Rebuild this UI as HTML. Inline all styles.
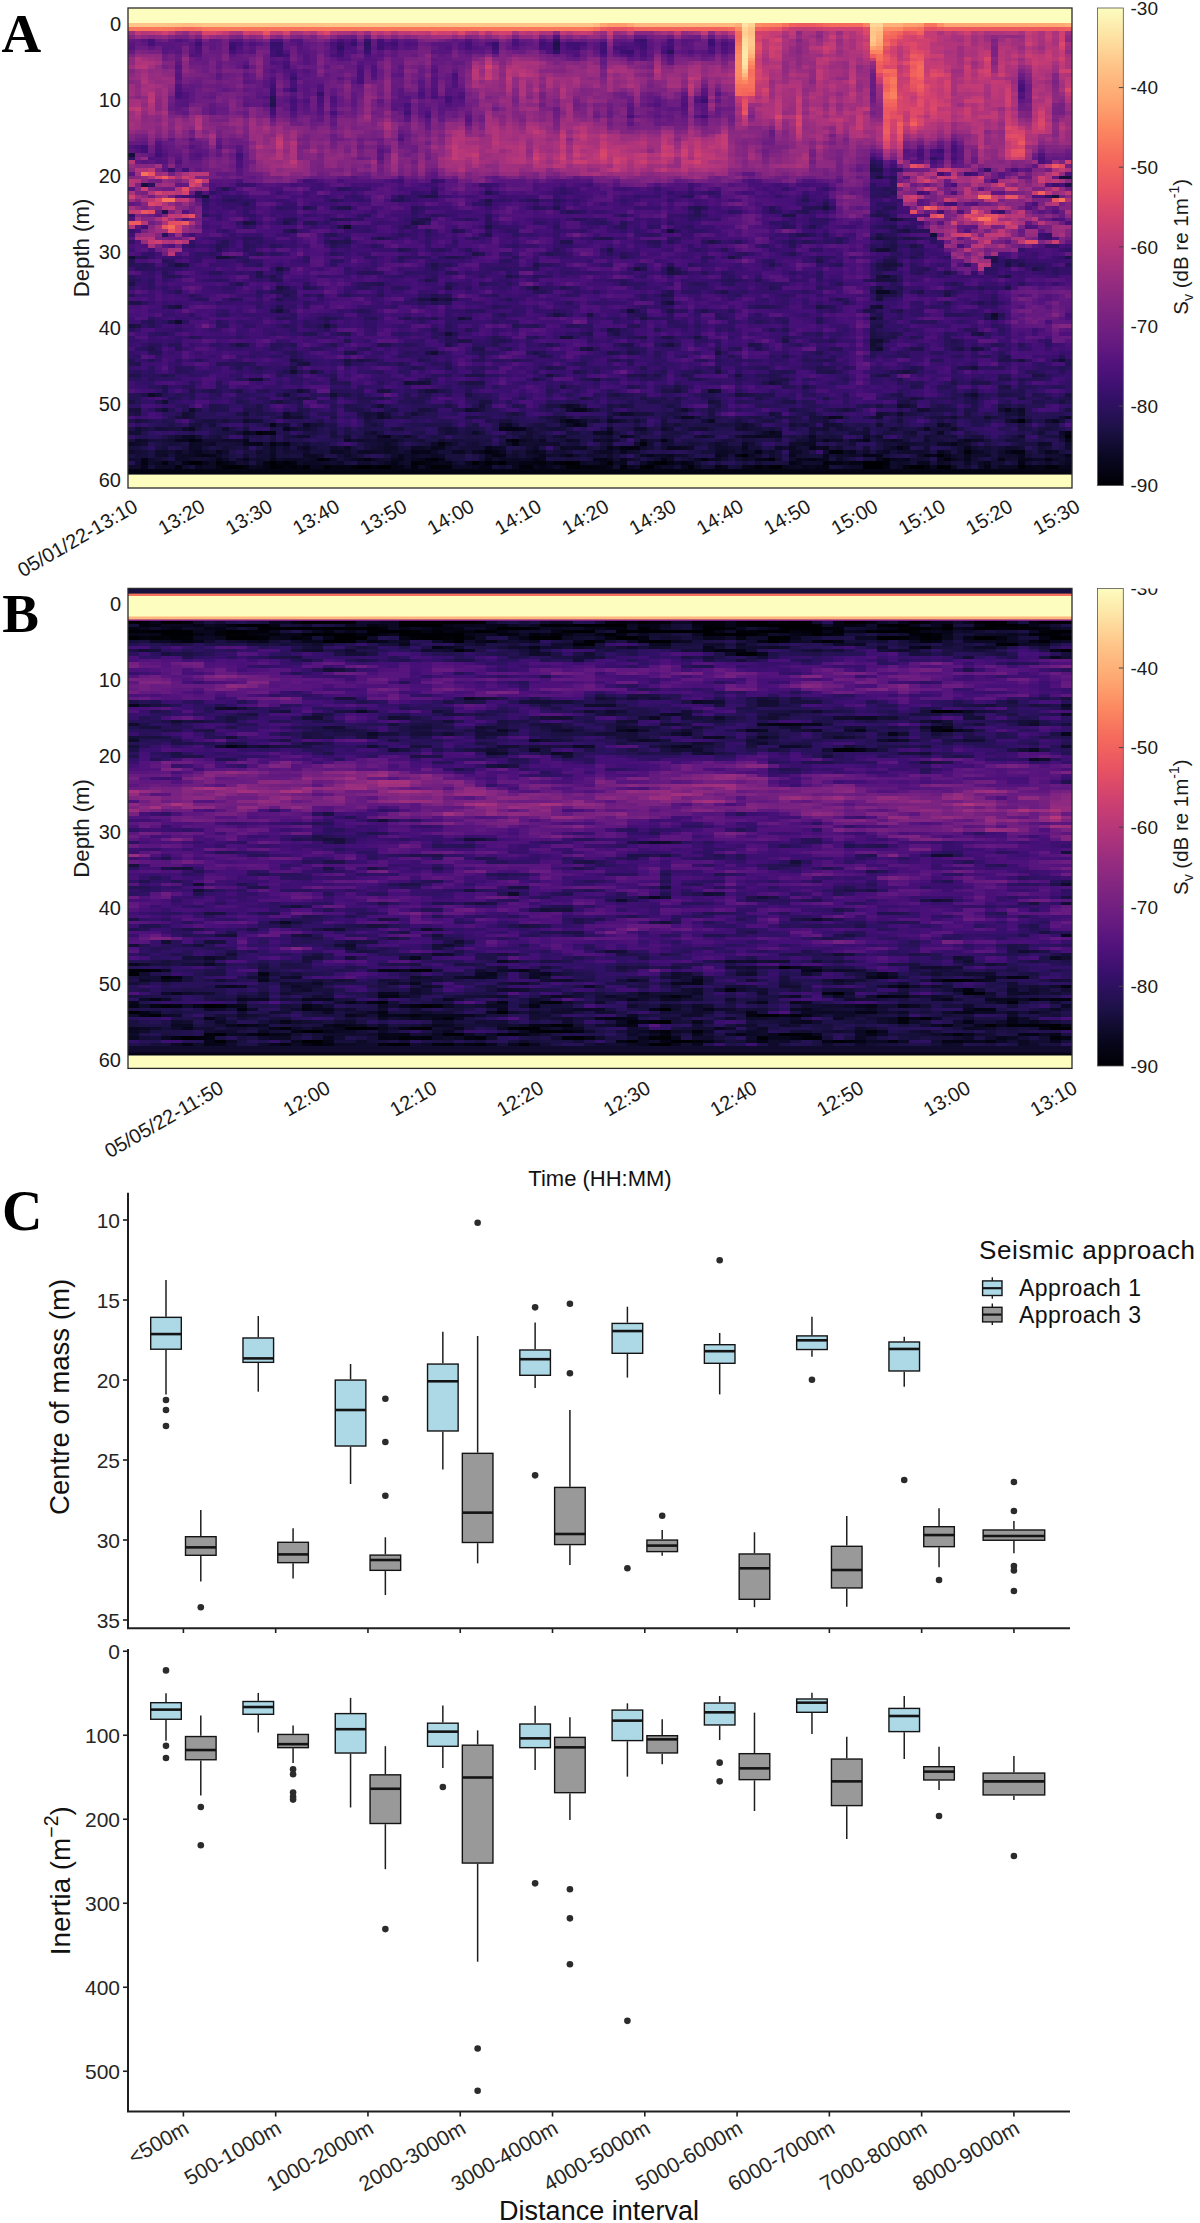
<!DOCTYPE html>
<html><head><meta charset="utf-8"><style>
html,body{margin:0;padding:0;background:#fff;width:1200px;height:2223px;overflow:hidden}
svg{display:block}
text{font-family:"Liberation Sans",sans-serif}
</style></head><body><svg width="1200" height="2223" viewBox="0 0 1200 2223"><g transform="translate(128.00 9.905) scale(6.7429 3.8095)" fill="none" stroke-width="1.02" shape-rendering="crispEdges"><path stroke="#000004" d="M139 112h1M91 117h1M45 118h1M9 119h2M21 119h1M55 119h1M65 119h1M79 119h1M109 119h3M21 120h1M34 120h2M37 120h2M77 120h1M109 120h3M117 120h1M120 120h1"/><path stroke="#010005" d="M15 120h1M26 120h1M96 120h1M116 120h1"/><path stroke="#010106" d="M71 119h1M78 119h1M29 120h1M45 120h1M66 120h1M95 120h1"/><path stroke="#010108" d="M120 117h1M95 118h1M51 119h1M53 119h1M66 119h1M14 120h1M16 120h1M65 120h1M121 120h1M132 120h1"/><path stroke="#020109" d="M57 113h1M28 118h1M23 119h1M42 119h1M64 119h1M22 120h1M24 120h1M59 120h1M76 120h1M93 120h1"/><path stroke="#02020b" d="M19 111h1M105 116h1M112 118h1M43 119h1M103 119h1M33 120h1M46 120h2M68 120h1M83 120h1M136 120h2"/><path stroke="#02020d" d="M132 108h1M104 116h1M124 116h1M44 118h1M121 118h1M13 119h1M112 119h1M36 120h1M58 120h1M73 120h1"/><path stroke="#03030f" d="M9 113h1M76 114h1M74 115h1M53 116h1M29 118h1M85 118h1M5 119h1M54 119h1M61 119h1M63 119h1M7 120h1M23 120h1M42 120h1M67 120h1M69 120h1M115 120h1M118 120h1"/><path stroke="#030312" d="M73 115h1M131 116h2M54 117h1M35 118h1M136 118h1M22 119h1M24 119h1M60 119h1M104 119h1M107 119h1M17 120h1M25 120h1M30 120h2M70 120h1M112 120h1M0 121h101M117 121h12"/><path stroke="#040414" d="M20 111h1M56 113h1M79 113h1M46 114h1M55 117h1M90 117h1M118 117h1M2 118h1M60 118h1M101 118h1M20 119h1M44 119h1M59 119h1M80 119h1M105 119h1M13 120h1M32 120h1M39 120h1M44 120h1M52 120h1M87 120h1M94 120h1M103 120h1M101 121h16M129 121h11"/><path stroke="#050416" d="M57 110h1M21 111h1M139 111h1M21 114h1M57 114h1M75 115h1M114 115h1M93 116h1M11 117h1M109 117h2M46 118h1M70 118h1M79 118h1M2 119h1M8 119h1M14 119h1M58 119h1M77 119h1M82 119h1M98 119h1M108 119h1M132 119h1M20 120h1M40 120h1M53 120h1M61 120h1M133 120h1"/><path stroke="#060518" d="M65 108h1M66 109h1M56 110h1M10 113h1M42 116h1M54 116h1M65 117h1M94 118h1M129 118h1M39 119h1M52 119h1M92 120h1M102 120h1M127 120h1M134 120h2"/><path stroke="#06051a" d="M21 109h1M55 110h1M109 113h1M139 113h1M19 114h1M23 114h1M122 114h1M53 115h1M71 115h1M101 115h1M43 116h2M12 117h1M77 117h1M111 117h1M119 117h1M139 117h1M13 118h1M40 118h1M69 118h1M93 118h1M99 118h1M132 118h1M11 119h1M45 119h1M47 119h1M62 119h1M70 119h1M2 120h1M71 120h1M100 120h1M139 120h1"/><path stroke="#07061c" d="M66 105h1M58 110h1M38 112h1M17 113h1M18 114h1M45 115h1M52 116h1M130 116h1M10 117h1M61 117h1M103 117h1M121 117h1M17 118h1M21 118h1M43 118h1M53 118h1M73 118h1M100 118h1M102 118h1M113 118h1M115 118h1M124 118h1M133 118h1M83 119h1M28 120h1M62 120h1M64 120h1M78 120h1M91 120h1M138 120h1"/><path stroke="#08071e" d="M67 105h1M130 105h1M104 107h1M17 111h1M71 111h1M95 111h1M73 112h1M93 112h1M103 113h1M124 113h1M17 114h1M46 115h1M103 115h1M13 116h1M120 116h1M124 117h1M34 118h1M42 118h1M61 118h1M122 118h1M46 119h1M57 119h1M73 119h1M99 119h1M106 119h1M117 119h1M19 120h1M82 120h1M88 120h1M97 120h1"/><path stroke="#090720" d="M66 108h1M23 110h1M7 113h2M80 115h2M91 115h1M124 115h1M10 116h1M60 116h1M73 116h1M107 116h1M136 116h1M40 117h1M80 117h1M87 117h1M98 117h1M132 117h1M39 118h1M71 118h1M103 118h1M111 118h1M120 118h1M15 119h1M50 119h1M56 119h1M81 119h1M118 119h1M127 119h1M10 120h1M27 120h1M51 120h1M57 120h1M60 120h1M74 120h1M101 120h1M119 120h1"/><path stroke="#0a0822" d="M111 74h2M82 107h1M137 108h1M67 109h1M9 112h1M37 112h1M91 112h1M101 112h1M58 113h1M76 113h1M26 115h1M98 115h1M102 115h1M48 116h2M51 116h1M55 116h1M112 116h1M125 116h1M21 117h1M27 117h1M45 117h1M53 117h1M36 118h1M55 118h1M57 118h1M59 118h1M114 118h1M26 119h2M38 119h1M139 119h1M18 120h1M41 120h1M50 120h1M98 120h1M129 120h3"/><path stroke="#0b0924" d="M83 107h1M105 107h1M139 107h1M64 108h1M86 108h1M131 108h1M120 109h1M9 110h1M118 110h1M69 111h1M120 111h1M94 112h1M61 113h1M9 114h1M22 114h1M47 114h1M100 114h2M21 115h1M38 115h1M42 115h2M54 115h1M64 115h1M67 115h1M72 115h1M82 115h1M115 115h1M30 116h1M35 116h1M38 116h1M59 116h1M61 116h1M71 116h1M88 116h1M98 116h1M106 116h1M8 117h2M79 117h1M92 117h1M27 118h1M56 118h1M80 118h1M84 118h1M86 118h2M91 118h1M4 119h1M12 119h1M28 119h1M72 119h1M120 119h1M126 119h1M5 120h1M11 120h1M43 120h1M84 120h1M108 120h1M114 120h1M122 120h1"/><path stroke="#0c0926" d="M26 109h1M56 109h1M70 111h1M8 112h1M92 112h1M96 112h1M65 113h1M71 113h1M113 113h1M0 114h1M91 114h1M121 114h1M9 115h2M66 115h1M7 116h1M9 116h1M21 116h1M31 116h1M70 116h1M99 116h1M137 116h1M26 117h1M42 117h1M64 117h1M76 117h1M88 117h1M107 117h1M7 118h1M23 118h2M30 118h1M33 118h1M134 118h1M139 118h1M67 119h1M114 119h1M6 120h1M12 120h1M48 120h2M75 120h1M80 120h1M99 120h1"/><path stroke="#0d0a29" d="M3 101h1M65 104h1M132 105h1M73 106h1M71 108h1M65 109h1M71 110h1M18 111h1M96 111h1M138 111h1M74 112h1M95 112h1M1 113h1M32 113h1M39 113h1M69 113h1M101 113h1M108 113h1M125 113h1M10 114h1M12 114h1M38 114h1M45 114h1M120 114h1M135 114h1M32 115h1M39 115h1M55 115h1M60 115h1M65 115h1M96 115h1M113 115h1M34 116h1M36 116h1M45 116h1M87 116h1M91 116h1M126 116h1M5 117h1M7 117h1M13 117h1M32 117h1M46 117h1M60 117h1M78 117h1M127 117h1M8 118h1M14 118h1M25 118h1M58 118h1M105 118h1M135 118h1M137 118h1M6 119h1M31 119h1M40 119h1M69 119h1M76 119h1M124 119h1M4 120h1M63 120h1M79 120h1M107 120h1M126 120h1"/><path stroke="#0e0b2b" d="M128 80h1M7 82h1M86 100h1M9 105h1M132 106h1M37 107h1M91 109h1M8 110h1M79 110h1M122 110h1M51 111h1M94 111h1M64 112h1M109 112h1M34 113h1M59 113h1M66 113h1M104 113h1M126 113h1M56 114h1M99 114h1M115 114h1M123 114h1M136 114h1M139 114h1M44 115h1M87 115h2M130 115h2M4 116h2M39 116h1M92 116h1M95 116h1M115 116h1M117 116h1M121 116h1M39 117h1M41 117h1M44 117h1M62 117h1M105 117h1M117 117h1M126 117h1M130 117h2M138 117h1M3 118h1M12 118h1M19 118h1M22 118h1M26 118h1M54 118h1M92 118h1M98 118h1M3 119h1M19 119h1M25 119h1M41 119h1M48 119h1M68 119h1M113 119h1M138 119h1M106 120h1"/><path stroke="#100b2d" d="M32 57h1M114 104h1M50 105h1M65 105h1M23 106h1M37 106h1M74 106h1M114 106h1M23 107h1M72 108h1M55 109h1M76 110h1M41 112h1M85 112h1M138 112h1M2 113h1M14 113h1M16 113h1M70 113h1M105 113h1M123 113h1M1 114h1M11 114h1M63 114h1M75 114h1M87 114h1M98 114h1M25 115h1M30 115h1M76 115h1M83 115h1M0 116h1M11 116h1M14 116h1M26 116h1M32 116h1M37 116h1M69 116h1M89 116h1M109 116h1M111 116h1M116 116h1M129 116h1M4 117h1M28 117h1M43 117h1M59 117h1M66 117h1M71 117h1M81 117h1M106 117h1M108 117h1M122 117h1M125 117h1M16 118h1M41 118h1M74 118h1M123 118h1M29 119h1M102 119h1M115 119h1M121 119h1M136 119h1M0 120h2M8 120h1M113 120h1"/><path stroke="#110c2f" d="M45 76h1M110 81h1M111 87h1M111 89h1M125 101h1M66 104h1M82 105h1M17 108h1M67 108h1M136 108h1M121 109h1M14 110h1M24 110h1M75 110h1M91 110h1M36 111h1M25 112h2M111 112h1M132 112h1M15 113h1M37 113h2M107 113h1M112 113h1M114 113h1M118 113h1M58 114h1M60 114h3M23 115h1M37 115h1M97 115h1M125 115h1M139 115h1M19 116h1M41 116h1M74 116h1M103 116h1M114 116h1M123 116h1M57 117h1M68 117h1M82 117h1M95 117h1M129 117h1M0 118h1M9 118h1M32 118h1M37 118h1M78 118h1M130 118h1M1 119h1M17 119h1M30 119h1M34 119h2M37 119h1M100 119h2M55 120h1"/><path stroke="#120d31" d="M112 70h1M111 78h1M110 87h1M110 88h1M24 95h1M25 100h1M64 104h1M115 104h1M129 105h1M103 107h1M111 107h1M127 107h1M130 108h1M104 109h1M26 110h1M85 110h1M90 110h1M113 110h1M1 111h1M7 112h1M59 112h1M90 112h1M6 113h1M11 113h1M60 113h1M2 114h1M37 114h1M39 114h1M59 114h1M114 114h1M116 114h1M124 114h1M31 115h1M36 115h1M59 115h1M79 115h1M99 115h1M112 115h1M118 115h1M6 116h1M8 116h1M12 116h1M23 116h1M57 116h1M75 116h1M118 116h1M135 116h1M33 117h1M99 117h1M123 117h1M137 117h1M10 118h1M20 118h1M38 118h1M75 118h1M96 118h1M116 118h2M125 118h1M131 118h1M138 118h1M7 119h1M16 119h1M84 119h1M129 119h1"/><path stroke="#130d34" d="M80 58h1M112 63h1M74 79h1M47 85h1M45 90h1M138 92h1M18 97h2M41 98h1M87 100h1M5 103h1M37 104h1M51 105h1M68 105h1M117 105h2M111 106h1M25 107h1M38 107h1M64 107h1M122 107h1M103 109h1M111 109h1M1 110h1M103 110h1M59 111h1M71 112h1M12 113h2M33 113h1M35 113h1M46 113h1M72 113h1M80 113h1M102 113h1M48 114h1M71 114h1M77 114h1M92 114h1M70 115h1M89 115h1M105 115h1M123 115h1M127 115h1M64 116h1M94 116h1M127 116h1M17 117h1M20 117h1M56 117h1M63 117h1M69 117h1M93 117h1M136 117h1M1 118h1M11 118h1M18 118h1M52 118h1M88 118h1M90 118h1M93 119h1M133 119h1M72 120h1M86 120h1M124 120h1M128 120h1"/><path stroke="#140e36" d="M113 55h1M111 63h1M0 65h1M128 81h1M43 98h1M95 98h1M4 101h1M30 101h1M5 105h1M131 105h1M8 106h1M8 107h1M24 107h1M138 107h1M69 108h1M75 108h1M85 108h1M23 109h1M27 109h1M47 110h1M59 110h1M63 110h1M84 110h1M101 110h1M0 111h1M16 111h1M47 111h1M109 111h1M116 111h1M10 112h1M58 112h1M63 112h1M84 112h1M118 112h1M36 113h1M40 113h1M43 113h1M77 113h2M99 113h1M16 114h1M20 114h1M26 114h1M51 114h1M79 114h2M88 114h1M112 114h1M14 115h1M20 115h1M52 115h1M77 115h1M90 115h1M109 115h1M129 115h1M132 115h1M135 115h1M1 116h1M40 116h1M50 116h1M63 116h1M72 116h1M90 116h1M100 116h1M14 117h1M19 117h1M31 117h1M100 117h1M104 117h1M4 118h1M47 118h1M72 118h1M83 118h1M128 119h1M135 119h1M56 120h1M81 120h1M85 120h1M90 120h1"/><path stroke="#150e38" d="M0 38h1M11 49h1M119 59h1M80 77h1M110 78h1M49 81h1M29 83h1M45 100h1M23 101h1M52 104h1M17 106h1M35 106h1M42 106h1M72 106h1M35 107h1M18 108h1M73 108h1M133 108h1M81 109h1M90 109h1M92 109h1M98 109h1M105 109h1M4 110h1M62 110h1M64 110h1M80 110h1M83 110h1M92 110h1M102 110h1M105 110h1M109 110h1M35 111h1M135 111h1M32 112h1M61 112h1M70 112h1M86 112h1M122 112h1M3 113h1M5 113h1M48 113h1M64 113h1M100 113h1M111 113h1M130 113h1M138 113h1M24 114h1M36 114h1M66 114h1M83 114h1M86 114h1M107 114h1M117 114h2M17 115h1M27 115h1M40 115h1M47 115h1M49 115h3M92 115h2M100 115h1M2 116h1M20 116h1M24 116h2M47 116h1M85 116h1M1 117h1M52 117h1M70 117h1M133 117h1M106 118h1M118 118h1M128 118h1M36 119h1M49 119h1M116 119h1M125 119h1M137 119h1M54 120h1M105 120h1"/><path stroke="#160f3b" d="M138 44h2M137 49h1M111 60h1M13 65h2M80 68h1M113 74h1M47 76h1M111 76h1M22 79h1M64 86h1M110 89h1M125 94h1M42 98h1M44 100h1M124 101h1M86 103h1M95 106h1M112 106h1M130 106h2M71 107h1M81 107h1M84 107h1M132 107h1M19 108h1M138 108h1M12 109h1M22 109h1M28 109h1M57 109h1M64 109h1M100 109h1M5 110h1M25 110h1M48 110h1M93 110h1M95 110h1M48 111h1M65 111h1M93 111h1M101 111h1M107 111h2M13 112h1M17 112h1M24 112h1M40 112h1M104 112h1M110 112h1M49 113h1M88 113h1M96 113h1M131 113h1M6 114h1M15 114h1M35 114h1M50 114h1M65 114h1M113 114h1M0 115h1M5 115h1M11 115h1M22 115h1M86 115h1M126 115h1M28 116h1M33 116h1M46 116h1M58 116h1M86 116h1M96 116h1M108 116h1M113 116h1M2 117h1M6 117h1M58 117h1M67 117h1M96 117h1M101 117h1M112 117h1M31 118h1M77 118h1M131 119h1M3 120h1M9 120h1M89 120h1"/><path stroke="#180f3d" d="M2 46h1M7 67h1M112 67h2M75 68h1M111 70h1M60 73h1M7 78h1M126 85h1M65 86h1M80 88h1M68 89h1M125 89h1M87 90h1M24 92h1M26 93h1M27 95h1M115 95h1M62 96h1M90 96h1M44 98h1M81 100h1M90 101h1M116 102h1M1 105h1M43 105h1M106 105h1M36 106h1M38 106h1M75 106h2M62 107h2M101 107h2M120 107h2M1 108h1M14 108h1M56 108h1M63 108h1M103 108h1M114 108h1M10 109h1M36 109h1M61 109h1M79 109h1M88 109h1M27 110h1M40 110h1M46 110h1M61 110h1M106 110h1M117 110h1M121 110h1M136 110h1M30 111h1M52 111h1M60 111h1M66 111h1M72 111h1M76 111h1M115 111h1M6 112h1M35 112h1M39 112h1M55 112h1M79 112h1M100 112h1M119 112h1M125 112h2M4 113h1M42 113h1M51 113h1M89 113h1M91 113h1M115 113h1M120 113h1M127 113h1M7 114h1M13 114h2M70 114h1M84 114h1M8 115h1M15 115h1M35 115h1M41 115h1M68 115h1M104 115h1M122 115h1M27 116h1M65 116h1M68 116h1M133 116h1M22 117h2M34 117h1M49 117h1M72 117h1M89 117h1M102 117h1M5 118h1M48 118h1M65 118h1M82 118h1M91 119h1M97 119h1M119 119h1M122 119h1M104 120h1"/><path stroke="#19103f" d="M103 52h1M17 56h1M111 71h3M111 73h1M111 75h1M0 83h1M132 92h1M87 95h1M69 97h1M37 100h1M139 101h1M22 103h1M73 104h1M116 104h1M0 105h1M44 105h1M52 105h1M9 106h1M57 106h1M77 106h1M9 107h1M96 107h1M110 107h1M128 107h1M11 108h2M55 108h1M68 108h1M79 108h1M90 108h1M9 109h1M60 109h1M2 110h1M6 110h1M17 110h1M39 110h1M114 110h1M119 110h2M50 111h1M57 111h1M81 111h1M112 111h1M12 112h1M21 112h1M30 112h1M36 112h1M42 112h1M75 112h1M98 112h1M102 112h2M105 112h1M121 112h1M131 112h1M136 112h2M0 113h1M21 113h1M47 113h1M50 113h1M53 113h1M63 113h1M92 113h1M119 113h1M132 113h1M5 114h1M44 114h1M55 114h1M119 114h1M132 114h3M1 115h1M33 115h1M128 115h1M136 115h1M22 116h1M29 116h1M128 116h1M138 116h1M25 117h1M47 117h2M83 117h1M128 117h1M15 118h1M49 118h1M68 118h1M126 118h1M32 119h1M87 119h1M94 119h2M123 119h1M123 120h1"/><path stroke="#1a1042" d="M111 44h1M42 56h1M115 58h1M130 67h1M22 68h1M112 68h1M80 69h1M22 73h1M43 76h2M63 80h1M68 80h1M111 81h1M71 84h1M84 86h1M110 86h1M16 88h1M126 89h1M44 90h1M32 92h1M34 92h1M25 93h1M112 96h1M96 98h1M64 99h1M38 100h1M50 101h1M72 101h1M91 101h1M26 102h1M67 102h1M125 102h1M132 102h1M52 103h2M87 103h1M138 103h1M63 104h1M71 104h1M80 104h1M111 104h1M129 104h1M39 105h1M69 105h1M81 105h1M98 105h1M24 106h2M101 106h1M115 106h1M7 107h1M36 107h1M98 107h1M119 107h1M130 107h1M35 108h1M95 108h1M101 108h1M80 109h1M87 109h1M89 109h1M99 109h1M132 109h1M7 110h1M50 110h1M86 110h1M94 110h1M132 110h1M135 110h1M37 111h1M80 111h1M103 111h1M119 111h1M23 112h1M45 112h1M60 112h1M69 112h1M80 112h1M115 112h2M41 113h1M106 113h1M25 114h1M28 114h1M52 114h1M64 114h1M82 114h1M111 114h1M4 115h1M13 115h1M16 115h1M24 115h1M28 115h2M48 115h1M3 116h1M17 116h1M56 116h1M62 116h1M0 117h1M15 117h1M24 117h1M38 117h1M75 117h1M134 117h2M63 118h2M66 118h1M89 118h1M104 118h1M109 118h2M96 119h1M134 119h1"/><path stroke="#1c1044" d="M110 42h1M114 55h1M112 60h1M89 65h1M56 70h1M121 75h1M46 76h1M102 78h1M111 83h1M110 85h1M97 87h1M111 88h1M67 89h1M123 89h1M76 96h1M134 96h2M60 97h1M97 97h1M50 98h2M130 99h1M26 100h1M129 101h1M25 102h1M0 103h1M98 103h1M115 103h1M62 104h1M67 104h1M87 104h1M4 105h1M83 105h1M86 105h1M119 105h2M139 105h1M1 106h1M34 106h1M80 106h1M86 106h1M113 106h1M116 106h1M124 106h1M41 107h1M50 107h2M65 107h1M93 107h1M94 108h1M102 108h1M20 109h1M137 109h1M10 110h1M21 110h1M60 110h1M96 110h1M107 110h1M137 110h1M14 111h2M27 111h1M46 111h1M75 111h1M113 111h1M50 112h1M62 112h1M65 112h1M120 112h1M23 113h1M52 113h1M83 113h1M110 113h1M121 113h2M8 114h1M43 114h1M49 114h1M85 114h1M105 114h2M58 115h1M63 115h1M69 115h1M111 115h1M18 116h1M84 116h1M110 116h1M122 116h1M3 117h1M18 117h1M51 117h1M94 117h1M116 117h1M107 118h1M18 119h1M75 119h1"/><path stroke="#1d1147" d="M63 9h1M139 46h1M44 49h1M53 50h1M98 54h1M53 57h1M24 58h1M86 61h1M113 62h1M116 62h1M113 63h1M112 66h2M128 66h1M111 67h1M113 70h1M44 71h1M47 73h1M79 75h1M0 77h1M80 79h1M1 83h1M125 85h1M71 90h1M74 90h1M24 94h1M114 95h1M50 96h3M125 98h1M81 99h1M129 99h1M16 100h1M43 100h1M79 100h1M2 101h1M32 101h1M114 101h1M76 102h1M93 102h1M21 103h1M77 103h2M36 104h1M47 104h1M74 104h1M120 104h1M132 104h1M33 105h1M105 105h1M56 106h1M71 106h1M81 106h1M22 107h1M30 107h1M40 107h1M61 107h1M86 107h1M114 107h1M124 107h1M2 108h1M10 108h1M135 108h1M37 109h1M51 109h1M75 109h1M82 109h1M84 109h1M86 109h1M101 109h1M136 109h1M3 110h1M13 110h1M15 110h1M51 110h1M65 110h1M74 110h1M77 110h1M82 110h1M116 110h1M123 110h1M23 111h1M32 111h1M58 111h1M61 111h1M79 111h1M82 111h1M31 112h1M51 112h1M53 112h1M66 112h2M99 112h1M124 112h1M45 113h1M62 113h1M75 113h1M82 113h1M93 113h1M4 114h1M34 114h1M40 114h1M53 114h1M81 114h1M89 114h1M93 114h1M127 114h1M131 114h1M19 115h1M61 115h1M95 115h1M138 115h1M67 116h1M119 116h1M81 118h1M33 119h1M90 119h1"/><path stroke="#1e1149" d="M5 53h1M97 54h1M44 55h1M18 56h1M114 58h1M111 59h1M37 60h1M115 60h1M71 63h1M139 65h1M8 67h1M114 67h1M130 70h1M0 72h1M130 73h1M112 75h2M79 77h1M6 78h1M109 79h2M50 81h1M76 81h1M6 82h1M110 84h1M72 85h1M80 86h1M111 86h1M49 87h1M47 88h1M92 88h1M32 90h2M60 90h1M32 93h1M62 94h1M66 95h1M104 95h1M78 96h1M111 96h1M130 97h1M52 98h1M100 99h1M92 101h1M130 101h1M37 102h1M81 102h1M117 102h1M97 103h1M114 103h1M125 103h1M19 104h1M130 104h1M10 105h1M25 105h1M34 105h1M45 105h1M71 105h1M107 105h1M121 105h2M124 105h1M16 106h1M19 106h1M43 106h1M96 106h1M26 107h1M79 107h1M90 107h1M92 107h1M97 107h1M13 108h1M53 108h1M62 108h1M74 108h1M76 108h1M82 108h1M120 108h1M127 108h1M30 109h1M35 109h1M44 109h1M47 109h1M85 109h1M108 109h1M0 110h1M30 110h1M32 110h1M35 110h1M98 110h1M115 110h1M133 110h1M13 111h1M26 111h1M43 111h1M49 111h1M68 111h1M104 111h1M121 111h1M134 111h1M19 112h1M34 112h1M52 112h1M57 112h1M44 113h1M55 113h1M67 113h1M95 113h1M27 114h1M29 114h1M90 114h1M12 115h1M78 115h1M76 116h1M134 116h1M139 116h1M113 117h1M6 118h1M62 118h1M67 118h1M76 118h1M127 118h1M85 119h1M92 119h1M130 119h1M125 120h1"/><path stroke="#20114b" d="M111 42h1M32 52h1M111 54h1M23 56h1M43 56h1M31 57h1M113 60h1M116 60h1M110 63h1M51 64h1M128 65h1M102 66h1M45 67h1M60 67h1M132 67h1M113 68h1M134 68h1M81 69h1M121 69h1M88 74h1M117 74h1M121 74h1M80 75h1M1 77h1M72 84h1M76 86h1M79 86h1M113 86h1M50 87h1M112 87h1M37 88h1M74 88h1M79 88h1M3 89h1M52 89h1M116 89h2M35 92h1M129 92h1M137 92h1M124 94h1M103 95h1M116 95h1M0 96h1M5 96h1M74 96h2M44 97h1M96 97h1M94 98h1M122 98h1M126 98h2M5 99h1M9 100h1M12 100h1M46 100h1M80 100h1M125 100h1M71 101h1M131 101h1M134 101h1M79 102h1M103 102h1M136 102h1M139 102h1M134 103h1M12 104h1M32 104h1M72 104h1M125 104h1M12 105h1M17 105h1M19 105h1M49 105h1M125 105h1M0 106h1M41 106h1M129 106h1M17 107h1M39 107h1M52 107h1M67 107h2M87 107h1M99 107h1M118 107h1M123 107h1M129 107h1M15 108h2M28 108h1M70 108h1M98 108h1M125 108h1M6 109h1M25 109h1M29 109h1M45 109h2M59 109h1M71 109h1M93 109h1M114 109h1M122 109h1M78 110h1M104 110h1M112 110h1M56 111h1M77 111h1M92 111h1M124 111h1M5 112h1M18 112h1M46 112h1M49 112h1M81 112h1M97 112h1M135 112h1M25 113h1M84 113h1M87 113h1M90 113h1M94 113h1M98 113h1M67 114h1M125 114h1M57 115h1M106 115h2M134 115h1M15 116h1M83 116h1M101 116h1M16 117h1M29 117h2M114 117h1M51 118h1"/><path stroke="#21114e" d="M21 25h1M45 49h1M31 52h1M63 52h1M84 52h1M43 55h1M113 57h1M53 59h1M100 59h1M70 60h1M110 60h1M30 61h1M15 65h1M48 65h1M130 66h1M95 67h1M76 68h1M111 68h1M19 69h1M19 70h1M21 70h1M23 73h1M26 73h1M114 73h1M22 74h1M23 75h1M45 75h1M75 79h1M85 79h1M114 79h1M111 80h1M29 81h1M41 81h1M45 81h1M32 85h1M68 85h1M111 85h1M113 85h1M112 86h1M122 87h1M17 88h1M38 88h1M102 90h1M97 91h1M25 92h1M72 92h1M1 93h1M47 94h1M102 94h1M84 95h1M97 95h1M82 96h1M30 97h1M95 97h1M114 97h1M129 97h1M24 100h1M132 100h1M31 101h1M34 101h1M113 101h1M126 101h1M24 102h1M34 102h1M43 102h1M114 102h2M138 102h1M4 103h1M16 103h1M23 103h1M124 103h1M51 104h1M57 104h1M79 104h1M18 105h1M26 105h1M100 105h1M116 105h1M58 106h1M79 106h1M100 106h1M117 106h1M119 106h1M106 107h1M109 107h1M125 107h2M0 108h1M5 108h1M36 108h1M54 108h1M57 108h1M83 108h1M91 108h1M93 108h1M113 108h1M11 109h1M62 109h1M83 109h1M106 109h1M119 109h1M12 110h1M28 110h1M34 110h1M37 110h1M49 110h1M52 110h1M54 110h1M73 110h1M87 110h3M111 110h1M2 111h1M28 111h1M33 111h1M42 111h1M132 111h1M14 112h1M27 112h1M44 112h1M48 112h1M72 112h1M89 112h1M117 112h1M19 113h1M30 113h1M117 113h1M129 113h1M135 113h1M42 114h1M103 114h1M2 115h1M7 115h1M94 115h1M117 115h1M73 117h1M85 117h1M97 117h1M50 118h1M119 118h1"/><path stroke="#221150" d="M63 10h1M110 41h1M53 48h1M26 52h1M112 54h1M101 57h1M48 58h1M99 59h1M71 60h1M32 61h1M64 61h2M113 61h1M112 62h1M40 63h1M47 65h1M116 65h1M110 71h1M16 72h1M37 72h1M80 74h1M110 74h1M22 76h1M105 76h1M45 77h1M126 77h1M22 78h1M21 79h1M64 80h1M127 81h1M110 83h1M48 85h1M55 87h1M62 88h1M73 88h1M93 88h1M51 89h1M93 89h1M122 89h1M72 90h1M75 90h1M61 91h1M130 91h1M43 92h1M103 92h1M130 92h1M40 93h1M42 94h1M87 94h1M116 94h1M123 94h1M23 95h1M102 95h1M113 95h1M1 96h1M95 96h1M68 97h1M84 97h1M132 97h1M74 99h1M116 99h1M5 100h1M22 101h1M44 101h1M73 101h1M85 101h1M93 101h3M132 101h1M135 101h1M6 102h1M30 102h1M35 102h2M68 102h1M86 102h1M122 102h1M124 102h1M25 103h1M42 103h2M74 103h1M81 103h1M135 103h1M13 104h1M33 104h1M38 104h1M81 104h1M109 104h1M121 104h1M13 105h2M32 105h1M38 105h1M48 105h1M62 105h1M99 105h1M104 105h1M20 106h2M34 107h1M56 107h1M69 107h1M75 107h1M80 107h1M91 107h1M131 107h1M133 107h1M137 107h1M89 108h1M99 108h1M122 108h1M126 108h1M134 108h1M42 109h2M109 109h1M118 109h1M125 109h2M22 110h1M36 110h1M70 110h1M138 110h1M12 111h1M22 111h1M67 111h1M73 111h1M91 111h1M105 111h2M111 111h1M114 111h1M11 112h1M54 112h1M68 112h1M130 112h1M24 113h1M68 113h1M73 113h1M85 113h1M138 114h1M34 115h1M56 115h1M84 115h1M121 115h1M66 116h1M79 116h1M84 117h1M86 117h1"/><path stroke="#241253" d="M21 24h1M112 47h1M113 48h1M43 49h1M15 50h1M60 50h1M100 50h1M53 51h1M103 51h1M101 52h2M112 52h1M84 54h1M110 54h1M112 57h1M69 60h1M31 61h1M19 64h1M52 64h1M98 64h1M2 65h1M73 65h1M45 68h1M118 68h1M6 70h1M93 71h1M122 72h1M7 74h1M114 74h1M47 75h1M47 77h1M106 77h1M103 78h1M55 80h1M127 80h1M129 80h1M36 81h1M110 82h1M28 83h1M30 83h1M60 83h1M75 83h1M50 84h1M95 84h1M114 85h1M9 86h1M54 86h1M97 86h1M32 87h1M54 87h1M30 88h1M54 88h1M87 89h1M90 89h1M104 89h1M4 90h1M24 90h1M52 90h1M110 91h1M115 91h1M0 92h1M33 92h1M57 92h1M100 92h1M104 92h1M131 92h1M17 93h1M19 94h1M43 94h1M64 94h1M103 94h1M25 95h1M79 95h1M6 96h1M83 96h1M129 96h1M83 97h1M133 97h1M32 98h1M49 98h1M117 98h1M82 99h1M11 100h1M47 100h1M82 100h1M129 100h1M7 101h1M41 102h1M51 102h2M73 102h1M17 103h1M35 103h1M79 103h2M116 103h1M130 103h1M137 103h1M139 103h1M25 104h1M53 104h1M93 104h1M101 104h1M119 104h1M134 104h2M35 105h1M53 105h1M64 105h1M85 105h1M133 105h1M18 106h1M28 106h1M30 106h1M44 106h1M63 106h2M82 106h1M120 106h1M127 106h1M133 106h1M6 107h1M21 107h1M45 107h1M53 107h1M57 107h1M95 107h1M6 108h1M47 108h1M61 108h1M87 108h1M96 108h1M111 108h1M17 109h1M50 109h1M54 109h1M68 109h1M107 109h1M130 109h1M72 110h1M99 110h1M108 110h1M129 110h1M134 110h1M9 111h1M29 111h1M87 111h1M100 111h1M102 111h1M118 111h1M125 111h1M56 112h1M76 112h2M114 112h1M20 113h1M116 113h1M137 113h1M3 114h1M96 114h1M128 114h1M6 115h1M108 115h1M116 115h1M137 115h1M78 116h1M35 117h1M50 117h1M0 119h1M88 119h1"/><path stroke="#251255" d="M113 44h1M14 47h1M40 49h1M40 50h1M17 51h1M113 52h1M65 53h1M100 53h1M111 53h1M24 55h1M30 55h2M112 55h1M27 56h1M30 59h1M80 61h1M87 61h1M98 61h1M100 61h1M13 62h1M13 63h1M62 64h1M40 65h1M113 65h1M6 67h1M57 70h1M21 71h1M36 72h1M47 72h1M59 73h1M64 73h1M95 73h1M126 73h1M21 74h1M61 74h1M28 75h1M15 76h1M48 76h1M56 76h1M121 77h1M128 77h1M94 78h1M34 79h1M76 80h1M30 81h1M3 82h1M102 82h1M111 82h1M57 83h1M45 84h1M97 84h1M26 85h2M31 85h1M47 86h1M60 86h1M75 86h1M116 86h1M47 87h1M104 87h1M24 88h1M122 88h1M128 88h1M56 89h1M74 89h1M61 90h1M62 91h1M89 91h1M129 91h1M138 91h1M3 92h1M10 92h1M36 92h1M74 92h1M85 92h1M102 92h1M0 93h1M16 93h1M47 93h1M139 93h1M16 94h1M63 94h1M76 94h1M94 94h1M117 94h1M138 94h1M28 95h1M67 95h1M95 95h2M98 95h1M134 95h1M93 96h2M96 96h1M67 97h1M106 97h1M134 97h1M30 98h1M97 98h1M75 99h1M97 99h1M117 99h1M121 99h1M132 99h2M13 100h1M20 100h1M30 100h1M50 100h1M62 100h1M130 100h1M1 101h1M5 101h1M9 101h1M24 101h1M41 101h1M43 101h1M65 101h1M74 101h1M86 101h1M122 101h2M0 102h1M42 102h1M58 102h1M77 102h2M97 102h1M34 103h1M40 103h2M65 103h1M90 103h1M100 103h1M14 104h1M17 104h1M34 104h1M45 104h2M58 104h1M86 104h1M108 104h1M131 104h1M6 105h1M8 105h1M42 105h1M70 105h1M79 105h1M87 105h1M103 105h1M26 106h1M29 106h1M45 106h1M78 106h1M99 106h1M122 106h1M137 106h2M10 107h1M42 107h1M76 107h1M85 107h1M88 107h1M94 107h1M136 107h1M3 108h1M20 108h1M37 108h1M46 108h1M84 108h1M119 108h1M5 109h1M13 109h1M41 109h1M63 109h1M112 109h1M11 110h1M38 110h1M41 110h2M110 110h1M34 111h1M62 111h1M83 111h1M86 111h1M88 111h1M136 111h1M1 112h2M78 112h1M123 112h1M129 112h1M18 113h1M29 113h1M86 113h1M128 113h1M134 113h1M78 114h1M102 114h1M85 115h1M110 115h1M120 115h1M77 116h1M80 116h1M37 117h1M115 117h1M97 118h1M74 119h1"/><path stroke="#271258" d="M21 23h1M83 49h1M30 50h1M39 50h1M83 52h1M85 52h1M95 52h1M73 54h1M23 55h1M26 56h1M73 57h1M23 58h1M44 58h1M113 58h1M117 58h1M17 60h1M36 60h1M105 60h1M114 60h1M14 61h1M90 61h1M105 61h1M112 61h1M21 62h1M30 62h1M117 62h1M41 63h1M1 65h1M49 65h1M102 65h1M17 66h1M0 67h1M2 67h1M105 67h1M135 68h1M5 69h1M47 69h1M85 69h1M111 69h1M117 69h1M60 70h1M129 70h1M22 71h1M45 71h1M88 71h1M109 71h1M114 71h1M35 72h1M52 72h1M113 72h1M110 73h1M23 74h1M60 74h1M116 74h1M9 75h1M32 75h1M37 75h1M114 75h1M10 76h1M43 77h1M46 77h1M93 78h1M104 78h1M113 79h1M87 80h1M110 80h1M123 80h1M93 82h1M3 83h1M23 83h1M47 83h1M59 83h1M66 83h1M78 84h1M71 85h1M102 85h1M112 85h1M45 86h1M81 88h1M99 88h1M7 89h1M35 89h1M75 89h1M3 90h1M46 90h1M59 90h1M78 90h1M127 91h1M44 92h1M52 92h1M87 92h1M119 92h1M66 93h2M104 94h1M69 95h1M83 95h1M4 96h1M22 96h1M47 96h1M63 96h1M77 96h1M110 96h1M16 97h2M71 97h1M85 97h1M90 97h1M125 97h1M135 97h1M13 98h1M114 98h1M116 98h1M50 99h1M79 99h1M98 99h1M120 99h1M134 99h1M137 99h2M15 100h1M23 100h1M71 100h1M122 100h1M131 100h1M17 101h1M29 101h1M101 101h1M127 101h1M1 102h1M27 102h1M38 102h1M50 102h1M71 102h2M74 102h1M87 102h1M94 102h1M120 102h2M126 102h1M135 102h1M1 103h1M24 103h1M62 103h1M66 103h1M91 103h1M96 103h1M101 103h1M136 103h1M18 104h1M30 104h1M43 104h1M48 104h1M61 104h1M94 104h1M110 104h1M112 104h2M61 105h1M75 105h1M114 105h1M7 106h1M12 106h1M125 106h1M136 106h1M19 107h1M44 107h1M70 107h1M74 107h1M135 107h1M25 108h1M88 108h1M100 108h1M104 108h1M129 108h1M4 109h1M7 109h1M19 109h1M58 109h1M110 109h1M115 109h1M133 109h1M29 110h1M43 110h1M67 110h1M81 110h1M130 110h1M39 111h1M53 111h1M90 111h1M117 111h1M131 111h1M133 111h1M137 111h1M20 112h1M83 112h1M108 112h1M22 113h1M26 113h1M28 113h1M31 113h1M30 114h1M97 114h1M104 114h1M16 116h1M82 116h1M108 118h1M86 119h1M89 119h1"/><path stroke="#29115a" d="M111 43h1M45 48h1M10 49h1M112 49h1M42 52h1M60 52h1M100 52h1M84 53h1M95 53h1M32 55h1M53 55h1M66 55h1M73 56h1M41 57h1M97 57h1M49 58h1M116 58h1M118 58h1M5 59h1M112 59h1M38 60h1M117 60h1M77 61h2M17 62h1M98 62h1M110 62h1M17 63h1M46 63h1M88 63h1M117 64h1M0 66h1M5 66h1M131 66h1M47 67h1M80 67h1M139 67h1M1 68h1M60 68h1M81 68h1M117 68h1M13 69h1M34 69h3M48 69h1M82 69h1M0 71h1M89 71h1M73 72h1M84 72h1M105 72h1M24 74h1M87 74h1M0 75h1M26 75h1M46 75h1M54 75h1M54 78h1M95 78h1M23 79h1M75 80h1M122 80h1M22 81h2M43 81h1M102 81h1M29 82h1M97 82h1M65 83h1M74 83h1M29 84h1M111 84h1M124 84h2M46 85h1M67 85h1M74 86h1M48 87h1M56 87h1M123 87h1M3 88h1M6 88h2M15 88h1M21 88h2M41 88h1M129 88h1M132 88h1M21 89h1M105 89h1M41 90h1M110 90h1M114 90h1M24 91h1M40 91h1M52 91h1M104 91h1M123 91h1M51 92h1M71 92h1M90 92h1M101 92h1M139 92h1M13 93h2M24 93h1M45 93h1M74 93h1M7 94h1M52 94h1M106 94h1M129 94h1M1 95h1M7 95h1M105 95h1M133 95h1M138 95h1M30 96h1M130 96h1M136 96h1M3 97h1M43 97h1M61 97h1M76 97h2M122 97h1M31 98h1M37 98h1M132 98h1M8 99h2M51 99h1M65 99h1M101 99h1M19 100h1M31 100h1M34 100h1M0 101h1M13 101h1M27 101h1M47 101h1M51 101h1M69 101h1M76 101h1M106 101h1M7 102h1M9 102h1M16 102h1M19 102h2M44 102h1M53 102h1M85 102h1M112 102h1M133 102h1M28 103h1M51 103h1M56 103h1M76 103h1M8 104h1M42 104h1M96 104h1M133 104h1M54 105h1M74 105h1M101 105h1M11 106h1M22 106h1M39 106h1M53 106h1M55 106h1M134 106h1M13 107h2M18 107h1M43 107h1M58 107h1M73 107h1M78 107h1M113 107h1M115 107h2M24 108h1M27 108h1M42 108h1M58 108h1M121 108h1M74 109h1M78 109h1M96 109h2M113 109h1M131 109h1M16 110h1M31 110h1M25 111h1M89 111h1M33 112h1M43 112h1M127 112h1M81 113h1M136 113h1M41 114h1M54 114h1M69 114h1M109 114h1M137 114h1M119 115h1"/><path stroke="#2a115c" d="M80 11h1M110 40h1M111 41h1M110 43h1M110 44h1M31 47h1M10 48h1M14 50h1M59 50h1M63 50h1M66 53h1M99 53h1M35 54h1M45 54h1M53 54h1M42 55h1M50 55h1M115 55h1M53 56h1M70 56h1M111 57h1M81 58h1M29 59h1M40 59h1M101 59h1M103 59h1M113 59h1M18 60h1M17 61h1M29 61h1M85 61h1M101 61h1M14 62h1M36 62h1M50 63h1M30 64h1M71 64h1M73 64h1M91 64h1M114 64h1M57 65h1M85 65h1M56 66h1M19 67h1M83 67h1M2 68h1M23 68h1M12 69h1M22 69h1M5 70h1M7 70h1M73 71h1M90 71h1M56 72h1M85 72h1M89 72h1M27 73h1M34 73h1M40 73h1M113 73h1M122 74h1M90 75h1M42 76h1M79 76h1M106 76h1M65 77h1M35 79h1M50 79h1M52 79h1M84 79h1M89 79h1M62 80h1M121 80h1M28 81h1M35 81h1M77 81h1M87 81h2M2 82h1M13 82h1M80 82h1M117 82h1M119 82h1M26 83h1M0 84h1M73 84h1M5 85h1M10 86h1M59 86h1M121 86h1M121 87h1M4 88h1M42 88h1M63 88h1M72 88h1M78 88h1M121 88h1M123 88h1M2 89h1M69 89h1M89 89h1M23 90h1M51 90h1M120 90h1M129 90h1M78 91h1M122 91h1M126 91h1M54 92h1M84 92h1M120 92h1M15 93h1M18 93h1M37 93h2M9 94h1M61 94h1M93 94h1M101 94h1M8 95h1M22 95h1M37 95h1M82 95h1M45 96h1M1 97h1M72 97h1M78 97h1M9 98h1M4 99h1M13 99h1M34 99h1M52 99h1M54 99h1M80 99h1M32 100h1M66 100h1M85 100h1M90 100h1M100 100h1M8 101h1M33 101h1M53 101h1M84 101h1M100 101h1M82 102h1M129 102h1M134 102h1M137 102h1M6 103h1M20 103h1M63 103h1M75 103h1M92 103h2M119 103h1M122 103h1M44 104h1M95 104h1M100 104h1M102 104h1M122 104h1M30 105h1M80 105h1M84 105h1M90 105h1M138 105h1M10 106h1M48 106h1M102 106h1M118 106h1M135 106h1M11 107h2M15 107h2M55 107h1M134 107h1M4 108h1M9 108h1M21 108h1M30 108h1M45 108h1M50 108h1M59 108h2M80 108h2M115 108h1M124 108h1M128 108h1M48 109h1M73 109h1M76 109h1M100 110h1M124 110h1M40 111h1M85 111h1M130 111h1M3 112h2M22 112h1M29 112h1M133 113h1M130 114h1M133 115h1M81 116h1M36 117h1"/><path stroke="#2c115f" d="M63 8h1M35 9h1M3 46h1M113 46h1M110 47h2M113 47h1M111 48h2M82 49h1M110 49h2M27 52h1M61 52h1M104 52h1M42 53h1M11 54h1M103 55h1M80 56h1M17 57h1M63 57h1M72 57h1M83 57h1M115 57h1M53 58h1M77 59h1M98 59h1M19 60h1M51 60h1M19 61h1M103 61h1M119 61h1M18 62h1M115 62h1M63 63h1M12 64h1M21 64h1M90 64h1M116 64h1M16 65h1M41 65h1M90 65h1M112 65h1M117 65h1M6 66h1M30 66h1M95 66h1M132 66h1M1 67h1M3 67h1M44 67h1M46 67h1M62 67h1M104 67h1M110 67h1M116 67h1M135 67h1M5 68h1M55 68h1M37 69h1M116 69h1M122 69h1M0 70h1M45 70h1M52 70h1M26 72h1M34 72h1M48 72h1M83 72h1M88 72h1M95 72h1M121 72h1M132 72h1M35 73h1M39 73h1M61 73h1M65 73h1M102 73h1M112 73h1M124 73h1M83 74h1M91 74h1M24 75h1M44 75h1M65 75h1M97 75h1M128 75h1M11 76h1M80 76h1M104 76h1M110 76h1M128 76h1M2 77h1M26 77h1M44 77h1M125 77h1M5 78h1M76 78h1M79 78h1M63 79h1M73 79h1M81 79h1M104 79h1M111 79h1M14 80h1M24 80h1M80 80h1M124 80h1M40 81h1M78 81h1M129 81h1M26 82h1M43 82h1M54 82h1M94 82h1M112 82h1M118 82h1M13 83h1M58 83h1M68 83h1M84 83h1M47 84h1M89 84h1M115 84h1M100 85h1M121 85h1M127 85h1M48 86h1M55 86h1M85 86h1M117 86h1M80 87h1M84 87h2M102 87h1M23 88h1M27 89h2M34 89h1M55 89h1M76 89h1M53 90h1M73 90h1M76 90h1M88 90h1M101 90h1M111 90h1M115 90h1M119 90h1M95 91h1M112 91h1M114 91h1M26 92h1M31 92h1M55 92h1M58 92h2M73 92h1M92 92h1M133 92h1M78 93h1M8 94h1M18 94h1M41 94h1M69 94h1M86 94h1M92 94h1M115 94h1M128 94h1M135 94h2M139 94h1M19 95h1M26 95h1M51 95h1M60 95h1M78 95h1M85 95h1M90 95h1M112 95h1M122 95h1M2 96h2M24 96h1M29 96h1M46 96h1M54 96h1M0 97h1M20 97h1M25 97h1M45 97h1M74 97h1M94 97h1M100 97h1M81 98h1M87 98h1M90 98h1M93 98h1M104 98h1M121 98h1M3 99h1M62 99h1M66 99h1M122 99h1M10 100h1M33 100h1M120 100h1M12 101h1M16 101h1M28 101h1M52 101h1M62 101h1M75 101h1M79 101h1M89 101h1M98 101h1M128 101h1M33 102h1M80 102h1M96 102h1M119 102h1M127 102h1M30 103h1M47 103h1M50 103h1M73 103h1M106 103h1M126 103h1M7 104h1M75 104h3M88 104h1M98 104h1M11 105h1M20 105h1M27 105h1M76 105h1M78 105h1M108 105h1M5 106h2M15 106h1M54 106h1M85 106h1M128 106h1M66 107h1M23 108h1M26 108h1M43 108h1M48 108h1M92 108h1M112 108h1M72 109h1M127 109h1M135 109h1M33 110h1M139 110h1M8 111h1M31 111h1M64 111h1M28 112h1M27 113h1M73 114h2M108 114h1M129 114h1"/><path stroke="#2d1161" d="M31 10h1M110 46h1M32 47h1M86 48h1M136 49h1M11 50h1M111 51h1M22 52h1M30 52h1M96 53h1M112 53h1M46 54h1M83 54h1M67 55h1M69 55h1M83 55h1M101 55h1M24 56h1M69 56h1M97 56h1M77 57h1M98 57h1M52 59h1M32 60h1M81 60h1M119 60h1M9 62h1M22 62h1M78 62h1M94 62h1M111 62h1M114 62h1M45 63h1M116 63h2M18 64h1M63 64h1M113 64h1M43 65h1M46 65h1M40 66h1M55 66h1M61 67h1M133 67h1M3 68h1M79 68h1M116 68h1M127 68h2M137 68h1M79 69h1M88 69h1M98 69h1M102 69h1M137 69h1M20 70h1M61 70h1M89 70h1M102 70h1M114 70h1M1 71h1M3 71h1M13 71h1M53 72h1M50 73h1M96 73h1M123 73h1M19 74h1M69 74h1M79 74h1M82 74h1M100 74h1M43 75h1M76 75h1M78 75h1M16 76h1M24 76h1M76 76h1M55 78h1M92 78h1M119 78h1M51 79h1M82 79h1M74 80h1M93 80h1M114 80h1M3 81h1M44 81h1M72 81h1M74 81h1M79 81h2M96 81h1M114 81h1M5 82h1M8 82h1M116 82h1M14 83h1M27 83h1M81 83h2M128 83h1M24 84h1M87 84h1M112 84h1M129 84h1M4 85h1M40 85h1M45 85h1M74 85h1M122 85h1M66 86h1M83 86h1M98 86h1M68 87h1M87 87h1M101 87h1M103 87h1M51 88h1M61 88h1M136 88h1M1 89h1M4 89h1M22 89h1M112 89h1M124 89h1M127 89h1M42 90h1M54 90h1M1 91h1M21 91h2M25 91h1M43 91h2M82 91h1M87 91h1M100 91h1M113 91h1M125 91h1M7 92h1M67 92h1M96 92h1M33 93h2M39 93h1M41 93h1M46 93h1M87 93h1M102 93h1M135 93h1M23 94h1M79 94h1M90 94h1M100 94h1M126 94h2M137 94h1M0 95h1M3 95h1M36 95h1M40 95h1M117 95h1M135 95h1M9 96h1M53 96h1M79 96h1M70 97h1M91 97h1M98 97h1M113 97h1M126 97h1M136 97h1M69 98h1M123 98h2M14 99h1M47 99h1M136 99h1M39 100h1M41 100h2M63 100h1M114 100h1M124 100h1M6 101h1M18 101h1M87 101h1M112 101h1M136 101h1M138 101h1M12 102h1M23 102h1M32 102h1M69 102h1M75 102h1M106 102h1M111 102h1M113 102h1M118 102h1M123 102h1M54 103h1M64 103h1M69 103h1M71 103h1M123 103h1M129 103h1M20 104h1M35 104h1M39 104h1M41 104h1M70 104h1M78 104h1M97 104h1M3 105h1M23 105h1M40 105h2M88 105h1M52 106h1M105 106h1M139 106h1M32 107h1M60 107h1M77 107h1M89 107h1M106 108h1M3 109h1M40 109h1M45 110h1M7 111h1M38 111h1M44 111h2M99 111h1M110 111h1M82 112h1M87 112h1M97 113h1M110 114h1M3 115h1M18 115h1"/><path stroke="#2f1163" d="M63 11h1M113 42h1M112 44h1M113 45h1M110 48h1M100 49h1M16 50h1M31 50h1M41 50h1M64 50h1M52 51h1M112 51h1M43 52h1M64 53h1M89 53h1M18 54h1M34 54h1M42 54h1M85 54h1M113 54h1M34 55h1M102 55h1M116 55h1M16 56h1M29 56h1M44 56h1M68 56h1M95 56h1M102 56h1M113 56h1M116 57h1M56 58h1M84 58h1M44 59h1M57 59h1M78 59h1M80 60h1M48 61h1M97 61h1M99 61h1M104 61h1M31 62h1M57 62h1M70 63h1M84 63h1M101 63h1M10 64h1M22 64h1M31 64h1M56 64h1M64 64h1M97 64h1M17 65h1M26 65h1M35 65h1M86 65h1M103 65h1M121 65h1M127 65h1M26 66h1M31 66h1M85 66h1M94 66h1M111 66h1M129 66h1M18 67h1M30 67h1M76 67h1M124 67h1M131 67h1M134 67h1M6 68h2M44 68h1M46 68h1M54 68h1M56 68h1M59 68h1M74 68h1M41 69h1M56 69h1M65 69h1M110 69h1M120 69h1M127 69h1M40 70h1M76 70h1M120 70h1M14 71h1M102 71h1M3 72h1M15 72h1M54 72h1M74 72h3M96 72h1M123 72h1M3 73h1M62 73h1M75 73h1M127 73h2M37 74h1M66 74h1M84 74h1M120 74h1M19 75h1M31 75h1M53 75h1M89 75h1M23 76h1M55 76h1M112 76h1M41 77h1M127 77h1M96 78h1M120 78h2M33 79h1M79 79h1M86 79h1M9 80h1M13 80h1M54 80h1M65 80h1M117 80h1M24 81h1M31 81h1M42 81h1M48 81h1M71 81h1M92 81h1M97 81h1M47 82h1M72 82h1M81 82h1M89 82h1M96 82h1M123 82h1M17 83h1M24 83h1M67 83h1M80 83h1M114 83h1M7 84h1M28 84h1M68 84h1M30 85h1M41 85h1M65 85h1M73 85h1M101 85h1M105 85h1M129 85h1M16 86h1M68 86h1M72 86h2M81 86h1M53 87h1M136 87h1M13 88h1M29 88h1M39 88h2M48 88h1M52 88h2M87 88h1M98 88h1M125 88h1M44 89h1M80 89h1M94 89h1M115 89h1M121 89h1M25 90h1M84 90h1M125 90h1M18 91h1M41 91h1M102 91h1M37 92h1M56 92h1M64 92h1M78 92h2M88 92h1M91 92h1M93 92h1M27 93h1M89 93h1M101 93h1M125 93h1M3 94h1M15 94h1M20 94h1M51 94h1M84 94h1M107 94h1M111 94h1M9 95h1M35 95h1M41 95h1M76 95h1M61 96h1M64 96h1M81 96h1M89 96h1M91 96h1M106 96h1M4 97h3M24 97h1M59 97h1M93 97h1M101 97h1M110 97h1M123 97h1M22 98h1M24 98h1M64 98h1M86 98h1M106 98h1M115 98h1M128 98h2M32 99h1M49 99h1M76 99h1M78 99h1M83 99h1M135 99h1M14 100h1M22 100h1M78 100h1M95 100h1M115 100h1M121 100h1M134 100h1M19 101h1M35 101h1M70 101h1M80 101h1M121 101h1M15 102h1M17 102h1M54 102h1M66 102h1M95 102h1M29 103h1M85 103h1M95 103h1M99 103h1M120 103h1M0 104h2M126 104h1M58 105h1M63 105h1M77 105h1M92 105h1M14 106h1M47 106h1M50 106h1M94 106h1M98 106h1M126 106h1M27 107h1M54 107h1M72 107h1M100 107h1M117 107h1M139 108h1M1 109h1M8 109h1M18 109h1M24 109h1M124 109h1M53 110h1M3 111h1M10 111h1M41 111h1M78 111h1M122 111h1M126 111h1M112 112h1M72 114h1M126 114h1M97 116h1M74 117h1"/><path stroke="#311165" d="M35 10h1M0 39h1M119 39h1M111 40h1M45 45h1M64 47h1M103 47h1M12 48h1M54 48h1M33 49h1M34 50h1M52 50h1M58 50h1M103 50h1M51 51h1M63 51h1M113 51h1M23 52h1M17 53h1M90 53h1M33 55h1M84 55h1M61 56h1M54 57h1M78 57h1M100 57h1M14 58h1M35 58h1M57 58h1M75 58h1M41 59h1M110 59h1M104 60h1M106 60h1M9 61h1M13 61h1M44 61h1M89 61h1M111 61h1M12 62h1M120 62h1M18 63h1M102 63h1M139 63h1M11 64h1M61 64h1M10 65h1M36 65h1M42 65h1M44 65h1M50 65h1M74 65h1M101 65h1M104 65h1M138 65h1M16 66h1M71 67h1M96 67h1M120 67h1M128 67h2M53 68h1M57 68h1M16 69h1M42 69h1M44 69h2M89 69h1M128 69h1M22 70h1M39 70h1M62 70h1M88 70h1M93 70h1M12 71h1M43 71h1M72 71h1M91 71h1M80 72h1M94 72h1M0 73h1M5 73h1M14 73h1M41 73h1M55 73h1M66 73h1M85 73h1M125 73h1M129 73h1M6 74h1M20 74h1M62 74h1M89 74h2M27 75h1M110 75h1M120 75h1M94 76h1M113 76h1M69 77h1M117 77h1M19 78h1M24 78h1M39 78h1M56 78h1M112 78h1M128 78h1M64 79h1M76 79h1M102 79h1M116 79h1M35 80h1M56 80h2M88 80h1M100 80h1M47 81h1M94 81h1M4 82h1M35 82h1M48 82h2M57 82h1M84 82h1M92 82h1M22 83h1M88 83h1M129 83h1M44 84h1M48 84h1M70 84h1M74 84h1M84 84h1M113 84h1M3 85h1M21 85h1M24 85h2M66 85h1M104 85h1M46 86h1M53 86h1M63 86h1M78 86h1M82 86h1M99 86h1M102 86h1M127 86h1M43 87h1M46 87h1M59 87h1M12 88h1M117 88h1M24 89h1M43 89h1M45 89h1M73 89h1M79 89h1M102 89h1M130 89h1M132 89h1M37 90h1M50 90h1M105 90h1M4 91h1M67 91h2M81 91h1M90 91h1M96 91h1M101 91h1M15 92h1M27 92h1M47 92h1M68 92h1M95 92h1M97 92h1M30 93h1M65 93h1M77 93h1M80 93h1M100 93h1M104 93h2M115 93h1M46 94h1M48 94h1M50 94h1M54 94h1M68 94h1M71 94h1M122 94h1M30 95h1M34 95h1M52 95h1M86 95h1M88 95h1M110 95h1M10 96h1M16 96h1M23 96h1M41 96h1M49 96h1M105 96h1M113 96h1M117 96h1M122 96h1M126 96h1M137 96h1M39 97h1M105 97h1M3 98h1M25 98h1M27 98h1M45 98h1M58 98h1M105 98h1M110 98h1M30 99h1M35 99h1M37 99h1M67 99h1M69 99h1M139 99h1M21 100h1M48 100h1M133 100h1M40 101h1M45 101h1M54 101h1M58 101h1M83 101h1M88 101h1M115 101h1M8 102h1M40 102h1M98 102h1M102 102h1M104 102h1M130 102h2M2 103h1M18 103h2M72 103h1M83 103h1M133 103h1M15 104h1M31 104h1M40 104h1M103 104h1M106 104h1M28 105h1M37 105h1M55 105h1M72 105h1M123 105h1M13 106h1M40 106h1M69 106h1M121 106h1M20 107h1M59 107h1M107 107h2M112 107h1M29 108h1M34 108h1M38 108h1M41 108h1M107 108h1M123 108h1M38 109h1M69 109h2M116 109h2M44 110h1M126 110h1M5 111h1M11 111h1M24 111h1M127 111h1M88 112h1M133 112h1M54 113h1M33 114h1M68 114h1"/><path stroke="#331067" d="M127 42h1M45 47h1M42 48h1M64 48h1M80 48h1M83 48h1M16 49h1M41 49h1M75 49h1M96 49h1M17 50h2M55 50h1M73 50h1M80 50h1M114 50h1M16 51h1M24 52h1M111 52h1M67 53h1M17 54h1M26 54h1M51 55h1M22 56h1M60 56h1M96 56h1M101 56h1M103 56h1M112 56h1M40 57h1M82 57h1M102 57h1M110 57h1M67 58h1M73 58h1M83 58h1M85 58h1M76 59h1M136 59h1M39 60h1M68 60h1M98 60h1M103 60h1M118 60h1M18 61h1M19 62h1M32 62h1M37 62h1M56 62h1M64 62h2M77 62h1M83 62h1M136 62h2M47 63h1M95 63h1M3 64h1M55 64h1M74 64h1M114 65h2M10 66h1M18 66h1M45 66h1M103 66h1M17 67h1M48 67h1M63 67h1M70 67h1M84 67h1M102 67h1M21 68h1M32 68h1M58 68h1M110 68h1M3 69h1M43 69h1M50 69h1M68 69h1M74 69h1M114 69h1M44 70h1M5 71h1M19 71h1M55 71h2M60 71h1M82 71h1M87 71h1M98 71h1M104 71h1M97 72h1M104 72h1M114 72h1M15 73h1M24 73h1M33 73h1M37 73h1M48 73h1M83 73h2M86 74h1M119 74h1M33 75h1M66 75h1M98 75h1M102 75h1M9 76h1M28 76h1M57 76h1M89 76h1M13 77h1M42 77h1M97 77h1M111 77h1M116 77h1M129 77h1M21 78h1M26 78h1M80 78h1M117 78h1M14 79h1M47 79h1M57 79h1M60 79h1M117 79h1M125 79h1M29 80h1M47 80h1M84 80h1M116 80h1M125 80h1M55 81h1M68 81h1M75 81h1M93 81h1M113 81h1M24 82h1M28 82h1M56 82h1M2 83h1M4 83h1M18 83h1M35 83h2M40 83h1M48 83h1M87 83h1M89 83h1M112 83h2M36 84h1M51 84h1M54 84h1M82 84h1M96 84h1M106 84h1M6 85h1M39 85h1M84 85h1M7 86h1M29 86h1M89 86h1M104 86h1M7 87h1M51 87h1M78 87h2M2 88h1M59 88h1M84 88h1M16 89h1M103 89h1M40 90h1M43 90h1M70 90h1M97 90h1M100 90h1M103 90h1M0 91h1M16 91h1M42 91h1M47 91h1M69 91h1M98 91h1M105 91h1M4 92h1M9 92h1M30 92h1M45 92h1M44 93h1M61 93h1M88 93h1M90 93h1M95 93h1M130 93h1M134 93h1M22 94h1M40 94h1M67 94h1M72 94h1M91 94h1M2 95h1M11 95h1M16 95h1M18 95h1M48 95h1M68 95h1M81 95h1M111 95h1M119 95h1M15 96h1M28 96h1M67 96h1M92 96h1M97 96h1M123 96h1M7 97h1M36 97h2M52 97h1M75 97h1M82 97h1M86 97h1M92 97h1M111 97h1M1 98h2M40 98h1M62 98h1M111 98h1M139 98h1M6 99h2M36 99h1M41 99h1M115 99h1M125 99h1M17 100h1M72 100h1M25 101h1M64 101h1M66 101h1M102 101h1M11 102h1M13 102h1M57 102h1M90 102h1M92 102h1M3 103h1M7 103h1M15 103h1M36 103h1M44 103h1M67 103h1M84 103h1M88 103h1M94 103h1M132 103h1M16 104h1M124 104h1M128 104h1M139 104h1M60 105h1M91 105h1M97 105h1M115 105h1M128 105h1M46 106h1M51 106h1M70 106h1M93 106h1M104 106h1M28 107h1M33 107h1M39 108h1M44 108h1M78 108h1M108 108h2M116 108h1M14 109h1M39 109h1M95 109h1M102 109h1M18 110h2M66 110h1M69 110h1M125 110h1M131 110h1M74 111h1M0 112h1M47 112h1M107 112h1M94 114h2"/><path stroke="#341069" d="M28 22h1M97 47h1M14 49h2M113 49h1M54 50h1M56 50h1M66 50h1M99 50h1M11 51h1M17 52h1M75 52h1M98 53h1M101 53h1M103 53h1M13 54h1M44 54h1M47 54h1M81 54h2M18 55h1M41 55h1M49 55h1M68 55h1M70 55h1M87 55h1M98 55h1M63 56h1M18 57h1M30 57h1M33 57h1M42 57h1M55 57h1M34 58h1M63 58h1M79 58h1M15 59h1M31 59h1M59 59h1M63 59h1M29 60h1M44 60h1M50 60h1M136 60h1M0 61h1M15 61h1M81 61h1M102 61h1M63 62h1M42 63h1M44 63h1M64 63h1M85 63h1M114 63h1M132 63h1M2 64h1M75 64h1M92 64h1M3 65h1M19 66h1M68 66h1M53 67h1M55 67h1M57 67h1M85 67h1M94 67h1M136 67h1M4 68h1M35 68h1M64 68h1M133 68h1M136 68h1M138 68h2M18 69h1M32 69h1M52 69h2M62 69h1M64 69h1M66 69h1M83 69h1M125 69h1M135 69h1M139 69h1M18 70h1M28 70h1M38 70h1M80 70h1M11 71h1M71 71h1M74 71h1M99 71h1M116 71h1M38 72h1M130 72h1M46 73h1M63 73h1M103 73h1M117 73h1M32 74h1M94 74h2M99 74h1M123 74h1M10 75h1M34 75h1M52 75h1M64 75h1M96 75h1M117 75h1M122 75h1M49 76h1M97 76h1M19 77h1M22 77h1M64 77h1M70 77h1M81 77h1M100 77h1M102 77h1M107 77h1M120 77h1M23 78h1M53 78h1M60 78h1M66 78h1M78 78h1M127 78h1M31 79h1M48 79h2M58 79h1M61 79h1M65 79h1M87 79h2M121 79h1M17 80h2M23 80h1M34 80h1M50 80h1M126 80h1M10 81h1M54 81h1M89 81h1M14 82h1M16 82h1M27 82h1M36 82h1M55 82h1M82 82h1M45 83h1M61 83h1M1 84h1M12 84h1M88 84h1M94 84h1M116 84h1M97 85h1M117 85h1M28 86h1M61 86h1M71 86h1M115 86h1M22 87h1M35 87h1M71 87h1M76 87h1M81 87h1M105 87h1M43 88h1M60 88h1M127 88h1M15 89h1M40 89h2M81 89h1M133 89h1M0 90h1M18 90h2M36 90h1M47 90h1M62 90h1M79 90h1M112 90h2M117 90h1M123 90h1M36 91h1M45 91h1M76 91h1M116 91h1M2 92h1M11 92h1M28 92h1M89 92h1M7 93h1M28 93h1M36 93h1M71 93h1M79 93h1M97 93h1M21 94h1M53 94h1M60 94h1M70 94h1M75 94h1M85 94h1M95 94h1M110 94h1M132 94h1M134 94h1M10 95h1M77 95h1M11 96h1M37 96h2M44 96h1M55 96h1M2 97h1M38 97h1M62 97h1M79 97h1M87 97h1M131 97h1M139 97h1M38 98h1M47 98h2M72 98h1M92 98h1M21 99h1M31 99h1M46 99h1M63 99h1M90 99h1M99 99h1M27 100h1M40 100h1M49 100h1M67 100h1M70 100h1M139 100h1M20 101h1M81 101h1M84 102h1M88 102h1M82 103h1M103 103h1M121 103h1M5 104h1M24 104h1M99 104h1M138 104h1M21 105h1M24 105h1M2 106h1M33 106h1M65 106h1M68 106h1M83 106h1M108 106h1M123 106h1M46 107h1M49 108h1M110 108h1M32 109h1M34 109h1M53 109h1M94 109h1M123 109h1M138 109h1M68 110h1M97 110h1M54 111h1M63 111h1M97 111h1M129 111h1M16 112h1M106 112h1M128 112h1"/><path stroke="#36106b" d="M35 8h1M76 8h1M21 9h2M33 9h1M54 9h1M24 18h1M21 22h1M17 46h1M53 46h1M33 47h2M78 47h1M43 48h1M42 49h1M46 49h1M76 49h1M78 49h1M33 50h1M61 50h1M101 50h1M110 50h1M23 51h1M100 51h1M102 51h1M15 52h1M53 52h1M59 52h1M62 52h1M110 52h1M43 53h1M83 53h1M129 53h1M0 54h1M72 54h1M75 55h1M86 55h1M28 56h1M71 56h1M117 56h1M57 57h1M71 57h1M75 57h1M0 58h1M25 58h1M42 58h1M64 58h1M19 59h1M39 59h1M42 59h1M75 59h1M96 59h1M102 59h1M13 60h1M73 60h1M95 60h1M21 61h1M63 61h1M75 61h2M88 61h1M106 61h1M10 62h1M24 62h1M48 62h1M59 62h2M71 62h1M93 62h1M32 63h1M39 63h1M20 64h1M34 64h1M50 64h1M99 64h1M64 65h2M70 65h1M75 65h1M107 65h1M36 66h1M47 66h1M57 66h1M100 66h2M134 66h1M36 67h1M54 67h1M90 67h1M8 68h1M52 68h1M6 69h1M14 69h1M17 69h1M21 69h1M57 69h1M77 69h1M86 69h1M112 69h2M130 69h1M138 69h1M55 70h1M58 70h1M64 70h1M119 70h1M121 70h1M123 70h1M137 70h1M2 71h1M50 71h1M54 71h1M92 71h1M100 71h1M1 72h1M93 72h1M127 72h1M28 73h1M56 73h1M58 73h1M90 73h1M94 73h1M116 73h1M122 73h1M5 74h1M14 74h1M43 74h1M67 74h1M93 74h1M98 74h1M118 74h1M126 74h1M35 75h1M59 75h1M118 75h1M36 76h1M77 76h2M127 76h1M5 77h1M50 77h2M56 77h1M68 77h1M78 77h1M93 77h1M113 77h1M35 78h1M58 78h1M77 78h1M13 79h1M105 79h1M108 79h1M112 79h1M5 80h2M30 80h2M36 80h1M58 80h1M69 80h1M19 81h1M32 81h1M37 81h1M46 81h1M69 81h2M73 81h1M84 81h1M95 81h1M126 81h1M68 82h1M76 82h1M90 82h1M113 82h1M128 82h1M7 83h1M51 83h1M76 83h1M97 83h1M105 83h2M120 83h1M23 84h1M27 84h1M43 84h1M79 84h1M28 85h1M36 85h1M42 85h1M8 86h1M40 86h1M96 86h1M100 86h2M105 86h1M1 87h1M4 87h1M23 87h1M41 87h2M57 87h1M69 87h1M107 87h1M109 87h1M113 87h1M115 87h1M5 88h1M55 88h1M94 88h1M97 88h1M100 88h1M8 89h1M14 89h1M17 89h1M20 89h1M23 89h1M29 89h1M50 89h1M78 89h1M92 89h1M107 89h1M129 89h1M22 90h1M69 90h1M95 90h2M106 90h1M116 90h1M121 90h1M17 91h1M60 91h1M71 91h1M88 91h1M103 91h1M109 91h1M1 92h1M63 92h1M75 92h2M112 92h1M6 93h1M21 93h1M29 93h1M35 93h1M68 93h1M92 93h2M120 93h1M124 93h1M12 94h1M32 94h1M81 94h1M12 95h1M20 95h1M64 95h1M93 95h1M137 95h1M7 96h1M32 96h1M36 96h1M48 96h1M60 96h1M98 96h1M127 96h1M138 96h1M13 97h1M15 97h1M26 97h1M88 97h1M119 97h1M127 97h1M28 98h1M60 98h1M63 98h1M65 98h1M71 98h1M79 98h1M88 98h1M100 98h1M103 98h1M118 98h1M2 99h1M22 99h1M40 99h1M55 99h1M73 99h1M103 99h2M131 99h1M4 100h1M51 100h1M56 100h1M91 100h1M101 100h1M116 100h1M123 100h1M26 101h1M36 101h1M42 101h1M49 101h1M97 101h1M111 101h1M120 101h1M5 102h1M14 102h1M39 102h1M59 102h1M62 102h1M70 102h1M100 102h1M33 103h1M55 103h1M68 103h1M50 104h1M56 104h1M69 104h1M105 104h1M7 105h1M36 105h1M46 105h1M111 105h1M126 105h1M27 106h1M32 106h1M67 106h1M87 106h1M5 107h1M31 107h1M49 107h1M97 108h1M105 108h1M2 109h1M52 109h1M77 109h1M20 110h1M4 111h1M6 111h1M84 111h1M98 111h1M123 111h1"/><path stroke="#38106c" d="M31 9h1M74 11h1M6 42h1M114 42h1M16 46h1M52 46h1M137 46h1M13 47h1M35 47h1M63 48h1M85 48h1M87 48h1M32 49h1M34 49h1M22 50h1M29 50h1M42 50h1M113 50h1M14 51h1M24 51h1M99 51h1M18 52h1M94 52h1M70 53h1M110 53h1M113 53h1M29 54h1M80 54h1M13 55h1M60 55h1M65 55h1M19 56h1M37 56h1M41 56h1M54 56h1M67 56h1M74 56h1M77 56h2M98 56h1M111 56h1M27 57h1M56 57h1M68 57h1M96 57h1M33 58h1M40 58h1M55 58h1M66 58h1M17 59h1M23 59h1M58 59h1M82 59h1M14 60h2M52 60h1M72 60h1M20 61h1M33 61h1M114 61h2M44 62h1M14 63h1M49 63h1M87 63h1M98 63h1M138 63h1M35 64h1M42 64h1M45 64h1M65 64h1M70 64h1M134 64h1M12 65h1M60 65h1M71 65h1M110 65h1M44 66h1M12 67h2M56 67h1M117 67h1M40 68h1M51 69h1M67 69h1M69 69h1M84 69h1M118 69h2M136 69h1M1 70h1M3 70h1M29 70h1M59 70h1M101 70h1M110 70h1M124 70h1M128 70h1M18 71h1M20 71h1M70 71h1M83 71h1M85 71h2M2 72h1M17 72h1M33 72h1M44 72h2M49 72h2M57 72h1M82 72h1M102 72h1M111 72h1M128 72h1M2 73h1M36 73h1M52 73h1M78 73h1M93 73h1M104 73h1M115 73h1M15 74h1M39 74h1M44 74h1M50 74h1M101 74h1M17 75h1M22 75h1M36 75h1M84 75h1M126 75h2M14 76h1M21 76h1M74 76h1M96 76h1M100 76h1M3 77h1M14 77h1M18 77h1M23 77h2M27 77h1M39 77h1M71 77h1M73 77h1M96 77h1M122 77h1M38 78h1M43 78h1M65 78h1M75 78h1M97 78h1M101 78h1M116 78h1M118 78h1M126 78h1M36 79h1M62 79h1M103 79h1M115 79h1M22 80h1M28 80h1M41 80h1M49 80h1M4 81h1M17 82h1M42 82h1M50 82h2M53 82h1M95 82h1M85 83h1M125 83h1M5 84h2M13 84h1M20 84h2M35 84h1M46 84h1M49 84h1M105 84h1M16 85h1M22 85h1M43 85h1M49 85h2M90 85h1M0 86h1M3 86h1M11 86h1M14 86h2M17 86h1M114 86h1M120 86h1M3 87h1M6 87h1M86 87h1M96 87h1M106 87h1M116 87h1M9 88h1M14 88h1M18 88h1M112 88h1M118 88h1M130 88h1M26 89h1M30 89h1M42 89h1M61 89h1M86 89h1M97 89h1M136 89h1M6 90h1M10 90h1M26 90h1M64 90h1M128 90h1M138 90h1M19 91h1M111 91h1M128 91h1M16 92h1M23 92h1M42 92h1M53 92h1M60 92h1M62 92h1M94 92h1M99 92h1M116 92h2M125 92h1M136 92h1M22 93h1M31 93h1M55 93h1M60 93h1M81 93h1M96 93h1M122 93h1M0 94h1M6 94h1M13 94h1M25 94h1M34 94h1M44 94h1M83 94h1M98 94h2M105 94h1M112 94h1M43 95h1M132 95h1M136 95h1M8 96h1M25 96h1M56 96h1M66 96h1M120 96h1M125 96h1M14 97h1M47 97h1M89 97h1M102 97h1M112 97h1M115 97h1M124 97h1M10 98h1M67 98h1M82 98h2M89 98h1M113 98h1M138 98h1M1 99h1M48 99h1M56 99h2M102 99h1M112 99h1M18 100h1M36 100h1M98 100h2M105 100h1M110 100h1M126 100h1M46 101h1M103 101h1M105 101h1M133 101h1M2 102h1M10 102h1M65 102h1M105 102h1M107 102h1M12 103h1M39 103h1M6 104h1M104 104h1M107 104h1M2 105h1M15 105h2M47 105h1M59 105h1M89 105h1M96 105h1M102 105h1M112 105h1M62 106h1M84 106h1M103 106h1M106 106h1M40 108h1M52 108h1M16 109h1M128 110h1M55 111h1M113 112h1M134 112h1M31 114h1"/><path stroke="#390f6e" d="M15 10h1M22 11h1M22 12h1M24 21h1M85 24h1M65 48h1M100 48h1M29 49h1M39 49h1M63 49h1M81 49h1M87 49h1M35 50h1M62 50h1M15 51h1M18 51h1M60 51h1M44 52h1M78 52h1M96 52h1M36 53h1M69 53h1M94 53h1M24 54h1M27 54h1M74 54h1M101 54h1M22 55h1M48 55h1M77 55h2M80 55h1M83 56h1M116 56h1M34 57h2M52 57h1M81 57h1M32 58h1M45 59h1M83 59h1M135 59h1M12 60h1M16 60h1M42 60h1M63 60h1M67 60h1M24 61h1M96 61h1M110 61h1M8 62h1M11 62h1M23 62h1M35 62h1M47 62h1M30 63h1M37 63h2M75 63h1M80 63h1M83 63h1M96 63h1M118 63h1M13 64h1M72 64h1M89 64h1M115 64h1M119 64h1M7 65h1M9 65h1M82 65h1M88 65h1M120 65h1M129 65h1M137 65h1M9 66h1M13 66h1M46 66h1M49 66h1M60 66h1M105 66h1M114 66h1M116 66h1M133 66h1M137 66h1M5 67h1M22 67h1M52 67h1M75 67h1M86 67h1M103 67h1M65 68h1M119 68h1M11 69h1M33 69h1M73 69h1M76 69h1M99 69h2M132 69h1M42 70h1M75 70h1M100 70h1M126 70h1M69 71h1M94 71h1M105 71h1M22 72h1M55 72h1M62 72h1M72 72h1M91 72h1M112 72h1M137 72h1M12 73h1M32 73h1M45 73h1M49 73h1M54 73h1M76 73h1M86 73h1M91 73h1M45 74h1M96 74h1M18 75h1M58 75h1M75 75h1M77 75h1M88 75h1M19 76h1M50 76h1M58 76h1M70 76h1M84 76h1M93 76h1M114 76h1M124 76h1M126 76h1M7 77h1M15 77h1M37 77h1M52 77h1M54 77h1M57 77h1M63 77h1M72 77h1M94 77h1M105 77h1M124 77h1M36 78h1M57 78h1M100 78h1M32 79h1M124 79h1M21 80h1M67 80h1M72 80h1M89 80h1M112 80h1M7 81h1M27 81h1M82 81h1M103 81h1M73 82h2M103 82h1M124 82h1M41 83h1M64 83h1M121 83h1M8 84h1M55 84h1M57 84h1M67 84h1M114 84h1M117 84h1M123 84h1M130 84h1M20 85h1M35 85h1M54 85h1M63 85h1M92 85h1M106 85h1M123 85h1M13 86h1M56 86h1M130 86h1M0 87h1M52 87h1M74 87h1M124 87h2M135 87h1M31 88h1M36 88h1M75 88h1M102 88h1M13 89h1M18 89h1M38 89h1M57 89h1M59 89h1M72 89h1M118 89h1M34 90h1M63 90h1M82 90h1M122 90h1M12 91h1M20 91h1M26 91h1M35 91h1M39 91h1M46 91h1M70 91h1M77 91h1M79 91h1M117 91h1M120 91h1M137 91h1M77 92h1M106 92h1M110 92h1M122 92h2M83 93h1M106 93h1M114 93h1M129 93h1M136 93h1M17 94h1M45 94h1M58 94h1M77 94h2M80 94h1M114 94h1M17 95h1M21 95h1M47 95h1M59 95h1M63 95h1M70 95h1M75 95h1M94 95h1M118 95h1M139 95h1M73 96h1M104 96h1M128 96h1M132 96h1M22 97h1M40 97h1M66 97h1M107 97h1M19 98h1M57 98h1M68 98h1M76 98h1M78 98h1M85 98h1M91 98h1M120 98h1M17 99h1M20 99h1M25 99h1M114 99h1M119 99h1M8 100h1M58 100h1M65 100h1M96 100h1M104 100h1M106 100h1M111 100h1M128 100h1M135 100h1M21 101h1M59 101h1M96 101h1M116 101h1M137 101h1M18 102h1M83 102h1M128 102h1M9 103h1M117 103h2M131 103h1M11 104h1M68 104h1M82 104h1M118 104h1M29 105h1M93 105h1M113 105h1M127 105h1M66 106h1M51 108h1M15 109h1M31 109h1M129 109h1M127 110h1M128 111h1M62 115h1"/><path stroke="#3b0f70" d="M86 9h1M21 10h1M35 11h1M21 21h1M120 37h1M110 39h1M113 43h1M124 43h1M46 45h1M18 46h1M15 47h1M22 48h1M17 49h1M55 49h1M77 49h1M13 50h1M23 50h1M32 50h1M65 50h1M75 50h1M111 50h1M13 51h1M66 51h1M70 51h1M73 51h1M110 51h1M11 52h1M14 52h1M33 52h1M45 52h1M64 52h1M76 52h2M50 53h1M12 54h1M21 54h1M23 54h1M48 54h1M29 55h1M63 55h1M82 55h1M85 55h1M104 55h1M21 56h1M36 56h1M81 56h2M85 57h2M106 57h2M114 57h1M13 58h1M36 58h1M45 58h1M65 58h1M71 58h2M76 58h1M82 58h1M86 58h1M101 58h1M103 58h1M110 58h1M112 58h1M18 59h1M22 59h1M32 59h1M60 59h1M97 59h1M114 59h1M31 60h1M40 60h1M48 60h1M65 60h1M83 60h1M85 60h1M57 61h1M68 61h1M91 61h1M120 61h1M15 62h1M20 62h1M26 62h1M55 62h1M58 62h1M66 62h1M85 62h1M95 62h1M97 62h1M12 63h1M16 63h1M36 63h1M72 63h1M97 63h1M115 63h1M9 64h1M17 64h1M23 64h1M32 64h1M85 64h1M120 64h1M5 65h2M11 65h1M83 65h1M100 65h1M111 65h1M132 65h1M14 66h1M25 66h1M39 66h1M48 66h1M78 66h1M117 66h1M136 66h1M14 67h1M119 67h1M0 68h1M28 68h1M43 68h1M66 68h1M89 68h2M94 68h2M130 68h1M2 69h1M15 69h1M78 69h1M97 69h1M134 69h1M2 70h1M8 70h1M12 70h2M31 70h1M37 70h1M41 70h1M51 70h1M90 70h1M98 70h1M125 70h1M136 70h1M6 71h1M24 71h2M39 71h1M59 71h1M84 71h1M103 71h1M86 72h1M90 72h1M7 73h1M13 73h1M77 73h1M82 73h1M40 74h1M47 74h1M55 74h1M59 74h1M68 74h1M92 74h1M128 74h1M2 75h1M38 75h1M56 75h1M83 75h1M119 75h1M41 76h1M54 76h1M62 76h1M16 77h1M21 77h1M28 77h1M112 77h1M34 78h1M37 78h1M47 78h1M64 78h1M105 78h1M16 79h1M53 79h2M96 79h1M126 79h1M19 80h2M37 80h1M71 80h1M92 80h1M99 80h1M102 80h1M113 80h1M115 80h1M8 81h1M26 81h1M34 81h1M109 81h1M112 81h1M18 82h1M25 82h1M30 82h1M32 82h1M34 82h1M44 82h1M52 82h1M122 82h1M21 83h1M31 83h2M34 83h1M39 83h1M78 83h1M83 83h1M104 83h1M115 83h1M4 84h1M16 84h2M40 84h1M85 84h1M109 84h1M134 84h1M23 85h1M64 85h1M83 85h1M87 85h1M89 85h1M96 85h1M103 85h1M128 85h1M130 85h1M12 86h1M30 86h1M32 86h1M44 86h1M51 86h2M67 86h1M95 86h1M5 87h1M70 87h1M98 87h1M120 87h1M130 87h1M0 88h1M28 88h1M57 88h1M64 88h1M85 88h1M89 88h1M103 88h1M113 88h1M120 88h1M124 88h1M133 88h1M36 89h1M60 89h1M114 89h1M20 90h1M30 90h1M81 90h1M83 90h1M104 90h1M139 90h1M7 91h1M23 91h1M27 91h1M59 91h1M63 91h1M99 91h1M121 91h1M124 91h1M134 91h3M29 92h1M61 92h1M86 92h1M128 92h1M62 93h1M111 93h1M30 94h1M35 94h1M74 94h1M130 94h1M6 95h1M29 95h1M38 95h1M62 95h1M101 95h1M106 95h1M109 95h1M19 96h1M58 96h1M133 96h1M139 96h1M81 97h1M104 97h1M23 98h1M84 98h1M102 98h1M112 98h1M130 98h1M133 98h1M68 99h1M93 99h1M109 99h1M6 100h1M55 100h1M117 100h1M10 101h2M48 101h1M117 101h1M91 102h1M108 102h1M8 103h1M13 103h1M57 103h1M60 103h1M89 103h1M107 103h1M109 103h1M92 104h1M73 105h1M95 105h1M134 105h1M49 106h1M59 106h1M109 106h1M1 107h1M29 107h1M47 107h1M32 108h1M118 108h1M15 112h1M74 113h1M102 116h1"/><path stroke="#3d0f71" d="M10 9h1M15 9h1M22 10h1M37 10h1M54 10h1M31 11h1M73 11h1M40 45h1M28 46h1M54 46h1M68 46h1M83 46h1M111 46h1M28 47h1M53 47h1M65 47h1M73 47h1M83 47h1M13 48h1M33 48h1M44 48h1M84 48h1M9 49h1M47 49h1M59 49h1M73 49h1M45 50h1M74 50h1M84 50h1M27 51h1M30 51h1M54 51h1M64 51h1M47 52h1M87 52h1M22 53h2M47 53h2M85 53h1M88 53h1M102 53h1M39 54h1M41 54h1M43 54h1M54 54h1M61 55h1M100 55h1M111 55h1M38 56h1M40 56h1M62 56h1M75 56h1M100 56h1M16 57h1M48 57h1M69 57h1M95 57h1M26 58h1M43 58h1M87 58h1M111 58h1M62 59h1M69 59h1M107 59h1M20 60h2M45 60h1M57 60h1M99 60h1M22 61h2M52 61h1M79 61h1M116 61h1M29 62h1M34 62h1M75 62h1M73 63h1M79 63h1M89 63h1M119 63h1M29 64h1M57 64h1M82 64h2M96 64h1M105 64h1M111 64h1M37 65h1M98 65h1M118 65h1M134 65h1M15 66h1M24 66h1M41 66h1M50 66h1M135 66h1M138 66h2M9 67h1M64 67h1M121 67h1M10 68h1M33 68h2M36 68h1M41 68h1M129 68h1M46 69h1M54 69h1M70 69h1M87 69h1M93 69h1M131 69h1M30 70h1M32 70h1M34 70h1M54 70h1M66 70h1M83 70h1M104 70h2M117 70h1M127 70h1M132 70h1M10 71h1M26 71h1M38 71h1M57 71h1M122 71h1M132 71h1M77 72h1M79 72h1M106 72h1M126 72h1M133 72h1M4 73h1M6 73h1M13 74h1M51 74h1M65 74h1M70 74h1M85 74h1M97 74h1M102 74h1M115 74h1M1 75h1M3 75h1M7 75h2M16 75h1M41 75h1M57 75h1M60 75h1M93 75h1M95 75h1M25 76h1M37 76h1M75 76h1M85 76h1M123 76h1M8 77h1M17 77h1M40 77h1M55 77h1M66 77h1M87 77h1M92 77h1M104 77h1M110 77h1M119 77h1M8 78h1M20 78h1M52 78h1M63 78h1M74 78h1M113 78h1M3 79h1M6 79h1M20 79h1M71 79h2M128 79h1M15 80h2M27 80h1M39 80h1M48 80h1M118 80h1M9 81h1M21 81h1M33 81h1M100 81h2M104 81h1M115 81h2M0 82h1M19 82h1M37 82h1M104 82h1M120 82h1M119 83h1M9 84h1M22 84h1M26 84h1M30 84h1M65 84h1M76 84h1M80 84h1M83 84h1M90 84h1M102 84h1M107 84h1M17 85h1M75 85h1M82 85h1M95 85h1M115 85h2M120 85h1M4 86h1M6 86h1M20 86h1M24 86h1M27 86h1M126 86h1M26 87h1M34 87h1M89 87h1M92 87h1M100 87h1M129 87h1M56 88h1M68 88h1M90 88h1M104 88h1M137 88h1M32 89h2M54 89h1M66 89h1M70 89h1M106 89h1M1 90h1M31 90h1M55 90h1M77 90h1M118 90h1M130 90h1M37 91h1M48 91h1M53 91h1M106 91h1M119 91h1M139 91h1M8 92h1M14 92h1M22 92h1M40 92h1M46 92h1M50 92h1M66 92h1M69 92h1M3 93h1M20 93h1M43 93h1M52 93h1M54 93h1M69 93h2M84 93h1M94 93h1M98 93h2M116 93h1M119 93h1M121 93h1M1 94h1M27 94h1M73 94h1M88 94h2M113 94h1M119 94h1M133 94h1M4 95h1M13 95h1M56 95h1M65 95h1M71 95h1M91 95h1M123 95h1M18 96h1M57 96h1M103 96h1M119 96h1M121 96h1M124 96h1M9 97h1M27 97h1M29 97h1M35 97h1M51 97h1M53 97h1M128 97h1M8 98h1M14 98h1M29 98h1M34 98h1M36 98h1M53 98h1M59 98h1M0 99h1M16 99h1M45 99h1M53 99h1M96 99h1M54 100h1M88 100h1M94 100h1M107 100h1M37 101h1M61 101h1M63 101h1M78 101h1M22 102h1M31 102h1M45 102h1M89 102h1M101 102h1M48 103h1M61 103h1M70 103h1M110 103h2M4 104h1M23 104h1M26 104h1M60 104h1M90 104h1M136 104h1M107 106h1M48 107h1M7 108h1M77 108h1M0 109h1M49 109h1"/><path stroke="#3f0f72" d="M75 8h1M39 9h1M61 9h1M65 9h1M66 10h1M23 12h1M31 12h1M21 26h1M120 43h1M26 45h1M110 45h1M45 46h1M63 47h1M66 47h1M62 48h1M81 48h1M117 48h1M26 49h1M50 49h1M56 49h1M64 49h1M67 49h1M97 49h1M99 49h1M103 49h1M12 50h1M67 50h1M89 50h1M102 50h1M74 51h1M114 51h1M16 52h1M46 52h1M67 52h1M80 52h1M82 52h1M11 53h1M16 53h1M21 53h1M24 53h1M53 53h1M71 53h1M97 53h1M16 54h1M19 54h1M28 54h1M52 54h1M37 55h1M76 55h1M81 55h1M99 55h1M30 56h1M39 56h1M110 56h1M2 57h1M11 57h1M58 57h1M9 59h1M16 59h1M37 59h1M95 59h1M24 60h1M30 60h1M53 60h1M56 60h1M64 60h1M75 60h1M82 60h1M86 60h1M102 60h1M135 60h1M67 62h1M99 62h1M109 62h1M33 63h1M51 63h1M46 64h1M60 64h1M133 64h1M8 65h1M32 65h1M56 65h1M66 65h1M72 65h1M96 65h1M109 65h1M133 65h1M66 66h2M79 66h1M93 66h1M15 67h1M21 67h1M24 67h1M26 67h1M35 67h1M59 67h1M69 67h1M87 67h1M89 67h1M97 67h1M11 68h1M85 68h1M97 68h1M102 68h1M121 68h1M10 69h1M20 69h1M40 69h1M71 69h1M75 69h1M90 69h1M101 69h1M14 70h1M26 70h1M43 70h1M47 70h1M53 70h1M65 70h1M116 70h1M118 70h1M131 70h1M17 71h1M76 71h2M117 71h1M5 72h1M39 72h2M68 72h4M92 72h1M1 73h1M38 73h1M44 73h1M105 73h1M109 73h1M3 74h1M11 74h1M18 74h1M33 74h1M56 74h1M105 74h1M124 74h2M40 75h1M55 75h1M87 75h1M91 75h1M103 75h1M109 75h1M3 76h1M26 76h1M29 76h1M88 76h1M6 77h1M12 77h1M20 77h1M36 77h1M98 77h1M130 77h1M29 78h1M70 78h1M89 78h1M109 78h1M4 79h1M24 79h1M45 79h1M55 79h1M70 79h1M90 79h1M98 79h1M129 79h1M8 80h1M51 80h1M5 81h1M56 81h1M60 81h1M123 81h1M125 81h1M62 82h2M69 82h1M101 82h1M115 82h1M9 83h1M16 83h1M19 83h1M25 83h1M38 83h1M79 83h1M92 83h1M118 83h1M130 83h1M11 84h1M41 84h1M56 84h1M69 84h1M75 84h1M98 84h1M1 85h1M107 85h1M109 85h1M124 85h1M18 86h1M34 86h1M70 86h1M90 86h1M122 86h1M2 87h1M31 87h1M33 87h1M58 87h1M75 87h1M90 87h1M114 87h1M117 87h1M119 87h1M1 88h1M10 88h1M44 88h1M69 88h1M126 88h1M9 89h1M19 89h1M39 89h1M53 89h1M71 89h1M88 89h1M7 90h1M13 90h1M38 90h1M68 90h1M89 90h1M98 90h1M124 90h1M5 91h2M11 91h1M74 91h1M13 92h1M18 92h1M39 92h1M41 92h1M105 92h1M113 92h1M121 92h1M2 93h1M19 93h1M64 93h1M73 93h1M82 93h1M132 93h1M2 94h1M10 94h1M28 94h1M49 94h1M59 94h1M39 95h1M49 95h1M14 96h1M42 96h2M72 96h1M99 96h1M131 96h1M48 97h1M73 97h1M109 97h1M0 98h1M18 98h1M26 98h1M74 98h1M98 98h1M136 98h1M10 99h1M24 99h1M33 99h1M61 99h1M85 99h1M94 99h1M113 99h1M128 99h1M3 100h1M64 100h1M73 100h1M83 100h1M97 100h1M113 100h1M14 101h1M56 101h2M67 101h1M82 101h1M3 102h1M21 102h1M48 102h2M32 103h1M105 103h1M9 104h1M123 104h1M22 105h1M31 105h1M109 105h1M31 106h1M61 106h1M2 107h1M32 114h1"/><path stroke="#400f74" d="M86 8h1M37 9h1M66 9h1M76 9h1M76 10h1M80 10h1M70 11h1M47 23h1M2 36h1M4 38h1M16 38h1M120 39h1M8 42h1M44 46h1M96 46h1M100 46h1M112 46h1M27 47h1M40 47h1M72 47h1M94 47h1M102 47h1M26 48h1M66 48h1M78 48h1M82 48h1M91 48h1M95 48h1M102 48h1M8 49h1M28 49h1M57 49h1M60 49h1M66 49h1M74 49h1M80 49h1M101 49h1M21 50h1M43 50h1M57 50h1M72 50h1M83 50h1M28 51h1M84 51h1M101 51h1M104 51h1M122 51h1M21 52h1M86 52h1M13 53h1M49 53h1M87 53h1M114 53h1M40 54h1M87 54h1M96 54h1M100 54h1M25 55h1M40 55h1M59 55h1M62 55h1M97 55h1M57 56h1M84 56h1M28 57h1M36 57h1M39 57h1M62 57h1M74 57h1M84 57h1M47 58h1M54 58h1M100 58h1M46 59h1M48 59h1M56 59h1M11 60h1M43 61h1M73 62h1M76 62h1M82 62h1M0 63h1M9 63h1M31 63h1M34 63h1M57 63h1M62 63h1M86 63h1M104 63h1M77 64h2M112 64h1M118 64h1M39 65h1M45 65h1M63 65h1M67 65h1M69 65h1M76 65h1M80 65h2M95 65h1M97 65h1M105 65h1M32 66h1M64 66h2M71 66h1M84 66h1M25 67h1M29 67h1M115 67h1M12 68h1M15 68h1M42 68h1M61 68h1M63 68h1M82 68h1M86 68h1M91 68h1M114 68h1M23 69h1M63 69h1M91 69h2M115 69h1M46 70h1M70 70h1M84 70h1M122 70h1M40 71h1M47 71h1M80 71h1M123 71h1M127 71h1M23 72h1M41 72h1M43 72h1M87 72h1M98 72h1M100 72h1M107 72h1M120 72h1M131 72h1M135 72h1M11 73h1M16 73h1M19 73h1M21 73h1M25 73h1M51 73h1M53 73h1M74 73h1M89 73h1M12 74h1M36 74h1M38 74h1M54 74h1M58 74h1M76 74h1M78 74h1M5 75h1M11 75h1M42 75h1M104 75h1M108 75h1M60 76h2M63 76h1M71 76h2M95 76h1M98 76h1M11 77h1M25 77h1M86 77h1M95 77h1M109 77h1M114 77h1M123 77h1M16 78h1M59 78h1M85 78h1M5 79h1M56 79h1M97 79h1M122 79h1M7 80h1M12 80h1M40 80h1M61 80h1M79 80h1M83 80h1M94 80h1M98 80h1M101 80h1M0 81h1M18 81h1M51 81h1M81 81h1M124 81h1M1 82h1M22 82h1M41 82h1M61 82h1M78 82h1M91 82h1M125 82h1M6 83h1M20 83h1M33 83h1M37 83h1M46 83h1M86 83h1M93 83h2M102 83h1M127 83h1M63 84h2M81 84h1M13 85h1M33 85h1M44 85h1M76 85h1M80 85h1M93 85h1M118 85h1M134 85h1M19 86h1M26 86h1M41 86h1M50 86h1M94 86h1M106 86h1M123 86h1M27 87h1M46 88h1M91 88h1M107 88h1M109 88h1M116 88h1M131 88h1M138 88h1M6 89h1M25 89h1M95 89h1M109 89h1M5 90h1M21 90h1M10 91h1M13 91h1M28 91h1M49 91h1M51 91h1M6 92h1M38 92h1M65 92h1M109 92h1M124 92h1M4 93h1M12 93h1M23 93h1M48 93h1M51 93h1M76 93h1M123 93h1M39 94h1M57 94h1M97 94h1M118 94h1M15 95h1M32 95h1M57 95h1M80 95h1M92 95h1M125 95h1M127 95h1M13 96h1M65 96h1M107 96h1M8 97h1M10 97h1M21 97h1M23 97h1M31 97h1M50 97h1M54 97h1M103 97h1M138 97h1M39 98h1M46 98h1M61 98h1M70 98h1M119 98h1M39 99h1M72 99h1M108 99h1M111 99h1M109 100h1M112 100h1M119 100h1M127 100h1M14 103h1M37 103h1M46 103h1M102 103h1M104 103h1M117 104h1M4 106h1M92 106h1M33 109h1"/><path stroke="#420f75" d="M70 9h1M70 10h1M21 11h1M21 12h1M23 15h1M21 20h1M47 24h1M21 27h1M41 27h1M85 28h1M2 37h1M117 38h1M122 39h1M113 41h1M112 42h1M27 45h1M111 45h1M24 46h1M27 46h1M33 46h1M35 46h1M30 47h1M42 47h1M74 47h1M16 48h1M52 48h1M92 48h1M24 49h1M30 49h1M51 49h1M58 49h1M68 49h1M86 49h1M102 49h1M44 50h1M81 50h1M85 50h1M104 50h1M29 51h1M42 51h1M59 51h1M77 51h1M121 51h1M12 52h1M25 52h1M36 52h1M54 52h1M89 52h1M114 52h1M31 53h1M35 53h1M40 53h2M68 53h1M104 53h1M115 53h1M120 53h1M22 54h1M30 54h1M33 54h1M50 54h2M86 54h1M36 55h1M108 56h1M13 57h1M26 57h1M51 57h1M67 57h1M103 57h1M105 57h1M15 58h1M41 58h1M50 58h1M60 58h1M68 58h1M74 58h1M0 59h1M24 59h1M28 59h1M38 59h1M43 59h1M61 59h1M87 59h1M104 59h1M106 59h1M115 59h1M46 60h1M66 60h1M89 60h2M96 60h2M51 61h1M55 61h1M25 62h1M62 62h1M80 62h1M139 62h1M3 63h1M15 63h1M35 63h1M74 63h1M107 63h1M120 63h1M4 64h1M41 64h1M81 64h1M84 64h1M93 64h1M25 65h1M51 65h1M55 65h1M58 65h1M99 65h1M37 66h1M59 66h1M83 66h1M96 66h1M104 66h1M110 66h1M121 66h1M34 67h1M37 67h1M93 67h1M9 68h1M50 68h1M77 68h1M101 68h1M4 69h1M49 69h1M105 69h1M129 69h1M133 69h1M63 70h1M92 70h1M133 70h1M135 70h1M32 71h1M37 71h1M49 71h1M115 71h1M121 71h1M124 71h1M131 71h1M27 72h1M78 72h1M103 72h1M108 72h1M129 72h1M67 73h1M79 73h1M118 73h1M121 73h1M131 73h1M72 74h2M81 74h1M39 75h1M63 75h1M69 75h1M92 75h1M100 75h1M8 76h1M30 76h1M53 76h1M90 76h1M99 76h1M102 76h1M107 76h1M129 76h1M4 77h1M9 77h1M74 77h1M82 77h1M88 77h1M101 77h1M103 77h1M4 78h1M50 78h1M84 78h1M91 78h1M122 78h1M19 79h1M30 79h1M66 79h1M95 79h1M123 79h1M43 80h1M45 80h1M60 80h1M66 80h1M130 80h1M11 81h1M16 81h1M53 81h1M59 81h1M99 81h1M130 81h1M12 82h1M15 82h1M33 82h1M85 82h1M100 82h1M5 83h1M8 83h1M95 83h1M117 83h1M19 84h1M25 84h1M66 84h1M121 84h1M9 85h1M12 85h1M14 85h1M18 85h2M57 85h1M78 85h1M99 85h1M132 85h1M43 86h1M62 86h1M69 86h1M77 86h1M13 87h1M72 87h1M77 87h1M71 88h1M88 88h1M135 88h1M77 89h1M98 89h1M138 89h1M2 90h1M12 90h1M15 90h2M99 90h1M137 90h1M72 91h1M75 91h1M94 91h1M118 91h1M12 92h1M19 92h1M21 92h1M48 92h1M70 92h1M80 92h1M98 92h1M111 92h1M56 93h1M75 93h1M103 93h1M4 94h1M29 94h1M66 94h1M82 94h1M120 94h1M14 95h1M44 95h1M50 95h1M128 95h2M27 96h1M39 96h1M71 96h1M84 96h1M116 96h1M118 96h1M32 97h1M34 97h1M56 97h1M117 97h1M7 98h1M21 98h1M33 98h1M56 98h1M66 98h1M75 98h1M131 98h1M18 99h1M23 99h1M77 99h1M2 100h1M52 100h1M61 100h1M69 100h1M76 100h1M93 100h1M138 100h1M55 101h1M60 101h1M77 101h1M99 101h1M104 101h1M107 101h1M99 102h1M45 103h1M108 103h1M113 103h1M127 103h1M83 104h1M127 104h1M56 105h2M136 105h2M60 106h1M110 106h1M22 108h1M31 108h1M128 109h1M134 109h1"/><path stroke="#440f76" d="M37 8h1M50 9h1M61 10h1M73 10h1M24 17h1M34 19h1M132 21h1M7 22h1M24 24h1M44 28h1M122 37h1M39 45h1M64 46h1M67 46h1M99 46h1M101 46h1M41 47h1M87 47h1M96 47h1M98 47h1M14 48h1M67 48h1M101 48h1M13 49h1M48 49h1M54 49h1M95 49h1M20 50h1M24 50h1M27 50h1M34 51h1M55 51h1M72 51h1M80 51h1M85 51h1M13 52h1M52 52h1M72 52h2M18 53h1M27 53h1M32 53h1M51 53h1M49 54h1M19 55h1M35 55h1M52 55h1M64 55h1M110 55h1M11 56h1M94 56h1M115 56h1M24 57h1M29 57h1M47 57h1M88 57h1M22 58h1M30 58h1M61 58h2M102 58h1M36 59h1M55 59h1M64 59h1M88 59h1M43 60h1M47 60h1M55 60h1M87 60h1M101 60h1M107 60h1M10 61h1M12 61h1M16 61h1M45 61h1M53 61h1M73 61h2M95 61h1M118 61h1M68 62h1M70 62h1M79 62h1M84 62h1M21 63h1M24 63h1M43 63h1M76 63h1M78 63h1M103 63h1M133 63h1M33 64h1M53 64h1M88 64h1M100 64h1M102 64h1M62 65h1M68 65h1M108 65h1M22 66h1M35 66h1M42 66h1M80 66h1M86 66h1M23 67h1M68 67h1M79 67h1M82 67h1M88 67h1M14 68h1M27 68h1M47 68h1M98 68h1M100 68h1M61 69h1M103 69h2M10 70h2M24 70h1M50 70h1M85 70h1M115 70h1M15 71h1M34 71h1M42 71h1M52 71h1M75 71h1M7 72h1M25 72h1M46 72h1M51 72h1M117 72h1M134 72h1M138 72h1M69 73h2M8 74h1M16 74h1M48 74h1M57 74h1M74 74h1M127 74h1M20 75h1M68 75h1M82 75h1M101 75h1M105 75h1M107 75h1M125 75h1M129 75h1M5 76h1M7 76h1M35 76h1M69 76h1M119 76h1M125 76h1M130 76h1M29 77h1M48 77h2M53 77h1M84 77h1M91 77h1M99 77h1M42 78h1M44 78h1M51 78h1M114 78h1M10 79h3M15 79h1M68 79h1M99 79h2M10 80h1M26 80h1M38 80h1M42 80h1M77 80h1M139 80h1M13 81h1M83 81h1M107 81h1M31 82h1M45 82h1M64 82h1M105 82h1M121 82h1M127 82h1M129 82h1M50 83h1M52 83h1M70 83h1M72 83h1M96 83h1M62 84h1M2 85h1M11 85h1M51 85h1M62 85h1M33 86h1M36 86h1M39 86h1M18 87h1M45 87h1M60 87h1M82 87h1M11 88h1M20 88h1M34 88h2M45 88h1M50 88h1M119 88h1M37 89h1M62 89h1M85 89h1M131 89h1M134 89h2M9 90h1M11 90h1M17 90h1M80 90h1M85 90h1M127 90h1M136 90h1M58 91h1M66 91h1M83 91h1M92 91h1M107 92h1M42 93h1M59 93h1M131 93h1M133 93h1M33 94h1M65 94h1M99 95h1M120 95h1M130 95h1M17 96h1M21 96h1M102 96h1M42 97h1M46 97h1M99 97h1M120 97h1M137 97h1M4 98h1M12 98h1M99 98h1M137 98h1M19 99h1M38 99h1M58 99h1M71 99h1M84 99h1M86 99h1M91 99h1M95 99h1M110 99h1M118 99h1M53 100h1M77 100h1M92 100h1M68 101h1M29 102h1M56 102h1M61 102h1M63 102h1M3 104h1M21 104h1M29 104h1M91 104h1M137 104h1M91 106h1M4 107h1"/><path stroke="#451077" d="M33 8h1M80 8h1M3 9h1M16 9h1M75 9h1M80 9h1M79 11h1M74 12h1M23 14h1M34 18h1M7 23h1M28 23h1M85 23h1M28 24h1M30 27h1M74 28h1M119 37h1M16 39h1M119 40h1M92 45h1M112 45h1M43 46h1M103 46h1M122 46h1M60 47h1M27 48h1M55 48h1M70 48h1M75 48h2M79 48h1M96 48h1M35 49h1M38 50h1M77 50h1M87 50h1M96 50h1M12 51h1M32 51h1M35 51h1M47 51h1M50 51h1M62 51h1M65 51h1M93 51h1M98 51h1M58 52h1M90 52h1M46 53h1M73 53h1M80 53h1M14 54h1M32 54h1M36 54h1M65 54h1M68 54h1M75 54h1M94 54h1M14 55h1M26 55h1M38 55h1M45 55h1M72 56h1M99 56h1M23 57h1M64 57h1M70 57h1M108 57h1M1 58h1M20 58h2M95 58h1M14 59h1M21 59h1M51 59h1M54 59h1M71 59h1M73 59h1M35 60h1M41 60h1M49 60h1M59 60h2M88 60h1M28 61h1M34 61h1M49 61h1M56 61h1M67 61h1M69 61h3M107 61h1M16 62h1M61 62h1M8 63h1M10 63h1M48 63h1M65 63h1M77 63h1M94 63h1M105 63h1M109 63h1M40 64h1M48 64h2M103 64h2M110 64h1M132 64h1M135 64h1M137 64h1M4 65h1M119 65h1M130 65h1M136 65h1M54 66h1M73 66h2M82 66h1M87 66h1M120 66h1M20 67h1M31 67h2M43 67h1M77 67h1M106 67h1M62 68h1M93 68h1M107 68h1M26 69h1M60 69h1M107 69h1M9 70h1M27 70h1M35 70h1M79 70h1M103 70h1M134 70h1M7 71h1M30 71h1M33 71h1M48 71h1M51 71h1M66 71h1M107 71h2M126 71h1M8 72h1M11 72h1M14 72h1M61 72h1M119 72h1M136 72h1M18 73h1M43 73h1M57 73h1M88 73h1M100 73h1M31 74h1M49 74h1M75 74h1M25 75h1M29 75h1M62 75h1M1 76h1M17 76h1M27 76h1M64 76h1M68 76h1M73 76h1M10 77h1M38 77h1M58 77h1M62 77h1M13 78h2M18 78h1M25 78h1M45 78h1M61 78h1M82 78h1M129 78h1M7 79h1M29 79h1M44 79h1M59 79h1M83 79h1M130 79h1M0 80h2M52 80h1M70 80h1M73 80h1M97 80h1M6 81h1M20 81h1M25 81h1M57 81h1M85 81h1M105 81h1M121 81h2M60 82h1M71 82h1M77 82h1M79 82h1M83 82h1M88 82h1M136 82h1M49 83h1M69 83h1M98 83h3M103 83h1M123 83h2M126 83h1M10 84h1M77 84h1M101 84h1M128 84h1M29 85h1M94 85h1M5 86h1M21 86h1M37 86h1M49 86h1M107 86h1M129 86h1M8 87h2M24 87h1M36 87h1M40 87h1M44 87h1M62 87h1M67 87h1M83 87h1M88 87h1M8 88h1M27 88h1M32 88h1M65 88h1M82 88h1M95 88h1M12 89h1M82 89h1M113 89h1M120 89h1M139 89h1M35 90h1M39 90h1M48 90h2M86 90h1M132 90h1M134 90h1M38 91h1M64 91h1M80 91h1M107 91h1M131 91h1M127 92h1M5 93h1M8 93h1M117 93h1M138 93h1M11 94h1M14 94h1M5 95h1M33 95h1M89 95h1M100 95h1M31 96h1M40 96h1M59 96h1M49 97h1M77 98h1M107 98h1M12 99h1M60 99h1M126 99h1M1 100h1M57 100h1M59 100h1M108 100h1M118 100h1M15 101h1M28 102h1M64 102h1M31 103h1M38 103h1M2 104h1M89 104h1M135 105h1M90 106h1M3 107h1M117 108h1"/><path stroke="#471078" d="M88 9h1M50 10h1M65 10h1M72 10h1M15 11h1M34 17h1M48 17h1M24 20h1M45 23h1M41 25h1M24 26h1M122 36h1M117 37h1M135 39h1M112 43h1M125 43h1M31 45h1M128 45h1M36 46h1M40 46h1M93 46h1M95 46h1M102 46h1M138 46h1M22 47h1M46 47h1M69 47h1M75 47h1M77 47h1M23 48h1M30 48h2M61 48h1M77 48h1M20 49h1M25 49h1M53 49h1M93 49h2M19 50h1M78 50h1M97 50h2M40 51h1M56 51h1M69 51h1M78 51h1M29 52h1M37 52h1M41 52h1M48 52h1M68 52h1M74 52h1M115 52h1M14 53h1M30 53h1M39 53h1M52 53h1M60 53h1M72 53h1M82 53h1M86 53h1M91 53h1M25 54h1M38 54h1M60 54h1M88 54h1M95 54h1M99 54h1M28 55h1M47 55h1M71 55h1M52 56h1M55 56h1M59 56h1M64 56h1M76 56h1M79 56h1M114 56h1M12 57h1M21 57h2M76 57h1M39 58h1M80 59h1M28 60h1M91 60h1M25 61h1M40 61h1M82 61h2M33 62h1M49 62h2M102 62h1M118 62h2M123 62h1M11 63h1M26 63h1M134 63h1M137 63h1M47 64h1M95 64h1M129 64h2M29 65h1M77 65h1M87 65h1M7 66h1M12 66h1M20 66h1M29 66h1M75 66h1M98 66h1M10 67h1M92 67h1M109 67h1M118 67h1M137 67h1M67 68h1M104 68h2M38 69h1M72 69h1M96 69h1M25 70h1M99 70h1M138 70h1M4 71h1M23 71h1M41 71h1M65 71h1M68 71h1M81 71h1M119 71h2M130 71h1M12 72h1M19 72h1M24 72h1M42 72h1M101 72h1M116 72h1M118 72h1M42 73h1M41 74h1M6 75h1M12 75h1M81 75h1M106 75h1M116 75h1M124 75h1M6 76h1M18 76h1M59 76h1M0 78h2M3 78h1M15 78h1M17 78h1M33 78h1M48 78h1M71 78h1M86 78h1M93 79h2M101 79h1M3 80h1M59 80h1M120 80h1M17 81h1M91 81h1M98 81h1M23 82h1M38 82h1M98 82h1M90 83h1M37 84h1M39 84h1M53 84h1M86 84h1M10 85h1M15 85h1M53 85h1M60 85h1M69 85h2M119 85h1M93 86h1M103 86h1M109 86h1M128 86h1M136 86h1M14 87h1M17 87h1M25 87h1M63 87h1M91 87h1M132 87h1M25 88h1M70 88h1M134 88h1M0 89h1M58 89h1M64 89h1M99 89h1M119 89h1M29 90h1M107 90h1M9 91h1M32 91h1M50 91h1M93 91h1M81 92h1M126 92h1M134 92h1M58 93h1M91 93h1M110 93h1M36 94h1M42 95h1M46 95h1M61 95h1M74 95h1M121 95h1M35 96h1M68 96h1M85 96h2M100 96h1M28 97h1M41 97h1M58 97h1M116 97h1M118 97h1M20 98h1M54 98h1M80 98h1M101 98h1M26 99h1M70 99h1M87 99h1M105 99h1M35 100h1M68 100h1M136 100h1M119 101h1M49 103h1M49 104h1M54 104h1M3 106h1M97 106h1M0 107h1M33 108h1"/><path stroke="#491078" d="M3 8h1M31 8h1M30 9h1M32 9h1M57 9h1M62 9h1M67 9h1M10 10h1M39 10h1M62 10h1M76 11h1M86 11h1M30 12h1M76 12h1M17 15h1M34 16h1M132 20h1M49 23h1M1 36h1M4 37h1M135 40h1M131 42h1M16 45h1M25 46h2M34 46h1M37 46h1M60 46h1M92 46h1M29 47h1M93 47h1M32 48h1M34 48h1M58 48h1M68 48h1M90 48h1M103 48h1M27 49h1M65 49h1M72 49h1M98 49h1M26 50h1M28 50h1M51 50h1M76 50h1M112 50h1M31 51h1M41 51h1M43 51h1M58 51h1M61 51h1M134 51h1M69 52h1M12 53h1M20 53h1M34 53h1M45 53h1M63 53h1M81 53h1M20 54h1M89 54h1M118 54h1M58 55h1M79 55h1M32 56h1M47 56h1M58 56h1M104 56h1M87 57h1M89 57h1M94 57h1M104 57h1M11 58h1M47 59h1M70 59h1M116 59h1M10 60h1M74 60h1M84 60h1M100 60h1M109 60h1M36 61h1M42 61h1M47 61h1M50 61h1M58 61h1M66 61h1M84 61h1M92 61h1M42 62h1M45 62h1M72 62h1M86 62h1M88 62h1M96 62h1M19 63h1M135 63h1M33 65h2M38 65h1M78 65h1M84 65h1M1 66h2M11 66h1M21 66h1M23 66h1M38 66h1M97 66h1M119 66h1M16 67h1M91 67h1M29 68h1M88 68h1M96 68h1M109 68h1M115 68h1M132 68h1M109 69h1M4 70h1M71 70h1M139 70h1M36 71h1M46 71h1M62 71h1M64 71h1M106 71h1M128 71h1M4 72h1M6 72h1M9 72h2M67 72h1M99 72h1M29 73h1M87 73h1M92 73h1M0 74h1M4 74h1M17 74h1M52 74h1M77 74h1M15 75h1M48 75h1M85 75h2M99 75h1M31 76h1M52 76h1M83 76h1M103 76h1M33 77h2M60 77h1M67 77h1M85 77h1M115 77h1M40 78h1M99 78h1M17 79h1M26 79h1M37 79h1M41 79h1M106 79h1M120 79h1M46 80h1M53 80h1M78 80h1M104 80h1M119 80h1M39 81h1M86 81h1M9 82h1M39 82h1M70 82h1M99 82h1M106 82h2M15 83h1M56 83h1M63 83h1M71 83h1M73 83h1M91 83h1M52 84h1M100 84h1M126 84h1M25 86h1M35 86h1M42 86h1M10 87h1M16 87h1M21 87h1M30 87h1M118 87h1M134 87h1M49 88h1M101 88h1M108 89h1M137 89h1M90 90h1M126 90h1M133 90h1M135 90h1M29 91h2M54 91h1M57 91h1M132 91h1M5 92h1M17 92h1M83 92h1M9 93h1M107 93h1M112 93h1M121 94h1M131 94h1M31 95h1M58 95h1M80 96h1M87 96h1M5 98h1M35 98h1M109 98h1M135 98h1M11 99h1M42 99h3M123 99h1M127 99h1M7 100h1M102 100h2M118 101h1M4 102h1M55 102h1M60 102h1M27 103h1M58 103h1M112 103h1M128 103h1M59 104h1M8 108h1"/><path stroke="#4a1079" d="M38 9h1M54 11h1M48 18h1M21 19h1M24 19h1M43 22h1M24 25h1M120 38h1M117 39h1M29 46h1M66 46h1M84 46h1M97 46h1M21 47h1M43 47h2M68 47h1M79 47h2M95 47h1M104 47h1M21 48h1M41 48h1M18 49h2M21 49h1M49 49h1M46 50h1M79 50h1M82 50h1M90 50h1M95 50h1M22 51h1M26 51h1M46 51h1M67 51h1M71 51h1M87 51h1M96 51h2M19 52h1M66 52h1M79 52h1M88 52h1M97 52h1M58 53h1M75 53h1M78 53h1M93 53h1M128 53h1M15 54h1M61 54h1M63 54h2M66 54h2M103 54h1M12 55h1M17 55h1M27 55h1M54 55h1M73 55h1M94 55h1M137 55h1M15 56h1M20 56h1M25 56h1M107 56h1M139 56h1M19 57h1M80 57h1M99 57h1M19 58h1M37 58h1M70 58h1M77 58h1M90 58h1M20 59h1M34 59h2M72 59h1M79 59h1M94 59h1M25 60h1M39 61h1M0 62h1M41 62h1M46 62h1M138 62h1M58 63h1M69 63h1M82 63h1M1 64h1M26 64h1M44 64h1M121 64h1M30 65h1M92 65h3M52 66h1M115 66h1M4 67h1M33 67h1M81 67h1M107 67h1M26 68h1M39 68h1M49 68h1M92 68h1M55 69h1M95 69h1M15 70h1M69 70h1M77 70h1M82 70h1M97 70h1M27 71h1M58 71h1M95 71h1M139 71h1M21 72h1M63 72h1M109 72h1M124 72h1M31 73h1M101 73h1M10 74h1M26 74h3M64 74h1M71 74h1M51 75h1M67 75h1M123 75h1M0 76h1M32 76h1M65 76h1M86 76h1M101 76h1M117 76h1M108 77h1M73 78h1M87 78h1M98 78h1M106 78h1M1 79h1M28 79h1M40 79h1M11 80h1M25 80h1M14 81h2M52 81h1M58 81h1M106 81h1M139 81h1M10 82h1M21 82h1M46 82h1M58 82h1M114 82h1M107 83h1M116 83h1M122 83h1M2 84h2M14 84h1M18 84h1M34 84h1M42 84h1M91 84h2M118 84h2M122 84h1M135 84h1M7 85h1M55 85h1M59 85h1M77 85h1M81 85h1M88 85h1M91 85h1M23 86h1M31 86h1M38 86h1M125 86h1M131 86h2M64 87h2M95 87h1M99 87h1M58 88h1M76 88h1M5 89h1M46 89h1M14 90h1M27 90h1M92 90h1M72 93h1M113 93h1M137 93h1M96 94h1M45 95h1M54 95h1M107 95h1M126 95h1M12 96h1M33 96h1M69 96h1M57 97h1M80 97h1M73 98h1M15 99h1M106 99h2M124 99h1M89 100h1M47 102h1M10 103h2M59 103h1M94 105h1"/><path stroke="#4c117a" d="M21 8h1M39 8h1M57 8h1M61 8h1M18 9h1M30 10h1M74 10h1M88 10h1M62 11h1M35 12h1M70 12h1M80 12h1M36 16h1M28 20h1M7 21h1M23 21h1M28 21h1M26 24h1M30 24h1M28 25h1M41 26h1M44 27h1M111 39h1M113 40h1M38 45h1M101 45h1M12 46h1M19 46h1M42 46h1M62 46h1M12 47h1M36 47h1M39 47h1M54 47h1M62 47h1M15 48h1M24 48h1M40 48h1M48 48h1M57 48h1M60 48h1M69 48h1M73 48h1M94 48h1M7 49h1M12 49h1M79 49h1M134 49h1M50 50h1M88 50h1M83 51h1M55 52h1M70 52h2M99 52h1M33 53h1M77 53h1M59 54h1M102 54h1M117 54h1M57 55h1M72 55h1M88 55h1M96 55h1M105 55h1M12 56h2M31 56h1M46 56h1M51 56h1M56 56h1M37 57h2M61 57h1M93 57h1M133 57h1M31 58h1M38 58h1M69 58h1M33 59h1M68 59h1M117 59h2M58 60h1M137 60h1M35 61h1M62 61h1M108 61h2M117 61h1M6 62h1M40 62h1M43 62h1M69 62h1M53 63h1M100 63h1M108 63h1M27 64h2M38 64h2M69 64h1M80 64h1M136 64h1M61 65h1M79 65h1M91 65h1M135 65h1M51 66h1M81 66h1M88 66h2M49 67h1M58 67h1M98 67h1M19 68h1M7 69h1M31 69h1M39 69h1M123 69h1M33 70h1M87 70h1M16 71h1M35 71h1M61 71h1M63 71h1M101 71h1M125 71h1M135 71h1M13 72h1M30 72h1M80 73h1M98 73h1M25 74h1M35 74h1M42 74h1M46 74h1M63 74h1M109 74h1M74 75h1M94 75h1M115 75h1M4 76h1M12 76h1M20 76h1M38 76h1M66 76h1M116 76h1M122 76h1M118 77h1M41 78h1M49 78h1M68 78h1M81 78h1M90 78h1M107 78h1M123 78h1M125 78h1M92 79h1M107 79h1M127 79h1M2 80h1M32 80h2M44 80h1M62 81h2M65 81h1M108 81h1M75 82h1M104 84h1M120 84h1M56 85h1M131 85h1M133 85h1M118 86h1M28 87h1M61 87h1M108 87h1M67 88h1M83 88h1M86 88h1M106 88h1M114 88h1M139 88h1M31 89h1M91 89h1M128 89h1M93 90h1M34 91h1M133 91h1M118 92h1M53 93h1M126 93h2M26 94h1M38 94h1M108 95h1M26 96h1M88 96h1M11 97h1M33 97h1M121 97h1M6 98h1M134 98h1M28 99h2M92 99h1M60 100h1M39 101h1M84 104h1M139 109h1"/><path stroke="#4e117b" d="M22 8h1M41 9h1M53 9h1M32 10h1M79 10h1M86 10h1M10 11h1M66 12h1M34 15h1M36 15h1M21 18h1M45 22h1M30 23h1M43 23h1M82 25h1M4 36h1M119 38h1M122 38h1M16 40h1M16 41h1M28 45h1M55 46h1M61 46h1M63 46h1M94 46h1M20 47h1M86 47h1M17 48h1M99 48h1M118 48h1M52 49h1M135 49h1M68 50h1M33 51h1M57 51h1M86 51h1M20 52h1M51 52h1M81 52h1M98 52h1M26 53h1M28 53h1M44 53h1M57 53h1M61 53h1M62 54h1M70 54h2M116 54h1M0 55h1M39 55h1M95 55h1M87 56h1M15 57h1M12 58h1M52 58h1M88 58h1M104 58h1M11 59h1M49 59h1M81 59h1M62 60h1M1 61h1M11 61h1M26 61h1M2 62h1M51 62h1M81 62h1M87 62h1M107 62h1M27 63h1M29 63h1M52 63h1M7 64h1M24 64h1M37 64h1M66 64h1M87 64h1M101 64h1M138 64h1M21 65h2M24 65h1M52 65h1M59 65h1M8 66h1M34 66h1M53 66h1M72 66h1M107 66h1M11 67h1M74 67h1M123 67h1M13 68h1M17 68h1M31 68h1M51 68h1M70 68h1M73 68h1M78 68h1M94 69h1M106 69h1M67 70h1M74 70h1M94 70h1M67 71h1M78 71h1M18 72h1M20 72h1M71 73h1M97 73h1M108 73h1M119 73h1M34 74h1M129 74h1M4 75h1M30 75h1M70 75h1M130 75h1M2 76h1M92 76h1M109 76h1M115 76h1M118 76h1M31 77h1M59 77h1M83 77h1M89 77h2M32 78h1M69 78h1M72 78h1M108 78h1M115 78h1M130 78h1M0 79h1M2 79h1M46 79h1M67 79h1M69 79h1M78 79h1M81 80h1M90 80h1M107 80h1M11 82h1M40 82h1M65 82h1M44 83h1M54 83h1M62 83h1M77 83h1M101 83h1M93 84h1M132 84h1M52 85h1M61 85h1M79 85h1M85 85h1M108 85h1M138 85h2M119 86h1M124 86h1M15 87h1M66 87h1M73 87h1M19 88h1M105 88h1M115 88h1M49 89h1M65 89h1M84 89h1M96 89h1M67 90h1M131 90h1M3 91h1M73 91h1M84 91h1M20 92h1M50 93h1M53 95h1M109 96h1M12 97h1M11 98h1M84 100h1M137 100h1M109 101h1M46 102h1M22 104h1"/><path stroke="#4f127b" d="M7 8h1M10 8h1M25 9h1M73 9h1M16 10h1M75 10h1M33 11h1M83 11h1M21 14h1M23 16h2M36 17h1M48 19h1M7 20h1M48 20h1M45 21h1M49 22h1M24 23h1M132 23h1M84 24h1M78 25h1M40 34h1M10 38h1M7 40h1M122 40h1M139 43h1M64 45h1M93 45h1M100 45h1M15 46h1M23 46h1M78 46h1M136 46h1M76 47h1M46 48h1M51 48h1M56 48h1M74 48h1M97 48h1M122 48h1M31 49h1M70 49h1M84 49h1M86 50h1M93 50h2M94 51h2M93 52h1M29 53h1M37 53h2M59 53h1M76 53h1M123 53h1M137 53h1M55 54h1M57 54h1M21 55h1M93 55h1M108 55h1M138 55h1M35 56h1M66 56h1M50 57h1M60 57h1M65 57h2M109 57h1M117 57h1M46 58h1M107 58h1M90 59h1M93 59h1M92 60h1M38 62h1M53 62h2M74 62h1M101 62h1M135 62h1M136 63h1M0 64h1M76 64h1M79 64h1M94 64h1M23 65h1M106 65h1M43 66h1M61 66h1M99 66h1M108 67h1M138 67h1M24 68h1M71 68h1M120 68h1M9 69h1M24 69h1M108 69h1M23 70h1M36 70h1M48 70h1M81 70h1M31 71h1M53 71h1M134 71h1M32 72h1M125 72h1M139 72h1M68 73h1M99 73h1M135 73h1M2 74h1M104 74h1M13 75h1M21 75h1M72 75h2M132 75h1M13 76h1M51 76h1M67 76h1M87 76h1M30 77h1M2 78h1M27 78h1M132 78h1M9 79h1M27 79h1M82 80h1M103 80h1M106 80h1M2 81h1M12 81h1M90 81h1M117 81h1M59 82h1M59 84h1M99 84h1M133 84h1M8 85h1M34 85h1M38 85h1M98 85h1M86 86h2M92 86h1M93 87h1M133 87h1M77 88h1M28 90h1M56 90h1M94 90h1M15 91h1M49 92h1M115 92h1M63 93h1M85 93h1M37 94h1M101 96h1M108 97h1M27 99h1M110 101h1M110 102h1M26 103h1M28 104h1M55 104h1M85 104h1M88 106h1"/><path stroke="#51127c" d="M63 7h1M25 8h1M50 8h1M42 9h1M64 9h1M74 9h1M38 10h1M47 10h1M23 11h1M66 11h1M88 11h1M9 12h1M31 13h1M21 16h1M26 16h1M45 16h1M8 22h1M8 23h1M20 23h1M47 25h1M0 36h1M1 37h1M5 38h1M135 38h1M3 39h1M40 44h1M63 45h1M66 45h1M68 45h1M91 45h1M22 46h1M32 46h1M46 46h1M51 46h1M65 46h1M81 46h1M89 46h1M19 47h1M61 47h1M81 47h2M100 47h1M11 48h1M22 49h1M92 49h1M38 51h2M75 51h1M125 51h1M38 52h1M133 52h1M8 53h1M15 53h1M19 53h1M54 53h1M92 53h1M56 54h1M58 54h1M69 54h1M77 54h1M90 54h1M14 56h1M48 56h1M50 56h1M86 56h1M88 56h1M105 56h1M109 56h1M14 57h1M59 57h1M78 58h1M84 59h1M105 59h1M22 60h2M89 62h1M20 63h1M28 63h1M54 63h1M81 63h1M90 63h1M106 63h1M54 64h1M59 64h1M86 64h1M31 65h1M62 66h2M69 66h2M77 66h1M118 66h1M38 67h1M65 67h1M16 68h1M18 68h1M20 68h1M1 69h1M25 69h1M28 69h1M30 69h1M107 70h1M109 70h1M29 71h1M79 71h1M64 72h1M110 72h1M50 75h1M61 75h1M136 75h1M33 76h1M136 76h1M32 77h1M28 78h1M30 78h1M62 78h1M67 78h1M88 78h1M124 78h1M4 80h1M105 80h1M61 81h1M66 81h1M109 82h1M10 83h1M12 83h1M42 83h1M38 84h1M58 84h1M108 84h1M131 84h1M135 85h1M1 86h2M22 86h1M57 86h1M19 87h1M29 87h1M96 88h1M10 89h2M65 90h1M108 91h1M82 92h1M135 92h1M11 93h1M118 93h1M55 94h2M55 95h1M131 95h1M34 96h1M70 96h1M55 97h1M64 97h2M15 98h1M59 99h1M0 100h1M74 100h1M108 101h1"/><path stroke="#52137c" d="M24 8h1M33 10h1M51 10h1M67 10h1M30 11h1M65 11h1M72 11h1M10 12h1M26 12h1M73 12h1M23 13h1M26 13h1M32 13h1M22 14h1M45 18h1M45 19h1M43 21h1M41 23h1M48 23h1M82 23h1M82 24h1M30 25h1M28 26h1M82 26h1M24 27h1M28 27h1M84 28h1M4 35h1M9 36h1M13 36h1M110 38h1M4 39h1M4 40h1M33 44h1M32 45h2M42 45h1M65 45h1M13 46h1M39 46h1M69 46h1M82 46h1M52 47h1M67 47h1M99 47h1M39 48h1M59 48h1M72 48h1M93 48h1M23 49h1M69 49h1M88 49h1M92 51h1M34 52h2M31 54h1M8 55h1M11 55h1M34 56h1M65 56h1M89 56h1M49 57h1M92 57h1M134 57h1M27 58h1M51 58h1M89 58h1M124 58h1M8 59h1M10 59h1M86 59h1M34 60h1M61 60h1M77 60h1M37 61h1M41 61h1M46 61h1M1 62h1M28 62h1M92 62h1M103 62h1M105 62h1M1 63h1M25 63h1M60 63h1M99 63h1M36 64h1M43 64h1M109 64h1M27 65h1M3 66h1M58 66h1M106 66h1M40 67h1M42 67h1M30 68h1M48 68h1M106 68h1M86 70h1M106 70h1M28 71h1M133 71h1M138 71h1M60 72h1M66 72h1M115 72h1M17 73h1M30 73h1M73 73h1M130 74h1M14 75h1M81 76h1M91 76h1M135 76h1M35 77h1M61 77h1M77 77h1M9 78h1M12 78h1M18 79h1M43 79h1M77 79h1M85 80h2M109 80h1M1 81h1M38 81h1M67 81h1M20 82h1M87 82h1M15 84h1M61 84h1M103 84h1M0 85h1M37 85h1M136 85h1M12 87h1M66 88h1M47 89h1M8 90h1M58 90h1M66 90h1M8 91h1M57 93h1M72 95h1M124 95h1M20 96h1M16 98h1M109 102h1M110 105h1"/><path stroke="#54137d" d="M32 8h1M49 9h1M25 10h1M41 10h1M49 10h1M57 10h1M64 10h1M16 11h1M18 11h1M32 11h1M37 12h1M35 13h1M26 14h1M34 14h1M7 15h1M7 18h1M132 19h1M45 20h1M47 22h1M85 22h1M132 22h1M49 24h1M20 25h1M26 25h1M39 26h1M21 28h1M41 28h1M50 29h1M122 35h1M37 37h1M115 37h1M5 40h1M119 41h1M129 43h1M34 45h2M37 45h1M48 45h1M38 46h1M72 46h1M80 46h1M0 47h1M16 47h1M84 47h1M92 47h1M25 48h1M37 48h1M50 48h1M98 48h1M25 50h1M45 51h1M28 52h1M40 52h1M49 52h1M91 52h1M37 54h1M76 54h1M114 54h1M74 55h1M85 56h1M20 57h1M29 58h1M99 58h1M89 59h1M26 60h1M33 60h1M76 60h1M38 61h1M61 61h1M100 62h1M93 63h1M19 65h2M28 65h1M53 65h2M27 67h1M39 67h1M101 67h1M37 68h1M68 68h2M83 68h1M87 68h1M8 69h1M29 69h1M78 70h1M118 71h1M136 71h1M72 73h1M106 74h1M39 76h1M120 76h1M135 77h1M46 78h1M118 79h2M91 80h1M95 80h1M120 81h1M43 83h1M31 84h1M86 85h1M58 86h1M139 87h1M26 88h1M33 88h1M63 89h1M65 91h1M91 91h1M108 92h1M114 92h1M10 93h1M5 94h1M31 94h1M108 96h1M63 97h1M17 98h1M89 99h1M10 104h1M27 104h1"/><path stroke="#56147d" d="M16 8h1M82 8h1M88 8h1M46 9h2M0 10h1M69 10h1M25 11h1M36 13h1M76 13h1M80 13h1M7 17h1M23 17h1M36 18h1M20 20h1M26 21h1M47 21h1M40 23h1M8 25h1M40 25h1M74 26h1M85 26h1M40 33h1M9 34h1M16 37h1M9 38h1M7 39h1M10 39h1M37 39h1M2 40h1M117 40h1M112 41h1M16 42h1M133 42h1M13 45h1M36 45h1M44 45h1M67 45h1M105 45h1M14 46h1M20 46h2M41 46h1M57 46h1M98 46h1M70 47h2M109 47h1M89 48h1M38 49h1M62 49h1M89 49h1M69 50h1M48 51h1M68 51h1M79 51h1M81 51h1M65 52h1M135 53h1M104 54h1M46 55h1M90 55h1M106 55h1M49 56h1M90 56h1M106 56h1M44 57h1M46 57h1M16 58h3M58 58h2M92 58h1M105 58h2M108 58h2M92 59h1M0 60h1M54 60h1M78 60h1M5 62h1M27 62h1M106 62h1M108 62h1M23 63h1M55 63h1M61 63h1M92 63h1M18 65h1M90 66h1M50 67h1M84 68h1M103 68h1M108 68h1M0 69h1M17 70h1M91 70h1M96 70h1M8 71h1M96 71h2M129 71h1M137 71h1M28 72h1M81 72h1M10 73h1M136 73h1M139 73h1M9 74h1M71 75h1M108 76h1M121 76h1M83 78h1M25 79h1M91 79h1M96 80h1M131 81h1M138 81h1M126 82h1M60 84h1M127 84h1M139 84h1M88 86h1M38 87h2M128 87h1M131 87h1M109 90h1M2 91h1M56 91h1M49 93h1M86 93h1M109 94h1M114 96h1"/><path stroke="#57157e" d="M2 8h1M8 8h1M41 8h1M19 9h1M58 9h1M69 9h1M72 9h1M79 9h1M82 9h1M5 10h2M18 10h1M46 10h1M5 11h1M7 11h1M26 11h1M46 11h1M21 13h1M22 15h1M26 17h1M40 17h1M31 18h1M20 19h1M33 19h1M43 19h1M26 20h1M40 21h1M24 22h1M87 22h1M19 23h1M8 24h1M23 24h1M25 24h1M48 24h1M78 24h1M7 25h1M17 25h1M39 25h1M48 25h1M85 25h1M26 26h1M46 26h1M82 27h1M24 28h1M16 36h1M5 37h1M9 39h1M123 39h1M116 40h1M136 40h1M115 44h1M129 44h1M29 45h1M55 45h1M58 45h1M62 45h1M102 45h1M50 46h1M58 46h1M85 46h1M90 46h1M50 47h1M35 48h1M47 48h1M36 50h1M47 50h1M92 50h1M19 51h1M25 51h1M37 51h1M82 51h1M117 51h1M124 51h1M50 52h1M57 52h1M25 53h1M55 53h1M78 54h1M115 54h1M89 55h1M25 57h1M93 58h2M96 58h1M12 59h1M50 59h1M67 59h1M74 59h1M85 59h1M79 60h1M27 61h1M54 61h1M52 62h1M22 63h1M66 63h3M8 64h1M131 65h1M4 66h1M27 66h1M51 67h1M67 67h1M38 68h1M27 69h1M16 70h1M73 70h1M95 70h1M9 71h1M20 73h1M133 75h1M82 76h1M136 78h1M139 79h1M53 83h1M32 84h1M91 86h1M37 87h1M48 89h1M57 90h1M33 91h1M108 94h1M55 98h1M89 106h1"/><path stroke="#59157e" d="M15 8h1M83 8h1M9 9h1M89 9h1M42 10h1M52 10h1M77 10h1M9 11h1M47 11h1M50 11h1M64 11h1M75 11h1M85 11h1M32 12h1M36 14h1M25 18h1M17 19h1M26 22h1M40 22h1M46 23h1M84 23h1M77 25h1M74 27h1M30 28h1M50 28h1M78 28h1M44 29h1M117 36h1M123 37h1M116 38h1M5 39h1M120 40h1M16 43h1M45 44h1M12 45h1M15 45h1M25 45h1M47 45h1M57 45h1M60 45h1M30 46h1M56 46h1M70 46h1M37 47h1M55 47h1M101 47h1M36 48h1M38 48h1M10 50h1M70 50h2M117 50h1M76 51h1M79 53h1M109 54h1M15 55h1M20 55h1M33 56h1M120 56h1M28 58h1M13 59h1M108 59h1M108 60h1M59 61h1M72 61h1M94 61h1M134 62h1M2 63h1M56 63h1M59 63h1M28 66h1M76 66h1M28 67h1M131 68h1M68 70h1M81 73h1M120 73h1M1 74h1M30 74h1M53 74h1M103 74h1M137 75h1M34 76h1M75 77h2M131 77h1M11 78h1M31 78h1M131 78h1M39 79h1M132 80h1M64 81h1M119 81h1M130 82h1M55 83h1M131 83h1M33 84h1M136 84h1M58 85h1M108 86h1M135 86h1M11 87h1M31 91h1M86 91h1M128 93h1M75 100h1"/><path stroke="#5a167e" d="M30 8h1M0 9h1M4 9h3M24 9h1M40 9h1M45 9h1M77 9h1M37 11h1M45 11h1M82 11h1M36 12h1M77 12h1M17 14h1M40 15h1M45 15h1M25 16h1M13 17h1M17 17h1M45 17h1M23 18h1M26 19h1M43 20h1M48 21h1M85 21h1M48 22h1M26 23h1M7 24h1M40 24h2M43 26h2M43 27h1M85 27h1M41 29h1M120 36h1M0 37h1M10 37h1M115 38h1M123 38h1M5 42h1M0 43h1M45 43h1M14 45h1M30 45h1M41 45h1M56 45h1M47 46h1M91 46h1M121 46h1M26 47h1M38 47h1M51 47h1M29 48h1M49 48h1M71 48h1M88 48h1M61 49h1M48 50h1M21 51h1M36 51h1M44 51h1M39 52h1M137 52h1M62 53h1M4 54h1M107 55h1M1 57h1M43 57h1M65 59h1M27 60h1M104 62h1M58 64h1M106 64h1M131 64h1M109 66h1M72 67h1M78 67h1M49 70h1M108 70h1M31 72h1M8 73h1M40 76h1M137 76h1M10 78h1M118 81h1M86 82h1M132 82h1M132 83h1M136 83h1M134 86h1M127 87h1M108 88h1M14 91h1"/><path stroke="#5c167f" d="M6 8h1M42 8h1M7 9h1M17 9h1M51 9h1M7 10h1M9 10h1M12 10h1M26 10h1M36 10h1M40 10h1M83 10h1M89 10h1M17 11h1M52 11h1M84 11h1M15 12h1M65 12h1M75 12h1M74 13h1M35 14h1M7 16h1M22 16h1M21 17h1M39 17h1M27 20h1M49 21h1M19 22h1M33 24h1M33 25h1M43 25h1M46 25h1M49 25h1M74 25h1M30 26h1M47 26h1M80 26h1M12 27h1M46 27h1M74 30h1M13 35h1M11 38h1M37 38h1M115 39h1M7 41h1M92 43h1M121 43h1M54 44h1M54 45h1M31 46h1M48 46h1M59 46h1M77 46h1M104 46h1M24 47h1M47 47h1M59 47h1M85 47h1M129 48h1M71 49h1M133 51h1M92 52h1M108 52h1M74 53h1M93 54h1M56 55h1M109 55h1M45 56h1M45 57h1M79 57h1M125 57h1M27 59h1M91 59h1M94 60h1M91 63h1M14 64h1M33 66h1M92 66h1M41 67h1M100 67h1M125 67h1M99 68h1M122 68h1M125 68h1M29 72h1M58 72h1M106 73h1M134 73h1M135 75h1M132 77h1M134 77h1M139 78h1M38 79h1M139 82h1M138 84h1M20 87h1M126 87h1M83 89h1M100 89h1M91 90h1M55 91h1M108 93h1M88 99h1M28 100h2M38 101h1"/><path stroke="#5d177f" d="M48 8h1M72 8h1M77 8h1M29 9h1M83 9h1M53 10h1M82 10h1M39 11h1M77 11h1M39 12h1M85 12h1M22 13h1M27 13h1M7 14h1M25 14h1M27 14h1M80 14h1M21 15h1M24 15h1M27 16h1M48 16h1M13 18h1M18 19h1M27 19h2M47 20h1M8 21h1M9 22h1M27 22h1M30 22h1M23 23h1M78 23h1M20 24h1M37 24h1M39 24h1M84 25h1M40 26h1M81 26h1M26 27h1M28 28h1M28 29h1M5 36h1M123 36h1M7 38h1M13 38h1M139 39h1M3 40h1M134 41h1M10 42h1M126 42h1M91 43h1M18 44h1M66 44h1M99 45h1M103 45h1M79 46h1M86 46h1M88 47h1M126 47h1M19 48h1M128 48h1M36 49h1M85 49h1M104 49h1M37 50h1M20 51h1M88 51h1M105 53h1M91 58h1M135 58h1M6 59h1M93 61h1M130 61h1M39 62h1M72 70h1M65 72h1M107 73h1M132 73h1M138 73h1M131 75h1M134 76h1M138 77h1M8 79h1M108 80h1M108 82h1M109 83h1M133 86h1M94 87h1M108 98h1"/><path stroke="#5f187f" d="M75 7h2M12 8h1M40 8h1M62 8h1M70 8h1M73 8h1M12 9h1M23 9h1M34 9h1M59 9h1M68 9h1M23 10h1M6 11h1M34 11h1M51 11h1M69 11h1M81 11h1M89 11h1M25 12h1M83 12h1M86 12h1M45 13h1M13 15h1M40 16h1M27 17h1M26 18h1M33 18h1M7 19h1M9 20h1M25 20h1M9 21h1M20 22h1M33 22h1M82 22h1M9 23h1M12 23h1M17 23h1M33 23h1M17 24h1M22 24h1M132 24h1M12 26h1M8 27h1M82 28h1M44 30h1M2 35h1M11 37h1M116 37h1M137 39h1M123 40h1M132 42h1M32 44h1M34 44h2M137 44h1M43 45h1M72 45h1M81 45h1M94 45h1M88 46h1M18 47h1M57 47h2M105 47h1M18 48h1M20 48h1M104 48h1M109 49h1M91 50h1M0 51h1M56 52h1M105 52h1M56 53h1M79 54h1M90 57h1M124 57h1M123 60h1M16 64h1M66 67h1M73 67h1M137 73h1M29 74h1M107 74h1M131 80h1M138 82h1M133 83h2M101 89h1"/><path stroke="#601880" d="M13 8h1M38 8h1M65 8h1M84 8h1M2 9h1M26 9h1M87 9h1M3 10h1M56 10h1M27 11h1M29 11h1M27 12h1M29 12h1M46 12h1M72 12h1M79 12h1M10 13h1M30 13h1M34 13h1M37 13h1M16 15h1M29 15h1M20 16h1M25 17h1M29 17h1M17 18h1M20 18h1M27 18h1M47 18h1M34 20h1M14 21h1M17 21h1M19 21h1M25 21h1M30 21h1M44 23h1M9 24h1M46 24h1M87 24h1M12 25h1M18 25h2M22 25h1M25 25h1M7 26h1M23 26h1M25 26h1M48 26h1M78 26h1M78 27h1M43 28h1M80 28h1M85 29h1M30 30h1M50 30h1M6 34h1M13 34h1M10 36h1M37 36h1M9 37h1M3 38h1M6 38h1M111 38h1M1 40h1M112 40h1M5 41h1M122 41h1M108 42h1M13 43h2M31 44h1M44 44h1M7 46h1M23 47h1M91 47h1M107 48h1M109 48h1M90 49h1M49 50h1M16 55h1M55 55h1M91 56h1M93 56h1M118 56h1M139 61h1M90 62h1M68 64h1M123 66h1M25 68h1M72 68h1M58 69h1M126 69h1M49 75h1M139 77h1M67 82h1M137 82h1M85 91h1"/><path stroke="#621980" d="M0 8h2M18 8h1M49 8h1M51 8h1M54 8h1M8 9h1M13 9h1M48 9h1M52 9h1M17 10h1M45 10h1M58 10h1M36 11h1M49 11h1M61 11h1M7 12h1M63 12h1M88 12h1M25 13h1M33 13h1M47 13h1M66 13h1M75 13h1M13 14h1M16 14h1M31 14h1M48 14h2M70 14h1M33 15h1M35 15h1M28 18h2M43 18h1M47 19h1M10 20h1M27 21h1M39 22h1M41 22h1M42 23h1M77 23h1M18 24h2M31 24h1M23 25h1M79 25h1M79 26h1M84 26h1M87 26h1M27 27h1M46 28h1M79 28h1M30 29h1M46 29h1M44 31h1M120 35h1M6 36h1M6 37h1M13 37h1M38 37h1M17 38h1M134 39h1M9 40h2M120 41h1M123 41h1M7 42h1M130 43h1M17 44h1M53 44h1M132 44h1M17 45h1M59 45h1M8 46h1M71 46h1M56 47h1M91 49h1M118 50h1M118 51h1M107 52h1M109 52h1M134 52h1M136 53h1M136 55h1M133 56h1M60 61h1M108 64h1M108 66h1M9 73h1M133 73h1M138 75h1M139 76h1M138 78h1M42 79h1M136 79h1M132 81h1M135 83h1M73 95h1M115 96h1"/><path stroke="#641a80" d="M86 7h1M58 8h2M74 8h1M79 8h1M81 8h1M27 9h1M36 9h1M56 9h1M78 9h1M13 10h1M29 10h1M48 10h1M38 12h1M47 12h1M50 12h1M16 13h1M46 13h1M45 14h1M26 15h2M18 17h1M47 17h1M18 18h1M40 18h1M23 19h1M19 20h1M33 20h1M18 21h1M20 21h1M39 21h1M42 22h1M77 24h1M31 25h1M13 26h2M87 27h1M71 28h1M75 28h1M27 29h1M78 30h1M85 30h1M41 33h1M1 35h1M9 35h1M15 36h1M110 37h1M15 38h1M139 38h1M136 39h1M138 39h1M17 40h1M130 42h1M27 44h1M95 45h1M104 45h1M73 46h1M109 46h1M17 47h1M108 47h1M28 48h1M91 51h1M105 54h1M138 54h1M91 55h1M123 57h1M98 58h1M120 59h1M15 64h1M25 64h1M139 64h1M122 66h1M59 69h1M108 74h1M131 74h1M131 76h1M138 76h1M136 77h1M133 78h1M135 78h1M135 80h1M136 81h1M135 82h1M137 85h1M137 86h1"/><path stroke="#651a80" d="M36 8h1M67 8h1M89 8h1M1 9h1M11 9h1M20 9h1M44 9h1M81 9h1M60 10h1M68 10h1M87 10h1M0 11h1M16 12h1M42 12h1M67 12h1M7 13h1M15 13h1M70 13h1M77 13h1M11 14h1M32 14h1M46 14h1M20 15h1M32 15h1M31 16h1M43 16h1M20 17h1M39 18h1M132 18h1M19 19h1M40 19h1M8 20h1M39 20h1M44 21h1M12 22h1M44 22h1M110 22h1M11 23h1M18 23h1M22 23h1M43 24h1M45 24h1M79 24h1M37 25h1M44 25h1M76 25h1M6 26h1M31 27h1M40 27h1M50 27h1M71 27h1M77 27h1M80 27h1M48 28h1M74 29h1M80 29h1M40 32h1M95 32h1M5 35h1M10 35h1M40 35h1M135 37h1M37 40h1M17 41h1M115 42h1M15 43h1M14 44h1M28 44h1M42 44h1M105 44h1M108 44h1M133 44h1M82 45h1M96 45h1M87 46h1M118 46h1M48 47h1M89 47h2M108 48h1M10 51h1M136 52h1M118 53h1M91 54h1M132 58h1M93 60h1M121 63h1M99 67h1M135 74h1M134 79h1M137 81h1M108 83h1M138 87h1M108 90h1M109 93h1"/><path stroke="#671b80" d="M33 7h1M4 8h1M9 8h1M53 8h1M12 11h2M54 12h1M82 12h1M11 13h1M17 13h1M20 13h1M39 13h2M65 13h1M24 14h1M40 14h1M18 15h1M48 15h1M37 16h1M39 16h1M31 19h1M13 20h1M23 20h1M40 20h1M49 20h1M15 21h1M34 21h1M77 22h1M31 23h1M33 26h1M63 26h1M7 27h1M17 27h1M25 27h1M77 28h1M87 28h1M21 29h1M24 29h1M78 29h1M30 33h1M95 33h1M2 34h1M4 34h1M37 34h1M0 35h1M34 36h1M7 37h1M17 39h1M118 39h1M108 41h1M44 43h1M67 44h2M18 45h1M61 45h1M121 45h1M127 45h1M107 47h1M37 49h1M1 51h1M138 53h1M25 59h1M109 59h1M91 62h1M132 62h1M67 64h1M133 77h1M138 79h1M133 80h2M138 86h2"/><path stroke="#681c81" d="M47 8h1M60 9h1M27 10h1M59 10h1M78 10h1M84 10h2M53 11h1M58 11h1M67 11h1M87 11h1M20 12h1M33 12h1M69 12h1M85 13h1M9 14h2M15 14h1M20 14h1M30 14h1M39 14h1M32 16h2M30 17h1M37 17h1M43 17h1M46 18h1M10 19h1M29 19h1M39 19h1M110 20h1M13 21h1M33 21h1M133 21h1M18 22h1M23 22h1M25 22h1M25 23h1M74 24h1M133 24h1M6 25h1M45 25h1M8 26h1M11 26h1M20 26h1M11 27h1M13 27h2M33 27h1M48 27h1M84 27h1M69 28h1M82 29h1M79 30h1M34 34h1M122 34h1M6 35h1M42 37h1M118 37h1M2 38h1M34 39h1M116 39h1M125 39h1M125 40h1M9 41h2M17 42h1M17 43h1M35 43h1M16 44h1M19 44h1M48 44h1M90 45h1M49 46h1M74 46h1M25 47h1M9 48h1M49 51h1M89 51h1M134 53h1M92 54h1M92 55h1M92 56h1M26 59h1M107 64h1M124 69h1M132 74h1M136 74h1M131 79h1M135 79h1M138 80h1M134 81h1M137 87h1"/><path stroke="#6a1c81" d="M35 7h1M80 7h1M17 8h1M66 8h1M69 8h1M87 8h1M43 9h1M24 10h1M40 11h2M5 12h1M11 12h1M13 12h1M17 12h2M45 12h1M49 12h1M9 13h1M13 13h1M48 13h1M79 13h1M47 14h1M39 15h1M43 15h1M11 16h1M13 16h1M17 16h1M35 16h1M14 17h1M22 17h1M31 17h1M22 18h1M30 18h1M32 18h1M37 18h1M49 18h1M110 18h1M12 20h1M133 20h1M10 21h1M34 22h1M39 23h1M74 23h1M76 23h1M13 25h1M27 26h1M49 26h1M71 26h1M88 26h2M81 27h1M27 28h1M76 28h1M86 28h1M27 30h1M80 30h1M15 34h1M30 34h1M16 35h1M8 36h1M14 36h1M42 36h1M121 37h1M137 38h1M11 39h1M15 39h1M8 41h1M15 41h1M11 42h1M45 42h1M109 42h1M18 43h1M30 44h1M46 44h1M92 44h1M97 44h1M101 44h1M128 44h1M116 46h1M106 47h1M105 50h1M4 53h1M138 56h1M132 59h1M7 60h1M124 62h1M123 68h1M59 72h1M133 74h1M134 75h1M137 78h1M66 82h1M133 82h1"/><path stroke="#6b1d81" d="M64 8h1M78 8h1M28 9h1M85 9h1M1 10h2M34 10h1M24 11h1M28 11h1M38 11h1M12 12h1M40 12h1M84 12h1M49 13h2M11 15h1M25 15h1M46 15h1M30 16h1M46 17h1M110 17h1M14 18h1M36 19h1M42 19h1M29 20h1M85 20h1M22 21h1M110 21h1M10 22h2M73 22h1M6 23h1M10 23h1M73 23h1M110 23h1M10 24h1M12 24h1M27 24h1M81 24h1M110 24h1M14 25h1M80 25h1M132 25h1M45 26h1M54 26h1M23 27h1M63 27h1M79 27h1M17 28h1M43 29h1M52 29h1M82 30h1M30 31h1M1 34h1M36 34h1M41 34h1M123 35h1M11 36h1M40 36h1M3 37h1M17 37h1M94 37h1M139 37h1M118 38h1M136 38h1M8 39h1M8 40h1M9 42h1M28 43h1M128 43h1M29 44h1M39 44h1M41 44h1M58 44h1M87 44h1M96 44h1M100 44h1M4 45h1M50 45h1M83 45h1M87 45h1M6 47h1M109 50h1M3 54h1M9 55h1M121 61h1M4 63h1M137 74h1M139 74h1"/><path stroke="#6d1d81" d="M84 7h1M23 8h1M26 8h1M4 10h1M19 10h1M81 10h1M42 11h1M57 11h1M41 12h1M64 12h1M5 13h1M29 13h1M29 14h1M33 14h1M15 15h1M29 16h1M46 16h1M15 17h1M33 17h1M132 17h1M10 18h1M9 19h1M25 19h1M49 19h1M110 19h1M11 20h1M14 20h1M17 20h2M31 21h1M87 21h1M17 22h1M29 22h1M37 22h1M16 23h1M34 23h1M87 23h1M44 24h1M27 25h1M32 25h1M42 25h1M71 25h1M81 25h1M29 27h1M23 28h1M89 28h1M40 29h1M81 29h1M84 29h1M89 29h1M9 32h1M41 32h1M31 34h1M11 35h1M15 35h1M17 35h1M94 35h2M8 38h1M138 38h1M6 39h1M18 40h1M109 41h1M37 42h1M116 42h1M55 44h1M62 44h2M19 45h1M53 45h1M69 45h1M86 45h1M109 45h1M114 45h1M5 47h1M121 47h1M139 47h1M105 48h1M121 48h1M120 51h1M9 52h1M9 53h1M106 54h1M10 57h1M91 57h1M123 58h1M66 59h1M6 60h1M122 67h1M124 68h1M134 74h1M134 78h1M136 80h1M11 83h1"/><path stroke="#6e1e81" d="M32 7h1M83 7h1M85 8h1M84 9h1M20 10h1M34 12h1M86 13h1M88 13h1M14 14h1M49 15h1M70 15h1M12 18h1M13 19h1M29 21h1M13 22h1M133 22h1M133 23h1M11 24h1M76 24h1M50 25h1M61 25h1M66 25h1M132 26h1M16 27h1M22 27h1M36 27h1M42 27h1M47 27h1M69 27h1M25 28h1M33 28h1M39 28h1M47 28h1M52 28h1M63 28h1M25 30h1M16 34h1M95 34h1M37 35h1M44 35h1M3 36h1M17 36h1M38 36h1M41 36h1M119 36h1M41 38h1M134 38h1M44 39h1M42 40h1M114 41h1M136 42h1M19 43h1M42 43h1M71 45h1M105 46h1M49 47h1M114 47h1M126 51h2M132 52h1M106 53h2M108 54h1M135 55h1M139 55h1M3 56h1M118 57h1M5 64h1M91 66h1M133 76h1M135 81h1M131 82h1"/><path stroke="#701f81" d="M5 8h1M19 8h1M52 8h1M68 8h1M14 9h1M55 9h1M11 10h1M28 10h1M44 10h1M11 11h1M78 11h1M24 12h1M52 12h1M62 12h1M81 12h1M67 13h1M30 15h1M37 15h1M47 15h1M47 16h1M49 16h1M12 17h1M35 17h1M30 19h1M30 20h1M44 20h1M16 21h1M72 22h1M76 22h1M78 22h1M27 23h1M6 24h1M80 24h1M9 25h1M11 25h1M22 26h1M42 26h1M50 26h1M77 26h1M133 26h1M32 27h1M39 27h1M40 28h1M81 28h1M79 29h1M24 30h1M28 30h1M71 30h1M81 30h1M40 31h1M8 34h1M30 35h1M34 35h1M41 35h1M117 35h1M7 36h1M115 36h1M111 37h1M12 38h1M101 38h1M35 39h1M6 40h1M101 40h1M11 41h1M13 42h1M15 42h1M105 42h1M117 42h1M12 43h1M34 43h1M37 43h1M126 43h1M131 43h1M133 43h1M13 44h1M65 44h1M109 44h1M49 45h1M75 46h1M106 48h1M3 49h1M138 49h1M90 51h1M108 53h1M139 60h1M129 61h1M124 64h1M137 79h1M137 84h1"/><path stroke="#721f81" d="M31 7h1M77 7h1M34 8h1M56 8h1M60 8h1M14 11h1M12 13h1M64 13h1M9 15h2M14 15h1M42 15h1M77 15h1M44 16h1M16 17h1M42 17h1M49 17h1M11 18h1M15 18h1M15 19h1M35 19h1M15 20h1M37 20h1M12 21h1M37 21h1M41 21h1M31 22h1M46 22h1M29 23h1M14 24h1M32 24h1M51 24h1M66 24h1M16 25h1M17 26h1M37 26h1M37 27h1M45 27h1M138 27h1M26 28h1M32 28h1M37 28h1M77 29h1M75 30h1M84 30h1M27 31h1M41 31h1M74 31h1M2 33h1M104 33h1M14 34h1M35 34h1M34 37h1M1 38h1M44 38h1M94 38h1M13 39h1M109 39h1M121 39h1M11 40h1M15 40h1M37 41h1M105 41h1M124 41h1M12 42h1M33 42h1M107 42h1M118 42h1M6 43h1M103 43h1M105 43h1M12 44h1M15 44h1M26 44h1M36 44h1M38 44h1M3 45h1M24 45h1M70 45h1M74 45h1M89 45h1M76 46h1M108 49h1M105 51h1M108 51h1M123 51h1M138 51h1M10 55h1M121 55h1M97 58h1M7 62h1M127 63h1M138 74h1M132 79h1M133 81h1M134 82h1"/><path stroke="#732081" d="M14 8h1M27 8h1M29 8h1M14 10h1M43 10h1M55 10h1M8 11h1M68 11h1M6 13h1M37 14h1M50 14h1M79 14h1M5 15h1M31 15h1M10 16h1M70 17h1M9 18h1M35 18h1M22 19h1M44 19h1M46 19h1M82 21h1M16 22h1M50 22h1M61 23h1M34 25h1M73 25h1M87 25h1M66 26h1M76 26h1M6 27h1M20 27h1M49 27h1M76 27h1M89 27h1M8 28h1M22 28h1M45 28h1M13 29h1M41 30h1M13 32h1M44 32h1M9 33h1M13 33h1M17 33h1M36 33h1M10 34h1M26 34h1M94 34h1M26 36h1M30 36h1M135 36h1M12 37h1M14 38h1M121 38h1M105 39h1M108 39h1M139 41h1M31 42h1M44 42h1M29 43h1M33 43h1M40 43h1M90 43h1M93 43h1M20 44h1M22 44h1M37 44h1M43 44h1M69 44h1M99 44h1M102 44h1M11 46h1M2 48h1M107 50h2M107 51h1M5 60h1M131 62h1M133 62h1M139 75h1M137 77h1M133 79h1"/><path stroke="#752181" d="M61 7h1M8 10h1M3 11h1M48 11h1M56 11h1M43 12h1M51 12h1M71 12h1M89 12h1M74 14h1M28 15h1M11 17h1M42 18h1M11 19h1M14 19h1M133 19h1M31 20h1M77 20h1M61 22h1M81 22h1M89 23h1M29 24h1M34 24h1M50 24h1M10 25h1M36 25h1M38 25h1M67 25h1M133 25h1M138 25h1M75 26h1M137 26h2M72 27h1M88 27h1M137 27h1M25 29h1M39 29h1M21 30h1M46 30h1M89 30h1M75 31h1M78 31h1M81 31h1M36 32h1M42 33h1M44 33h1M25 34h1M106 34h1M14 35h1M25 36h1M35 36h2M121 36h1M41 37h1M28 38h1M105 40h1M118 40h1M14 41h1M28 41h1M35 41h1M28 42h1M40 42h1M42 42h1M108 43h1M60 44h1M88 44h1M93 44h1M103 44h1M75 45h1M80 45h1M108 46h1M4 47h1M131 48h1M119 49h1M119 50h1M121 53h1M2 54h1M128 57h1M135 57h2M2 58h1M127 58h1M134 60h1M124 61h1M128 61h1M132 76h1"/><path stroke="#762181" d="M7 7h2M73 7h1M82 7h1M11 8h1M46 8h1M4 11h1M20 11h1M43 11h2M71 11h1M6 12h1M68 12h1M24 13h1M73 13h1M83 13h2M12 15h1M50 15h1M18 16h1M28 17h1M8 18h1M44 18h1M8 19h1M16 19h1M37 19h1M11 21h1M14 22h1M22 22h1M88 22h1M14 23h1M37 23h1M72 23h1M79 23h1M16 24h1M36 24h1M57 24h1M89 24h1M51 25h1M69 25h1M89 25h1M31 26h1M86 27h1M110 27h1M19 28h1M31 28h1M49 28h1M14 29h1M63 29h1M71 29h1M33 31h1M50 31h1M82 31h1M1 33h1M15 33h1M26 33h1M122 33h1M17 34h1M32 34h1M104 35h1M115 35h1M95 36h1M8 37h1M15 37h1M32 37h1M44 37h1M101 37h1M125 37h1M34 38h1M125 38h1M113 39h1M13 40h1M109 40h1M133 41h1M101 42h1M103 42h1M21 44h1M47 44h1M70 44h1M86 44h1M91 44h1M95 44h1M114 44h1M73 45h1M85 45h1M97 45h1M106 45h1M6 49h1M106 50h1M109 51h1M122 63h1"/><path stroke="#782281" d="M16 7h1M59 11h1M18 13h1M42 13h1M63 13h1M18 14h1M77 14h1M88 14h1M15 16h2M110 16h1M10 17h1M12 19h1M32 19h1M42 20h1M46 20h1M42 21h1M46 21h1M13 23h1M50 23h1M81 23h1M72 25h1M110 25h1M19 26h1M32 26h1M15 27h1M34 27h1M75 27h1M14 28h1M51 28h1M70 28h1M92 28h1M12 29h1M23 29h1M29 29h1M36 29h1M51 29h1M26 30h1M43 30h1M73 30h1M77 30h1M46 31h1M85 31h1M37 32h1M35 33h1M5 34h1M11 34h1M7 35h2M26 35h1M94 36h1M96 36h2M110 36h1M40 38h1M42 38h1M105 38h1M12 39h1M25 39h1M42 39h1M28 40h1M108 40h1M13 41h1M42 41h1M4 42h1M123 43h1M11 44h1M107 44h1M22 45h1M78 45h1M88 45h1M133 45h1M117 46h1M129 50h1M135 50h1M9 51h1M109 53h1M119 53h1M136 58h1M4 60h1M124 60h1M4 62h1"/><path stroke="#792282" d="M10 7h1M57 7h1M78 7h2M43 8h1M128 10h1M19 11h1M48 12h1M61 12h1M38 13h1M41 13h1M62 13h1M81 13h1M12 14h1M43 14h1M41 15h1M12 16h1M32 17h1M77 17h1M19 18h1M15 22h1M15 23h1M63 24h1M71 24h1M88 24h1M70 25h1M34 26h1M62 26h1M29 28h1M36 28h1M73 28h1M88 28h1M47 29h1M58 29h1M87 29h1M29 30h1M36 30h1M63 30h1M71 31h1M30 32h1M6 33h1M31 33h1M34 33h1M46 33h1M39 34h1M116 36h1M95 37h1M105 37h1M109 37h1M137 37h1M38 38h1M109 38h1M28 39h1M138 40h1M45 41h1M131 41h1M14 42h1M27 42h1M30 42h1M97 43h1M104 43h1M109 43h1M52 44h1M56 44h1M64 44h1M98 44h1M104 44h1M84 45h1M108 45h1M135 47h1M130 48h1M105 49h1M2 52h1M106 52h1M116 52h1M6 53h1M137 54h1M7 55h1M137 83h1"/><path stroke="#7b2382" d="M25 7h1M72 7h1M88 7h1M20 8h1M128 8h1M71 10h1M28 12h1M87 12h1M89 13h1M76 15h1M9 17h1M16 18h1M133 18h1M77 19h1M85 19h1M137 19h1M22 20h1M87 20h1M77 21h1M53 23h1M13 24h1M38 24h1M73 24h1M29 25h1M16 26h1M36 26h1M67 26h1M19 27h1M52 27h1M6 28h1M20 28h1M26 29h1M33 29h1M48 29h1M86 29h1M52 30h1M87 30h1M13 31h1M17 31h1M34 31h1M76 31h2M4 33h1M29 33h1M37 33h1M94 33h1M7 34h1M28 34h1M120 34h1M123 34h1M42 35h1M119 35h1M121 35h1M28 36h1M32 36h1M118 36h1M25 37h1M96 37h1M108 37h1M25 38h1M14 39h1M101 39h1M18 41h1M27 41h1M101 41h1M107 41h1M18 42h1M102 42h1M128 42h1M38 43h1M46 43h1M60 43h1M63 43h1M101 43h1M10 44h1M24 44h1M57 44h1M7 45h1M115 45h1M1 46h1M107 46h1M119 46h1M1 48h1M116 48h1M132 48h1M128 51h1M130 53h1M121 54h1M135 54h1M10 56h1M119 56h1M132 57h1M125 58h1M126 59h1M125 61h1M5 63h1M127 64h1"/><path stroke="#7c2382" d="M27 7h1M2 11h1M128 11h1M0 12h1M19 12h1M56 12h1M128 12h1M28 13h1M82 13h1M63 14h1M6 15h1M44 15h1M14 16h1M70 16h1M132 16h1M41 19h1M78 21h2M32 22h1M84 22h1M32 23h1M57 23h1M66 23h1M42 24h1M61 24h1M72 24h1M88 25h1M137 25h1M38 26h1M61 26h1M69 26h1M72 26h1M10 27h1M67 27h1M133 27h1M12 28h1M42 28h1M133 28h1M76 29h1M137 29h1M33 30h1M76 30h1M14 31h1M31 31h1M52 31h1M95 31h1M6 32h1M17 32h1M35 32h1M0 34h1M93 34h1M91 35h1M40 37h1M138 37h1M1 39h1M33 39h1M38 39h1M94 39h1M104 39h1M27 40h1M94 40h1M33 41h1M40 41h1M44 41h1M126 41h1M29 42h1M20 43h1M50 43h1M102 43h1M114 43h1M50 44h1M59 44h1M81 44h1M94 44h1M20 45h1M51 45h1M98 45h1M106 46h1M134 47h1M119 48h1M134 50h1M7 51h1M135 51h1M10 52h1M10 53h1M122 54h1M129 57h1M130 60h1"/><path stroke="#7e2482" d="M15 7h1M39 7h1M28 8h1M45 8h1M99 8h1M55 11h1M60 11h1M8 12h1M14 12h1M43 13h1M72 13h1M81 14h1M38 16h1M41 17h1M70 18h1M16 20h1M50 21h1M67 21h1M6 22h1M51 22h1M74 22h1M51 23h1M54 25h1M57 25h1M63 25h1M29 26h1M55 26h1M51 27h1M13 28h1M58 28h1M72 28h1M132 28h1M69 29h1M40 30h1M86 30h1M43 31h1M45 31h1M63 31h1M11 32h1M74 32h1M85 32h1M94 32h1M14 33h1M27 33h1M33 34h1M42 34h1M93 35h1M106 35h1M104 37h1M136 37h1M108 38h1M14 40h1M40 40h1M44 40h2M91 40h1M91 42h1M27 43h1M36 43h1M89 43h1M25 44h1M71 44h2M76 44h1M89 44h1M21 45h1M76 45h1M1 50h1M136 50h1M106 51h1M133 53h1M10 54h1M107 54h1M4 56h1M133 60h1M138 60h1M135 61h1M138 61h1"/><path stroke="#802582" d="M6 7h1M22 7h1M24 7h1M62 7h1M1 11h1M58 12h1M14 13h1M61 13h1M5 14h1M42 14h1M66 14h1M9 16h1M42 16h1M8 17h1M38 17h1M41 18h1M41 20h1M36 21h1M67 22h1M10 26h1M51 26h1M111 26h1M9 27h1M70 27h1M55 28h1M67 28h1M83 28h1M110 28h1M17 29h1M32 29h1M42 29h1M45 29h1M31 30h1M15 31h1M28 31h1M35 31h2M14 32h1M27 32h1M81 32h1M97 32h1M16 33h1M29 34h1M38 34h1M44 34h1M91 34h1M104 34h1M3 35h1M101 35h1M137 36h1M139 36h1M18 37h1M43 37h1M93 37h1M18 38h1M35 38h1M104 38h1M18 39h1M41 39h1M12 40h1M38 40h1M41 40h1M121 40h1M31 41h1M34 41h1M35 42h1M38 42h1M135 42h1M30 43h2M62 43h1M107 43h1M23 44h1M77 44h1M106 44h1M23 45h1M107 45h1M3 47h1M122 47h1M123 48h1M118 49h1M8 52h1M1 54h1M5 54h1M9 57h1M139 59h1M131 61h1M128 63h1M130 63h1M124 65h1M137 80h1"/><path stroke="#812581" d="M0 7h1M44 8h1M128 9h1M6 14h1M28 14h1M38 14h1M50 16h1M64 16h1M76 17h1M133 17h1M70 19h1M78 20h1M137 20h1M32 21h1M71 22h1M75 25h1M73 26h1M110 26h1M57 27h1M66 27h1M132 27h1M16 28h1M137 28h1M22 29h1M31 29h1M37 29h1M13 30h1M45 30h1M72 30h1M73 31h1M89 31h1M43 32h1M73 32h1M86 32h1M0 33h1M27 34h1M46 34h1M117 34h1M25 35h1M43 35h1M116 35h1M91 36h1M136 36h1M36 37h1M91 38h1M95 38h1M26 39h1M45 39h1M131 40h1M12 41h1M134 42h1M41 43h1M54 43h1M0 44h1M51 44h1M79 45h1M120 47h1M115 48h1M126 50h1M4 52h1M123 52h1M124 53h1M134 54h1M134 56h1M120 57h1M4 59h1"/><path stroke="#832681" d="M50 7h1M70 7h1M55 8h1M99 11h1M55 12h1M60 12h1M78 12h1M44 13h1M55 13h1M71 13h1M55 14h1M82 14h1M128 14h1M19 15h1M75 15h1M0 16h1M28 16h1M63 16h1M19 17h1M44 17h1M61 20h1M73 21h1M76 21h1M36 22h1M79 22h1M54 23h1M88 23h1M15 24h1M86 24h1M64 27h1M7 28h1M4 29h1M61 29h1M72 29h2M92 31h1M8 32h1M26 32h1M42 32h1M8 33h1M25 33h1M97 33h1M137 33h1M31 35h1M36 35h1M46 35h1M96 35h2M103 35h1M43 36h1M125 36h1M28 37h1M35 37h1M36 38h1M103 38h1M113 38h1M36 39h1M40 39h1M33 40h1M129 40h1M132 40h1M32 42h1M41 42h1M104 42h1M106 42h1M80 44h1M52 45h1M116 47h1M114 49h1M130 51h1M120 55h1M139 58h1M131 59h1M129 60h1M138 83h1"/><path stroke="#842681" d="M65 7h1M74 7h1M59 12h1M51 13h1M41 14h1M64 14h1M76 14h1M80 15h1M137 17h1M50 18h1M137 18h1M36 20h1M57 21h1M68 21h1M57 22h1M68 22h1M89 22h1M1 23h1M59 23h1M69 23h1M71 23h1M138 24h1M15 26h1M70 26h1M61 27h1M73 27h1M111 27h1M15 28h1M38 28h1M57 28h1M66 28h1M111 28h1M75 29h1M6 30h1M12 30h1M17 30h1M32 30h1M35 30h1M26 31h1M29 31h1M72 31h1M86 31h1M93 31h1M4 32h1M15 32h1M31 32h1M46 32h1M50 32h1M28 33h1M43 33h1M123 33h1M81 34h1M92 34h1M18 35h1M32 35h1M38 35h1M90 35h1M92 35h1M12 36h1M44 36h1M108 36h1M124 36h1M30 37h1M91 37h1M106 37h1M26 38h1M45 38h1M96 38h1M32 39h1M103 39h1M31 40h1M91 41h1M106 41h1M132 41h1M46 42h1M92 42h1M96 42h1M58 43h2M94 43h1M96 43h1M98 43h1M100 43h1M75 44h1M78 44h1M127 44h1M130 44h1M77 45h1M131 46h1M127 47h1M107 49h1M132 50h1M2 51h1M139 51h1M124 52h1M138 52h2M10 58h1M8 60h1M129 63h1M139 83h1"/><path stroke="#862781" d="M63 6h1M30 7h1M37 7h1M53 12h1M54 13h1M68 13h2M65 14h1M73 14h1M8 15h1M64 15h1M61 16h1M77 16h1M75 17h1M38 18h1M77 18h1M0 19h1M50 19h1M79 19h1M101 19h1M6 21h1M38 22h1M55 22h1M70 22h1M63 23h1M70 23h1M80 23h1M67 24h1M4 26h1M9 26h1M54 27h1M6 29h1M49 29h1M92 29h1M34 30h1M58 30h1M4 31h1M6 31h1M9 31h1M87 31h1M33 32h1M92 32h1M33 33h1M39 33h1M93 33h1M3 34h1M90 34h1M97 34h1M28 35h1M35 35h1M29 36h1M98 36h1M106 36h1M27 38h1M90 38h1M106 38h1M27 39h1M91 39h1M107 39h1M32 40h1M34 40h1M6 41h1M32 41h1M127 41h1M34 42h1M97 42h1M125 42h1M25 43h1M106 43h1M1 44h1M61 44h1M139 45h1M133 46h1M133 48h1M125 50h1M131 51h2M2 55h1M3 57h1M9 58h1M123 61h1"/><path stroke="#882781" d="M75 6h3M86 6h1M3 7h1M26 7h1M41 7h1M67 7h1M102 7h1M139 8h1M71 9h1M99 10h1M57 12h1M19 13h1M87 13h1M69 14h1M86 14h1M38 15h1M88 15h1M62 16h1M50 17h1M85 18h1M78 19h1M82 19h1M137 21h1M66 22h1M67 23h1M53 24h1M62 24h1M4 25h1M15 25h1M62 25h1M111 25h1M18 26h1M52 26h1M57 26h1M18 27h1M58 27h1M92 27h1M18 28h1M34 28h1M61 28h1M138 28h1M8 29h1M55 29h1M51 30h1M23 31h1M25 31h1M32 31h1M80 31h1M2 32h1M28 32h1M34 32h1M39 32h1M77 32h2M82 32h1M93 32h1M127 32h1M137 32h1M21 33h1M45 33h1M52 33h1M85 33h1M65 34h1M135 35h1M31 36h1M104 36h1M109 36h1M138 36h1M14 37h1M90 37h1M103 37h1M96 39h1M96 40h1M107 40h1M124 40h1M1 41h2M38 41h1M0 42h1M62 42h1M89 42h2M94 42h1M24 43h1M48 43h1M51 43h1M74 44h1M120 49h1M120 50h1M131 52h1M117 53h1M3 55h1M119 55h1M131 58h1M130 62h1M122 65h1"/><path stroke="#892881" d="M99 6h1M18 7h1M51 7h1M53 7h1M87 7h1M128 13h1M8 14h1M44 14h1M62 14h1M75 14h1M67 15h1M74 15h1M79 15h1M110 15h1M5 16h1M41 16h1M55 17h1M61 18h1M68 18h1M32 20h1M76 20h1M35 21h1M69 21h1M53 22h2M80 22h1M38 23h1M4 24h1M54 24h1M68 25h1M83 25h1M83 27h1M2 28h1M19 29h1M67 29h1M88 29h1M11 30h1M14 30h1M19 30h1M12 31h1M37 31h1M84 31h1M104 31h1M1 32h1M75 32h1M87 32h1M89 32h1M91 32h1M106 33h1M124 33h1M98 35h1M105 35h1M33 36h1M90 36h1M101 36h1M97 37h1M32 38h1M128 39h1M115 40h1M127 40h2M3 41h1M41 41h1M94 41h1M19 42h1M93 42h1M43 43h1M53 43h1M64 43h1M77 43h1M90 44h1M6 45h1M124 46h1M1 47h1M139 49h1M7 52h1M123 63h1M124 66h1"/><path stroke="#8b2981" d="M9 7h1M21 7h1M44 12h1M67 14h1M85 14h1M99 14h1M55 15h1M63 15h1M19 16h1M0 17h1M6 17h1M1 20h1M55 20h1M70 20h1M82 20h1M51 21h1M61 21h1M63 21h1M70 21h1M72 21h1M84 21h1M59 22h1M63 22h1M86 22h1M137 22h1M62 23h1M59 25h1M139 27h1M4 28h1M54 28h1M2 29h1M11 29h1M57 29h1M133 29h1M23 30h1M55 30h1M83 30h1M137 30h1M24 31h1M79 31h1M137 31h1M25 32h1M29 32h1M45 32h1M27 35h1M110 35h1M137 35h1M27 36h1M39 36h1M93 36h1M26 37h1M31 37h1M77 37h1M128 37h1M30 38h1M97 38h1M35 40h1M104 40h1M133 40h1M29 41h1M53 41h1M130 41h1M39 43h1M95 43h1M134 43h1M49 44h1M119 44h1M2 45h1M121 49h1M122 53h1M137 56h1M126 63h1"/><path stroke="#8c2981" d="M4 7h1M34 7h1M128 7h1M99 9h1M99 12h1M52 13h1M56 13h1M99 13h1M19 14h1M72 14h1M83 14h1M87 14h1M4 15h1M108 15h1M6 16h1M65 16h1M82 17h1M101 18h1M1 19h1M72 19h1M6 20h1M50 20h1M59 20h1M67 20h1M79 20h1M86 21h1M69 22h1M137 23h2M52 24h1M70 24h1M60 25h1M55 27h1M60 27h1M62 27h1M11 28h1M64 28h1M15 29h1M34 29h1M60 29h1M83 29h1M39 30h1M42 30h1M88 30h1M16 31h1M42 31h1M94 31h1M21 32h1M63 32h1M90 32h1M20 33h1M89 33h2M20 34h1M43 34h1M96 34h1M33 35h1M45 35h1M108 35h1M105 36h1M124 37h1M134 37h1M29 38h1M43 38h1M128 38h1M43 39h1M95 39h1M106 39h1M124 39h1M90 40h1M93 40h1M95 40h1M103 40h1M19 41h1M54 41h1M121 41h1M128 41h1M22 42h1M98 42h1M32 43h1M127 43h1M10 47h1M125 47h1M106 49h1M133 49h1M130 50h2M1 52h1M136 54h1"/><path stroke="#8e2a81" d="M13 7h1M42 7h1M85 7h1M131 7h1M60 13h1M0 14h1M62 15h1M132 15h1M8 16h1M55 16h1M76 16h1M85 16h1M97 16h1M133 16h1M64 17h1M72 17h1M55 18h1M55 19h1M61 19h1M38 20h1M38 21h1M53 21h1M66 21h1M88 21h1M35 22h1M2 23h1M68 23h1M83 24h1M111 24h1M35 25h1M103 25h1M64 26h1M86 26h1M68 28h1M3 29h1M2 30h1M4 30h1M22 30h1M48 30h1M70 30h1M97 30h1M21 31h1M23 32h1M52 32h1M104 32h1M129 32h1M3 33h1M5 33h1M11 33h1M50 33h1M81 33h1M96 33h1M89 34h1M105 34h1M121 34h1M20 35h1M29 35h1M39 35h1M118 35h1M23 37h1M46 37h1M46 38h1M124 38h1M31 39h1M97 39h1M29 40h1M102 40h1M106 40h1M92 41h1M102 41h3M115 41h1M129 41h1M54 42h1M95 42h1M100 42h1M47 43h1M82 44h1M123 46h1M129 47h1M3 52h1M118 55h1M122 55h1M121 56h1M131 63h1M123 64h1"/><path stroke="#902a81" d="M8 6h1M102 6h1M2 7h1M48 7h1M64 7h1M139 7h1M2 12h1M4 12h1M0 13h1M71 14h1M97 15h1M79 16h2M101 16h1M5 17h1M101 17h1M69 18h1M87 18h1M105 18h1M87 19h1M1 21h1M55 21h1M80 21h1M1 22h1M105 22h1M0 23h1M4 23h1M36 23h1M55 23h1M75 23h1M83 23h1M69 24h1M75 24h1M137 24h1M2 25h1M105 25h1M53 26h1M92 26h1M35 27h1M38 27h1M60 28h1M62 28h1M62 29h1M111 29h1M69 30h1M8 31h1M11 31h1M97 31h1M122 32h1M7 33h1M32 33h1M92 33h1M120 33h1M101 34h1M115 34h1M124 34h1M127 34h1M127 35h1M46 36h1M111 36h1M21 37h1M39 37h1M45 37h1M59 37h1M107 37h1M107 38h1M30 40h1M92 40h1M97 40h1M130 40h1M30 41h1M20 42h1M26 42h1M51 42h1M52 43h1M76 43h1M78 43h1M86 43h1M99 43h1M117 43h1M132 43h1M79 44h1M116 44h1M138 47h1M114 48h1M2 49h1M119 51h1M135 52h1M139 54h1M123 56h1M3 58h1M1 59h1M122 62h1M125 64h1M126 65h1"/><path stroke="#912b81" d="M82 6h1M130 7h1M98 11h1M139 11h1M3 12h1M97 14h1M85 15h1M99 15h1M128 15h1M3 16h1M63 17h1M67 17h1M57 18h1M67 18h1M82 18h1M106 18h1M4 19h1M38 19h1M52 19h1M57 19h1M76 19h1M57 20h1M68 20h1M72 20h1M108 20h1M74 21h1M81 21h1M100 21h1M62 22h1M52 25h1M55 25h1M2 27h1M100 27h1M3 28h1M9 28h1M68 29h1M110 29h1M8 30h1M2 31h2M39 31h1M51 31h1M58 31h1M12 32h1M32 32h1M71 32h1M76 32h1M47 33h1M78 33h1M23 34h1M109 34h2M135 34h1M137 34h1M100 35h1M18 36h1M33 37h1M127 37h1M93 38h1M29 39h1M90 39h1M19 40h1M26 40h1M137 40h1M26 41h1M36 41h1M36 42h1M43 42h1M58 42h1M68 42h1M99 42h1M129 42h1M26 43h1M61 43h1M73 44h1M85 44h1M120 46h1M6 51h1M116 51h1M133 54h1"/><path stroke="#932b80" d="M5 7h1M19 7h1M40 7h1M66 7h1M81 7h1M89 7h1M99 7h1M132 7h1M1 12h1M98 12h1M78 13h1M52 14h1M66 15h1M82 15h1M89 15h1M4 16h1M88 16h1M108 16h1M65 17h1M79 17h1M76 18h1M73 19h1M35 20h1M88 20h1M59 21h1M4 22h1M35 24h1M100 25h1M56 26h1M68 26h1M83 26h1M105 26h1M56 27h1M59 27h1M68 27h1M20 29h1M35 29h1M66 29h1M70 29h1M3 30h1M9 30h1M37 30h1M47 30h1M49 30h1M95 30h1M47 31h2M62 31h1M100 31h1M0 32h1M16 32h1M65 32h1M106 32h1M23 33h1M51 33h1M98 33h1M103 33h1M129 33h1M45 34h1M98 34h1M139 34h1M89 35h1M136 35h1M92 36h1M103 36h1M134 36h1M29 37h1M31 38h1M33 38h1M89 38h1M98 38h1M102 38h1M127 38h1M2 39h1M30 39h1M112 39h1M43 40h1M50 42h1M7 43h1M55 43h1M65 43h1M83 43h1M138 43h1M2 44h1M5 45h1M8 45h1M132 45h1M130 46h1M9 50h1M123 50h1M129 51h1M121 57h1M126 58h1M122 60h1"/><path stroke="#942c80" d="M14 7h1M28 7h1M68 7h2M129 7h1M102 8h1M100 11h1M4 13h1M8 13h1M58 13h1M100 13h1M89 14h1M81 15h1M106 15h1M67 16h1M75 16h1M61 17h1M72 18h1M79 18h1M86 18h1M5 19h1M54 20h1M63 20h1M86 20h1M89 20h1M4 21h1M52 21h1M89 21h1M35 23h1M111 23h1M59 24h1M53 25h1M58 25h1M35 26h1M103 26h1M56 28h1M9 29h1M16 29h1M97 29h1M132 29h1M15 30h1M122 30h1M129 30h1M5 32h1M101 32h1M91 33h1M62 34h1M59 35h1M81 35h1M102 35h1M129 35h1M20 37h1M59 38h1M98 40h1M0 41h1M20 41h1M93 41h1M23 42h1M25 42h1M53 42h1M59 42h1M119 42h1M22 43h1M49 43h1M66 43h1M74 43h1M79 43h2M83 44h1M131 44h1M123 47h1M132 47h1M137 48h1M4 49h1M122 49h1M8 51h1M127 53h1M132 55h1M119 58h1"/><path stroke="#962c80" d="M72 6h1M38 7h1M58 7h2M71 8h1M105 8h1M100 9h1M98 10h1M132 10h1M59 13h1M68 14h1M101 14h1M106 14h1M110 14h1M65 15h1M1 16h1M52 16h1M66 16h1M128 16h1M3 17h1M85 17h1M0 18h1M3 18h1M67 19h2M95 19h1M101 20h1M54 21h1M108 21h1M65 22h1M100 22h1M64 24h2M100 24h1M97 27h1M38 29h1M59 29h1M90 29h1M20 30h1M57 30h1M103 31h1M19 32h1M51 32h1M77 33h1M105 33h1M127 33h1M139 33h1M100 34h1M129 34h1M109 35h1M124 35h1M128 36h1M93 39h1M129 39h1M81 40h1M59 41h1M81 41h1M90 41h1M125 41h1M52 42h1M63 42h1M69 42h1M135 43h1M134 45h1M127 46h1M115 47h1M128 47h1M136 56h1M8 58h1M133 59h2M2 61h1M128 62h1M125 63h1"/><path stroke="#982d80" d="M35 6h1M70 6h1M105 6h1M12 7h1M44 7h1M127 7h1M100 10h1M105 11h1M56 14h1M84 14h1M100 14h1M61 15h1M82 16h1M66 17h1M69 17h1M97 17h1M4 18h1M6 19h1M54 19h1M59 19h1M63 19h1M69 19h1M108 19h1M131 19h1M136 19h1M53 20h1M101 21h1M138 22h1M56 23h1M2 24h1M56 24h1M68 24h1M56 25h1M64 25h1M98 26h1M129 26h1M4 27h1M103 28h1M7 29h1M93 29h1M138 29h1M16 30h1M61 30h1M93 30h1M100 30h1M139 30h1M19 31h1M91 31h1M122 31h1M72 32h1M96 32h1M98 32h1M110 32h1M120 32h1M123 32h1M128 32h1M139 32h1M75 33h1M82 33h1M136 33h1M18 34h1M108 34h1M65 35h1M139 35h1M59 36h1M107 36h1M19 37h1M55 37h1M89 37h1M92 37h1M99 38h1M81 39h1M98 39h1M22 40h1M54 40h1M43 41h1M50 41h1M52 41h1M80 41h1M24 42h1M21 43h1M56 43h2M71 43h1M120 45h1M4 46h1M132 46h1M119 57h1M122 57h1M120 58h1M128 58h1M2 59h1M7 59h1M137 59h1M136 61h1"/><path stroke="#992d80" d="M83 6h1M1 7h1M17 7h1M54 7h1M100 8h1M105 9h1M97 12h1M102 12h1M98 13h1M132 13h1M54 14h1M71 15h1M86 15h1M101 15h1M99 16h2M109 16h1M1 17h1M4 17h1M68 17h1M81 17h1M106 17h1M108 17h1M1 18h1M6 18h1M75 18h1M88 18h1M97 18h1M97 19h1M5 20h1M95 20h1M62 21h1M95 22h1M111 22h1M52 23h1M60 23h1M103 23h1M123 25h1M5 26h1M98 27h1M59 28h1M5 29h1M56 29h1M95 29h1M100 29h1M139 29h1M62 30h1M92 30h1M5 31h1M69 31h1M101 31h1M3 32h1M7 32h1M10 32h1M38 32h1M62 32h1M84 32h1M100 32h1M18 33h1M53 33h1M74 33h1M84 33h1M86 33h1M115 33h1M125 33h1M135 33h1M21 34h1M73 34h1M119 34h1M125 34h1M128 34h1M12 35h1M107 35h1M128 35h1M23 36h1M89 36h1M99 36h1M99 37h1M113 37h1M20 38h1M52 39h1M102 39h1M127 39h1M25 40h1M25 41h1M89 41h1M95 41h1M124 42h1M4 43h1M23 43h1M81 43h1M84 43h2M88 43h1M122 45h1M124 50h1M126 52h1M128 52h1M7 53h1M130 58h1M137 58h1M121 59h1M122 61h1M121 62h1M127 62h1"/><path stroke="#9b2e7f" d="M73 6h1M127 8h1M135 10h1M100 12h1M97 13h1M125 14h1M86 16h1M106 16h1M73 17h1M80 17h1M65 19h1M75 19h1M86 19h1M65 20h1M100 20h1M111 21h1M60 22h1M86 23h1M108 23h1M55 24h1M103 24h1M93 25h1M98 25h1M58 26h1M100 26h1M139 26h1M0 27h1M5 28h1M139 28h1M7 30h1M66 30h1M133 30h1M1 31h1M22 31h1M55 31h1M83 31h1M98 31h1M106 31h1M58 32h1M109 32h1M10 33h1M73 33h1M12 34h1M19 34h1M103 34h1M21 35h1M125 35h1M20 36h2M77 36h1M100 36h1M100 37h1M102 37h1M53 38h1M19 39h1M133 39h1M89 40h1M58 41h1M65 41h1M21 42h1M39 42h1M65 42h1M6 46h1M8 57h1M138 58h1M3 59h1M122 64h1M126 66h2"/><path stroke="#9c2e7f" d="M0 6h1M33 6h1M78 6h1M80 6h1M43 7h1M52 7h1M101 7h1M132 8h1M123 10h1M139 10h1M123 11h1M123 12h1M3 13h1M105 14h1M68 15h2M104 15h1M109 15h1M133 15h1M69 16h1M81 16h1M122 16h1M137 16h1M52 17h1M109 17h1M73 18h1M131 18h1M3 19h1M100 19h1M0 20h1M0 21h1M65 21h1M52 22h1M75 22h1M5 23h1M65 23h1M95 23h1M105 23h1M86 25h1M92 25h1M139 25h1M2 26h1M0 29h1M54 29h1M64 29h1M1 30h1M65 30h1M101 30h1M110 30h1M90 31h1M18 32h1M22 32h1M124 32h1M19 33h1M38 33h1M100 33h1M110 33h1M117 33h1M24 34h1M52 34h1M59 34h1M116 34h1M118 34h1M19 35h1M23 35h1M52 35h1M99 35h1M138 35h1M81 36h1M129 36h1M133 36h1M62 37h1M65 37h1M98 37h1M21 38h1M23 38h1M20 39h1M23 39h1M89 39h1M21 40h1M46 40h1M62 40h1M126 40h1M39 41h1M47 42h1M66 42h1M77 42h1M73 43h1M134 44h1M116 45h1M134 46h1M130 55h1M125 56h1M133 58h2"/><path stroke="#9e2f7f" d="M7 6h1M139 6h1M49 7h1M56 7h1M98 8h1M125 8h1M129 8h1M102 9h1M105 12h1M101 13h1M108 13h1M0 15h1M98 15h1M105 15h1M137 15h1M2 16h1M123 16h1M62 17h1M71 17h1M5 18h1M64 18h2M99 18h1M104 18h1M53 19h1M109 19h1M73 20h1M84 20h1M109 20h1M103 22h1M100 23h1M108 24h1M5 25h1M60 26h1M107 26h1M53 27h1M109 27h1M90 28h1M18 29h1M106 30h1M57 31h1M61 31h1M70 31h1M129 31h1M20 32h1M24 32h1M69 32h1M63 33h1M53 34h1M57 34h1M63 34h1M74 34h1M77 34h1M107 34h1M53 36h1M52 37h1M52 38h1M20 40h1M134 40h1M46 41h1M57 41h1M71 41h1M77 41h1M96 41h1M48 42h1M70 43h1M72 43h1M87 43h1M126 46h1M9 47h1M11 47h1M136 47h1M125 48h1M123 49h1M133 50h1M115 51h1M6 55h1M137 57h1M139 57h1M120 60h1"/><path stroke="#a02f7f" d="M23 7h1M29 7h1M36 7h1M123 8h1M101 12h1M57 13h1M87 15h1M60 16h1M89 16h1M86 17h1M59 18h1M89 18h1M100 18h1M108 18h2M130 18h1M52 20h1M69 20h1M71 20h1M131 20h1M75 21h1M95 21h1M103 21h1M106 21h1M0 22h1M5 22h1M56 22h1M98 23h1M5 24h1M58 24h1M98 24h1M105 24h1M97 26h1M65 27h1M93 27h1M105 27h1M0 28h1M35 28h1M93 28h1M1 29h1M94 29h1M18 31h1M65 31h1M88 31h1M80 32h1M101 33h1M121 33h1M78 34h1M82 34h1M51 35h1M53 35h1M111 35h1M45 36h1M27 37h1M47 37h1M129 37h1M19 38h1M59 39h1M114 39h1M126 39h1M36 40h1M50 40h1M53 40h1M21 41h2M56 41h1M68 41h1M56 42h1M88 42h1M84 44h1M117 47h1M133 47h1M0 50h1M129 55h1M133 55h1M4 58h2M123 65h1"/><path stroke="#a1307e" d="M84 6h1M88 6h1M125 7h1M131 8h1M125 9h1M131 9h2M105 10h1M97 11h1M4 14h1M61 14h1M98 14h1M108 14h1M3 15h1M83 15h1M68 16h1M74 16h1M63 18h1M81 18h1M71 19h1M80 19h2M84 19h1M88 19h1M103 19h1M4 20h1M106 20h1M138 20h1M5 21h1M71 21h1M105 21h1M131 21h1M106 22h1M108 22h1M122 22h1M65 25h1M107 25h1M59 26h1M90 26h1M107 28h1M98 29h1M107 29h1M60 30h1M64 30h1M90 30h1M94 30h1M132 30h1M49 31h1M68 31h1M102 31h1M124 31h1M139 31h1M68 32h1M102 32h1M24 33h1M65 33h1M76 33h1M128 33h1M56 34h1M75 34h1M47 35h1M77 35h2M78 36h1M127 36h1M56 37h1M78 37h1M47 38h1M54 38h1M133 38h1M53 39h2M99 39h1M23 40h1M99 40h1M78 41h1M97 41h1M57 42h1M64 42h1M123 44h2M129 45h1M138 48h1M1 55h1"/><path stroke="#a3307e" d="M10 6h1M45 7h3M60 7h1M97 7h1M98 9h1M132 11h1M2 13h1M123 13h1M51 14h1M78 14h1M104 14h1M123 14h1M52 15h1M59 15h1M73 15h1M125 15h1M87 16h1M74 17h1M87 17h2M105 17h1M64 19h1M74 19h1M2 20h1M60 20h1M66 20h1M75 20h1M111 20h1M98 21h1M2 22h1M104 22h1M60 24h1M97 24h1M102 25h1M106 25h1M108 25h1M131 26h1M65 28h1M100 28h1M129 29h1M5 30h1M18 30h1M56 30h1M68 30h1M111 30h1M127 30h1M0 31h1M7 31h1M47 32h1M57 32h1M57 33h1M62 33h1M119 33h1M47 34h1M50 35h1M62 35h1M52 36h1M61 36h2M65 36h1M92 38h1M46 39h1M48 41h1M55 41h1M98 41h1M100 41h1M55 42h1M60 42h2M74 42h1M76 42h1M1 43h1M75 43h1M82 43h1M124 45h1M5 46h1M1 49h1M127 52h1M138 57h1M121 58h1"/><path stroke="#a5317e" d="M24 6h1M57 6h1M100 7h1M107 8h1M139 9h1M107 10h1M139 12h1M94 13h1M132 14h1M60 15h1M72 15h1M104 16h2M122 17h2M136 17h1M60 18h1M80 18h1M98 18h1M60 19h1M135 19h1M136 20h1M3 21h1M122 21h1M136 21h1M98 22h1M127 22h1M58 23h1M97 23h1M102 23h1M131 23h1M0 24h2M0 25h1M97 25h1M101 25h1M65 26h1M103 27h1M129 27h1M10 28h1M53 29h1M65 29h1M101 29h1M127 29h1M54 30h1M107 30h1M123 30h1M110 31h1M120 31h1M55 32h1M70 32h1M79 32h1M55 33h1M59 33h1M61 34h1M69 34h1M85 34h1M136 34h1M138 34h1M61 37h1M39 38h1M55 38h1M112 38h1M129 38h1M39 39h1M55 39h1M62 39h1M83 39h1M92 39h1M39 40h1M47 40h1M52 40h1M87 40h1M69 41h1M135 41h1M67 42h1M83 42h1M123 42h1M5 43h1M68 43h1M7 44h1M118 44h1M135 46h1M120 48h1M0 52h1M131 53h1M123 54h1M9 60h1M6 63h1M125 65h1"/><path stroke="#a6317d" d="M16 6h1M25 6h1M69 6h1M79 6h1M103 6h1M132 6h1M105 7h1M135 8h1M107 9h1M135 9h1M101 11h1M84 15h1M54 16h1M72 16h1M84 16h1M98 16h1M54 17h1M95 17h1M104 17h1M131 17h1M58 18h1M78 18h1M122 18h1M51 19h1M89 19h1M96 19h1M105 19h1M122 19h1M138 19h1M80 20h2M105 20h1M122 20h1M97 22h1M135 22h1M127 23h1M102 24h1M53 28h1M0 30h1M67 30h1M98 30h1M104 30h1M64 31h1M123 31h1M127 31h1M133 31h1M66 32h1M83 33h1M55 34h1M68 35h2M73 35h1M63 37h1M76 37h1M65 38h1M21 39h1M65 39h1M55 40h1M59 40h1M100 40h1M4 41h1M47 41h1M74 41h1M67 43h1M115 43h2M5 49h1M123 55h1M4 57h1M126 57h1M131 60h1M3 62h1M7 63h1M128 64h1"/><path stroke="#a8327d" d="M32 6h1M127 6h1M122 7h2M122 8h1M137 8h1M97 9h1M101 9h1M137 9h1M97 10h1M106 11h1M121 11h1M135 11h1M106 12h1M106 13h1M94 14h1M137 14h1M100 15h1M103 15h1M123 15h1M131 16h1M2 17h1M78 17h1M100 17h1M52 18h1M66 18h1M71 18h1M95 18h1M3 20h1M51 20h1M64 20h1M134 20h1M2 21h1M97 21h1M127 21h1M109 22h1M93 23h1M95 24h1M101 24h1M122 24h1M135 24h1M1 25h1M104 25h1M3 27h1M1 28h1M105 28h1M122 28h1M129 28h1M53 30h1M59 30h1M20 31h1M53 31h1M56 31h1M103 32h1M12 33h1M56 33h1M58 33h1M72 33h1M102 33h1M138 33h1M71 34h1M102 34h1M57 35h1M72 35h1M53 37h1M81 37h1M126 37h1M62 38h1M126 38h1M50 39h1M77 39h1M23 41h1M51 41h1M66 41h1M70 41h1M79 41h1M86 42h2M123 45h1M130 45h1M138 45h1M121 52h1M4 55h1M138 59h1M128 60h1"/><path stroke="#aa337d" d="M27 6h1M39 6h1M100 6h1M103 8h1M129 9h1M134 10h1M125 11h1M104 12h1M108 12h1M130 13h1M58 14h1M60 14h1M58 15h1M139 15h1M73 16h1M83 16h1M95 16h1M83 17h1M54 18h1M62 18h1M128 18h1M66 19h1M134 19h1M62 20h1M103 20h1M127 20h1M123 23h1M109 24h1M134 24h1M94 25h1M122 25h1M106 26h1M102 28h1M102 30h1M109 30h1M120 30h1M124 30h1M109 31h1M53 32h1M83 32h1M117 32h1M119 32h1M138 32h1M111 33h1M58 34h1M60 34h1M66 34h1M68 34h1M56 35h1M60 35h2M63 35h1M69 36h1M67 37h1M74 37h1M87 37h1M24 39h1M78 39h1M49 40h1M86 40h1M62 41h1M70 42h1M81 42h1M84 42h1M137 42h1M139 53h1M5 56h1M132 56h1M127 57h1M126 60h1M129 62h1"/><path stroke="#ab337c" d="M31 6h1M61 6h1M101 6h1M120 6h1M135 6h1M137 6h1M11 7h1M126 7h1M135 7h1M127 9h1M127 10h1M131 10h1M102 11h1M130 11h1M103 12h1M125 12h1M139 13h1M57 14h1M59 14h1M109 14h1M56 15h1M78 15h1M130 15h1M130 16h1M57 17h1M99 17h1M74 18h1M136 18h1M104 19h1M123 19h1M102 21h1M109 21h1M138 21h1M101 22h1M106 23h1M109 25h1M127 25h1M128 26h1M5 27h1M90 27h1M101 27h1M94 28h1M128 30h1M38 31h1M56 32h1M48 33h1M109 33h1M116 33h1M50 34h2M72 34h1M76 34h1M80 34h1M86 34h1M134 34h1M74 35h1M63 36h1M102 36h1M75 37h1M100 38h1M48 40h1M74 40h1M88 40h1M24 41h1M49 41h1M67 41h1M99 41h1M80 42h1M69 43h1M0 48h1M117 52h1M124 56h1M125 59h1M121 60h1M132 60h1M126 64h1"/><path stroke="#ad347c" d="M9 6h1M15 6h1M97 6h1M128 6h1M55 7h1M103 7h1M97 8h1M101 8h1M121 8h1M123 9h1M130 9h1M125 10h1M122 11h1M124 11h1M94 12h1M124 12h1M105 13h1M1 14h1M3 14h1M139 14h1M59 16h1M60 17h1M84 17h1M96 17h1M103 17h1M125 17h1M2 18h1M103 18h1M129 18h1M134 18h1M62 19h1M98 19h2M64 22h1M124 22h1M136 22h1M64 23h1M106 24h1M123 24h1M131 24h1M95 25h1M125 25h1M3 26h1M95 26h1M125 27h1M136 27h1M106 28h1M131 28h1M102 29h2M109 29h1M126 29h1M136 29h1M38 30h1M103 30h1M138 30h1M128 31h1M48 32h1M105 32h1M111 32h1M22 33h1M71 33h1M107 33h1M118 33h1M55 35h1M80 35h1M85 35h1M24 36h1M49 36h2M55 36h1M83 36h1M22 37h1M54 37h1M24 38h1M56 38h2M83 38h1M47 39h1M67 39h1M56 40h1M61 40h1M63 40h1M88 41h1M75 42h1M139 42h1M8 43h1M5 51h1M136 51h1M125 52h1M1 60h1M126 61h1"/><path stroke="#ae347b" d="M62 6h1M107 6h1M129 6h1M107 7h1M137 7h1M126 8h1M130 8h1M106 9h1M107 12h1M121 12h2M130 12h1M51 15h1M54 15h1M122 15h1M103 16h1M136 16h1M89 17h1M135 17h1M139 17h1M96 18h1M138 18h1M74 20h1M97 20h1M135 20h1M58 21h1M104 21h1M102 22h1M123 22h1M131 22h1M104 23h1M109 23h1M122 23h1M135 23h1M131 25h1M93 26h1M102 26h1M127 26h1M134 26h1M94 27h1M101 28h1M104 28h1M109 28h1M106 29h1M122 29h1M125 31h1M59 32h1M88 32h1M118 32h1M121 32h1M60 33h2M68 33h2M133 33h1M83 34h1M133 34h1M49 35h1M19 36h1M47 36h1M60 36h1M75 36h1M24 37h1M57 37h1M83 37h1M133 37h1M87 38h2M114 38h1M100 39h1M80 40h1M2 42h1M115 46h1M132 49h1M2 50h1M139 50h1M130 52h1M131 55h1M9 56h1M122 58h1M130 59h1M125 66h1"/><path stroke="#b0357b" d="M106 8h1M121 9h1M106 10h1M122 10h1M107 11h1M132 12h1M1 13h1M53 13h1M107 13h1M109 13h1M122 13h1M125 13h1M2 14h1M95 14h2M126 14h1M107 15h1M71 16h1M130 17h1M58 19h1M83 19h1M58 20h1M56 21h1M60 21h1M135 21h1M96 22h1M127 24h1M139 24h1M90 25h1M94 26h1M136 26h1M1 27h1M107 27h1M95 28h1M118 28h1M10 29h1M54 31h1M59 31h2M66 31h1M107 31h1M49 32h1M107 32h1M54 33h1M80 33h1M99 34h1M111 34h1M58 35h1M67 35h1M71 35h1M134 35h1M51 36h1M54 36h1M68 37h1M22 38h1M63 38h1M77 38h1M22 39h1M56 39h1M87 41h1M73 42h1M78 42h1M85 42h1M118 43h1M1 45h1M125 46h1M3 48h1M117 49h1M124 49h2M6 61h1"/><path stroke="#b2357b" d="M34 6h1M51 6h1M53 6h1M87 6h1M122 6h1M125 6h1M122 9h1M126 9h1M121 10h1M124 10h1M121 13h1M131 13h1M122 14h1M102 15h1M126 15h1M131 15h1M57 16h1M96 16h1M135 16h1M128 17h1M123 18h1M2 19h1M102 19h1M106 19h1M56 20h1M99 20h1M102 20h1M107 21h1M58 22h1M83 22h1M125 22h1M134 22h1M129 24h1M3 25h1M134 25h1M122 26h1M125 26h1M95 27h1M122 27h1M126 27h2M97 28h1M123 28h1M134 28h1M10 30h1M121 30h1M96 31h1M111 31h1M54 32h1M108 32h1M134 33h1M75 35h1M86 35h1M57 36h1M74 36h1M76 36h1M85 36h1M50 37h2M112 37h1M68 38h1M65 40h1M61 41h1M83 41h1M118 41h1M1 42h1M49 42h1M122 42h1M125 44h1M131 45h1M7 47h1M0 57h1M2 60h1M127 60h1M126 68h1"/><path stroke="#b3367a" d="M2 6h1M65 6h1M130 6h1M71 7h1M120 9h1M129 10h2M94 11h1M108 11h1M131 11h1M134 11h1M137 11h1M137 12h1M121 14h1M57 15h1M125 16h1M98 17h1M138 17h1M125 19h1M98 20h1M134 21h1M101 23h1M124 23h1M107 24h1M124 25h1M123 26h1M98 28h1M125 28h1M105 30h1M119 30h1M105 31h1M119 31h1M121 31h1M61 32h1M115 32h1M49 33h1M79 33h1M87 33h1M108 33h1M49 34h1M54 34h1M24 35h1M66 35h1M83 35h1M68 36h1M73 37h1M86 37h1M61 38h1M81 38h1M71 39h1M57 40h1M77 40h1M60 41h1M76 41h1M136 43h1M3 44h1M8 61h1"/><path stroke="#b5367a" d="M30 6h1M37 6h1M59 6h1M131 6h1M121 7h1M134 7h1M133 10h1M137 10h1M104 11h1M120 11h1M114 12h1M104 13h1M130 14h1M1 15h1M59 17h1M134 17h1M84 18h1M135 18h1M130 19h1M64 21h1M96 21h1M99 21h1M126 22h1M129 23h1M128 24h1M129 25h1M104 26h1M102 27h1M131 27h1M128 29h1M125 30h2M118 31h1M125 32h1M70 34h1M84 34h1M126 35h1M56 36h1M71 36h1M113 36h1M69 37h1M49 38h1M58 38h1M74 38h1M51 39h1M57 39h1M74 39h1M51 40h1M71 40h1M114 40h1M86 41h1M119 43h1M136 44h1M136 45h1M0 46h1M127 48h1M129 49h1M5 52h1M130 54h1M117 55h1M5 61h1M127 67h1"/><path stroke="#b73779" d="M26 6h1M104 6h1M20 7h1M98 7h1M120 7h1M120 8h1M124 8h1M134 8h1M101 10h1M126 10h1M136 10h1M114 11h1M129 11h1M133 13h1M103 14h1M107 14h1M2 15h1M94 15h1M78 16h1M56 17h1M125 18h1M96 20h1M104 20h1M83 21h1M129 21h1M99 22h1M129 22h1M3 23h1M107 23h1M93 24h1M104 24h1M135 25h1M0 26h1M101 26h1M108 26h1M136 28h1M120 29h1M125 29h1M134 29h1M67 31h1M64 32h1M126 33h1M87 34h1M126 34h1M48 35h1M76 35h1M113 35h1M72 36h1M49 37h1M58 37h1M85 37h1M114 37h1M78 38h1M49 39h1M58 39h1M61 39h1M68 39h1M80 39h1M87 39h2M0 40h1M75 41h1M71 42h1M119 45h1M128 46h1M119 47h1M124 47h1M7 48h1M132 54h1M135 56h1M3 60h1M125 62h1"/><path stroke="#b83779" d="M3 6h1M94 8h1M104 8h1M108 8h1M119 9h1M136 9h1M129 12h1M102 13h1M119 13h1M124 14h1M133 14h1M135 15h1M58 16h1M51 18h1M56 19h1M107 20h1M124 21h1M96 23h1M136 23h1M139 23h1M128 25h1M106 27h1M108 27h1M134 27h1M10 31h1M136 31h1M67 32h1M126 32h1M133 32h1M136 32h1M48 34h1M73 36h1M87 36h1M60 37h1M88 37h1M58 40h1M69 40h1M78 40h1M64 41h1M73 41h1M125 45h1M116 50h1M137 51h1M120 52h1M2 56h1M126 56h1M131 56h1"/><path stroke="#ba3878" d="M50 6h1M74 6h1M106 6h1M108 7h1M124 7h1M94 9h1M102 10h1M119 10h1M119 11h1M95 13h1M129 13h1M95 15h1M114 15h1M136 15h1M51 16h1M56 16h1M94 16h1M107 16h1M121 16h1M134 16h1M51 17h1M126 19h2M3 22h1M93 22h1M136 25h1M104 27h1M104 29h1M123 29h1M131 29h1M91 30h1M126 31h1M138 31h1M66 33h1M79 34h1M54 35h1M82 35h1M87 35h1M133 35h1M58 36h1M67 36h1M50 38h1M67 38h1M73 38h1M63 39h1M66 39h1M68 40h1M85 40h1M63 41h1M82 41h1M85 41h1M82 42h1M11 43h1M122 43h1M9 44h1M0 45h1M126 45h1M124 48h1M122 50h1M131 54h1M6 64h1"/><path stroke="#bc3978" d="M22 6h1M41 6h1M126 6h1M134 6h1M96 7h1M103 9h1M124 9h1M134 9h1M94 10h1M108 10h1M114 10h1M120 10h1M126 11h1M135 12h1M114 13h1M137 13h1M102 14h1M96 15h1M124 19h1M123 20h1M123 21h1M128 23h1M96 24h1M120 26h1M130 26h1M123 27h1M91 29h1M96 30h1M118 30h1M115 31h1M22 34h1M64 34h1M67 34h1M126 36h1M71 38h1M24 40h1M9 43h2M137 45h1M127 59h1M132 61h1M126 62h1M124 63h1"/><path stroke="#bd3977" d="M6 6h1M44 6h1M81 6h1M89 6h1M108 9h1M109 12h1M126 12h1M120 13h1M126 13h1M135 13h1M53 14h1M129 14h1M138 15h1M102 17h1M107 17h1M127 18h1M139 18h1M129 20h1M125 21h1M128 22h1M94 23h1M134 23h1M3 24h1M126 25h1M96 26h1M121 26h1M136 30h1M99 33h1M86 36h1M64 37h1M71 37h1M69 38h1M86 38h1M75 39h2M79 39h1M82 39h1M85 39h1M60 40h1M72 41h1M84 41h1M117 45h1M126 48h1M3 50h1M6 52h1M7 54h1M124 55h1M134 55h1M129 58h1"/><path stroke="#bf3a77" d="M1 6h1M40 6h1M64 6h1M98 6h1M109 11h1M133 11h1M96 13h1M131 14h1M121 15h1M134 15h1M53 16h1M102 16h1M129 16h1M58 17h1M56 18h1M83 18h1M107 18h1M139 19h1M83 20h1M128 20h1M120 21h1M126 21h1M107 22h1M116 23h1M94 24h1M121 24h1M136 24h1M99 25h1M115 28h1M124 29h1M60 32h1M70 33h1M113 33h1M79 35h1M22 36h1M82 36h1M72 37h1M80 37h1M48 38h1M75 38h1M130 39h1M73 40h1M79 42h1M136 48h1M139 48h1M7 50h1M128 59h1M126 67h1"/><path stroke="#c03a76" d="M99 5h2M4 6h1M21 6h1M58 6h1M60 6h1M121 6h1M123 6h1M106 7h1M133 7h1M136 8h1M127 11h1M134 12h1M103 13h1M136 14h1M114 16h1M94 17h1M102 18h1M111 19h1M93 20h2M128 21h1M120 22h1M90 24h1M96 25h1M96 27h1M128 27h1M126 28h3M105 29h1M115 29h1M131 30h1M132 31h1M64 35h1M84 35h1M48 36h1M84 36h1M48 37h1M66 37h1M72 38h1M85 38h1M69 39h1M84 39h1M86 39h1M64 40h1M75 40h1M3 42h1M117 44h1M121 44h1M137 47h1M5 48h1M127 50h1M132 53h1"/><path stroke="#c23b75" d="M101 5h1M14 6h1M36 6h1M43 6h1M48 6h1M66 6h1M68 6h1M109 8h1M96 11h1M136 11h1M131 12h1M119 14h1M135 14h1M138 14h1M118 15h1M124 17h1M126 18h1M94 19h1M120 19h1M129 19h1M124 20h3M93 21h1M99 23h1M125 23h2M1 26h1M109 26h1M126 26h1M135 26h1M99 27h1M108 28h1M96 29h1M118 29h1M108 30h1M117 31h1M135 32h1M88 34h1M113 34h1M70 35h1M130 35h1M66 36h1M88 36h1M51 38h1M48 39h1M79 40h1M138 42h1M11 45h1M115 49h1M115 50h1M129 52h1M0 53h1M6 54h1"/><path stroke="#c43c75" d="M38 6h1M85 6h1M95 6h1M108 6h1M119 6h1M119 7h1M133 8h1M96 9h1M104 9h1M104 10h1M138 11h1M138 12h1M118 13h1M118 14h1M129 15h1M118 16h1M114 18h1M130 20h1M120 23h1M92 24h1M118 27h1M124 28h1M108 29h1M134 30h1M67 33h1M88 33h1M80 36h1M130 36h1M60 38h1M70 40h1M82 40h1M72 42h1M10 46h1M126 53h1M130 57h1M129 59h1"/><path stroke="#c53c74" d="M98 5h1M118 6h1M136 6h1M95 7h1M118 7h1M103 11h1M127 12h1M124 13h1M134 13h1M136 13h1M120 14h1M124 16h1M53 17h1M126 17h1M115 18h1M120 18h1M124 18h1M128 19h1M139 20h1M139 22h1M90 23h1M99 26h1M115 27h1M130 27h1M120 28h2M119 29h1M121 29h1M134 31h1M134 32h1M70 36h1M79 37h1M76 38h1M83 40h1M6 48h1M8 50h1M122 52h1M3 61h1"/><path stroke="#c73d73" d="M102 5h1M18 6h1M42 6h1M96 6h1M119 8h1M96 12h1M93 13h1M115 13h1M119 15h1M120 20h1M120 27h1M91 28h1M130 28h1M108 31h1M116 32h1M64 33h1M22 35h1M88 35h1M64 36h1M73 39h1M1 53h1M125 60h1"/><path stroke="#c83e73" d="M67 6h1M133 6h1M136 7h1M95 9h1M115 11h1M136 12h1M120 15h1M53 18h1M121 18h1M107 19h1M114 19h1M114 20h1M119 21h1M121 22h1M92 23h1M99 24h1M116 24h1M124 24h2M124 26h1M121 27h1M117 28h1M99 32h1M84 37h1M64 38h1M132 39h1M67 40h1M120 44h1M121 50h1M126 54h1M129 56h1M7 61h1M127 61h1"/><path stroke="#ca3e72" d="M54 6h1M104 7h1M109 10h1M119 12h2M133 12h1M110 13h1M93 14h1M134 14h1M115 15h1M124 15h1M127 15h1M114 17h1M118 17h1M111 18h1M93 19h1M118 19h1M94 22h1M120 24h1M118 25h1M124 27h1M99 31h1M79 36h1M80 38h1M66 40h1M76 40h1M136 41h1M120 42h1M137 43h1M8 44h1M135 45h1M134 48h1M128 49h1M122 59h1"/><path stroke="#cc3f71" d="M103 5h1M19 6h1M28 6h1M71 6h1M94 7h1M95 12h1M129 17h1M115 19h1M130 21h1M116 22h1M121 23h1M126 24h1M121 25h1M118 26h1M130 29h1M66 38h1M6 44h1M122 44h1M114 46h1M2 47h1M131 47h1M5 55h1M131 57h1M137 61h1"/><path stroke="#cd4071" d="M104 5h4M124 6h1M138 6h1M109 7h1M117 8h1M133 9h1M96 10h1M118 10h1M95 11h1M113 11h1M114 14h1M127 14h1M126 16h1M139 16h1M127 17h1M94 18h1M119 19h1M115 22h1M119 22h1M119 28h1M130 30h1M113 32h1M114 36h1M82 37h1M82 38h1M130 38h1M64 39h1M72 39h1M131 39h1M9 45h1M118 47h1M0 49h1M4 51h1"/><path stroke="#cf4070" d="M108 5h1M5 6h1M13 6h1M46 6h1M56 6h1M94 6h1M138 7h1M95 8h1M138 8h1M118 9h1M103 10h1M115 10h1M117 10h1M93 15h1M115 16h1M138 16h1M114 21h1M130 22h1M118 24h1M130 25h1M135 28h1M130 37h1M79 38h1M84 38h1M60 39h1M139 40h1M121 42h1M135 44h1M128 50h1M129 54h1"/><path stroke="#d0416f" d="M17 6h1M47 6h1M52 6h1M93 6h1M116 8h1M118 8h1M114 9h1M95 10h1M93 12h1M138 13h1M120 16h1M119 20h1M121 21h1M119 23h1M130 23h1M116 25h1M120 25h1M99 29h1M115 30h1M113 31h1M131 36h1M70 39h1M72 40h1M116 49h1M123 59h1M4 61h1"/><path stroke="#d2426f" d="M55 6h1M116 7h1M93 8h1M109 9h1M117 9h1M113 10h1M115 12h1M121 17h1M118 18h1M115 23h1M115 24h1M130 24h1M135 27h1M113 29h1M130 32h1M84 40h1M130 47h1M8 48h1M125 54h1M122 56h1M7 57h1"/><path stroke="#d3436e" d="M97 5h1M23 6h1M115 8h1M138 10h1M118 11h1M113 12h1M118 12h1M53 15h1M127 16h1M93 17h1M119 18h1M121 19h1M121 20h1M115 21h1M118 23h1M115 25h1M113 30h1M135 31h1M130 34h1M70 37h1M126 44h1M7 58h1"/><path stroke="#d5446d" d="M115 20h1M94 21h1M114 22h1M115 26h1M114 27h1M119 27h1M132 32h1M114 35h1M131 35h1M129 46h1M128 56h1"/><path stroke="#d6456c" d="M12 6h1M45 6h1M115 7h1M114 8h1M91 23h1M114 24h1M96 28h1M131 31h1M118 45h1M4 48h1M8 54h1"/><path stroke="#d8456c" d="M11 6h1M93 7h1M96 8h1M93 16h1M93 18h1M118 22h1M119 24h1M99 28h1M135 29h1M99 30h1M116 31h1M131 32h1M131 34h1M112 36h1M117 41h1M9 46h1"/><path stroke="#d9466b" d="M119 16h1M115 17h1M118 21h1M114 25h1M119 25h1M114 26h1M117 29h1M132 36h1M70 38h1M4 50h1M130 56h1"/><path stroke="#db476a" d="M29 6h1M49 6h1M109 6h1M115 9h1M93 11h1M127 13h1M111 17h1M117 23h1M117 26h1M117 30h1M3 51h1"/><path stroke="#dc4869" d="M117 7h1M138 9h1M116 10h1M112 15h2M139 21h1M119 26h1M116 28h1M135 30h1M132 33h1M112 35h1M4 44h1M124 59h1"/><path stroke="#de4968" d="M112 11h1M117 11h1M120 17h1M118 20h1M116 26h1M117 27h1M138 41h1M124 54h1"/><path stroke="#df4a68" d="M109 5h1M116 9h1M113 13h1M116 27h1M130 31h1M130 33h1M128 55h1"/><path stroke="#e04c67" d="M93 9h1M115 14h1M114 23h1"/><path stroke="#e24d66" d="M119 5h1M116 11h1M113 14h1M119 17h1M116 21h1M117 24h1M113 27h1M114 29h1M132 34h1M8 47h1M119 54h1"/><path stroke="#e34e65" d="M93 10h1M117 25h1M91 26h1M131 33h1M3 53h1M116 53h1M6 56h1M127 56h1"/><path stroke="#e44f64" d="M73 5h1M118 5h1M115 6h1M113 8h1M117 22h1M91 24h1M113 28h2M132 38h1M125 55h1M133 61h2"/><path stroke="#e55064" d="M72 5h1M116 13h1M114 33h1M114 34h1M131 37h1M131 38h1M116 41h1M127 54h1M7 56h1"/><path stroke="#e75263" d="M71 5h1M116 20h1M91 25h1M116 29h1M9 54h1M128 54h1"/><path stroke="#e85362" d="M120 5h1M20 6h1M116 6h1M114 7h1M113 9h1M112 10h1M116 18h1M112 29h1M112 34h1M131 49h1"/><path stroke="#e95462" d="M74 5h1M96 5h1M112 12h1M117 12h1M112 14h1M132 37h1M119 52h1"/><path stroke="#ea5661" d="M95 5h1M117 13h1M117 19h1M91 27h1M112 33h1M3 43h1M125 53h1M6 58h1"/><path stroke="#eb5760" d="M116 19h1M132 35h1M10 45h1M130 49h1M2 53h1M5 57h1"/><path stroke="#ec5860" d="M70 5h1M121 5h17M111 15h1M116 15h1M117 21h1M112 26h2M112 27h1M112 30h1M114 31h1M137 50h1"/><path stroke="#ed5a5f" d="M138 5h1M116 12h1M112 13h1M114 32h1M0 56h1M8 56h1"/><path stroke="#ee5b5e" d="M99 4h3M94 5h1M112 28h1M112 31h1M137 41h1M120 54h1M1 56h1"/><path stroke="#ef5d5e" d="M110 12h1M111 16h1M112 17h1"/><path stroke="#f05f5e" d="M75 5h1M93 5h1M139 5h1M111 14h1M116 14h1M116 16h1M112 20h1M117 20h1M92 22h1M112 32h1M5 44h1"/><path stroke="#f1605d" d="M98 4h1M102 4h1M76 5h1M117 6h1M112 8h1M112 25h1M114 30h1M116 30h1M135 48h1"/><path stroke="#f2625d" d="M77 5h12M114 6h1M116 17h1M117 18h1M113 25h1"/><path stroke="#f2645c" d="M113 7h1M113 17h1"/><path stroke="#f3655c" d="M117 14h1M112 21h1M91 22h1"/><path stroke="#f4675c" d="M8 5h2M89 5h1M90 7h1M112 24h1"/><path stroke="#f4695c" d="M103 4h1M112 7h1M113 16h1M117 16h1M117 17h1M112 19h1M91 21h1M90 22h1M113 24h1"/><path stroke="#f56b5c" d="M104 4h4M7 5h1M90 6h1M112 9h1M117 15h1M112 18h1M92 21h1M118 52h1"/><path stroke="#f66c5c" d="M108 4h1M10 5h1M69 5h1M113 6h1M90 8h1M90 21h1M6 57h1"/><path stroke="#f66e5c" d="M117 5h1M111 13h1M92 16h1M112 16h1M92 17h1"/><path stroke="#f7705c" d="M111 12h1M92 20h1M2 43h1M127 55h1"/><path stroke="#f7725c" d="M97 4h1M90 20h2M113 20h1"/><path stroke="#f8745c" d="M119 4h1M6 5h1M11 5h1M20 5h11M115 5h2M112 6h1M90 9h1M92 18h1M92 19h1M112 22h1M112 23h1M126 55h1"/><path stroke="#f8765c" d="M5 5h1M12 5h8M31 5h20M68 5h1M113 18h1M126 49h1M138 50h1"/><path stroke="#f9785d" d="M118 4h1M0 5h5M51 5h17M127 49h1M5 50h2"/><path stroke="#f9795d" d="M113 19h1M113 21h1"/><path stroke="#fa7d5e" d="M92 15h1"/><path stroke="#fa7f5e" d="M90 10h1M90 19h1"/><path stroke="#fa815f" d="M96 4h1M113 22h1M113 23h1"/><path stroke="#fb835f" d="M95 4h1M109 4h1M90 11h1M110 11h1"/><path stroke="#fb8560" d="M111 11h1M90 18h1"/><path stroke="#fb8761" d="M94 4h1M91 19h1"/><path stroke="#fc8961" d="M114 5h1"/><path stroke="#fc8a62" d="M90 5h1M90 12h1M90 13h1M90 17h1"/><path stroke="#fc8c63" d="M93 4h1M112 5h2M92 14h1M90 15h1M90 16h1"/><path stroke="#fc8e64" d="M90 14h1"/><path stroke="#fd9266" d="M120 4h1"/><path stroke="#fd9668" d="M111 10h1"/><path stroke="#fd9b6b" d="M72 4h2M117 4h1"/><path stroke="#fe9d6c" d="M71 4h1M92 13h1"/><path stroke="#fe9f6d" d="M91 18h1"/><path stroke="#fea16e" d="M115 4h2"/><path stroke="#fea36f" d="M110 10h1"/><path stroke="#fea772" d="M70 4h1M74 4h1M121 4h17"/><path stroke="#fea973" d="M138 4h1M111 9h1"/><path stroke="#feae77" d="M90 4h1M139 4h1M111 8h1"/><path stroke="#feb078" d="M114 4h1M92 12h1"/><path stroke="#feb27a" d="M112 4h2"/><path stroke="#feb47b" d="M75 4h1"/><path stroke="#feb67c" d="M111 7h1"/><path stroke="#feb77e" d="M76 4h13M91 17h1"/><path stroke="#feb97f" d="M89 4h1M111 6h1"/><path stroke="#febb81" d="M8 4h2M69 4h1"/><path stroke="#febd82" d="M92 11h1"/><path stroke="#febf84" d="M7 4h1M10 4h1M92 6h1M110 9h1"/><path stroke="#fec287" d="M6 4h1M21 4h8"/><path stroke="#fec488" d="M0 4h6M11 4h10M29 4h40M92 5h1M111 5h1M110 6h1M92 7h1M92 10h1"/><path stroke="#fec68a" d="M110 8h1"/><path stroke="#fec88c" d="M110 7h1M92 8h1"/><path stroke="#feca8d" d="M110 5h1M92 9h1"/><path stroke="#fecc8f" d="M91 16h1"/><path stroke="#fecd90" d="M91 6h1"/><path stroke="#fed395" d="M92 4h1M91 7h1"/><path stroke="#fed597" d="M111 4h1M91 5h1"/><path stroke="#fed799" d="M110 4h1"/><path stroke="#fddc9e" d="M91 8h1M91 15h1"/><path stroke="#fde0a1" d="M91 9h1"/><path stroke="#fde2a3" d="M91 4h1"/><path stroke="#fde3a5" d="M91 10h1"/><path stroke="#fde5a7" d="M91 13h1M91 14h1"/><path stroke="#fde7a9" d="M91 11h1"/><path stroke="#fde9aa" d="M91 12h1"/><path stroke="#fcfdbf" d="M0 0h140M0 1h140M0 2h140M0 3h140M0 122h140M0 123h140M0 124h140M0 125h140"/></g><g transform="translate(128.00 590.000) scale(10.8506 3.2000)" fill="none" stroke-width="1.02" shape-rendering="crispEdges"><path stroke="#000004" d="M0 10h1M3 10h2M16 10h4M26 10h1M29 10h3M57 10h2M61 10h1M66 10h2M72 10h1M79 10h1M84 10h1M10 11h2M25 11h4M41 11h5M58 11h5M70 11h2M79 11h3M13 12h4M18 12h3M22 12h1M34 12h3M53 12h2M60 12h4M72 12h2M75 12h1M78 12h2M2 13h3M9 13h2M23 13h3M32 13h1M41 13h2M46 13h8M59 13h2M69 13h3M85 13h2M4 14h2M17 14h4M22 14h1M25 14h6M44 14h1M53 14h5M63 14h1M73 14h1M84 14h1M0 15h1M9 15h3M19 15h3M27 15h2M30 15h1M37 15h1M39 15h1M45 15h2M59 15h2M69 15h2M78 15h2M85 15h2M18 16h2M30 16h1M42 16h1M48 16h1M59 16h1M86 19h1M74 38h2M65 126h1M7 130h1M49 131h1M0 132h1M49 135h1M85 136h1M20 137h2M36 137h1M85 137h2M17 138h1M38 138h1M8 139h1M29 139h2M60 139h1M5 140h1M16 141h1M50 141h1M24 142h2M48 142h2"/><path stroke="#010005" d="M20 10h1M25 10h1M47 10h1M12 11h1M38 11h2M12 12h1M21 12h1M47 12h1M81 12h1M0 13h1M5 13h1M45 13h1M58 13h1M63 13h1M68 13h1M3 14h1M10 14h1M16 14h1M85 14h1M4 15h1M38 15h1M73 15h1M49 16h1M81 17h1M1 119h1M34 132h1M58 133h1M39 136h1M26 137h1M16 138h1M39 138h1M41 140h1M17 141h1M51 141h1"/><path stroke="#010106" d="M27 10h2M60 10h1M62 10h1M63 11h1M17 12h1M71 12h1M82 12h1M1 13h1M22 13h1M33 13h1M72 13h1M9 14h1M2 15h1M20 16h1M42 17h1M57 20h1M75 44h1M76 122h1M27 130h1M79 136h1M8 141h1M46 141h1"/><path stroke="#010108" d="M32 10h1M56 10h1M80 10h1M86 10h1M53 11h1M57 11h1M69 11h1M26 13h1M40 13h1M65 13h1M5 15h1M29 15h1M71 15h1M66 50h1M60 118h1M26 119h1M0 120h1M77 126h1M23 129h1M8 130h1M2 133h1M59 133h1M40 136h1M35 137h1M37 137h1M61 139h1M25 140h1M48 140h2M58 140h1M65 141h1M29 142h1M36 142h1"/><path stroke="#020109" d="M1 10h1M78 10h1M85 10h1M75 11h1M83 12h1M12 13h1M28 13h1M56 13h1M62 13h1M39 14h1M12 15h1M26 15h1M74 15h1M64 16h1M84 16h1M41 17h1M80 17h1M56 20h1M65 50h1M61 133h1M73 134h1M83 136h2M14 137h1M22 137h1M27 137h1M40 138h1M12 139h1M35 139h1M6 140h1M62 140h2M17 142h1"/><path stroke="#02020b" d="M53 10h1M40 11h1M54 11h1M56 11h1M82 11h1M55 12h1M30 13h1M8 14h1M37 14h1M74 14h1M30 19h1M0 119h1M2 119h1M27 119h1M3 121h1M75 122h1M69 127h1M39 129h1M81 129h1M71 134h1M48 135h1M81 136h1M68 138h1M7 139h1M32 140h1M52 141h1M32 142h1"/><path stroke="#02020d" d="M5 10h1M45 10h1M48 10h1M52 10h1M54 10h1M73 10h1M1 11h1M23 12h1M37 12h1M64 12h1M80 12h1M8 13h1M11 13h1M57 13h1M84 13h1M11 14h1M13 14h1M72 14h1M83 14h1M3 15h1M15 15h1M47 16h1M78 126h1M3 130h1M10 131h1M29 134h1M82 136h1M52 138h1M62 139h1M76 139h1M27 140h1M40 140h1M85 140h1"/><path stroke="#03030f" d="M49 10h1M59 10h1M9 11h1M28 12h2M45 12h1M65 12h1M84 12h1M21 14h1M34 14h1M64 14h1M1 15h1M5 16h1M60 16h1M73 16h1M60 42h1M77 122h1M77 125h1M50 127h1M83 128h1M86 128h1M38 129h1M28 130h1M46 135h1M71 135h1M37 138h1M49 138h1M34 139h1M26 140h1M66 141h1M70 141h1M23 142h1M28 142h1"/><path stroke="#030312" d="M15 10h1M44 10h1M68 10h1M83 10h1M2 11h1M22 11h1M66 11h1M0 12h1M44 12h1M74 12h1M18 13h1M31 13h1M61 13h1M6 14h1M35 14h1M43 14h1M58 14h1M62 14h1M65 14h1M16 15h1M31 15h1M44 15h1M47 15h1M56 15h1M80 15h1M29 16h1M43 16h1M54 19h1M74 44h1M69 121h1M71 124h1M55 125h1M85 128h1M4 130h1M26 130h1M16 131h1M1 133h1M26 133h1M57 133h1M10 136h1M4 140h1M7 140h1M31 140h1M76 141h1M79 141h1M14 142h1M18 142h1M31 142h1"/><path stroke="#040414" d="M46 10h1M65 10h1M6 11h1M13 11h1M34 11h1M52 11h1M65 11h1M78 11h1M4 12h1M48 12h1M27 13h1M29 13h1M12 14h1M25 15h1M84 15h1M22 16h1M33 16h1M58 16h1M63 16h1M65 16h1M83 16h1M73 18h1M55 19h2M59 42h1M61 42h1M81 121h1M86 124h1M64 126h1M34 129h1M2 130h1M78 131h1M23 132h1M19 136h1M38 136h1M75 136h1M41 138h1M49 139h1M5 142h1"/><path stroke="#050416" d="M47 11h2M67 11h1M8 12h1M30 12h1M70 12h1M34 13h1M23 14h1M38 14h1M45 14h1M86 14h1M72 15h1M74 16h1M28 18h1M76 38h1M74 43h1M9 49h1M63 119h1M4 121h1M70 127h1M2 128h1M22 129h1M37 130h1M1 132h1M67 132h1M44 134h1M77 135h1M11 139h1M36 139h1M83 139h1M23 140h1M61 140h1M45 141h1M49 141h1M64 141h1M67 141h1M75 141h1M16 142h1"/><path stroke="#060518" d="M23 11h1M29 11h1M7 12h1M25 12h1M33 12h1M69 12h1M77 12h1M39 13h1M54 13h1M75 13h1M0 14h1M15 14h1M40 14h1M61 14h1M36 15h1M85 19h1M46 44h1M67 50h1M12 120h1M82 121h1M23 127h2M0 130h1M6 130h1M16 130h1M71 130h1M79 131h1M57 132h1M68 132h1M77 132h1M23 133h1M60 133h1M62 133h1M45 134h1M14 135h1M47 135h1M81 135h1M37 136h1M46 136h1M25 137h1M84 137h1M15 138h1M48 138h1M13 139h1M23 139h1M25 139h1M56 139h1M68 139h1M82 139h1M24 140h1M42 140h1M86 140h1M53 141h1M58 141h1M7 142h1"/><path stroke="#06051a" d="M71 10h1M33 11h1M55 11h1M72 11h1M83 11h1M27 12h1M42 12h2M20 13h1M67 13h1M73 13h1M2 14h1M14 14h1M31 14h1M14 15h1M18 15h1M77 15h1M4 16h1M6 16h1M80 16h1M37 18h1M70 45h1M23 119h2M36 119h1M52 122h1M52 123h1M71 127h1M9 130h1M68 130h1M48 131h1M25 133h1M7 134h1M28 134h1M46 134h1M81 134h1M11 136h1M86 136h1M13 137h1M18 138h1M14 139h1M24 139h1M85 139h1M7 141h1M18 141h1M8 142h1"/><path stroke="#07061c" d="M2 10h1M55 10h1M5 11h1M31 11h1M3 12h1M52 12h1M56 12h1M59 12h1M64 13h1M1 14h1M7 14h1M75 14h1M53 15h1M12 16h1M16 16h1M23 16h1M53 18h1M58 20h1M0 36h1M63 42h1M67 44h1M86 45h1M61 118h1M69 120h1M46 128h1M75 128h1M81 128h1M20 129h1M61 129h1M53 131h1M20 133h1M24 133h1M30 133h1M43 134h1M72 134h1M62 135h1M45 136h1M5 137h1M40 137h1M52 139h1M77 139h1M18 140h1M80 140h1M77 141h1M85 141h1M13 142h1M50 142h1"/><path stroke="#08071e" d="M75 10h1M77 10h1M3 11h2M20 11h1M30 11h1M39 12h1M6 13h2M13 13h1M24 14h1M81 14h1M8 15h1M13 15h1M75 15h1M17 16h1M50 16h1M25 17h1M49 17h1M29 18h1M53 19h1M58 42h1M48 96h1M32 121h1M68 121h1M3 122h1M12 122h1M78 122h1M50 123h1M9 124h1M4 126h1M16 128h1M79 128h2M58 129h1M10 130h1M18 131h1M62 131h1M76 132h1M27 133h1M29 133h1M26 134h1M52 135h1M83 135h1M9 136h1M20 136h1M28 136h1M78 136h1M80 136h1M0 137h1M19 137h1M23 137h1M30 137h1M75 139h1M47 140h1M59 140h1M15 141h1M78 141h1"/><path stroke="#090720" d="M13 10h1M74 10h1M8 11h1M32 11h1M74 11h1M1 12h1M76 12h1M17 13h1M66 13h1M74 13h1M54 15h1M61 15h1M32 16h1M41 16h1M85 16h1M72 18h1M31 19h1M85 21h1M62 42h1M75 43h1M57 44h1M76 44h1M51 49h1M86 108h1M26 115h1M0 117h1M62 119h1M33 120h1M38 120h1M74 122h1M26 123h1M51 123h1M70 124h1M23 126h2M49 127h1M51 127h1M10 128h1M17 128h2M84 128h1M0 129h1M25 130h1M67 130h1M17 131h1M34 131h1M33 132h1M28 133h1M31 133h1M18 136h1M54 137h1M69 138h1M59 139h1M63 139h1M50 140h1M60 140h1M30 142h1M33 142h1M35 142h1M37 142h1M47 142h1M52 142h1"/><path stroke="#0a0822" d="M23 10h2M49 11h1M26 12h1M38 12h1M35 13h1M32 14h2M47 14h1M52 14h1M6 15h1M11 16h1M37 16h1M78 16h2M48 17h1M84 17h1M50 39h1M48 40h1M45 44h1M51 45h1M70 47h1M83 50h1M83 53h1M85 115h1M34 116h1M70 121h1M79 121h1M4 122h1M39 127h1M12 128h1M29 128h1M49 128h1M62 129h1M80 129h1M72 130h1M77 131h1M64 132h1M79 132h1M30 134h1M65 134h1M45 135h1M61 135h1M4 136h2M29 136h1M74 136h1M1 137h1M77 137h1M0 138h1M19 138h1M29 138h1M36 138h1M67 138h1M28 139h1M84 139h1M0 140h1M3 140h1M13 140h1M67 140h1M9 141h1M47 141h1M69 141h1M82 141h1"/><path stroke="#0b0924" d="M39 10h1M51 10h1M7 11h1M24 11h1M35 11h1M46 11h1M6 12h1M9 12h1M24 12h1M32 12h1M40 12h1M42 14h1M80 14h1M32 15h1M40 15h1M81 15h1M3 16h1M21 16h1M25 16h1M61 16h1M72 16h1M81 16h1M41 18h1M59 18h1M78 18h1M31 34h1M86 39h1M67 40h1M34 44h1M58 44h1M54 46h1M58 46h1M37 50h1M39 51h1M14 104h1M62 118h1M46 122h1M79 122h1M11 128h1M50 128h1M29 130h1M33 130h2M43 131h1M68 131h1M85 131h1M21 133h1M23 134h1M27 134h1M17 137h1M34 137h1M38 137h1M41 137h1M58 137h1M12 138h1M50 138h1M9 139h2M31 139h1M37 139h1M48 139h1M14 140h1M81 140h1M57 141h1M71 141h1M4 142h1M15 142h1M19 142h2M82 142h1"/><path stroke="#0c0926" d="M14 10h1M37 11h1M84 11h1M41 12h1M58 12h1M85 12h1M83 13h1M41 14h1M60 14h1M7 15h1M67 15h2M2 16h1M46 16h1M51 16h1M77 16h1M86 16h1M56 17h1M67 17h1M82 17h1M79 18h1M52 35h1M86 36h1M9 37h1M21 38h1M77 38h1M68 40h1M74 41h1M37 47h1M47 47h1M10 49h1M41 49h1M50 49h1M7 117h1M3 119h1M25 119h1M35 119h1M32 120h1M31 121h1M33 121h1M37 121h1M76 125h1M47 126h1M82 126h1M61 127h1M65 127h1M82 128h1M37 129h1M17 130h1M23 130h1M86 130h1M41 131h1M61 131h1M18 132h1M22 132h1M62 132h2M78 132h1M81 132h1M83 132h1M70 134h1M8 135h1M70 135h1M12 136h1M21 136h1M23 136h1M15 137h1M18 137h1M78 137h1M47 138h1M53 138h1M55 139h1M57 139h1M67 139h1M28 140h1M30 140h1M68 141h1M80 141h1M27 142h1M46 142h1"/><path stroke="#0d0a29" d="M22 10h1M40 10h1M50 10h1M69 10h1M81 10h1M21 11h1M5 12h1M31 12h1M46 12h1M49 12h1M68 12h1M19 13h1M21 13h1M77 13h1M36 14h1M79 14h1M82 14h1M22 15h1M35 15h1M43 15h1M28 16h1M65 17h1M83 17h1M46 18h1M55 20h1M63 44h1M22 45h1M53 46h1M60 49h2M33 51h1M48 79h1M28 114h1M7 115h1M55 116h1M65 119h1M37 120h1M12 121h1M15 121h1M52 121h1M1 122h1M65 122h1M17 123h1M8 124h1M10 124h1M15 124h1M42 124h1M81 125h1M52 126h1M44 127h1M1 128h1M3 128h1M74 128h1M49 130h1M52 130h1M66 130h1M7 131h1M42 131h1M2 132h1M65 132h2M71 132h1M3 133h1M46 133h1M66 133h1M74 134h1M82 134h1M82 135h1M20 138h1M23 138h1M57 138h1M33 139h1M46 139h1M69 139h1M77 140h1M21 141h1M60 141h1M67 142h1M75 142h1"/><path stroke="#0e0b2b" d="M68 11h1M11 12h1M86 12h1M59 14h1M78 14h1M57 15h1M24 16h1M34 16h1M17 17h1M40 17h1M54 17h1M36 18h1M42 18h1M48 18h1M56 18h1M60 18h1M17 19h1M37 19h1M37 20h1M43 36h1M49 39h1M54 40h1M65 46h1M0 47h1M48 47h1M71 47h1M86 49h1M34 51h1M40 51h1M84 53h1M49 79h1M20 111h1M29 114h1M57 116h1M1 117h1M34 119h1M68 120h1M26 121h1M30 121h1M40 122h1M36 123h1M27 124h1M72 124h1M85 124h1M52 125h1M81 126h1M34 127h1M47 127h1M74 127h1M37 128h1M1 130h1M5 130h1M11 131h1M23 131h1M50 131h1M27 132h1M35 132h1M37 132h1M52 132h1M75 132h1M0 133h1M4 133h1M10 133h1M51 133h1M65 133h1M81 133h1M25 134h1M57 134h1M69 134h1M4 135h1M15 135h1M20 135h1M29 135h1M27 136h1M34 136h1M36 136h1M2 137h1M67 137h1M1 138h1M46 138h1M58 138h1M0 139h1M19 139h1M74 139h1M29 140h1M33 140h1M53 140h1M54 141h1M59 141h1M6 142h1M12 142h1M21 142h1"/><path stroke="#100b2d" d="M6 10h1M21 10h1M64 11h1M2 12h1M37 13h1M55 13h1M55 15h1M58 15h1M15 16h1M36 16h1M62 16h1M32 17h1M53 17h1M66 17h1M30 18h1M35 18h1M39 18h1M58 18h1M69 18h1M71 19h1M53 35h1M44 36h1M8 37h1M44 38h1M63 38h1M0 42h1M83 42h1M73 43h1M40 44h1M77 44h1M58 48h1M42 49h1M68 50h1M86 92h1M35 95h1M63 103h1M27 106h1M74 118h1M37 119h1M66 119h1M57 120h1M62 120h1M50 121h1M80 121h1M39 122h1M24 123h1M16 125h1M26 125h1M34 125h1M83 125h1M3 126h1M5 126h1M26 126h1M25 127h1M40 127h1M55 128h1M66 128h1M43 129h1M57 129h1M77 130h1M8 131h1M52 131h1M54 131h1M63 131h1M39 132h2M32 133h1M52 133h1M63 133h1M40 134h1M55 134h1M58 134h1M61 134h1M13 135h1M28 135h1M69 135h1M72 135h1M80 135h1M44 136h1M4 137h1M24 137h1M29 137h1M55 137h1M79 137h1M8 138h1M28 138h1M42 138h1M51 138h1M73 138h1M18 139h1M20 139h1M22 139h1M58 139h1M12 140h1M43 140h1M57 140h1M36 141h1M43 142h1M59 142h1M64 142h1M76 142h1M83 142h1M0 143h87M0 144h87M0 145h87"/><path stroke="#110c2f" d="M33 10h1M38 10h1M76 10h1M16 11h1M36 11h1M67 12h1M36 13h1M43 13h1M76 13h1M71 14h1M41 15h1M49 15h1M52 15h1M7 16h1M10 16h1M31 16h1M82 16h1M39 17h1M38 18h1M49 18h1M57 18h1M16 19h1M20 19h1M27 19h1M29 19h1M57 19h1M38 20h1M42 36h1M42 38h1M65 40h2M45 43h1M47 44h1M66 44h1M50 45h1M69 47h1M52 48h1M8 49h1M12 49h1M52 50h1M53 51h1M74 83h1M6 92h1M45 97h1M29 111h1M82 113h1M57 118h1M63 118h1M73 118h1M1 120h1M50 120h1M70 120h1M77 120h1M79 120h1M14 121h1M14 123h1M74 124h1M35 125h1M56 125h1M58 126h1M66 126h1M79 126h1M83 126h1M48 127h1M68 127h1M72 127h1M47 128h1M21 129h1M40 129h1M46 130h1M50 130h1M64 130h2M15 131h1M20 131h1M40 131h1M55 131h1M67 131h1M43 132h1M69 132h1M8 134h1M40 135h1M63 135h1M76 135h1M84 135h1M43 136h1M57 136h1M60 136h1M39 137h1M46 137h1M9 138h1M65 138h1M78 139h1M19 140h1M39 140h1M52 140h1M79 140h1M48 141h1M9 142h1M22 142h1M26 142h1"/><path stroke="#120d31" d="M43 10h1M63 10h1M70 10h1M57 12h1M38 13h1M78 13h1M46 14h1M48 14h2M42 15h1M50 15h1M9 16h1M69 16h1M54 18h1M80 18h1M63 19h1M70 19h1M43 34h1M58 36h1M44 39h1M17 40h1M39 40h1M59 40h1M70 40h1M4 41h1M46 41h1M75 42h1M18 43h1M62 44h1M29 45h1M71 45h1M38 47h1M46 47h1M53 48h1M50 50h1M75 83h1M3 110h1M30 110h1M65 114h1M8 115h1M76 115h1M86 115h1M56 116h1M59 116h1M77 116h1M34 118h1M64 119h1M51 120h1M56 120h1M74 120h1M78 120h1M27 121h1M66 122h1M35 123h1M65 123h1M60 124h2M81 124h1M83 124h1M51 125h1M7 126h1M17 127h1M33 127h1M38 127h1M60 127h1M45 128h1M51 128h2M33 129h1M79 129h1M36 130h1M53 130h1M62 130h1M73 130h1M64 131h1M21 132h1M26 132h1M44 132h1M11 133h1M37 134h1M59 134h1M77 134h1M5 135h1M16 135h1M30 136h1M41 136h1M56 136h1M61 136h1M76 136h1M10 137h1M28 137h1M52 137h2M15 139h1M27 139h1M38 139h1M50 139h1M41 141h1M51 142h1"/><path stroke="#130d34" d="M8 10h1M73 11h1M85 11h1M50 12h1M66 12h1M16 13h1M62 15h1M35 16h1M57 16h1M45 18h1M77 18h1M1 19h1M42 20h1M58 21h1M86 21h1M32 34h1M54 35h1M58 35h2M86 37h1M51 39h1M24 40h1M45 41h1M73 41h1M83 41h1M50 42h1M32 43h1M46 43h1M61 43h1M39 44h1M51 44h1M66 46h1M77 47h1M22 49h1M34 49h1M33 50h1M53 95h1M49 96h1M86 98h1M19 106h1M20 112h1M44 113h1M60 116h1M79 117h1M55 118h1M75 118h1M32 119h1M2 121h1M2 122h1M38 122h1M57 122h1M15 123h1M71 123h1M81 123h1M16 124h1M15 125h1M36 125h1M54 125h1M58 125h1M78 125h1M86 125h1M6 126h1M14 126h1M49 126h1M51 126h1M85 126h1M45 127h1M75 127h1M67 128h1M19 129h1M85 129h1M24 130h1M32 130h1M63 130h1M69 130h1M26 131h1M39 131h1M10 132h1M13 132h1M53 132h1M70 132h1M80 132h1M84 132h1M37 133h2M67 133h1M39 134h1M19 135h1M32 135h1M34 135h1M8 136h1M35 136h1M52 136h1M73 136h1M6 137h2M12 137h1M16 137h1M7 138h1M62 138h1M72 138h1M21 139h1M47 139h1M53 139h1M73 139h1M79 139h1M68 140h1M76 140h1M84 140h1M74 141h1M83 141h2M44 142h2M68 142h1"/><path stroke="#140e36" d="M50 11h1M80 13h1M69 14h1M76 15h1M13 16h1M44 16h1M75 16h1M75 17h1M40 18h1M28 19h1M51 19h1M78 19h1M20 20h2M77 21h1M41 22h1M18 25h1M46 34h1M48 34h1M37 35h2M1 36h1M45 38h1M51 38h1M60 39h1M16 40h1M25 40h1M40 40h1M51 40h1M78 40h1M29 41h1M49 42h1M19 43h1M67 43h1M33 45h1M43 45h2M22 46h1M59 46h1M57 47h1M78 47h1M35 49h1M49 49h1M62 49h1M24 50h1M64 50h1M82 50h1M73 51h1M40 52h1M23 72h1M31 78h1M6 94h1M74 97h1M49 104h1M18 106h1M9 108h1M0 111h1M19 111h1M9 114h1M35 116h1M56 118h1M76 118h1M67 119h1M1 121h1M38 121h1M8 122h1M19 122h1M26 122h1M28 122h1M47 122h1M51 122h1M67 122h1M85 122h1M16 123h1M25 123h1M28 124h1M56 124h1M69 124h1M84 125h1M48 126h1M50 126h1M10 127h1M79 127h1M30 128h1M68 128h1M76 128h1M18 130h1M30 130h1M70 130h1M19 131h1M57 131h2M65 131h1M69 131h1M14 132h1M49 132h1M55 132h2M10 134h1M24 134h1M50 134h1M60 134h1M68 134h1M33 135h1M60 135h1M78 135h1M33 136h1M77 136h1M9 137h1M47 137h1M68 137h1M21 138h1M61 138h1M64 138h1M66 138h1M17 139h1M26 139h1M1 140h1M22 140h1M46 140h1M82 140h1M81 141h1M38 142h1"/><path stroke="#150e38" d="M0 11h1M15 11h1M10 12h1M77 14h1M17 15h1M48 15h1M63 15h1M67 16h1M14 17h1M16 17h1M24 17h1M31 17h1M79 17h1M17 18h1M21 18h1M34 18h1M47 18h1M74 18h1M52 19h1M65 19h1M69 19h1M72 19h1M42 21h1M56 22h1M58 34h1M40 35h1M59 36h1M79 36h1M10 37h1M61 38h1M78 38h1M59 39h1M38 40h1M47 40h1M69 40h1M38 42h1M82 42h1M26 43h2M33 43h1M39 43h1M60 43h1M66 43h1M32 44h1M27 45h1M32 45h1M34 45h1M46 45h1M74 45h1M9 46h1M46 46h1M11 49h1M52 49h1M66 49h1M51 50h1M52 51h1M64 52h1M34 55h1M47 79h1M49 93h1M47 96h1M58 96h1M38 100h1M16 108h1M28 108h1M7 110h1M6 111h1M28 111h1M45 113h1M83 113h1M20 115h1M25 115h1M58 116h1M63 116h1M6 117h1M39 120h1M11 121h1M49 121h1M17 122h1M23 122h2M64 122h1M0 123h1M60 123h1M17 124h1M55 124h1M27 125h1M25 126h1M27 126h1M41 126h1M46 126h1M71 126h1M26 127h1M31 127h2M41 127h1M43 127h1M73 127h1M14 128h1M24 129h1M82 129h1M14 130h1M39 130h1M51 130h1M81 130h1M66 131h1M17 132h1M20 132h1M28 132h2M36 132h1M38 132h1M50 132h2M82 132h1M8 133h1M22 133h1M75 133h1M85 133h1M66 134h1M17 135h1M50 135h1M53 135h1M79 135h1M22 136h1M26 136h1M51 137h1M57 137h1M81 137h1M83 137h1M13 138h1M45 138h1M56 138h1M32 139h1M17 140h1M22 141h1M25 141h1M37 141h1M56 141h1M86 141h1M42 142h1"/><path stroke="#160f3b" d="M36 10h1M19 11h1M51 11h1M51 12h1M14 13h1M81 13h1M66 14h2M70 14h1M0 16h1M66 16h1M71 16h1M23 17h1M30 17h1M57 17h1M72 17h1M43 18h1M84 18h1M2 19h1M62 19h1M77 19h1M86 20h1M41 21h1M53 21h1M44 34h1M36 35h1M39 35h1M14 38h1M28 38h1M79 38h1M77 39h1M52 40h1M58 40h1M77 40h1M75 41h1M82 41h1M24 42h1M45 42h1M78 42h1M47 43h1M52 43h1M35 44h1M61 44h1M23 45h1M26 45h1M0 46h1M32 46h1M39 47h1M49 47h1M57 48h1M0 49h1M73 54h1M32 78h1M86 82h1M61 85h1M5 87h1M54 95h1M15 99h1M8 108h1M20 110h1M28 112h1M66 114h1M86 114h1M5 115h2M16 115h2M77 115h1M5 117h1M8 117h1M38 118h1M57 119h1M75 119h1M5 121h1M51 121h1M27 122h1M45 122h1M86 122h1M14 124h1M50 124h1M75 124h1M82 124h1M84 124h1M57 125h1M65 125h2M75 125h1M12 126h1M18 126h1M76 126h1M12 127h1M18 127h1M30 127h1M52 127h1M66 127h1M81 127h1M15 128h1M38 128h1M58 128h1M31 130h1M38 130h1M75 130h1M9 131h1M84 131h1M86 131h1M58 132h1M12 133h1M47 133h1M64 133h1M71 133h1M14 134h1M20 134h1M41 134h1M49 134h1M9 135h1M12 135h1M57 135h1M67 135h1M73 135h1M85 135h1M31 136h2M3 137h1M76 137h1M24 138h1M35 138h1M79 138h1M71 139h2M2 140h1M64 140h1M72 140h1M20 141h1M2 142h1M34 142h1M69 142h1M74 142h1"/><path stroke="#180f3d" d="M14 11h1M76 11h1M44 13h1M76 14h1M51 15h1M82 15h2M52 16h1M11 17h1M15 17h1M18 17h1M35 17h1M43 17h1M51 17h1M71 17h1M76 17h1M16 18h1M75 18h1M15 19h1M36 19h1M3 20h1M72 20h1M43 21h1M19 25h1M20 34h1M33 34h1M61 34h1M54 36h1M62 38h1M73 38h1M11 39h1M29 39h1M43 39h1M6 41h1M54 41h1M39 42h1M86 42h1M2 43h1M48 43h1M19 44h1M56 44h1M24 45h1M45 45h1M45 46h1M58 47h1M16 48h1M13 49h1M37 49h2M32 50h1M34 50h1M71 51h1M18 78h2M19 79h1M0 86h1M4 87h1M36 93h1M75 97h1M32 98h1M40 100h1M64 103h1M13 104h1M22 105h1M15 108h1M34 114h1M3 116h1M7 116h1M16 116h1M2 117h2M80 117h1M12 118h1M45 118h1M50 118h1M58 118h2M72 118h1M28 119h1M74 119h1M13 120h1M76 120h1M28 121h1M20 122h1M60 122h1M73 122h1M18 123h1M34 123h1M49 123h1M57 124h1M73 124h1M15 126h1M84 126h1M46 127h1M78 127h1M8 128h1M43 128h2M48 128h1M10 129h1M55 129h1M40 130h1M47 130h1M76 130h1M14 131h1M30 131h1M37 131h1M56 131h1M73 132h1M9 133h1M34 133h1M68 133h1M77 133h1M84 133h1M13 134h1M38 134h1M42 134h1M51 135h1M59 135h1M15 136h1M25 136h1M64 136h1M71 136h1M31 137h1M80 137h1M14 138h1M70 139h1M10 140h1M54 140h1M75 140h1M19 141h1M23 141h1M29 141h1M32 141h1M35 141h1M55 141h1M61 141h1M3 142h1"/><path stroke="#19103f" d="M7 10h1M12 10h1M77 11h1M79 13h1M40 16h1M56 16h1M68 16h1M12 17h1M19 19h1M44 19h1M79 19h1M73 20h1M80 20h1M15 21h1M84 21h1M47 33h1M19 34h1M59 34h1M86 34h1M61 35h3M81 35h1M2 36h1M83 36h1M20 38h1M22 38h1M43 38h1M17 39h1M73 39h2M9 40h1M34 41h1M53 41h1M27 42h1M37 42h1M64 42h1M1 43h1M38 43h1M20 44h1M26 44h1M41 44h1M73 44h1M42 45h1M58 45h1M65 45h1M2 46h1M16 46h1M64 46h1M76 47h1M17 48h1M45 48h1M26 49h2M39 49h2M48 49h1M57 49h1M59 50h1M69 50h1M72 51h1M33 55h1M50 79h1M35 93h1M31 94h1M83 98h1M7 101h1M23 103h1M15 104h1M23 105h1M36 105h1M28 106h1M66 108h1M8 110h1M21 113h1M72 117h1M33 118h1M15 120h1M67 120h1M73 120h1M60 121h1M5 122h1M13 122h1M53 122h1M66 123h1M33 124h1M17 125h2M61 125h1M64 125h1M71 125h1M82 125h1M43 126h1M70 126h1M86 126h1M19 128h2M28 128h1M69 128h1M71 128h1M41 129h1M15 130h1M47 131h1M51 131h1M4 132h1M24 132h1M41 132h1M85 132h1M17 133h2M33 133h1M76 133h1M0 135h1M7 135h1M30 135h1M41 135h1M68 135h1M7 136h1M17 136h1M55 136h1M63 136h1M11 137h1M50 137h1M64 137h1M82 137h1M63 138h1M74 138h1M81 138h1M3 139h1M15 140h1M71 140h1M74 140h1M10 141h1M38 141h1M65 142h1M70 142h1M79 142h1M84 142h2"/><path stroke="#1a1042" d="M34 10h1M82 10h1M18 11h1M50 14h1M1 16h1M8 16h1M14 16h1M4 17h1M37 17h1M50 17h1M52 17h1M55 17h1M73 17h1M77 17h1M85 17h1M22 18h1M44 18h1M50 18h1M64 19h1M76 19h1M36 20h1M75 20h1M40 21h1M53 22h1M46 33h1M38 36h1M78 36h1M84 36h1M13 38h1M19 38h1M59 38h2M64 38h1M30 39h1M45 39h1M72 39h1M53 40h1M55 40h1M5 41h1M9 41h1M34 42h1M74 42h1M70 43h1M27 44h1M16 45h1M21 45h1M28 45h1M39 45h2M49 45h1M59 45h1M64 45h1M69 45h1M1 46h1M18 46h1M47 46h1M24 47h1M40 47h1M32 48h1M51 48h1M59 48h1M14 49h2M53 49h1M73 49h1M25 50h1M38 50h1M49 50h1M4 51h1M38 51h1M18 70h1M49 83h1M22 87h1M68 94h1M39 100h1M8 101h1M62 103h1M84 107h1M24 109h1M21 110h2M30 111h1M22 113h1M17 114h1M38 116h1M65 116h1M83 116h1M26 117h1M30 117h2M70 117h1M77 117h1M47 118h1M22 119h1M56 119h1M76 119h1M34 120h1M40 120h1M63 120h1M75 120h1M83 120h1M0 121h1M71 121h1M29 122h1M41 122h1M50 122h1M1 123h1M23 123h1M37 123h1M61 123h1M23 124h1M43 124h1M14 125h1M33 125h1M0 127h1M11 127h1M58 127h2M64 127h1M9 128h1M36 128h1M16 129h1M28 129h1M48 130h1M29 131h1M38 131h1M44 131h1M16 132h1M25 132h1M19 133h1M49 133h1M69 133h1M11 134h1M31 134h1M54 134h1M79 134h1M18 135h1M31 135h1M58 135h1M66 135h1M0 136h1M14 136h1M24 136h1M2 138h1M22 138h1M86 139h1M37 140h1M66 140h1M28 141h1M39 141h2M63 141h1M63 142h1M66 142h1"/><path stroke="#1c1044" d="M11 10h1M37 10h1M51 14h1M65 15h1M45 16h1M13 17h1M32 18h2M76 18h1M0 19h1M84 19h1M5 20h1M19 20h1M22 20h1M39 20h1M14 21h1M39 21h1M51 21h1M16 22h1M48 33h1M47 34h1M29 35h1M31 35h1M44 35h1M51 35h1M77 36h1M58 38h1M32 39h1M81 39h1M49 40h1M36 41h1M68 41h1M26 42h1M44 42h1M51 42h1M28 43h1M34 43h1M40 43h1M44 43h1M7 44h1M31 44h1M50 44h1M68 44h1M17 45h1M41 45h1M75 45h1M85 45h1M17 46h1M21 46h1M52 46h1M57 46h1M67 46h1M14 47h1M9 48h1M31 50h1M46 50h1M53 50h1M81 50h1M54 51h1M26 52h1M74 54h1M35 55h1M42 85h1M18 87h1M68 88h1M59 96h1M86 96h1M23 98h1M33 98h1M24 103h1M48 104h1M14 105h1M11 106h1M25 107h1M41 107h1M81 112h1M84 113h1M27 114h1M45 114h1M27 115h1M4 116h1M54 116h1M76 116h1M12 117h1M14 117h1M46 118h1M33 119h1M45 119h1M72 119h1M81 119h1M7 120h2M82 120h1M29 121h1M53 121h1M67 121h1M78 121h1M9 122h1M18 122h1M27 123h1M45 123h1M53 123h1M64 123h1M26 124h1M47 124h1M50 125h1M22 126h1M28 126h1M42 126h1M22 127h1M7 128h1M29 129h1M46 129h1M55 130h1M61 130h1M21 131h2M25 131h1M33 131h1M73 131h1M83 131h1M19 132h1M16 133h1M48 133h1M50 133h1M22 134h1M67 134h1M78 134h1M83 134h1M21 135h1M44 135h1M3 136h1M42 136h1M8 137h1M42 137h1M59 137h1M63 137h1M69 137h1M10 138h1M30 138h1M80 138h1M16 139h1M39 139h1M51 139h1M64 139h1M81 139h1M8 140h1M11 140h1M21 140h1M44 140h1M73 140h1M10 142h1M58 142h1M60 142h1M71 142h1"/><path stroke="#1d1147" d="M35 10h1M17 11h1M82 13h1M68 14h1M64 15h1M53 16h1M7 17h1M34 17h1M59 17h1M64 17h1M51 18h1M68 18h1M83 18h1M43 19h1M75 19h1M41 20h1M79 20h1M54 21h1M57 21h1M30 22h2M43 33h1M45 34h1M43 35h1M3 36h1M56 37h1M41 38h1M65 38h1M10 39h1M18 39h1M46 39h1M26 40h1M37 40h1M60 40h1M3 41h1M18 41h1M35 41h1M52 41h1M25 43h1M29 43h1M18 44h1M21 44h1M25 44h1M33 44h1M38 44h1M44 44h1M52 44h1M78 44h1M19 45h1M30 45h1M70 46h1M74 46h1M4 47h1M49 48h2M61 48h2M69 49h1M71 49h1M42 50h1M84 50h1M47 51h1M50 51h1M5 52h1M17 77h1M46 79h1M18 85h1M26 92h1M66 94h1M73 97h1M37 100h1M37 105h1M17 106h1M81 111h1M30 113h1M72 114h1M9 115h1M33 115h1M47 115h1M5 116h1M39 116h1M4 117h1M71 117h1M64 118h2M79 119h1M30 120h1M49 120h1M7 122h1M3 123h1M41 124h1M5 125h1M23 125h2M37 125h2M74 125h1M85 125h1M16 126h1M40 126h1M45 126h1M1 127h1M16 127h1M29 127h1M56 128h2M70 128h1M73 128h1M49 129h1M63 129h1M71 129h1M77 129h1M22 130h1M4 131h1M59 131h1M80 131h1M5 132h1M30 132h1M45 132h1M72 132h1M7 133h1M53 133h1M56 133h1M6 134h1M19 134h1M21 134h1M51 134h1M56 134h1M1 136h1M6 136h1M16 136h1M67 136h1M75 137h1M3 138h2M43 138h1M71 138h1M77 138h1M82 138h1M4 139h1M54 139h1M36 140h1M78 140h1M24 141h1M44 141h1M39 142h1"/><path stroke="#1e1149" d="M86 11h1M39 16h1M76 16h1M8 17h2M26 17h1M33 17h1M69 17h1M25 18h1M27 18h1M52 18h1M4 20h1M59 20h1M13 21h1M21 22h1M37 34h1M49 34h1M57 34h1M84 34h1M0 35h1M32 35h1M41 35h1M60 36h1M76 36h1M39 37h1M57 37h1M29 38h1M47 38h1M58 39h1M64 40h1M7 41h1M42 41h1M63 41h1M81 41h1M1 42h1M28 42h1M46 42h1M77 42h1M84 42h1M17 43h1M41 43h1M58 43h1M48 44h1M66 45h1M3 46h1M26 46h1M33 46h1M39 46h1M55 46h1M77 46h2M59 47h1M72 47h1M75 47h1M4 48h1M16 49h1M67 49h1M70 49h1M0 50h1M60 50h1M4 52h1M27 52h1M76 52h1M64 54h1M17 78h1M28 83h1M46 83h2M41 85h1M3 87h1M86 91h1M25 92h1M31 98h1M14 99h1M0 103h1M41 103h1M67 105h1M5 106h1M40 107h1M28 109h1M64 109h1M29 110h1M5 111h1M9 113h1M81 113h1M35 114h1M64 114h1M84 115h1M86 116h1M15 117h1M24 117h1M15 118h1M66 118h1M8 119h1M12 119h1M85 119h1M14 120h1M29 120h1M66 120h1M36 121h1M16 122h1M25 122h1M42 122h1M19 123h2M44 123h1M70 123h1M75 123h1M80 123h1M46 124h1M67 125h1M8 126h1M17 126h1M32 126h2M3 127h1M7 127h2M77 127h1M82 127h2M26 128h1M59 128h1M36 129h1M47 129h1M50 129h1M72 129h1M75 129h1M78 129h1M78 130h1M2 131h1M6 131h1M46 131h1M3 132h1M61 132h1M74 132h1M39 133h1M70 133h1M74 133h1M76 134h1M80 134h1M3 135h1M37 135h1M64 135h2M86 135h1M2 136h1M13 136h1M58 136h2M62 136h1M72 136h1M66 137h1M27 138h1M55 138h1M45 139h1M45 140h1M55 140h1M69 140h1M83 140h1M27 141h1M31 141h1M1 142h1M11 142h1M55 142h1M73 142h1M81 142h1"/><path stroke="#20114b" d="M9 10h1M33 15h1M66 15h1M54 16h1M3 17h1M5 17h1M58 17h1M70 17h1M20 18h1M31 18h1M55 18h1M61 18h1M71 18h1M18 19h1M21 19h2M32 19h1M35 19h1M61 19h1M34 20h1M54 20h1M63 20h1M35 21h1M81 21h1M57 22h1M77 25h1M34 34h1M57 35h1M45 36h1M57 36h1M81 36h1M46 37h1M73 37h1M2 38h1M52 38h1M80 38h1M31 39h1M47 39h1M61 39h1M56 40h1M28 41h1M64 41h1M72 41h1M80 41h1M4 42h1M40 42h1M9 43h1M53 43h1M3 44h2M6 44h1M17 44h1M59 44h1M20 45h1M47 45h2M52 45h1M77 45h1M44 46h1M84 46h1M45 47h1M5 48h1M33 48h1M54 48h1M75 48h1M36 49h1M54 49h1M36 50h1M18 51h1M48 51h2M64 51h1M6 52h1M28 52h1M75 54h1M30 56h1M26 83h1M19 85h1M61 86h1M41 87h1M85 92h1M12 93h1M57 96h1M65 100h1M61 103h1M41 104h1M21 105h1M6 106h1M57 107h1M17 109h1M82 111h1M43 113h1M62 113h1M33 114h1M46 114h1M49 114h1M61 114h1M73 114h1M85 114h1M2 116h1M6 116h1M25 117h1M32 117h1M52 117h1M55 117h1M78 117h1M14 118h1M16 118h1M49 118h1M7 119h1M40 119h1M16 120h1M36 120h1M52 120h1M47 121h1M74 121h1M83 121h1M0 122h1M14 122h1M30 122h1M68 122h1M84 122h1M47 123h1M22 124h1M32 124h1M79 124h1M1 125h1M6 125h1M12 125h1M62 125h1M80 125h1M10 126h1M31 126h1M2 127h1M80 127h1M4 128h1M77 128h1M27 129h1M42 129h1M59 129h1M11 130h2M58 130h1M0 131h1M31 131h1M70 131h2M45 133h1M86 133h1M4 134h2M75 134h1M39 135h1M53 136h1M65 136h1M33 137h1M11 138h1M42 139h1M80 139h1M38 140h1M14 141h1M72 142h1M78 142h1"/><path stroke="#21114e" d="M15 13h1M24 15h1M36 17h1M74 17h1M78 17h1M15 18h1M81 18h1M45 19h1M29 20h1M46 20h1M62 20h1M52 21h1M59 21h1M38 22h1M53 24h1M21 35h1M60 35h1M76 35h1M80 36h1M85 36h1M11 37h1M47 37h1M66 38h1M48 39h1M10 40h1M41 40h1M71 40h1M82 40h1M17 41h1M27 41h1M30 41h1M55 41h1M67 41h1M35 42h1M43 42h1M54 42h1M16 43h1M37 43h1M42 44h1M49 44h1M14 45h1M37 45h2M80 45h1M40 46h1M60 46h1M80 46h1M86 46h1M62 47h2M10 48h1M18 48h1M46 48h1M60 48h1M33 49h1M72 49h1M28 50h1M57 50h1M35 51h1M0 52h1M63 54h1M86 60h1M22 72h1M22 76h1M15 78h1M33 78h1M69 80h1M54 83h1M68 83h1M3 84h1M32 84h1M28 87h1M64 87h1M1 91h1M10 92h1M11 93h1M67 94h1M52 95h1M46 97h1M57 97h1M70 101h1M16 102h1M65 103h1M2 105h1M35 105h1M0 106h1M9 107h1M39 107h1M29 109h1M19 110h1M31 110h1M11 113h1M20 113h1M4 114h1M30 114h1M32 115h1M41 115h1M57 115h1M40 116h1M64 116h1M66 116h1M84 116h1M23 117h1M51 117h1M20 118h1M51 118h1M81 118h1M73 119h1M80 119h1M11 120h1M41 120h1M55 120h1M60 120h1M10 121h1M46 121h1M15 122h1M61 122h1M79 123h1M7 124h1M3 125h1M7 125h2M19 125h1M53 125h1M59 125h1M68 125h1M72 125h1M11 126h1M21 126h1M44 126h1M9 127h1M14 127h1M55 127h1M84 127h1M31 128h1M53 128h1M78 128h1M1 129h1M44 129h1M73 129h1M20 130h2M54 130h1M85 130h1M1 131h1M27 131h1M72 131h1M7 132h1M12 132h1M42 132h1M86 132h1M82 133h1M9 134h1M32 134h1M47 134h1M35 135h1M43 137h1M60 137h2M5 138h1M25 138h1M44 138h1M85 138h1M1 139h1M5 139h1M16 140h1M20 140h1M51 140h1M12 141h1M42 141h1M0 142h1M53 142h1M77 142h1"/><path stroke="#221150" d="M42 10h1M34 15h1M70 16h1M0 17h1M10 17h1M19 17h1M38 17h1M26 19h1M38 19h1M46 19h1M50 19h1M66 19h1M73 19h1M6 20h1M33 20h1M43 20h1M74 20h1M5 21h1M36 21h1M76 21h1M22 22h1M25 22h1M55 22h1M62 22h1M81 23h1M52 24h1M20 25h1M38 27h1M30 34h1M54 34h1M2 35h1M68 35h1M80 35h1M8 36h1M61 36h1M25 37h1M74 37h1M33 38h2M46 38h1M48 38h1M57 38h1M70 38h1M25 39h1M33 39h1M76 39h1M85 39h1M8 40h1M42 40h1M63 40h1M8 41h1M58 41h1M84 41h1M25 42h1M85 42h1M0 43h1M15 43h1M59 43h1M65 43h1M69 43h1M71 43h1M76 43h1M55 44h1M70 44h1M18 45h1M25 45h1M27 46h1M38 46h1M69 46h1M7 48h1M83 48h1M23 49h1M30 50h1M55 51h1M33 52h1M77 52h1M8 53h2M35 53h1M62 54h1M60 56h1M18 79h1M66 80h1M27 83h1M46 84h1M60 86h1M12 89h1M34 89h1M49 89h1M54 89h1M28 91h1M75 91h1M7 94h1M42 94h1M6 95h1M40 95h1M49 95h1M44 97h1M63 97h1M28 98h2M16 99h1M39 99h2M12 101h2M53 101h1M69 101h1M20 102h1M46 102h1M43 103h1M50 104h1M1 105h1M20 105h1M83 105h1M24 107h1M38 107h1M41 108h1M53 108h2M65 108h1M82 108h1M16 109h1M21 112h1M23 112h1M82 112h1M25 114h2M32 114h1M60 114h1M81 114h1M36 116h1M53 116h1M82 116h1M16 117h1M86 117h1M39 118h1M13 119h1M19 119h1M2 120h1M17 120h1M25 120h1M72 120h1M13 121h1M34 121h1M42 121h1M32 122h1M58 122h1M62 122h2M12 123h1M21 123h1M11 124h2M49 124h1M62 124h1M68 124h1M4 125h1M25 125h1M39 125h1M60 125h1M20 126h1M35 127h1M37 127h1M42 127h1M13 128h1M23 128h1M65 128h1M18 129h1M35 129h1M56 129h1M74 129h1M83 129h1M86 129h1M13 130h1M35 130h1M74 130h1M79 130h1M3 131h1M6 132h1M13 133h1M83 133h1M12 134h1M1 135h1M23 135h1M68 136h1M70 136h1M62 137h1M70 138h1M76 138h1M84 138h1M40 139h2M43 139h1M66 139h1M56 142h1M62 142h1"/><path stroke="#241253" d="M10 10h1M41 10h1M23 15h1M2 17h1M20 17h1M22 17h1M47 17h1M62 17h1M68 17h1M5 19h1M34 19h1M80 19h1M35 20h1M78 20h1M17 25h1M47 31h1M50 33h1M60 34h1M10 35h1M41 36h1M82 36h1M45 37h1M61 37h1M85 37h1M56 38h1M69 38h1M62 39h2M80 39h1M84 39h1M18 40h1M27 40h1M46 40h1M13 41h1M26 41h1M37 41h1M49 41h1M56 41h1M69 41h2M22 42h1M29 42h1M20 43h1M24 43h1M29 44h1M37 44h1M64 44h1M71 44h1M60 45h1M67 45h1M8 46h1M48 46h1M73 46h1M75 46h1M81 46h1M85 46h1M28 47h1M68 47h1M6 48h1M26 48h1M69 48h1M86 48h1M21 49h1M41 51h1M46 51h1M86 51h1M39 52h1M75 52h1M61 56h1M17 73h1M23 76h1M18 77h1M16 78h1M63 78h1M63 79h1M31 80h1M68 80h1M48 83h1M33 84h1M59 87h1M6 88h1M69 88h1M4 91h1M27 91h1M49 91h1M66 93h1M65 94h1M34 95h1M62 97h1M27 100h1M71 101h1M80 101h1M70 104h1M63 105h1M5 108h1M65 109h1M16 110h1M72 110h1M1 111h1M18 111h1M2 112h2M7 112h2M1 114h1M5 114h1M18 114h1M23 114h1M62 114h2M82 114h1M65 115h1M74 115h1M1 116h1M14 116h1M33 116h1M85 116h1M11 117h1M45 117h1M47 117h1M50 117h1M13 118h1M21 118h1M44 118h1M48 118h1M46 119h1M68 119h1M77 119h1M3 120h1M6 120h1M26 120h1M31 120h1M42 120h1M61 120h1M81 120h1M75 121h1M10 122h2M80 122h2M22 123h1M31 123h1M69 123h1M82 123h1M24 124h1M34 124h1M32 125h1M43 125h1M53 126h1M59 126h1M69 126h1M4 127h1M21 127h1M85 127h1M54 128h1M72 128h1M60 129h1M64 129h1M84 129h1M80 130h1M11 132h1M32 132h1M54 132h1M55 133h1M64 134h1M2 135h1M6 135h1M11 135h1M27 135h1M38 135h1M75 135h1M65 137h1M34 138h1M75 138h1M83 138h1M70 140h1M30 141h1M33 141h1M41 142h1M61 142h1M80 142h1"/><path stroke="#251255" d="M27 16h1M12 18h1M23 19h1M28 20h1M30 20h1M61 20h1M65 20h1M81 20h1M15 22h1M20 22h1M24 22h1M29 22h1M54 22h1M15 26h1M25 29h1M61 32h1M83 34h1M30 35h1M42 35h1M37 36h1M69 36h2M7 37h1M29 37h1M3 38h1M24 39h1M28 39h1M70 39h1M1 40h1M15 40h1M23 40h1M83 40h1M2 41h1M41 41h1M51 41h1M10 42h1M23 42h1M33 42h1M81 42h1M35 43h1M68 43h1M72 43h1M2 44h1M30 44h1M60 44h1M69 44h1M35 45h1M73 45h1M1 47h1M3 47h1M13 47h1M41 47h1M56 47h1M79 47h1M48 48h1M77 48h2M26 50h1M45 50h1M37 51h1M45 51h1M63 52h1M2 53h1M36 53h1M20 71h1M24 72h1M56 75h1M48 76h1M60 80h1M8 82h2M56 83h1M76 83h1M77 85h1M80 86h1M33 89h1M24 92h1M0 93h2M54 93h1M58 97h1M82 98h1M18 100h1M28 100h1M54 101h1M17 102h1M28 102h1M15 103h2M56 103h1M16 104h1M53 104h1M67 104h1M71 104h1M19 105h1M24 105h1M38 105h1M1 106h1M20 106h1M83 106h1M85 107h1M7 108h1M17 108h1M37 108h1M67 108h1M25 109h1M36 111h1M29 112h1M23 113h1M8 114h1M16 114h1M24 114h1M47 114h1M50 114h1M74 114h1M80 114h1M18 115h1M63 115h1M0 116h1M12 116h1M62 116h1M81 117h1M8 118h1M32 118h1M82 118h1M20 119h1M31 119h1M18 120h1M58 120h1M71 120h1M41 121h1M77 121h1M6 122h1M22 122h1M31 122h1M56 122h1M72 122h1M13 123h1M46 123h1M48 123h1M68 123h1M72 123h1M3 124h1M18 124h1M51 124h2M80 124h1M0 125h1M79 125h1M55 126h1M57 126h1M75 126h1M53 127h1M62 127h1M76 127h1M42 128h1M26 129h1M48 129h1M52 129h1M76 129h1M57 130h1M82 130h1M35 131h1M81 131h1M73 133h1M53 134h1M62 134h1M66 136h1M32 137h1M71 137h1M60 138h1M78 138h1M2 139h1M6 139h1M2 141h1M6 141h1M62 141h1"/><path stroke="#271258" d="M26 16h1M28 17h1M63 18h1M70 18h1M7 19h1M9 19h1M58 19h1M7 20h1M32 20h1M60 20h1M64 20h1M66 20h2M12 21h1M24 21h1M30 21h1M38 21h1M17 22h1M40 22h1M46 22h1M82 23h1M36 29h1M54 32h1M44 33h1M42 34h1M62 34h1M85 34h1M6 35h1M35 35h1M86 35h1M4 36h1M39 36h1M28 37h1M34 37h1M59 37h2M62 37h1M65 37h1M81 37h1M39 38h2M81 38h1M9 39h1M42 39h1M56 39h1M75 39h1M61 40h2M14 41h1M65 41h1M79 41h1M11 42h1M21 42h1M36 42h1M55 42h1M4 43h1M49 43h1M51 43h1M57 43h1M16 44h1M24 44h1M43 44h1M7 45h1M15 45h1M63 45h1M19 46h1M63 46h1M2 47h1M44 47h1M55 47h1M0 48h1M15 48h1M68 48h1M65 49h1M79 49h1M85 49h1M17 50h1M35 50h1M47 50h1M62 50h1M86 50h1M3 51h1M75 51h1M34 52h1M41 52h1M35 54h2M73 56h1M56 70h1M41 78h1M62 79h1M28 80h1M11 83h1M25 83h1M67 83h1M45 84h1M34 85h1M43 86h1M59 86h1M11 89h1M14 89h1M35 89h2M2 90h1M42 91h1M52 92h1M32 94h1M18 95h1M51 95h1M65 95h1M38 96h1M66 100h1M82 102h1M17 103h1M42 103h1M5 104h1M72 104h1M15 105h1M60 105h1M67 107h1M6 108h1M20 108h1M23 109h1M30 109h1M63 109h1M7 111h1M72 111h1M80 111h1M53 112h1M63 113h1M64 115h1M28 116h2M37 116h1M46 117h1M76 117h1M0 118h1M3 118h1M6 119h1M14 119h1M44 119h1M58 119h1M60 119h1M86 119h1M80 120h1M6 121h1M55 123h1M62 123h1M67 123h1M0 124h1M5 124h1M40 124h1M78 124h1M13 126h1M19 126h1M29 126h1M80 126h1M27 128h1M34 128h2M53 129h1M41 130h1M5 131h1M12 131h1M28 131h1M82 131h1M8 132h2M48 132h1M5 133h1M35 133h2M10 135h1M69 136h1M70 137h1M72 137h2M6 138h1M9 140h1M34 140h1M1 141h1M11 141h1M34 141h1M40 142h1"/><path stroke="#29115a" d="M64 10h1M55 16h1M60 17h1M63 17h1M86 17h1M67 18h1M45 20h1M77 20h1M85 20h1M80 21h1M86 25h1M30 26h1M46 30h1M49 33h1M50 34h1M1 35h1M22 35h1M13 37h1M18 37h1M26 37h1M38 37h1M44 37h1M48 37h1M50 37h1M7 38h1M35 38h1M71 39h1M11 40h1M0 41h2M43 41h2M76 42h1M3 43h1M5 43h1M36 43h1M1 44h1M22 44h1M28 44h1M1 45h1M31 45h1M57 45h1M61 45h1M81 45h1M7 46h1M27 47h1M32 47h1M43 47h1M60 47h1M64 47h1M73 47h1M2 48h1M44 48h1M47 48h1M79 48h1M82 48h1M1 49h1M18 49h1M54 50h1M58 50h1M63 51h1M70 51h1M74 51h1M65 52h1M69 52h1M40 53h1M42 53h1M28 54h1M59 54h1M65 54h1M38 57h1M17 70h1M18 73h1M20 78h1M42 78h1M62 78h1M30 80h1M12 83h1M54 84h1M56 84h1M16 85h1M43 85h1M62 85h1M23 87h1M42 87h1M18 88h1M44 89h1M82 90h1M63 91h1M68 92h1M25 93h1M39 95h1M45 95h1M45 96h1M34 97h2M60 97h1M21 101h2M55 101h1M60 101h1M35 102h1M52 102h1M50 103h1M30 104h1M13 105h1M62 105h1M64 105h2M82 105h1M4 106h1M56 107h1M66 107h1M86 107h1M27 108h1M15 109h1M4 110h1M15 110h1M4 111h1M86 111h1M24 112h1M42 112h1M2 113h1M5 113h1M10 113h1M38 113h1M51 113h1M58 113h1M14 114h1M70 114h1M21 115h1M40 115h1M30 116h1M9 117h1M73 117h1M85 117h1M11 118h1M27 118h1M18 119h1M38 119h1M41 119h1M78 119h1M82 119h1M84 120h1M25 121h1M45 121h1M54 121h3M2 123h1M4 123h1M6 123h1M30 123h1M54 123h1M59 123h1M63 123h1M83 123h1M54 124h1M58 124h1M10 125h1M31 125h1M73 125h1M2 126h1M30 126h1M37 126h1M54 127h1M57 127h1M67 127h1M15 129h1M25 129h1M19 130h1M59 130h1M24 131h1M36 131h1M15 132h1M80 133h1M15 134h1M52 134h1M50 136h1M54 138h1M59 138h1M65 139h1M5 141h1"/><path stroke="#2a115c" d="M1 17h1M2 18h1M6 18h1M62 18h1M25 19h1M49 19h1M60 19h1M14 20h1M76 20h1M44 21h1M55 21h1M34 22h1M39 22h1M58 22h1M61 22h1M71 22h1M69 23h1M83 23h1M51 24h1M54 29h1M48 31h1M56 32h1M66 33h1M38 34h1M63 34h1M46 35h1M14 36h1M25 36h1M75 36h1M58 37h1M66 37h1M50 38h1M3 39h1M6 39h1M54 39h1M66 39h1M78 39h1M83 39h1M2 40h1M32 40h1M57 40h1M81 40h1M57 41h1M71 41h1M77 41h2M86 41h1M42 42h1M62 43h1M0 44h1M82 44h1M2 45h1M76 45h1M23 46h2M25 47h2M33 47h2M54 47h1M61 47h1M65 47h1M86 47h1M27 48h1M70 48h1M68 49h1M78 49h1M80 49h1M16 50h1M43 50h1M17 51h1M42 51h1M44 51h1M57 51h1M65 51h1M73 52h1M19 53h1M85 53h1M29 54h1M42 54h1M72 54h1M31 56h1M60 57h1M73 57h1M26 72h1M19 75h1M46 75h1M30 78h1M53 79h1M29 80h1M67 80h1M19 81h1M75 82h1M24 83h1M22 84h1M28 84h1M52 84h1M67 84h1M33 85h1M79 86h1M49 88h1M15 89h1M45 89h1M55 89h1M85 91h1M51 92h1M82 92h1M26 93h1M65 93h1M1 94h1M16 94h1M41 94h1M23 95h1M36 95h1M46 96h1M51 98h2M38 99h1M79 101h1M32 102h1M45 102h1M3 103h1M14 103h1M40 103h1M42 104h1M66 104h1M69 104h1M84 104h1M12 105h1M66 105h1M26 106h1M56 106h2M69 106h1M21 108h1M36 108h1M49 108h1M56 108h1M76 108h1M34 109h1M75 109h1M17 110h1M3 111h1M15 111h1M55 111h1M19 112h1M22 112h1M70 113h1M67 114h1M71 114h1M79 114h1M2 115h1M15 116h1M10 117h1M13 117h1M37 118h1M5 119h1M16 119h2M42 119h1M55 119h1M86 120h1M48 121h1M57 121h1M72 121h1M33 122h1M43 122h1M49 122h1M83 122h1M5 123h1M7 123h2M6 124h1M59 124h1M22 125h1M28 125h1M47 125h1M49 125h1M63 125h1M9 126h1M6 127h1M27 127h1M6 128h1M51 129h1M70 129h1M45 131h1M74 131h1M14 133h1M42 133h1M0 134h1M56 140h1"/><path stroke="#2c115f" d="M29 17h1M61 17h1M13 18h1M85 18h1M8 19h1M0 20h1M27 20h1M9 21h1M11 21h1M37 21h1M56 21h1M63 21h1M26 22h1M42 22h1M63 22h1M69 22h1M46 24h1M13 33h1M16 33h1M27 33h1M59 33h1M65 33h1M56 34h1M81 34h1M5 35h1M23 35h1M28 35h1M45 35h1M64 35h1M75 35h1M77 35h1M27 36h1M46 36h1M27 37h1M40 37h1M49 37h1M63 37h1M69 37h1M84 37h1M68 38h1M82 38h1M34 39h1M55 39h1M33 40h2M72 40h2M16 41h1M19 41h1M59 41h1M66 41h1M19 42h1M79 42h1M21 43h1M31 43h1M83 44h1M13 45h1M78 45h1M10 46h1M20 46h1M61 46h1M68 46h1M71 46h1M83 46h1M36 47h1M83 47h1M1 48h1M28 48h1M71 48h1M76 48h1M17 49h1M28 49h1M56 49h1M59 49h1M83 49h1M29 50h1M56 50h1M70 50h1M0 51h1M5 51h1M22 52h1M49 52h1M55 52h1M65 53h1M60 54h1M67 54h2M36 56h1M61 57h1M13 69h1M15 73h1M63 73h1M52 74h1M45 75h1M48 75h1M78 76h1M19 77h1M25 78h1M0 79h1M10 79h1M20 79h1M38 79h1M51 79h1M45 80h1M80 82h1M50 83h1M53 83h1M53 84h1M71 84h1M60 85h1M76 85h1M44 86h1M53 86h1M58 86h1M60 87h1M11 88h1M19 88h1M13 89h1M46 89h1M15 90h2M34 90h1M49 90h1M43 91h1M54 91h1M83 92h1M48 93h1M8 94h1M15 94h1M20 94h1M43 94h1M22 95h1M8 98h1M17 98h2M30 98h1M53 98h1M67 98h1M42 99h1M3 101h1M7 102h1M18 102h1M61 102h2M75 102h1M12 104h1M25 105h1M61 105h1M10 106h1M16 106h1M84 106h1M4 107h1M19 107h1M83 107h1M42 108h1M50 108h1M55 108h1M70 109h1M6 110h1M12 110h1M18 110h1M14 111h1M17 111h1M42 111h1M71 111h1M77 111h1M52 112h1M24 113h1M46 113h1M55 113h1M3 114h1M36 114h1M42 115h1M56 115h1M75 115h1M81 115h1M13 116h1M27 116h1M32 116h1M72 116h1M65 117h1M69 117h1M74 117h1M18 118h1M67 118h1M61 121h1M86 121h1M44 122h1M4 124h1M2 125h1M32 128h1M11 129h1M54 129h1M45 130h1M83 130h1M46 132h1M54 133h1M16 134h1M33 134h1M36 134h1M36 135h1M54 136h1M56 137h1M74 137h1M44 139h1M65 140h1M26 141h1M86 142h1"/><path stroke="#2d1161" d="M38 16h1M6 17h1M27 17h1M24 18h1M64 18h1M3 19h1M14 19h1M47 19h1M2 20h1M71 20h1M31 21h1M35 22h1M33 23h1M62 23h1M80 23h1M34 27h1M73 29h1M36 30h1M50 35h1M56 35h1M69 35h1M82 35h1M15 36h1M40 36h1M49 36h1M12 37h1M17 37h1M21 37h1M12 38h1M32 38h1M83 38h1M2 39h1M36 40h1M86 40h1M85 41h1M2 42h2M5 42h1M16 42h1M20 42h1M57 42h1M69 42h1M14 43h1M42 43h1M64 43h1M53 44h1M65 44h1M54 45h2M4 46h1M15 46h1M37 46h1M41 46h1M51 46h1M42 47h1M66 47h2M82 47h1M8 48h1M22 48h1M42 48h1M63 48h1M67 48h1M73 48h2M7 49h1M19 49h1M30 49h1M63 49h1M12 50h1M18 50h1M61 50h1M63 50h1M85 50h1M2 51h1M32 51h1M43 51h1M51 51h1M60 51h1M62 51h1M3 52h1M54 52h1M32 53h1M41 53h1M48 53h1M66 53h1M79 53h1M82 53h1M83 54h1M59 56h1M51 74h1M18 75h1M21 76h1M61 80h1M10 82h1M21 82h1M22 83h1M73 83h1M40 84h1M17 85h1M0 87h1M65 87h1M5 89h1M21 89h1M76 89h1M53 91h1M59 91h1M74 91h1M11 92h1M2 93h1M59 93h1M14 94h1M29 94h2M33 94h2M40 94h1M51 94h1M69 94h1M37 96h1M44 96h1M81 96h1M59 97h1M13 98h1M24 98h1M60 98h1M66 98h1M6 99h1M79 99h1M21 100h1M83 100h1M4 101h1M47 102h1M50 102h1M57 102h1M31 104h1M61 104h1M3 105h1M34 105h1M55 105h1M78 105h1M21 106h1M5 107h1M37 107h1M29 108h2M40 108h1M76 109h1M80 109h1M50 110h1M21 111h1M27 111h1M60 111h1M85 111h1M1 112h1M6 112h1M18 112h1M27 112h1M8 113h1M31 113h1M47 113h1M10 114h1M44 117h1M56 117h1M1 118h1M17 118h1M83 118h1M4 119h1M61 119h1M84 119h1M24 120h1M44 121h1M76 121h1M21 122h1M34 122h1M69 122h1M82 122h1M33 123h1M39 124h1M9 125h1M40 125h1M44 125h1M15 127h1M20 127h1M28 127h1M56 127h1M0 128h1M2 129h1M17 129h1M13 131h1M32 131h1M60 131h1M75 131h2M31 132h1M79 133h1M48 134h1M22 135h1M24 135h3M43 135h1M74 135h1M51 136h1M44 137h1M35 140h1M72 141h1"/><path stroke="#2f1163" d="M18 18h1M6 19h1M24 19h1M33 19h1M39 19h1M13 20h1M47 20h1M6 21h1M25 21h1M48 21h1M78 21h1M23 22h1M32 22h1M51 22h1M34 23h1M70 23h1M12 24h1M34 25h1M35 29h1M45 30h1M52 31h1M15 32h1M43 32h1M45 33h1M84 33h1M36 34h1M20 35h1M55 35h1M74 35h1M6 36h2M35 37h1M51 37h1M70 37h1M72 37h1M11 38h1M18 38h1M38 38h1M72 38h1M23 39h1M57 39h1M69 39h1M82 39h1M10 41h1M15 41h1M17 42h1M32 42h1M48 42h1M65 42h1M73 42h1M8 43h1M43 43h1M54 43h1M63 43h1M54 44h1M68 45h1M79 46h1M23 47h1M29 47h1M25 48h1M31 48h1M37 48h1M32 49h1M43 49h1M47 49h1M58 49h1M75 49h1M44 50h1M80 50h1M8 51h1M36 51h1M56 51h1M66 51h1M69 51h1M10 52h1M46 52h1M50 52h1M70 52h1M31 53h1M80 53h1M66 54h1M10 55h1M29 56h1M44 56h2M38 58h1M23 69h1M3 70h1M63 75h1M18 76h1M21 77h1M39 79h1M22 82h1M53 82h1M76 82h1M17 84h1M66 85h1M28 86h1M63 87h1M56 89h1M75 89h1M14 90h1M26 91h1M41 91h1M5 92h1M27 92h1M49 92h1M81 92h1M4 93h1M73 93h1M2 94h1M10 94h1M35 94h1M49 94h1M64 94h1M86 94h1M0 95h1M61 95h1M4 97h1M76 97h1M22 98h1M59 98h1M81 99h1M20 100h1M6 101h1M11 101h1M56 101h1M21 102h1M53 102h1M9 103h1M30 103h1M17 104h1M40 104h1M18 105h1M54 105h1M68 105h1M73 105h1M7 106h1M22 106h1M36 106h1M70 106h1M22 108h1M81 108h1M66 109h1M57 110h1M11 111h1M56 111h1M83 111h1M4 112h2M9 112h1M51 112h1M54 112h1M72 112h1M1 113h1M29 113h1M50 113h1M57 113h1M59 113h1M71 113h1M0 114h1M12 114h1M84 114h1M3 115h1M45 115h1M48 115h1M50 115h1M17 116h1M61 116h1M74 116h1M78 116h1M81 116h1M29 117h1M42 117h1M82 117h1M2 118h1M9 118h1M26 118h1M42 118h1M28 120h1M43 120h1M66 121h1M59 122h1M71 122h1M76 123h1M85 123h2M53 124h1M76 124h1M13 125h1M34 126h1M5 127h1M36 127h1M25 128h1M65 129h1M69 129h1M44 130h1M56 130h1M78 133h1M1 134h1M45 137h1M49 137h1M73 141h1"/><path stroke="#311165" d="M82 18h1M11 19h1M48 19h1M59 19h1M74 19h1M83 19h1M18 20h1M44 20h1M1 21h2M16 21h1M50 21h1M28 22h1M64 22h1M73 22h1M15 23h1M47 23h1M63 23h1M85 25h1M16 26h1M31 26h1M80 27h1M55 32h1M62 32h1M26 33h1M42 33h1M18 34h1M64 34h1M82 34h1M28 36h1M34 36h1M48 36h1M53 36h1M68 36h1M6 37h1M14 37h1M42 37h1M64 37h1M68 37h1M77 37h1M83 37h1M67 38h1M4 39h1M7 39h2M16 39h1M19 39h1M65 39h1M50 40h1M40 41h1M50 41h1M76 41h1M9 42h1M68 42h1M10 43h1M30 43h1M80 43h1M11 44h1M86 44h1M72 45h1M79 45h1M25 46h1M5 47h1M10 47h1M3 48h1M55 49h1M64 49h1M74 49h1M10 50h1M13 50h1M20 50h1M23 50h1M41 50h1M48 50h1M55 50h1M68 51h1M47 52h2M66 52h1M3 53h1M30 53h1M54 53h1M32 55h1M37 58h1M39 58h1M33 61h1M18 72h1M16 73h1M18 74h1M0 75h1M5 75h1M49 75h1M57 75h1M15 77h1M20 77h1M53 81h2M29 83h2M37 84h1M55 84h1M35 85h2M40 85h1M40 87h1M12 88h1M61 88h1M24 89h1M35 90h1M83 90h1M0 91h1M2 91h1M68 91h1M31 92h1M17 94h1M1 95h1M28 95h1M61 97h1M68 97h1M85 98h1M13 99h1M13 100h1M52 101h1M19 102h1M31 102h1M51 102h1M56 102h1M1 103h1M8 103h1M18 103h1M57 103h1M34 104h1M54 104h1M60 104h1M80 104h1M16 105h1M69 105h1M12 106h1M30 106h1M58 107h2M82 107h1M4 108h1M38 108h1M59 108h2M75 108h1M79 108h1M12 109h1M14 109h1M18 109h1M35 109h1M62 109h1M69 109h1M71 110h1M84 111h1M3 113h1M12 113h1M54 113h1M13 114h1M39 114h1M4 115h1M38 115h1M46 115h1M51 115h1M55 115h1M72 115h1M11 116h1M41 117h1M10 118h1M19 118h1M43 118h1M39 119h1M43 119h1M71 119h1M9 120h1M45 120h1M85 120h1M7 121h1M43 121h1M73 121h1M54 122h1M9 123h1M32 123h1M38 123h1M74 123h1M84 123h1M13 124h1M11 125h1M74 126h1M13 127h1M5 128h1M4 129h1M9 129h1M15 133h1M2 134h1M18 134h1M47 136h1M49 136h1"/><path stroke="#331067" d="M14 18h1M23 18h1M26 18h1M4 19h1M67 19h1M31 20h1M40 20h1M48 20h1M53 20h1M19 21h1M34 21h1M60 21h1M72 22h1M75 22h1M56 24h1M61 26h1M27 27h1M54 33h1M17 34h1M21 34h1M65 34h1M19 35h1M9 36h1M23 36h1M26 36h1M65 36h1M74 36h1M19 37h1M43 37h1M78 37h1M82 37h1M4 38h1M49 38h1M12 39h1M26 39h2M64 39h1M45 40h1M22 41h1M18 42h1M41 42h1M11 43h1M56 43h1M77 43h1M81 43h1M5 44h1M10 44h1M36 44h1M36 45h1M84 45h1M49 46h1M12 47h1M35 47h1M50 47h1M34 48h1M41 48h1M43 48h1M80 48h2M4 49h1M20 49h1M31 49h1M81 49h1M11 50h1M73 50h1M75 50h1M24 51h1M67 51h1M76 51h2M79 51h1M11 52h2M47 53h1M59 53h1M81 53h1M62 56h1M59 57h1M19 71h1M27 74h1M66 74h1M50 75h1M46 76h2M16 77h1M14 78h1M28 79h1M75 79h1M53 80h1M59 80h1M11 82h1M40 82h1M52 82h1M74 82h1M81 82h1M55 83h1M2 84h1M31 84h1M44 84h1M14 86h1M17 88h1M28 88h1M6 89h1M16 89h1M22 89h2M3 90h1M64 90h1M5 91h1M52 91h1M24 93h1M56 93h1M68 93h1M36 94h1M11 95h1M66 95h1M86 95h1M60 96h1M85 96h1M47 97h1M56 97h1M5 99h1M82 99h1M41 100h1M45 100h1M56 100h2M64 100h1M2 101h1M9 101h1M23 101h1M59 101h1M40 102h1M74 102h1M80 102h1M57 104h1M83 104h1M17 105h1M40 105h1M9 106h1M29 106h1M58 106h1M82 106h1M11 107h1M47 107h1M77 108h2M80 108h1M12 111h1M16 111h1M31 111h1M68 111h1M34 112h2M71 112h1M77 112h1M80 112h1M4 113h1M17 113h1M37 113h1M42 113h1M2 114h1M7 114h1M15 114h1M22 114h1M38 114h1M69 114h1M78 114h1M83 114h1M10 115h1M15 115h1M19 115h1M44 115h1M60 115h1M73 115h1M23 116h1M41 116h1M45 116h1M67 116h1M73 116h1M40 117h1M53 117h2M57 117h1M60 117h1M83 117h1M4 118h1M28 118h1M35 118h1M40 118h1M54 118h1M79 118h2M84 118h1M86 118h1M15 119h1M21 119h1M50 119h1M59 119h1M83 119h1M5 120h1M65 120h1M22 121h1M59 121h1M62 121h1M43 123h1M78 123h1M2 124h1M31 124h1M64 124h1M77 124h1M21 128h1M39 128h1M14 129h1M45 129h1M40 133h2M26 138h1M33 138h1M0 141h1M13 141h1M43 141h1"/><path stroke="#341069" d="M5 18h1M10 19h1M81 19h1M8 20h1M15 20h1M23 20h1M7 21h1M17 21h2M20 21h1M49 21h1M61 21h1M64 21h1M45 22h1M47 22h1M11 24h1M13 24h1M36 24h1M45 24h1M60 26h1M48 29h1M74 29h1M53 31h1M76 31h1M17 33h1M56 33h1M11 35h1M24 36h1M47 36h1M56 36h1M23 38h1M53 38h1M71 38h1M28 40h1M67 42h1M80 42h1M22 43h1M86 43h1M15 44h1M72 44h1M8 45h1M53 45h1M31 46h1M43 46h1M62 46h1M55 48h1M85 48h1M77 49h1M22 51h2M2 52h1M0 53h1M37 54h1M84 54h1M86 54h1M4 55h1M73 55h1M64 56h1M74 56h1M24 69h1M21 72h1M9 73h1M14 73h1M52 73h1M53 74h1M57 74h1M55 75h1M41 76h1M28 78h1M69 78h1M9 79h1M66 79h1M8 80h1M12 80h1M44 80h1M18 81h1M48 82h1M23 83h1M41 84h1M51 84h1M68 84h1M44 85h1M56 85h1M6 87h1M26 87h1M29 87h1M61 87h1M1 90h1M84 90h1M3 91h1M62 91h1M41 92h1M66 92h1M23 93h1M0 94h1M28 94h1M7 95h1M10 95h1M27 95h1M38 95h1M56 95h1M6 96h1M10 96h1M42 96h2M63 96h1M33 97h1M16 98h1M27 98h1M45 98h1M12 99h1M48 99h1M57 99h1M77 99h2M17 100h1M63 100h1M65 101h1M72 101h1M34 102h1M43 102h1M63 102h1M72 102h1M22 103h1M84 103h1M27 105h1M53 105h1M32 106h1M8 107h1M23 107h1M34 107h1M43 108h1M57 108h1M31 109h1M28 110h1M58 110h1M73 110h1M86 110h1M41 111h1M61 111h1M25 112h1M36 112h1M50 112h1M64 112h1M7 113h1M16 113h1M36 113h1M75 113h1M85 113h1M31 114h1M48 114h1M68 114h1M77 114h1M11 115h1M34 115h1M49 115h1M58 115h1M8 116h1M31 116h1M47 116h1M20 117h1M36 117h1M38 117h1M43 117h1M7 118h1M30 118h1M85 118h1M9 119h1M10 120h1M44 120h1M16 121h1M24 121h1M40 121h1M65 121h1M37 122h1M10 123h1M45 124h1M67 124h1M20 125h1M56 126h1M86 127h1M33 128h1M5 129h1M43 130h1M60 130h1M42 135h1M86 138h1"/><path stroke="#36106b" d="M21 17h1M7 18h1M11 18h1M19 18h1M65 18h1M42 19h1M21 21h1M23 21h1M29 21h1M62 21h1M71 21h1M52 22h1M68 22h1M74 22h1M21 23h1M58 23h1M60 23h1M16 25h1M21 25h1M19 27h1M33 27h1M37 27h1M6 29h1M59 29h1M77 31h1M15 33h1M51 33h1M72 33h2M16 34h1M66 34h1M48 35h1M79 35h1M55 36h1M20 37h1M55 37h1M35 39h1M79 39h1M0 40h1M13 40h1M79 40h1M47 41h1M62 41h1M47 42h1M56 42h1M6 43h1M12 43h1M82 43h1M3 45h1M6 45h1M56 45h1M15 47h1M30 47h1M35 48h1M40 48h1M84 48h1M2 49h1M24 49h1M15 50h1M39 50h1M7 51h1M19 51h1M25 51h1M18 52h1M26 53h1M39 53h1M9 55h1M37 56h1M46 56h1M30 57h1M36 58h1M86 59h1M4 75h1M12 77h1M43 78h1M45 78h1M6 79h1M40 79h1M52 79h1M61 79h1M74 79h1M17 80h1M86 80h1M20 81h1M22 81h1M36 81h1M55 81h1M12 82h1M47 82h1M18 84h1M47 84h1M64 84h1M20 85h1M37 85h1M78 85h1M15 86h1M45 86h1M17 87h1M27 87h1M16 88h1M37 89h1M33 90h1M36 90h1M67 90h1M37 91h1M44 91h1M58 91h1M7 92h1M23 92h1M42 92h1M67 92h1M84 92h1M3 93h1M34 93h1M76 93h1M59 94h1M82 94h1M26 95h1M29 95h1M44 95h1M73 96h1M8 97h1M64 97h1M14 98h1M74 98h1M84 98h1M11 99h1M32 99h1M50 99h1M58 99h1M80 99h1M3 100h1M36 100h1M48 100h1M5 101h1M20 101h1M48 101h1M6 102h1M83 102h1M2 103h1M13 103h1M25 103h1M4 104h1M35 104h1M65 104h1M68 104h1M72 105h1M74 105h1M35 106h1M20 107h1M30 107h1M60 107h1M64 107h1M58 108h1M85 108h1M77 109h1M2 110h1M9 110h1M23 110h1M47 110h1M49 110h1M35 111h1M50 111h1M54 111h1M70 111h1M6 113h1M11 114h1M51 114h1M43 115h1M22 116h1M52 116h1M27 117h1M75 117h1M71 118h1M77 118h1M35 120h1M59 120h1M58 121h1M85 121h1M40 123h1M21 124h1M38 124h1M65 124h1M48 125h1M69 125h1M36 126h1M54 126h1M68 126h1M12 129h1M6 133h1M43 133h1M72 133h1M56 135h1M48 137h1M54 142h1"/><path stroke="#38106c" d="M86 18h1M9 20h1M17 20h1M45 21h1M69 21h1M73 21h1M75 21h1M14 22h1M27 22h1M32 23h1M51 23h1M59 23h1M77 23h1M18 24h1M58 24h1M65 24h1M67 24h1M18 27h1M48 28h1M51 31h1M53 32h1M60 32h1M79 32h1M14 33h1M8 34h1M53 34h1M55 34h1M27 35h1M49 35h1M73 35h1M36 36h1M64 36h1M1 38h1M6 38h1M10 38h1M27 38h1M0 39h1M5 39h1M36 39h1M67 39h1M12 40h1M35 40h1M15 42h1M66 42h1M34 46h1M42 46h1M19 48h1M24 48h1M36 48h1M39 48h1M64 48h1M82 49h1M9 51h1M21 51h1M26 51h1M80 51h1M7 52h1M9 52h1M42 52h1M62 52h1M72 52h1M80 52h1M36 55h1M61 55h2M72 55h1M71 56h1M65 57h1M40 58h1M67 71h1M25 72h1M10 73h1M13 73h1M21 74h1M28 74h1M20 75h1M19 76h1M31 77h1M24 78h1M26 78h1M46 78h1M59 79h1M16 80h1M36 80h1M42 80h2M56 80h1M62 80h1M70 80h1M1 81h1M19 82h1M35 82h2M49 82h1M3 83h1M14 83h1M23 84h1M66 84h1M1 86h1M24 86h1M42 86h1M52 86h1M45 87h1M74 87h1M79 87h1M5 88h1M7 88h1M20 88h1M50 88h2M82 88h1M68 89h1M18 90h3M63 90h1M85 90h1M1 92h1M9 92h1M18 92h1M65 92h1M47 93h1M67 93h1M5 94h1M9 94h1M18 94h1M21 94h1M23 94h1M27 94h1M62 95h1M5 96h1M9 96h1M72 96h1M75 96h1M80 96h1M10 97h1M80 97h1M4 98h1M21 98h1M23 99h1M41 99h1M47 99h1M76 99h1M83 99h1M19 100h1M15 102h1M29 102h1M33 102h1M41 102h1M44 102h1M60 102h1M67 102h1M79 102h1M7 103h1M44 103h1M66 103h1M83 103h1M6 104h1M20 104h1M62 104h1M11 105h1M59 105h1M79 105h1M15 106h1M31 106h1M37 106h1M3 107h1M17 107h1M33 107h1M42 107h1M65 107h1M0 108h1M14 108h1M31 108h1M39 108h1M52 108h1M22 109h1M33 109h1M74 109h1M2 111h1M57 111h1M69 111h1M76 111h1M43 112h1M63 112h1M60 113h2M72 113h1M76 113h1M75 114h2M62 115h1M46 116h1M33 117h1M64 117h1M5 118h1M24 118h1M4 120h1M19 120h1M46 120h1M8 121h1M35 122h1M11 123h1M41 123h1M56 123h1M58 123h1M1 124h1M48 124h1M30 125h1M61 126h1M63 126h1M22 128h1M24 128h1M60 128h1M66 129h1M84 130h1M31 138h1"/><path stroke="#390f6e" d="M44 17h1M3 18h1M8 21h1M22 21h1M28 21h1M46 21h1M14 23h1M34 24h1M44 24h1M66 24h1M60 25h1M76 25h1M78 25h1M0 26h1M14 26h1M32 27h1M35 27h1M67 27h1M34 29h1M55 29h1M36 31h1M46 31h1M50 31h1M86 31h1M14 32h1M78 32h1M61 33h1M64 33h1M70 33h1M35 34h1M47 35h1M41 37h1M67 37h1M8 38h1M15 38h1M52 39h1M68 39h1M7 40h1M29 40h1M33 41h1M53 42h1M55 43h1M0 45h1M50 46h1M56 46h1M76 46h1M11 47h1M53 47h1M85 47h1M11 48h1M30 48h1M56 48h1M72 48h1M19 50h1M79 50h1M20 51h1M28 51h1M85 51h1M21 52h1M51 52h1M60 52h1M71 52h1M34 53h1M37 53h1M55 53h1M60 53h1M41 54h1M61 54h1M68 55h1M70 56h1M31 57h1M39 57h1M68 57h2M59 58h1M2 70h1M55 70h1M51 73h1M56 73h1M3 74h1M26 74h1M22 75h1M17 76h1M67 76h1M11 77h1M22 77h1M28 77h1M21 78h1M40 78h1M61 78h1M31 79h1M37 79h1M54 79h1M64 79h1M75 80h1M2 81h1M40 81h1M75 81h2M7 82h1M13 83h1M37 83h1M16 84h1M36 84h1M63 84h1M25 86h1M62 86h1M74 86h1M21 87h1M76 87h1M46 88h1M52 88h1M52 89h1M83 89h1M17 90h1M66 90h1M81 90h1M11 91h1M51 91h1M57 91h1M19 94h1M60 94h1M8 96h1M18 96h1M28 96h1M82 96h1M18 97h1M12 98h1M15 98h1M37 98h1M33 99h1M51 99h1M70 99h1M14 100h1M22 100h1M26 100h1M62 100h1M1 101h1M34 101h1M64 101h1M36 102h1M20 103h1M67 103h1M52 104h1M56 104h1M63 104h1M33 105h1M39 105h1M41 105h1M56 105h1M84 105h1M3 106h1M8 106h1M80 106h1M36 107h1M50 107h1M80 107h1M47 108h1M68 108h2M11 109h1M32 109h1M54 109h1M71 109h1M79 109h1M11 110h1M14 110h1M9 111h1M26 111h1M51 111h1M65 111h1M26 112h1M33 112h1M49 112h1M62 112h1M32 113h1M69 113h1M24 115h1M39 115h1M59 115h1M78 115h1M17 117h1M34 117h1M68 117h1M84 117h1M22 118h2M31 118h1M23 120h1M54 120h1M23 121h1M35 121h1M64 121h1M48 122h1M19 124h1M29 124h1M35 124h1M42 125h1M70 125h1M1 126h1M60 126h1M72 126h1M3 129h1M7 129h2M47 132h1M44 133h1M17 134h1M63 134h1M84 134h2M54 135h1M32 138h1"/><path stroke="#3b0f70" d="M46 17h1M10 21h1M72 21h1M79 21h1M33 22h1M81 22h1M41 23h1M44 23h1M14 24h1M47 24h1M57 24h1M33 25h1M35 25h1M67 25h1M84 25h1M43 26h1M77 27h1M20 28h1M60 29h1M72 29h1M44 30h1M84 30h1M80 32h1M28 33h1M3 35h1M9 35h1M26 35h1M65 35h1M67 35h1M83 35h1M35 36h1M50 36h1M5 37h1M23 37h2M54 37h1M36 38h1M1 39h1M22 39h1M14 40h1M74 40h1M12 41h1M31 41h1M38 41h1M6 42h1M9 44h1M79 44h1M85 44h1M62 45h1M82 46h1M9 47h1M74 47h1M20 48h2M23 48h1M1 50h2M7 50h1M74 50h1M78 50h1M6 51h1M15 51h1M59 51h1M8 52h1M32 52h1M45 52h1M52 52h1M67 52h1M74 52h1M10 53h1M29 53h1M33 53h1M0 54h1M34 54h1M71 54h1M63 56h1M65 56h1M42 57h1M62 57h1M61 61h1M57 70h1M48 72h1M57 73h1M22 74h1M3 75h1M6 75h1M14 75h1M24 76h1M42 76h1M60 76h1M14 77h1M27 77h1M52 77h1M83 77h1M23 78h1M27 78h1M29 78h1M44 78h1M76 79h1M82 79h1M13 80h1M19 80h1M32 80h1M37 80h1M52 80h1M5 81h1M21 81h1M30 81h1M39 81h1M77 81h1M38 83h1M82 83h1M62 84h1M72 84h1M21 85h1M49 85h1M55 85h1M59 85h1M71 85h1M46 86h1M56 86h2M81 86h1M14 87h1M19 87h1M75 87h1M44 88h2M60 88h1M70 88h1M2 89h1M43 89h1M53 89h1M10 90h1M54 90h1M9 91h1M12 91h1M16 91h1M53 92h1M75 92h1M22 93h1M53 93h1M55 93h1M69 93h1M74 93h2M26 94h1M81 94h1M8 95h1M21 95h1M4 96h1M29 96h1M56 96h1M74 96h1M11 97h1M7 98h1M48 98h1M54 98h1M68 98h1M75 98h1M2 99h1M60 99h3M69 99h1M84 99h1M3 102h1M42 102h1M71 102h1M10 103h1M12 103h1M19 103h1M74 103h1M47 104h1M0 105h1M26 105h1M2 106h1M22 107h1M78 107h1M6 109h1M9 109h1M13 109h1M55 110h2M13 111h1M25 111h1M37 111h1M45 111h1M66 111h1M78 111h1M12 112h1M17 112h1M32 112h1M41 112h1M45 112h1M61 112h1M83 112h1M28 113h1M52 113h1M6 114h1M44 114h1M55 114h1M59 114h1M14 115h1M22 115h2M28 115h1M42 116h1M19 117h1M22 117h1M39 117h1M48 117h1M61 117h1M66 117h1M29 118h1M41 118h1M29 119h1M27 120h1M63 121h1M84 121h1M28 123h1M25 124h1M36 124h1M44 124h1M41 125h1M39 126h1M19 127h1M6 129h1M32 129h1M59 132h1M34 134h1M4 141h1M57 142h1"/><path stroke="#3d0f71" d="M40 19h2M26 20h1M50 22h1M65 22h1M35 23h1M48 23h1M61 23h1M43 24h1M59 24h1M22 25h1M58 25h1M17 26h1M17 27h1M56 28h1M77 28h1M32 29h1M84 29h1M35 30h1M47 30h1M20 31h1M84 31h2M25 32h1M42 32h1M86 32h1M67 33h1M39 34h1M4 35h1M33 35h1M5 36h1M16 36h1M29 36h1M71 36h1M33 37h1M37 37h1M84 38h1M41 39h1M22 40h1M48 41h1M60 41h1M12 42h1M52 42h1M13 43h1M50 43h1M78 43h1M83 43h1M83 45h1M72 46h1M31 47h1M52 47h1M80 47h2M38 48h1M5 49h1M25 49h1M76 49h1M14 50h1M27 50h1M10 51h1M81 51h1M17 52h1M68 52h1M53 53h1M71 53h1M17 54h1M5 55h1M71 55h1M38 56h2M3 59h1M21 71h1M17 74h1M1 75h1M21 75h1M51 75h1M20 76h1M59 76h1M66 76h1M77 76h1M32 77h1M48 77h1M68 78h1M17 79h1M21 79h1M11 80h1M15 80h1M18 80h1M76 80h1M31 81h1M35 81h1M47 81h1M50 81h1M0 82h1M31 83h1M57 83h1M59 83h1M61 83h1M0 84h1M57 84h2M70 84h1M15 85h1M26 85h1M67 85h1M74 85h2M26 86h1M49 86h1M54 86h1M68 86h2M44 87h1M46 87h1M58 87h1M26 88h1M67 88h1M83 88h1M1 89h1M20 89h1M50 89h1M6 90h1M31 90h1M40 90h1M65 90h1M86 90h1M10 91h1M32 91h1M76 91h1M14 92h1M40 92h1M74 92h1M60 93h1M62 93h1M70 93h1M3 94h2M58 94h1M75 94h1M19 95h1M50 95h1M57 95h1M64 95h1M39 96h1M52 96h1M83 96h1M17 97h1M39 97h1M53 97h1M72 97h1M9 98h1M25 98h1M47 98h1M79 98h1M7 99h1M46 99h1M49 99h1M7 100h1M10 100h1M33 101h1M63 101h1M8 102h1M48 102h1M4 103h1M31 103h1M55 103h1M82 104h1M4 105h1M28 105h1M80 105h1M74 106h1M10 107h1M31 107h1M72 107h1M77 107h1M79 107h1M81 107h1M27 109h1M81 109h1M43 110h1M84 110h1M47 111h1M79 111h1M55 112h1M65 112h1M39 113h1M64 113h1M74 113h1M80 113h1M66 115h1M71 116h1M75 116h1M37 117h1M49 117h1M67 117h1M25 118h1M36 118h1M52 119h1M64 120h1M9 121h1M39 121h1M36 122h1M55 122h1M70 122h1M77 123h1M41 128h1M64 128h1M3 134h1M3 141h1"/><path stroke="#3f0f72" d="M45 17h1M68 19h1M12 20h1M49 20h1M68 20h1M84 20h1M82 21h1M19 22h1M37 22h1M22 23h1M36 23h1M57 23h1M71 23h1M84 23h1M38 24h1M36 25h1M51 25h1M1 26h1M16 27h1M28 27h1M51 27h1M81 27h1M26 28h1M76 28h1M24 29h1M26 29h1M43 29h1M53 29h1M71 29h1M18 31h1M49 31h1M16 32h1M57 32h1M59 32h1M52 33h2M58 33h1M60 33h1M29 34h1M7 35h2M70 35h1M72 35h1M78 35h1M51 36h2M15 37h1M76 37h1M9 38h1M19 40h1M21 41h1M8 42h1M11 46h1M14 46h1M28 46h1M18 47h1M84 49h1M6 50h1M9 50h1M71 50h1M78 52h2M81 52h1M18 53h1M50 53h3M64 53h1M67 53h1M86 53h1M40 54h1M31 55h1M60 55h1M77 55h1M6 56h1M72 56h1M60 58h1M60 60h1M85 60h1M61 71h1M66 71h1M0 72h2M50 72h1M17 75h1M47 75h1M8 76h1M40 76h1M49 76h1M79 76h1M33 77h1M46 77h2M22 78h1M5 79h1M8 79h1M24 79h1M45 79h1M58 79h1M60 79h1M72 79h2M86 79h1M27 80h1M55 80h1M85 80h1M0 81h1M17 81h1M28 81h2M20 82h1M41 82h1M46 82h1M79 82h1M21 83h1M77 83h1M6 84h1M38 84h1M72 85h1M27 86h1M78 86h1M24 87h1M39 87h1M62 87h1M80 87h1M51 89h1M84 89h1M5 90h1M26 90h1M53 90h1M68 90h1M8 91h1M15 91h1M29 91h1M60 91h1M66 91h1M8 92h1M19 92h2M45 92h1M57 92h1M46 93h1M63 93h1M50 94h1M12 95h1M41 95h1M48 95h1M11 96h1M76 96h1M5 97h1M20 97h1M40 97h1M52 97h1M69 97h1M81 97h1M10 98h1M34 98h1M44 98h1M46 98h1M10 99h1M43 99h1M53 99h1M56 99h1M71 99h1M75 99h1M69 100h1M61 101h1M12 102h1M27 102h1M58 102h1M70 102h1M81 102h1M60 103h1M69 103h1M78 104h2M40 106h1M55 106h1M71 106h2M53 107h2M70 107h1M32 108h1M48 108h1M70 108h1M53 109h1M68 109h1M72 109h1M78 109h1M82 109h1M32 110h1M35 110h1M70 110h1M8 111h1M22 111h1M59 111h1M74 111h1M37 112h2M57 112h1M78 112h1M13 113h1M25 113h1M40 114h1M53 114h1M29 115h1M67 115h1M26 116h1M30 119h1M48 120h1M53 120h1M73 123h1M37 124h1M66 124h1M21 125h1M45 125h2M68 129h1M55 135h1"/><path stroke="#400f74" d="M66 18h1M82 19h1M1 20h1M32 21h1M47 21h1M65 21h1M74 21h1M83 21h1M5 22h1M7 22h1M11 22h1M36 22h1M79 22h1M20 23h1M15 24h1M24 24h1M35 24h1M81 24h1M57 25h1M26 26h1M82 26h1M20 27h1M36 27h1M79 27h1M83 27h1M49 28h1M70 29h1M26 32h1M44 32h1M77 32h1M74 33h1M9 34h1M76 34h1M18 35h1M34 35h1M66 35h1M17 36h1M22 37h1M30 37h1M75 37h1M17 38h1M31 38h1M84 40h1M11 41h1M25 41h1M61 41h1M7 42h1M70 42h1M23 43h1M79 43h1M23 44h1M81 44h1M4 45h1M6 46h1M30 46h1M51 47h1M84 47h1M12 48h1M77 50h1M16 51h1M78 51h1M19 52h1M35 52h1M53 52h1M59 52h1M16 53h1M46 53h1M49 53h1M50 54h1M76 54h1M28 55h2M46 55h1M75 56h1M66 57h1M86 58h1M33 59h1M65 60h1M19 70h1M21 70h1M58 70h1M50 71h2M49 72h1M19 73h1M19 74h1M23 74h1M48 74h1M67 74h1M15 75h1M44 75h1M61 76h1M34 78h1M71 79h1M77 79h1M85 79h1M7 80h1M35 80h1M46 80h1M15 81h1M78 81h1M59 82h1M82 82h1M10 83h1M33 83h1M45 83h1M58 83h1M60 83h1M62 83h1M72 83h1M4 84h1M34 84h2M61 84h1M46 85h1M31 87h1M78 87h1M81 87h1M25 88h1M29 88h1M84 88h1M3 89h2M69 89h1M41 90h1M58 90h1M74 90h1M31 91h1M36 91h1M40 91h1M56 91h1M2 92h1M15 92h3M73 92h1M76 92h1M10 93h1M14 93h1M50 93h1M58 93h1M61 93h1M77 93h1M52 94h1M56 94h2M63 94h1M83 94h1M55 95h1M85 95h1M12 96h1M36 96h1M41 96h1M28 97h1M77 97h1M5 98h1M58 98h1M21 99h1M52 99h1M63 99h1M9 100h1M46 100h1M67 100h1M76 100h1M79 100h1M84 100h1M10 101h1M40 101h1M47 101h1M51 101h1M85 102h1M25 104h1M41 106h1M43 106h1M63 106h1M68 106h1M12 107h1M18 107h1M46 107h1M52 107h1M68 107h1M64 108h1M83 108h1M7 109h2M26 109h1M49 109h1M61 109h1M24 110h1M36 110h1M51 110h1M53 111h1M62 111h1M67 111h1M73 111h1M30 112h1M49 113h1M52 114h1M54 114h1M61 115h1M82 115h1M18 117h1M35 117h1M68 118h1M70 118h1M51 119h1M18 121h1M21 121h1M57 123h1M20 124h1M38 126h1M67 126h1M61 128h1M30 129h1"/><path stroke="#420f75" d="M16 20h1M69 20h1M27 21h1M70 21h1M48 22h1M67 22h1M70 22h1M80 22h1M82 22h1M23 23h2M55 23h1M79 23h1M19 24h1M37 24h1M64 24h1M10 25h1M59 25h1M61 25h1M6 26h1M62 26h1M39 27h1M45 27h2M82 27h1M47 28h1M63 28h1M19 31h1M61 31h1M38 32h1M52 32h1M84 32h1M12 33h1M21 33h1M57 33h1M77 33h1M40 34h1M51 34h1M36 37h1M71 37h1M21 39h1M31 40h1M43 40h1M39 41h1M7 43h1M8 44h1M14 44h1M6 47h1M29 48h1M65 48h2M8 50h1M21 50h2M40 50h1M13 52h1M44 52h1M4 53h1M30 54h1M45 55h1M67 55h1M69 55h2M32 56h1M47 56h1M74 57h1M70 58h1M2 59h1M4 59h1M61 59h1M35 62h1M22 69h1M18 71h1M60 71h1M17 72h1M8 73h1M11 73h1M23 73h1M62 73h1M46 74h1M50 74h1M56 74h1M2 75h1M27 75h1M2 77h1M53 77h1M68 77h1M11 78h1M22 79h1M29 79h1M57 79h1M6 80h1M14 80h1M54 80h1M51 81h2M59 81h1M80 81h1M15 83h1M51 83h1M81 83h1M27 84h1M39 84h1M69 84h1M74 84h1M78 84h1M47 85h1M58 85h1M65 85h1M29 86h1M1 87h2M49 87h1M55 87h1M70 87h1M82 87h1M81 88h1M10 89h1M42 89h1M78 89h1M11 90h1M42 90h2M25 91h1M69 91h1M46 92h1M69 92h1M5 93h1M15 93h1M51 93h1M64 93h1M81 93h1M22 94h1M40 96h1M54 96h1M64 96h1M29 97h1M11 98h1M73 98h1M4 99h1M20 99h1M31 99h1M45 99h1M74 99h1M2 100h1M8 100h1M47 100h1M0 101h1M2 102h1M25 102h1M30 102h1M49 102h1M69 102h1M76 102h1M86 102h1M85 103h1M9 105h2M70 105h1M25 106h1M33 106h1M60 106h1M67 106h1M28 107h1M55 107h1M71 107h1M76 107h1M10 108h1M23 108h1M48 109h1M67 109h1M83 109h1M27 110h1M54 110h1M32 111h1M43 111h1M52 111h1M56 112h1M14 113h1M56 113h1M68 113h1M37 114h1M1 115h1M37 115h1M49 116h1M80 116h1M28 117h1M6 118h1M52 118h1M47 119h1M69 119h1M22 120h1M42 123h1M63 124h1M62 126h1M63 127h1"/><path stroke="#440f76" d="M0 18h2M67 21h1M43 22h1M26 23h1M43 23h1M45 23h1M50 23h1M56 23h1M77 24h1M15 25h1M26 25h1M26 27h1M68 27h1M76 27h1M25 28h1M45 28h1M30 29h1M37 29h1M32 30h1M83 30h1M21 31h1M59 31h1M6 32h1M30 32h1M73 32h1M81 32h1M18 33h1M62 33h2M78 33h1M83 33h1M41 34h1M67 34h2M72 34h1M25 35h1M33 36h1M62 36h2M72 36h1M54 38h1M15 39h1M53 39h1M80 40h1M23 41h1M30 42h1M72 42h1M12 45h1M82 45h1M22 47h1M3 49h1M29 49h1M5 50h1M72 50h1M1 51h1M11 51h1M61 51h1M29 52h1M86 52h1M43 53h1M78 53h1M26 54h1M44 54h2M80 54h1M38 55h1M42 55h1M47 55h1M63 55h2M76 55h1M64 57h1M72 57h1M69 58h1M40 59h1M82 59h1M61 60h1M67 60h1M23 68h1M40 69h1M12 73h1M20 74h1M23 75h1M28 75h1M52 75h1M35 76h1M80 76h1M3 77h1M26 77h1M75 77h1M7 78h1M35 78h1M64 78h1M70 78h1M1 79h1M83 79h1M20 80h2M48 81h1M66 81h1M69 81h1M51 82h1M60 82h1M39 83h1M52 83h1M78 83h1M21 84h1M43 84h1M65 84h1M81 84h1M84 84h1M86 84h1M14 85h1M25 85h1M5 86h2M43 87h1M54 87h1M56 87h1M77 87h1M35 88h1M59 88h1M66 88h1M0 89h1M57 89h1M77 89h1M21 90h1M32 90h1M24 91h1M47 91h2M61 91h1M43 92h1M50 92h1M31 93h1M61 94h1M9 95h1M31 95h1M37 95h1M76 95h1M13 96h1M51 96h1M53 96h1M1 97h1M3 97h1M9 97h1M65 97h1M67 97h1M38 98h1M81 98h1M54 99h1M59 99h1M72 99h1M6 100h1M12 100h1M72 100h1M34 103h1M49 103h1M70 103h1M82 103h1M19 104h1M43 104h1M55 104h1M76 104h1M81 104h1M52 105h1M34 106h1M38 106h1M64 106h1M16 107h1M26 107h1M32 107h1M51 107h1M63 107h1M13 110h1M42 110h1M44 110h1M59 110h3M34 111h1M58 111h1M66 112h1M34 113h1M71 115h1M48 116h1M68 116h1M21 117h1M70 119h1M39 123h1M30 124h1M29 125h1M63 128h1"/><path stroke="#451077" d="M25 20h1M52 20h1M82 20h2M26 21h1M66 21h1M13 22h1M44 22h1M16 23h1M40 23h1M40 24h1M60 24h1M56 25h1M29 26h1M31 27h1M46 28h1M5 29h1M56 29h1M58 29h1M27 30h1M79 30h2M58 32h1M63 32h1M76 32h1M29 33h1M55 33h1M17 35h1M84 35h1M10 36h1M22 36h1M4 37h1M25 38h1M30 38h1M76 40h1M85 40h1M13 42h1M31 42h1M9 45h1M12 46h2M14 48h1M44 49h1M58 51h1M1 52h1M43 52h1M56 52h1M1 53h1M15 53h1M20 53h1M28 53h1M44 53h1M58 53h1M61 53h1M8 54h1M27 54h1M85 54h1M30 55h1M48 55h1M65 55h1M40 56h1M46 58h1M81 59h1M66 60h1M34 61h1M7 69h1M14 69h1M1 70h1M59 70h1M59 71h1M2 72h1M27 72h1M42 73h1M54 74h1M58 74h1M62 75h1M25 76h1M13 77h1M57 77h1M47 78h1M84 78h1M15 79h1M27 79h1M30 79h1M65 79h1M68 79h1M78 79h1M81 79h1M48 80h1M83 80h2M3 81h1M6 81h1M14 81h1M33 81h1M56 81h1M62 81h1M68 81h1M37 82h1M50 82h1M58 82h1M73 82h1M77 82h1M18 83h1M66 83h1M83 83h1M7 84h1M24 84h1M79 84h1M82 84h1M85 84h1M24 85h1M54 85h1M68 85h1M48 86h1M8 88h1M34 88h1M47 88h1M9 89h1M47 89h1M79 90h1M14 91h1M33 91h1M38 91h1M50 91h1M64 91h1M67 91h1M21 92h2M56 92h1M13 93h1M21 93h1M37 93h1M45 93h1M39 94h1M44 94h1M85 94h1M5 95h1M24 95h1M60 95h1M75 95h1M77 95h1M7 96h1M19 96h1M27 96h1M50 96h1M71 96h1M43 97h1M48 97h1M20 98h1M43 98h1M69 98h1M3 99h1M27 99h1M37 99h1M55 99h1M4 100h1M23 100h1M25 100h1M75 100h1M68 101h1M9 102h1M24 102h1M55 102h1M84 102h1M11 103h1M28 103h1M75 103h1M32 104h1M14 106h1M59 106h1M75 106h1M69 107h1M18 108h2M47 109h1M5 110h1M26 110h1M38 110h1M68 110h1M24 111h1M64 111h1M75 111h1M18 113h1M33 113h1M35 113h1M20 114h2M12 115h1M52 115h1M80 115h1M50 116h1M79 116h1M47 120h1M62 128h1M42 130h1"/><path stroke="#471078" d="M24 20h1M51 20h1M3 21h2M18 22h1M59 22h1M76 22h1M78 22h1M31 23h1M23 24h1M26 24h1M33 24h1M39 24h1M54 24h1M2 26h1M5 26h1M30 27h1M44 27h1M47 27h1M84 27h1M54 28h2M58 28h2M79 28h1M84 28h1M7 29h1M40 29h1M47 29h1M34 30h1M68 30h1M21 32h1M48 32h1M74 32h1M85 32h1M8 33h1M68 33h1M80 34h1M85 35h1M73 36h1M0 37h1M52 37h1M79 37h1M86 38h1M13 39h1M3 40h1M85 43h1M12 44h1M5 46h1M17 47h1M12 51h1M25 52h1M30 52h2M45 53h1M70 53h1M43 54h1M0 55h1M8 55h1M26 55h1M37 55h1M40 55h2M66 55h1M75 55h1M68 56h1M4 57h1M33 57h2M63 57h1M67 57h1M73 60h1M81 60h1M55 67h1M12 69h1M20 70h1M22 70h1M19 72h2M22 73h1M40 73h1M48 73h1M10 74h1M47 74h1M13 75h1M26 75h1M63 76h1M79 77h2M10 78h1M7 79h1M23 79h1M56 79h1M65 80h1M44 81h1M67 81h1M83 81h1M85 81h1M13 82h1M15 82h1M78 82h1M42 84h1M49 84h2M9 85h1M32 85h1M45 85h1M57 85h1M63 85h1M25 87h1M9 88h2M40 88h1M62 88h1M85 88h1M32 89h1M61 89h1M79 89h1M4 90h1M22 90h1M57 90h1M80 90h1M65 91h1M73 91h1M30 92h1M32 92h1M72 92h1M80 92h1M30 93h1M57 93h1M71 93h2M82 93h1M85 93h1M48 94h1M25 95h1M30 95h1M42 95h1M67 95h1M31 96h1M0 97h1M6 97h1M19 97h1M27 97h1M30 97h1M38 97h1M22 99h1M64 99h2M73 99h1M1 100h1M11 100h1M82 100h1M62 101h1M74 101h1M22 102h1M54 102h1M21 103h1M37 103h1M33 104h1M64 104h1M30 105h1M32 105h1M71 105h1M77 105h1M81 105h1M54 106h1M73 106h1M76 106h1M21 107h1M29 107h1M35 107h1M73 107h1M44 108h1M36 109h1M56 109h2M25 110h1M48 110h1M81 110h1M83 110h1M40 111h1M49 111h1M63 111h1M13 112h1M19 114h1M58 114h1M30 115h2M36 115h1M54 115h1M70 115h1M83 115h1M70 116h1M78 118h1M17 121h1M29 123h1M67 129h1"/><path stroke="#491078" d="M4 18h1M12 19h2M6 22h1M60 22h1M77 22h1M83 22h1M27 23h1M42 23h1M46 23h1M10 24h1M27 24h1M5 25h1M62 25h1M83 26h1M29 27h1M43 27h1M78 27h1M38 28h1M60 28h1M62 28h1M78 28h1M31 29h1M33 29h1M52 30h2M67 30h1M60 31h1M31 32h1M37 32h1M50 32h1M11 33h1M20 33h1M71 33h1M77 34h1M21 36h1M37 38h1M40 39h1M30 40h1M14 42h1M84 44h1M5 45h1M4 50h1M14 51h1M29 51h1M20 52h1M61 52h1M7 53h1M13 53h1M24 53h2M38 53h1M69 53h1M72 53h1M12 54h1M38 54h1M24 55h1M44 55h1M35 56h1M48 56h1M54 56h1M86 56h1M44 57h1M57 57h1M70 57h1M33 58h1M32 59h1M78 59h1M33 60h1M39 60h2M82 60h1M47 62h1M4 70h1M59 72h1M53 73h1M4 74h1M55 74h1M68 74h1M26 76h1M10 77h1M30 77h1M78 77h1M6 78h1M13 78h1M52 78h1M25 79h1M80 79h1M84 79h1M10 80h1M22 80h1M63 80h1M71 80h1M4 81h1M16 81h1M34 81h1M43 81h1M60 81h1M70 81h1M84 81h1M6 82h1M45 82h1M85 82h1M36 83h1M59 84h1M73 85h1M39 86h1M47 86h1M63 86h1M9 87h1M16 87h1M71 87h1M72 88h1M8 89h1M17 89h1M59 89h2M0 90h1M9 90h1M13 90h1M52 90h1M59 90h1M75 90h1M13 91h1M64 92h1M83 93h1M13 94h1M79 94h1M43 95h1M46 95h1M68 95h1M79 95h1M7 97h1M16 97h1M21 97h1M31 97h1M36 97h1M66 97h1M70 97h2M79 97h1M70 98h1M80 98h1M42 100h1M70 100h1M35 101h1M57 101h1M0 102h1M4 102h1M35 103h1M68 103h1M86 103h1M58 104h1M29 105h1M66 106h1M48 107h2M71 108h2M84 108h1M5 109h1M50 109h1M55 109h1M60 109h1M41 110h1M45 110h1M82 110h1M10 111h1M23 111h1M44 111h1M46 111h1M47 112h2M60 112h1M76 112h1M86 112h1M48 113h1M53 113h1M65 113h1M77 113h1M57 114h1M68 115h1M43 116h1M58 117h1M62 117h1M20 120h1M19 121h1M73 126h1"/><path stroke="#4a1079" d="M33 21h1M0 22h1M9 22h1M10 23h1M54 23h1M76 23h1M78 23h1M55 24h1M66 25h1M22 26h1M50 28h1M85 29h1M18 30h1M26 30h1M58 30h1M81 30h1M33 31h1M54 31h1M83 31h1M20 32h1M49 32h1M0 33h1M2 33h1M19 33h1M69 33h1M52 34h1M16 35h1M19 36h1M66 36h1M1 37h1M16 37h1M24 38h1M14 39h1M20 39h1M21 40h1M44 40h1M20 41h1M32 41h1M35 46h1M6 49h1M30 51h1M38 52h1M68 53h1M46 54h2M79 54h1M82 54h1M42 56h1M31 58h1M45 58h1M71 60h1M60 61h1M41 69h1M51 72h1M69 74h1M16 75h1M35 75h1M71 76h1M6 77h1M67 77h1M82 77h1M12 78h1M53 78h1M67 78h1M3 79h1M55 79h1M67 79h1M79 79h1M38 80h1M10 81h1M27 81h1M49 81h1M61 81h1M63 81h1M81 81h2M16 82h1M34 83h1M1 84h1M73 84h1M8 85h1M13 85h1M22 85h1M31 85h1M70 85h1M79 85h1M16 86h1M13 87h1M71 88h1M58 89h1M74 89h1M50 90h1M17 91h1M12 92h1M28 92h1M44 92h1M77 92h1M6 93h1M52 93h1M37 94h1M17 95h1M33 95h1M74 95h1M67 96h1M79 96h1M84 96h1M3 98h1M26 98h1M40 98h1M65 98h1M5 100h1M68 100h1M73 100h1M32 101h1M73 101h1M78 101h1M11 102h1M23 102h1M59 102h1M73 102h1M80 103h1M3 104h1M5 105h1M7 105h2M50 105h1M23 106h1M44 106h1M61 106h1M77 106h1M85 106h1M61 108h1M19 109h1M38 109h1M62 110h1M69 110h1M74 110h1M80 110h1M85 110h1M44 112h1M46 112h1M67 112h1M15 113h1M19 113h1M86 113h1M43 114h1M10 116h1M44 116h1M63 117h1M10 119h1M49 119h1M54 119h1M86 134h1"/><path stroke="#4c117a" d="M50 20h1M10 22h1M49 22h1M66 22h1M7 23h1M13 23h1M38 23h1M85 23h1M69 24h1M73 24h2M82 24h1M0 25h1M11 25h1M32 25h1M27 26h1M44 26h1M70 26h1M50 27h1M80 29h1M31 30h1M37 30h1M51 30h1M78 30h1M32 31h1M70 32h1M30 33h1M34 33h1M13 36h1M18 36h1M55 38h1M37 39h1M24 41h1M13 44h1M29 46h1M13 48h1M76 50h1M23 52h1M17 53h1M27 53h1M18 54h1M33 54h1M39 54h1M39 55h1M78 55h1M35 57h1M58 57h1M42 58h1M44 58h1M77 59h1M46 62h1M0 66h1M24 68h1M11 71h1M56 71h1M68 71h1M5 73h1M20 73h1M41 73h1M47 73h1M55 73h1M61 73h1M64 73h1M13 76h1M58 76h1M84 77h1M4 79h1M14 79h1M16 79h1M9 80h1M50 80h2M58 80h1M74 80h1M32 81h1M74 81h1M14 82h1M26 82h1M39 82h1M42 82h1M56 82h1M61 82h1M71 82h1M4 83h1M32 83h1M48 85h1M82 85h1M13 86h1M18 86h1M40 86h1M73 86h1M30 87h1M69 87h1M73 87h1M3 88h1M27 88h1M41 88h1M79 88h2M7 89h1M25 89h2M82 89h1M56 90h1M6 91h1M72 91h1M33 92h1M58 92h1M27 93h1M29 93h1M11 94h1M38 94h1M62 94h1M80 94h1M58 95h1M73 95h1M80 95h1M20 96h1M2 97h1M32 97h1M54 97h1M19 98h1M39 98h1M61 98h1M9 99h1M24 99h1M28 99h1M44 99h1M16 100h1M29 100h1M44 100h1M53 100h1M61 100h1M71 100h1M80 100h1M14 101h1M18 101h1M58 101h1M1 102h1M39 102h1M27 103h1M29 103h1M36 103h1M76 103h1M29 104h1M51 104h1M77 104h1M58 105h1M75 105h1M42 106h1M81 106h1M2 107h1M6 107h1M51 108h1M74 108h1M34 110h1M40 110h1M46 110h1M52 110h2M11 112h1M31 112h1M40 112h1M70 112h1M41 113h1M56 114h1M0 115h1M13 115h1M9 116h1M11 119h1M13 129h1"/><path stroke="#4e117b" d="M70 20h1M0 21h1M68 21h1M8 22h1M12 22h1M9 23h1M11 23h1M30 23h1M49 23h1M67 23h1M86 23h1M62 24h1M68 24h1M71 24h1M27 25h1M79 25h1M83 25h1M32 26h1M69 26h1M40 27h1M44 28h1M61 28h1M64 28h1M8 29h1M20 29h1M38 29h2M41 29h1M81 29h1M83 29h1M21 30h1M23 30h1M38 30h2M48 30h1M59 30h1M82 30h1M17 31h1M26 31h1M34 31h1M5 32h1M36 32h1M39 32h1M45 32h1M51 32h1M83 32h1M23 33h1M35 33h1M41 33h1M11 36h1M32 37h1M80 37h1M85 38h1M7 47h1M16 47h1M3 50h1M83 51h2M16 52h1M12 53h1M14 53h1M56 53h1M62 53h1M51 54h1M81 54h1M24 56h1M26 56h1M53 56h1M29 57h1M71 57h1M75 57h1M41 58h1M35 59h1M41 59h1M73 59h1M79 59h2M70 60h1M80 65h1M51 67h1M6 69h1M25 69h1M14 72h2M28 72h1M37 72h1M58 72h1M4 73h1M50 73h1M73 73h1M0 74h1M65 74h1M84 75h1M12 76h1M34 76h1M50 76h1M52 76h1M62 76h1M25 77h1M60 77h2M1 78h1M66 78h1M2 79h1M36 79h1M41 79h1M69 79h1M41 80h1M47 80h1M49 80h1M82 80h1M23 81h1M26 81h1M79 81h1M2 83h1M6 83h1M17 83h1M11 84h1M75 84h1M80 84h1M83 84h1M10 85h1M38 85h1M80 85h1M75 86h1M82 86h1M0 88h1M21 88h1M53 88h1M65 88h1M28 89h1M41 89h1M70 89h1M23 90h1M37 90h1M51 90h1M39 91h1M36 92h1M39 92h1M54 92h1M74 94h1M13 95h1M23 96h1M30 96h1M62 96h1M66 96h1M14 97h1M26 97h1M49 97h1M51 97h1M50 98h1M1 99h1M8 99h1M34 99h1M68 99h1M15 100h1M19 101h1M45 101h2M5 102h1M6 103h1M38 103h1M73 103h1M18 104h1M24 104h1M39 104h1M44 104h1M73 104h1M57 105h1M65 106h1M0 107h2M3 108h1M33 108h1M35 108h1M52 109h1M73 109h1M48 111h1M0 112h1M79 112h1M20 116h1M51 116h1M59 117h1M69 118h1M53 119h1M21 120h1M60 132h1M35 134h1"/><path stroke="#4f127b" d="M3 22h1M25 23h1M37 23h1M7 24h1M41 24h1M61 24h1M63 24h1M1 25h1M12 25h1M23 25h1M52 25h1M7 26h1M52 27h1M58 27h1M5 28h1M19 28h1M27 28h1M53 28h1M75 28h1M44 29h1M52 29h1M22 30h1M85 30h1M27 31h1M58 31h1M13 32h1M68 32h1M1 33h1M36 33h1M85 33h1M28 34h1M69 34h1M24 35h1M67 36h1M2 37h1M6 40h1M75 40h1M84 43h1M80 44h1M36 46h1M57 52h1M57 53h1M0 56h1M58 56h1M67 56h1M69 56h1M80 56h1M37 57h1M41 57h1M56 57h1M32 58h1M61 58h1M75 58h1M80 58h1M59 60h1M68 60h1M74 60h1M42 63h1M32 71h1M55 71h1M63 72h1M11 74h1M24 74h2M49 74h1M59 74h1M61 75h1M53 76h1M65 76h1M68 76h1M29 77h1M35 77h1M63 77h1M36 78h1M38 78h1M48 78h1M60 78h1M80 78h1M32 79h2M23 80h1M33 80h1M86 81h1M3 82h1M38 82h1M54 82h1M72 82h1M42 83h2M63 83h1M80 83h1M11 85h1M30 85h1M39 85h1M50 85h1M69 85h1M81 85h1M19 86h1M36 87h1M86 88h1M29 89h1M31 89h1M67 89h1M72 89h1M30 90h1M44 90h1M46 91h1M82 91h1M13 92h1M59 92h1M86 93h1M70 94h1M76 94h1M20 95h1M32 95h1M84 95h1M1 96h1M14 96h1M70 96h1M12 97h1M2 98h1M6 98h1M71 98h1M17 99h1M66 99h1M33 100h1M51 100h1M74 100h1M28 101h1M37 101h1M41 101h1M50 101h1M10 102h1M45 103h1M51 103h1M53 103h2M2 104h1M7 104h1M45 104h1M39 106h1M48 106h1M52 106h1M62 106h1M86 106h1M27 107h1M11 108h1M0 109h1M10 109h1M84 109h1M37 110h1M39 110h1M38 111h1M84 112h1M27 113h1M40 113h1M41 114h1M53 115h1M79 115h1M18 116h1M69 116h1M0 126h1"/><path stroke="#51127c" d="M9 18h1M8 23h1M29 23h1M39 23h1M30 24h1M24 25h1M40 25h1M18 26h1M48 26h1M21 27h1M60 27h1M21 28h1M43 28h1M80 28h1M9 29h1M51 29h1M77 29h1M40 30h1M50 30h1M54 30h1M78 31h1M81 31h2M8 32h1M29 32h1M69 32h1M82 32h1M3 33h1M6 33h1M31 33h1M76 33h1M79 33h1M4 34h1M31 37h1M0 38h1M5 38h1M45 49h1M27 51h1M31 51h1M58 54h1M1 55h1M11 55h1M27 55h1M74 55h1M84 55h1M1 56h2M25 56h1M43 56h1M49 56h1M66 56h1M47 57h1M80 57h1M35 58h1M47 58h1M68 58h1M71 58h1M82 58h1M85 59h1M38 60h1M75 60h1M35 61h1M42 61h1M71 62h1M52 71h1M57 71h1M46 72h1M3 73h1M21 73h1M39 73h1M46 73h1M84 73h1M9 74h1M13 74h1M36 74h1M54 75h1M58 75h3M7 76h1M39 76h1M64 76h1M72 76h2M23 77h1M56 77h1M74 77h1M2 78h1M37 78h1M34 79h2M24 80h1M57 80h1M46 81h1M71 81h1M23 82h1M57 82h1M66 82h1M83 82h1M9 83h1M16 83h1M8 84h1M19 84h1M12 85h1M55 86h1M66 86h1M72 86h1M10 87h1M32 87h1M35 87h1M72 87h1M4 88h1M15 88h1M24 88h1M58 88h1M63 88h1M85 89h1M12 90h1M61 90h1M84 91h1M34 92h1M9 93h1M84 93h1M47 94h1M63 95h1M83 95h1M55 96h1M68 96h1M77 96h1M13 97h1M15 97h1M36 98h1M35 99h1M52 100h1M58 100h1M68 102h1M39 103h1M21 104h1M36 104h1M38 104h1M46 104h1M31 105h1M42 105h1M76 105h1M79 106h1M37 109h1M77 110h1M58 112h1M73 112h1M73 113h1M42 114h1M21 116h1M24 116h1M35 126h1"/><path stroke="#52137c" d="M8 18h1M10 18h1M11 20h1M1 22h1M4 22h1M52 23h1M64 23h1M68 23h1M9 24h1M42 24h1M9 25h1M50 25h1M68 25h1M82 25h1M36 26h2M53 26h1M59 26h1M0 27h1M22 27h1M59 27h1M36 28h1M85 28h1M16 29h1M49 29h1M78 29h2M30 30h1M33 30h1M43 30h1M73 30h1M6 31h1M41 32h1M46 32h1M22 33h1M3 34h1M70 34h1M13 35h1M30 36h1M53 37h1M46 49h1M82 51h1M82 52h2M73 53h1M1 54h1M16 54h1M6 55h1M41 56h1M79 56h1M5 57h1M40 57h1M43 57h1M24 59h1M62 59h1M4 60h1M41 60h1M72 60h1M84 60h1M62 61h1M81 61h2M39 62h2M72 62h1M36 63h2M69 63h1M56 65h1M53 70h1M60 70h1M0 71h2M12 71h1M28 71h1M33 71h1M58 71h1M3 72h1M47 72h1M57 72h1M74 73h1M61 74h1M7 75h1M25 75h1M53 75h1M76 77h1M8 78h1M83 78h1M11 79h1M5 80h1M34 80h1M58 81h1M64 81h1M4 82h2M19 83h1M35 83h1M79 83h1M5 84h1M27 85h1M51 85h2M64 85h1M7 86h1M20 86h2M65 86h1M86 86h1M33 87h1M57 87h1M1 88h1M13 88h1M54 88h1M74 88h1M78 90h1M23 91h1M55 91h1M8 93h1M54 94h1M78 94h1M59 95h1M21 96h1M24 96h1M26 96h1M69 96h1M62 98h1M76 98h1M30 99h1M85 99h1M0 100h1M60 100h1M44 101h1M66 102h1M48 103h1M11 104h1M51 105h1M86 105h1M13 106h1M24 108h1M45 108h2M20 109h1M40 109h1M59 109h1M31 129h1"/><path stroke="#54137d" d="M3 23h1M28 23h1M53 23h1M3 24h1M8 24h1M17 24h1M2 25h1M31 25h1M10 26h2M58 26h1M74 26h1M15 27h1M37 28h1M17 29h1M42 29h1M13 30h1M17 30h1M25 30h1M66 30h1M35 31h1M37 31h1M66 31h1M27 32h1M4 33h1M25 33h1M39 33h2M25 34h1M20 36h1M16 38h1M26 38h1M39 39h1M71 42h1M11 45h1M19 47h1M13 51h1M24 52h1M37 52h1M6 53h1M48 54h1M55 54h1M69 54h1M77 54h1M15 55h1M15 56h1M22 56h1M85 56h1M32 57h1M45 57h2M78 57h1M84 57h1M79 58h1M81 58h1M84 58h1M69 60h1M71 61h1M79 61h1M70 63h1M7 66h1M18 68h1M11 70h1M8 71h2M14 71h1M17 71h1M6 73h1M7 74h1M14 74h1M29 74h1M60 74h1M29 75h1M34 75h1M42 75h1M27 76h1M31 76h1M33 76h1M45 76h1M34 77h1M42 77h1M58 77h1M62 77h1M77 77h1M39 78h1M54 78h1M56 78h1M70 79h1M77 80h1M13 81h1M45 81h1M18 82h1M25 82h1M31 82h1M34 82h1M8 83h1M64 83h1M84 83h1M60 84h1M76 84h1M7 85h1M22 86h2M41 86h1M85 86h1M8 87h1M15 87h1M47 87h1M52 87h1M83 87h1M33 88h1M36 88h1M39 88h1M42 88h1M78 88h1M18 89h1M48 89h1M66 89h1M71 89h1M8 90h1M27 90h1M46 90h1M62 90h1M73 90h1M34 91h1M45 91h1M35 92h1M60 92h1M38 93h2M80 93h1M24 94h1M14 95h1M78 95h1M17 96h1M35 96h1M25 97h1M42 97h1M1 98h1M78 98h1M25 99h2M36 99h1M35 100h1M55 100h1M31 101h1M36 101h1M38 101h1M49 101h1M66 101h1M81 101h1M13 102h2M37 102h1M64 102h1M5 103h1M33 103h1M58 103h1M71 103h2M79 103h1M6 105h1M43 105h1M49 106h1M34 108h1M39 109h1M0 110h1M33 111h1M39 112h1M74 112h2M26 113h1M67 113h1M25 116h1M20 121h1M40 128h1"/><path stroke="#56147d" d="M10 20h1M2 22h1M84 22h1M66 23h1M25 24h1M31 24h1M48 24h1M78 24h1M80 24h1M6 25h1M14 25h1M41 25h1M53 25h1M75 25h1M3 26h1M23 26h1M25 26h1M28 26h1M73 26h1M4 27h1M14 27h1M48 27h1M53 27h1M75 27h1M31 28h1M34 28h1M70 28h1M13 29h1M19 30h2M28 30h1M74 30h1M16 31h1M75 31h1M75 32h1M7 33h1M37 33h2M38 39h1M20 40h1M14 52h1M58 52h1M7 54h1M49 55h1M7 56h1M21 56h1M55 56h1M81 56h2M26 57h1M28 57h1M55 57h1M58 58h1M1 59h1M31 59h1M44 59h1M60 59h1M37 60h1M76 60h1M8 61h1M32 61h1M80 61h1M34 62h1M2 64h1M56 67h1M18 69h1M42 69h1M16 70h1M23 70h1M52 70h1M54 70h1M72 73h1M12 74h1M30 74h1M80 74h1M24 75h1M30 75h2M33 75h1M36 75h1M43 75h1M64 75h1M14 76h1M32 76h1M36 76h1M7 77h1M45 77h1M59 77h1M55 78h1M71 78h1M26 79h1M9 81h1M37 81h2M65 81h1M62 82h1M69 82h2M44 83h1M65 83h1M85 83h1M9 84h2M25 84h1M77 84h1M3 85h1M23 85h1M28 85h1M53 85h1M2 86h1M64 86h1M7 87h1M2 88h1M40 89h1M7 90h1M25 90h1M39 90h1M55 90h1M60 90h1M18 91h1M30 91h1M83 91h1M4 92h1M29 92h1M78 92h1M77 94h1M2 95h1M71 95h1M81 95h1M37 97h1M78 97h1M43 100h1M50 100h1M75 101h1M78 102h1M1 104h1M22 104h1M28 104h1M85 104h1M44 105h2M24 106h1M53 106h1M26 108h1M21 109h1M41 109h1M67 110h1M10 112h1M66 113h1M69 115h1M53 118h1M48 136h1"/><path stroke="#57157e" d="M17 23h1M28 24h1M50 24h1M72 24h1M75 24h1M30 25h1M13 26h1M24 26h1M63 26h1M81 26h1M84 26h1M5 27h1M23 27h2M85 27h1M6 28h1M18 28h1M30 28h1M35 28h1M83 28h1M14 29h1M21 29h1M65 29h1M75 29h1M24 30h1M14 31h1M65 31h1M9 32h1M40 32h1M10 33h1M7 34h1M73 34h1M75 34h1M12 35h1M32 36h1M10 45h1M36 52h1M85 52h1M77 53h1M25 55h1M28 56h1M33 56h1M83 56h2M0 57h1M77 57h1M4 58h1M85 58h1M76 59h1M32 60h1M42 60h1M45 60h1M50 60h1M64 60h1M68 61h1M45 62h1M73 62h2M31 65h1M6 66h1M50 67h1M21 69h1M13 71h1M34 71h1M30 72h1M62 72h1M60 73h1M83 73h1M6 74h1M77 74h1M9 76h1M1 77h1M4 77h2M8 77h1M24 77h1M51 77h1M69 77h1M57 78h1M42 79h1M44 79h1M25 81h1M43 82h1M71 83h1M12 84h1M26 84h1M48 84h1M83 85h1M4 86h1M35 86h1M70 86h2M53 87h1M66 87h1M43 88h1M73 88h1M65 89h1M80 89h1M29 90h1M71 91h1M0 92h1M63 92h1M40 93h1M78 93h1M25 94h1M45 94h1M73 94h1M84 94h1M16 95h1M47 95h1M65 96h1M86 97h1M35 98h1M55 98h1M72 98h1M24 100h1M17 101h1M67 101h1M59 104h1M75 104h1M78 106h1M7 107h1M74 107h1M1 108h1M51 109h1M1 110h1M39 111h1M59 112h1M0 113h1M79 113h1M35 115h1"/><path stroke="#59157e" d="M12 23h1M29 24h1M32 24h1M13 25h1M25 25h1M37 25h1M34 26h1M86 26h1M25 27h1M74 28h1M29 29h1M61 29h1M15 30h2M24 32h1M47 32h1M72 32h1M9 33h1M6 34h1M26 34h2M74 34h1M71 35h1M4 40h1M21 53h1M21 54h1M24 54h1M52 54h1M43 55h1M1 57h1M27 57h1M79 57h1M34 58h1M83 58h1M30 59h1M46 60h1M80 60h1M69 61h1M29 62h1M40 63h1M66 67h1M17 68h1M48 69h1M69 69h1M15 71h1M16 72h1M60 72h1M7 73h1M8 74h1M31 74h1M62 74h1M43 76h1M57 76h1M76 76h1M36 77h1M43 77h1M64 77h1M79 78h1M2 80h1M73 80h1M41 81h1M1 82h1M24 82h1M7 83h1M40 83h1M2 85h1M3 86h1M30 86h1M37 86h1M83 86h2M11 87h1M20 87h1M34 87h1M50 87h1M14 88h1M57 88h1M27 89h1M30 89h1M47 90h2M70 91h1M47 92h1M61 92h1M79 92h1M18 93h2M33 93h1M4 95h1M61 96h1M41 97h1M50 97h1M57 98h1M67 99h1M32 100h1M49 100h1M83 101h1M38 102h1M52 103h1M23 104h1M46 109h1M58 109h1M86 109h1M19 116h1"/><path stroke="#5a167e" d="M0 0h87M2 23h1M16 24h1M3 25h1M81 25h1M12 26h1M71 26h1M75 26h1M41 27h1M66 27h1M24 28h1M57 28h1M86 28h1M10 29h1M50 29h1M15 31h1M25 31h1M31 31h1M7 32h1M17 32h1M23 32h1M5 33h1M75 33h1M80 33h1M3 37h1M2 54h1M25 54h1M49 54h1M54 54h1M78 54h1M16 55h1M85 55h1M8 56h1M10 56h1M13 56h1M76 56h1M78 56h1M36 57h1M83 57h1M34 59h1M39 59h1M84 59h1M47 60h1M0 61h1M17 61h1M41 61h1M59 61h1M67 61h1M70 61h1M84 62h1M41 63h1M43 63h1M3 64h1M17 64h1M22 65h1M44 66h1M26 67h1M54 67h1M22 68h1M26 68h1M50 68h1M8 69h1M17 69h1M12 70h1M29 72h1M38 72h1M42 72h1M52 72h1M55 72h1M24 73h1M43 73h1M49 73h1M86 73h1M2 74h1M5 74h1M32 74h1M40 75h1M11 76h1M70 76h1M84 76h1M49 77h1M66 77h1M51 78h1M59 78h1M43 79h1M1 80h1M72 80h1M42 81h1M44 82h1M20 83h1M9 86h1M17 86h1M33 86h1M36 86h1M38 86h1M67 86h1M38 87h1M51 87h1M84 87h1M30 88h1M48 88h1M64 88h1M38 89h2M24 90h1M76 90h1M38 92h1M71 92h1M16 93h1M20 93h1M32 93h1M44 93h1M53 94h1M72 95h1M22 96h1M25 96h1M55 97h1M49 98h1M77 98h1M59 100h1M24 101h1M39 101h1M84 101h1M26 102h1M0 104h1M9 104h1M37 104h1M45 109h1M63 110h1M78 110h1M68 112h1M85 112h1"/><path stroke="#5c167f" d="M22 24h1M76 24h1M55 25h1M80 25h1M33 26h1M35 26h1M38 26h1M42 26h1M3 27h1M13 27h1M57 27h1M4 28h1M14 28h1M17 28h1M19 29h1M66 29h1M69 29h1M82 29h1M14 30h1M41 30h1M49 30h1M56 30h1M77 30h1M11 31h1M13 31h1M45 31h1M4 32h1M10 32h1M19 32h1M28 32h1M2 34h1M5 34h1M71 34h1M79 34h1M20 47h1M15 52h1M5 53h1M11 53h1M63 53h1M31 54h1M70 54h1M83 55h1M23 56h1M57 56h1M54 57h1M76 57h1M43 58h1M42 59h1M69 59h2M72 59h1M72 61h1M78 61h1M83 61h1M35 63h1M68 63h1M26 69h1M13 70h1M72 70h1M3 71h1M31 71h1M65 71h1M13 72h1M56 72h1M0 73h1M54 73h1M35 74h1M37 74h1M10 75h1M0 76h1M3 76h1M51 76h1M74 76h1M81 77h1M0 78h1M49 78h2M39 80h1M64 80h1M17 82h1M29 85h1M10 86h1M12 86h1M31 86h1M12 87h1M37 87h1M68 87h1M56 88h1M19 89h1M81 89h1M81 91h1M28 93h1M55 94h1M69 95h1M2 96h1M32 96h1M85 97h1M42 98h1M63 98h1M29 99h1M54 100h1M77 100h2M27 101h1M43 101h1M77 101h1M82 101h1M8 104h1M85 105h1M15 107h1M43 107h1M75 107h1M62 108h1M43 109h1M79 110h1M78 113h1"/><path stroke="#5d177f" d="M86 22h1M65 23h1M72 23h1M7 25h1M39 25h1M43 25h1M48 25h1M49 26h1M54 26h1M65 27h1M69 27h1M15 28h2M32 28h1M41 28h1M51 28h1M69 28h1M0 29h1M18 29h1M29 30h1M60 30h1M4 31h2M80 31h1M32 32h1M64 32h1M67 32h1M32 33h2M86 33h1M10 34h1M78 34h1M15 35h1M31 36h1M8 47h1M21 47h1M6 54h1M14 56h1M56 56h1M2 57h1M30 58h1M67 58h1M76 58h1M71 59h1M83 59h1M51 60h1M83 60h1M84 61h1M75 62h1M71 63h1M75 63h1M30 68h1M44 69h1M59 69h1M15 70h1M2 71h1M22 71h1M54 71h1M82 71h1M38 73h1M85 73h1M45 74h1M63 74h1M70 74h1M78 74h1M38 75h2M75 76h1M83 76h1M86 76h1M50 77h1M65 77h1M65 78h1M78 78h1M40 80h1M11 81h1M24 81h1M65 82h1M5 83h1M15 84h1M28 90h1M20 91h2M3 92h1M12 94h1M15 95h1M82 95h1M82 97h1M42 101h1M77 102h1M32 103h1M46 103h2M47 106h1M14 107h1M45 107h1M25 108h1M73 108h1M44 109h1"/><path stroke="#5f187f" d="M85 22h1M70 24h1M4 25h1M45 25h2M65 25h1M69 25h1M71 25h1M77 26h1M56 27h1M64 27h1M10 28h1M52 28h1M67 28h1M27 29h1M57 29h1M57 30h1M10 31h1M12 31h1M44 31h1M79 31h1M2 32h1M18 32h1M14 35h1M12 36h1M23 53h1M75 53h1M9 54h1M11 54h1M22 54h1M32 54h1M2 55h1M21 55h1M23 55h1M59 55h1M9 56h1M12 56h1M18 56h1M50 56h1M3 57h1M48 57h1M81 57h1M13 58h1M73 58h2M8 59h1M29 59h1M67 59h1M1 60h1M5 60h1M7 61h1M63 61h1M69 62h2M81 62h1M85 62h1M18 64h1M79 65h1M56 66h1M19 68h1M29 68h1M20 69h1M58 69h1M6 70h1M62 71h1M36 72h1M69 72h1M77 72h1M31 73h1M58 73h1M15 74h1M43 74h1M32 75h1M83 75h1M30 76h1M37 77h1M41 77h1M13 79h1M80 80h1M32 82h1M63 82h2M29 84h1M32 86h1M34 86h1M76 86h2M75 88h1M45 90h1M7 91h1M37 92h1M62 92h1M70 92h1M46 94h1M71 94h2M70 95h1M23 97h1M19 99h1M85 100h1M30 101h1M26 103h1M27 104h1M74 104h1M49 105h1M61 107h1M42 109h1M85 109h1M33 110h1"/><path stroke="#601880" d="M1 23h1M19 23h1M4 24h1M83 24h1M63 25h1M47 26h1M64 26h1M42 27h1M74 27h1M28 28h1M42 28h1M15 29h1M22 29h2M76 29h1M41 31h1M43 31h1M22 32h1M81 33h1M22 34h2M84 52h1M51 57h2M14 58h2M36 59h1M74 59h2M2 60h1M36 60h1M62 60h1M26 62h1M80 62h1M86 62h1M83 63h2M30 65h1M62 66h1M22 67h1M35 69h1M45 69h1M68 69h1M5 70h1M26 71h1M49 71h1M53 72h2M26 73h1M44 74h1M41 75h1M4 76h1M28 76h1M44 76h1M9 77h1M44 77h1M54 77h1M58 78h1M85 78h1M4 80h1M26 80h1M78 80h1M81 80h1M8 81h1M57 81h1M30 82h1M55 82h1M84 82h1M86 83h1M1 85h1M8 86h1M11 86h1M51 86h1M73 89h1M72 90h1M35 91h1M77 91h1M48 92h1M43 93h1M0 98h1M34 100h1M76 101h1M81 103h1M10 104h1M26 104h1M50 106h1M13 107h1M62 107h1M13 108h1M10 110h1M69 112h1"/><path stroke="#621980" d="M2 24h1M20 24h1M38 25h1M42 25h1M4 26h1M21 26h1M72 26h1M86 27h1M39 28h2M4 29h1M4 30h1M72 30h1M62 31h1M64 31h1M74 31h1M1 32h1M0 34h1M5 40h1M50 55h1M53 55h1M79 55h1M86 55h1M5 56h1M77 56h1M6 57h1M78 58h1M9 59h1M45 59h1M59 59h1M65 59h1M68 59h1M3 60h1M35 60h1M48 60h1M40 61h1M86 61h1M48 62h1M58 66h1M23 67h1M65 67h1M13 68h1M25 68h1M28 69h1M14 70h1M40 70h1M51 70h1M36 71h1M44 71h1M81 71h1M9 72h1M61 72h1M25 73h1M37 73h1M16 74h1M12 75h1M37 75h1M38 76h1M12 81h1M2 82h1M27 82h1M30 84h1M4 85h1M84 85h1M48 87h1M19 91h1M41 93h1M79 93h1M56 98h1M64 98h1M86 99h1M29 101h1M48 105h1M63 108h1M64 110h1M14 112h1"/><path stroke="#641a80" d="M75 23h1M28 25h1M47 25h1M49 25h1M45 26h1M79 26h1M73 27h1M9 28h1M3 31h1M40 31h1M73 31h1M11 34h1M22 53h1M76 53h1M19 54h1M7 55h1M52 55h1M52 56h1M53 57h1M82 57h1M1 58h1M5 58h1M48 58h1M50 58h1M66 58h1M12 59h3M22 59h1M0 60h1M3 61h2M41 62h1M68 62h1M38 63h1M56 63h1M74 63h1M21 65h1M8 66h1M15 66h1M21 66h1M66 66h1M81 66h1M25 67h1M20 68h1M40 68h1M49 69h1M10 71h1M27 71h1M30 71h1M53 71h1M45 72h1M76 72h1M2 73h1M44 73h1M67 73h1M73 74h1M8 75h2M6 76h1M10 76h1M69 76h1M55 77h1M9 78h1M76 78h2M81 78h1M3 80h1M79 80h1M33 82h1M67 82h2M41 83h1M6 85h1M38 90h1M15 96h1M78 96h1M24 97h1M41 98h1M18 99h1M81 100h1M16 101h1M65 102h1M78 103h1M46 105h2M12 108h1"/><path stroke="#651a80" d="M18 23h1M1 24h1M79 24h1M84 24h1M9 26h1M49 27h1M61 27h1M33 28h1M86 29h1M6 30h2M12 30h1M30 31h1M42 31h1M70 31h1M15 34h1M23 54h1M17 56h1M19 56h2M14 57h1M2 58h1M23 59h1M38 59h1M48 59h1M66 59h1M34 60h1M77 60h1M1 61h1M36 62h1M38 62h1M42 62h1M82 63h1M24 67h1M68 67h1M27 68h1M48 68h1M81 68h1M3 69h1M29 69h1M50 69h1M66 69h1M50 70h1M29 71h1M10 72h2M41 72h1M44 72h1M75 73h1M82 73h1M33 74h1M71 74h2M29 76h1M81 76h1M73 77h1M28 82h1M69 83h1M13 84h1M20 84h1M50 86h1M85 87h1M62 89h1M42 93h1M3 96h1M16 96h1M22 97h1M0 99h1M25 101h1M86 104h1M51 106h1M1 109h1M4 109h1M48 119h1"/><path stroke="#671b80" d="M29 25h1M54 25h1M41 26h1M76 26h1M78 26h1M1 27h1M6 27h1M22 28h1M29 28h1M45 29h2M5 30h1M42 30h1M69 30h1M86 30h1M0 31h1M22 31h1M38 31h1M3 32h1M11 32h1M24 33h1M82 33h1M13 54h1M20 54h1M53 54h1M56 54h1M17 55h1M54 55h1M34 56h1M50 57h1M12 58h1M49 58h1M62 58h1M72 58h1M25 59h1M17 60h1M49 60h1M56 60h1M33 62h1M43 66h1M61 66h1M20 67h1M67 67h1M28 68h1M51 68h1M80 68h1M15 69h1M55 69h1M70 69h1M48 70h1M71 70h1M86 70h1M7 71h1M8 72h1M1 73h1M59 73h1M68 73h1M38 74h1M64 74h1M11 75h1M67 75h1M16 76h1M37 76h1M85 76h1M7 81h1M14 84h1M0 85h1M85 85h1M77 90h1M78 91h1M55 92h1M7 93h1M17 93h1M0 96h1M34 96h1M30 100h1M86 101h1M45 106h1M2 108h1M16 112h1"/><path stroke="#681c81" d="M5 24h1M49 24h1M70 25h1M8 26h1M19 26h1M68 26h1M85 26h1M54 27h1M71 28h1M81 28h1M28 29h1M64 29h1M2 30h1M12 32h1M1 34h1M15 54h1M22 55h1M11 56h1M13 57h1M0 58h1M77 58h1M63 59h1M10 60h1M85 61h1M27 62h1M44 62h1M76 62h1M59 63h1M73 63h1M67 64h1M81 64h1M32 65h1M81 65h1M57 66h1M59 66h1M21 67h1M52 67h1M49 68h1M19 69h1M46 69h1M61 70h1M83 70h1M6 71h1M33 72h1M43 72h1M65 73h1M71 73h1M83 74h1M5 76h1M82 76h1M12 79h1M37 88h2M55 88h1M77 88h1M64 89h1M22 91h1M33 96h1M86 100h1M59 103h1M77 103h1"/><path stroke="#6a1c81" d="M4 23h1M8 25h1M44 25h1M64 25h1M20 26h1M57 26h1M12 27h1M13 28h1M66 28h1M73 28h1M3 30h1M55 30h1M75 30h1M2 31h1M7 31h1M28 31h1M57 31h1M67 31h1M72 31h1M66 32h1M12 34h1M10 54h1M12 55h1M16 56h1M27 56h1M15 57h1M64 59h1M9 60h1M18 60h1M52 60h1M63 60h1M2 61h1M0 62h1M25 62h1M39 63h1M57 63h1M76 63h1M63 64h1M74 64h1M84 64h1M29 65h1M42 65h1M3 66h1M36 66h1M67 66h1M64 67h1M9 68h1M83 68h1M7 70h1M10 70h1M66 70h1M16 71h1M25 71h1M37 71h1M12 72h1M64 72h1M1 74h1M42 74h1M71 75h1M73 75h1M15 76h1M40 77h1M82 78h1M0 80h1M25 80h1M29 82h1M31 88h1M79 91h1M85 101h1"/><path stroke="#6b1d81" d="M50 26h1M23 28h1M68 28h1M0 30h1M65 30h1M76 30h1M24 31h1M39 31h1M71 32h1M4 54h2M25 57h1M3 58h1M29 58h1M63 58h1M10 59h2M43 59h1M31 60h1M6 61h1M36 61h1M39 61h1M64 61h1M77 61h1M1 62h1M20 63h1M22 63h1M72 63h1M66 64h1M83 64h1M11 65h1M57 65h1M82 66h1M81 67h1M31 68h1M78 68h1M27 69h1M36 69h1M24 71h1M64 71h1M31 72h1M40 72h1M36 73h1M74 74h1M85 75h1M54 76h1M75 78h1M86 85h1M83 97h1M15 101h1"/><path stroke="#6d1d81" d="M73 23h1M72 25h1M46 26h1M80 26h1M72 27h1M3 28h1M72 28h1M82 28h1M63 31h1M13 34h1M24 34h1M74 53h1M57 54h1M3 55h1M55 55h1M8 60h1M77 62h1M21 63h1M35 64h1M42 64h1M82 64h1M9 65h1M20 65h1M41 65h1M55 65h1M16 66h1M35 66h1M38 66h1M44 67h1M83 67h1M53 68h1M63 68h1M43 69h1M60 69h1M67 69h1M24 70h1M49 70h1M67 70h1M4 71h1M83 71h1M4 72h1M39 72h1M30 73h1M32 73h1M76 74h1M79 74h1M72 75h1M74 75h1M0 77h1M38 77h1M3 78h1M67 87h1M22 88h1M86 89h1M69 90h1M71 90h1M84 97h1M31 100h1M66 110h1M76 110h1"/><path stroke="#6e1e81" d="M21 24h1M85 24h1M40 26h1M2 27h1M70 27h1M7 28h1M11 28h2M65 28h1M65 32h1M85 57h1M49 59h1M6 60h1M11 60h1M5 61h1M29 61h1M44 63h1M60 63h1M40 64h1M54 64h1M64 64h1M69 64h2M78 64h1M10 65h1M58 65h1M20 66h1M37 66h1M45 66h1M63 66h1M83 66h1M46 67h1M82 67h1M66 68h1M4 69h2M9 69h1M39 69h1M47 69h1M61 69h1M26 70h1M39 70h1M46 70h1M80 70h1M23 71h1M35 71h1M43 71h1M48 71h1M63 71h1M32 72h1M45 73h1M66 73h1M80 73h1M39 74h1M66 75h1M70 75h1M56 76h1M5 78h1M3 95h1"/><path stroke="#701f81" d="M6 24h1M74 25h1M65 26h1M11 27h1M8 28h1M62 29h1M68 29h1M64 30h1M55 31h1M19 55h1M80 55h1M82 55h1M49 57h1M10 58h1M15 59h1M78 60h1M9 61h1M14 61h1M16 61h1M43 61h1M28 62h1M43 62h1M67 62h1M79 62h1M82 62h1M17 63h1M58 63h1M1 64h1M15 64h2M1 66h1M76 66h1M80 66h1M69 67h1M8 68h1M44 68h1M54 68h1M47 70h1M5 71h1M7 72h1M27 73h1M68 75h1M77 75h1M2 76h1M76 88h1M80 91h1"/><path stroke="#721f81" d="M5 23h1M52 26h1M55 26h2M71 27h1M8 30h1M61 30h1M70 30h1M56 31h1M0 32h1M35 32h1M20 55h1M51 55h1M51 56h1M51 58h1M37 59h1M55 60h1M57 60h1M79 60h1M28 61h1M83 62h1M61 63h1M67 63h1M85 63h1M65 64h1M73 64h1M40 65h1M51 65h1M9 66h1M39 66h1M42 66h1M75 66h1M9 67h1M45 67h1M21 68h1M39 68h1M46 68h2M55 68h1M84 68h1M11 69h1M30 69h1M34 69h1M65 69h1M79 70h1M69 71h1M80 71h1M68 72h1M75 72h1M78 72h1M76 73h1M34 74h1M81 74h2M75 75h1M85 77h1M73 81h1M5 85h1M86 87h1M63 89h1"/><path stroke="#732081" d="M0 23h1M6 23h1M73 25h1M1 30h1M1 31h1M23 31h1M29 31h1M17 57h1M6 58h1M17 58h1M0 59h1M13 61h1M15 61h1M18 61h1M73 61h1M37 62h1M10 64h1M20 64h1M68 64h1M71 64h1M80 64h1M17 65h1M59 65h1M10 67h2M53 67h1M59 67h1M52 68h1M56 68h1M75 68h1M51 69h1M56 69h1M27 70h1M28 73h1M33 73h1M81 73h1M40 74h1M78 75h1M1 76h1M70 77h1M72 78h1M72 81h1M32 88h1M44 107h1"/><path stroke="#752181" d="M39 26h1M10 27h1M55 27h1M1 28h2M63 29h1M67 29h1M71 31h1M33 32h1M16 57h1M11 58h1M28 58h1M57 58h1M64 58h1M26 59h1M54 60h1M27 61h1M44 61h1M4 62h1M24 62h1M53 62h1M78 62h1M29 63h1M86 63h1M59 64h1M23 65h1M73 65h1M4 66h1M29 66h1M34 66h1M29 67h1M49 67h1M82 68h1M54 69h1M57 69h1M9 70h1M41 70h1M75 70h1M78 70h1M46 71h1M34 73h1M69 75h1M26 101h1M65 110h1M75 110h1"/><path stroke="#762181" d="M67 26h1M9 31h1M65 58h1M44 60h1M53 60h1M58 61h1M76 61h1M3 62h1M49 62h1M61 62h1M11 64h1M19 64h1M58 64h1M62 64h1M72 64h1M79 64h1M74 65h1M84 66h1M6 67h1M8 67h1M27 67h1M60 67h1M70 67h2M84 67h1M45 68h1M59 68h1M69 68h1M16 69h1M8 70h1M70 70h1M72 71h1M5 72h2M70 72h1M75 74h1M23 88h1"/><path stroke="#782281" d="M0 24h1M51 26h1M0 28h1M68 31h1M18 55h1M81 55h1M12 57h1M9 58h1M25 58h1M5 59h1M28 60h1M58 60h1M31 61h1M75 61h1M2 62h1M14 62h1M30 62h1M62 62h1M4 63h1M64 63h1M4 64h1M6 64h1M34 64h1M39 64h1M53 64h1M56 64h1M61 64h1M8 65h1M27 65h1M17 66h1M22 66h1M60 66h1M15 67h1M18 67h1M61 67h1M63 67h1M62 68h1M74 68h1M2 69h1M0 70h1M82 70h1M47 71h1M77 73h1M84 74h1M70 90h1"/><path stroke="#792282" d="M74 23h1M86 24h1M8 31h1M14 34h1M3 54h1M56 55h1M16 58h1M19 58h1M24 58h1M7 59h1M19 60h1M12 61h1M37 61h2M66 61h1M63 62h1M3 63h1M51 63h1M41 64h1M44 64h1M3 65h1M12 65h1M38 65h1M46 65h1M54 65h1M84 65h1M47 66h1M64 66h1M7 67h1M17 67h1M19 67h1M47 67h1M58 67h1M72 67h1M80 67h1M12 68h1M64 68h1M77 68h1M42 70h1M73 70h1M84 70h1M42 71h1M34 72h1M35 73h1M82 75h1M55 76h1M39 77h1M3 109h1"/><path stroke="#7b2382" d="M66 26h1M7 27h1M3 29h1M11 30h1M34 32h1M14 55h1M8 58h1M18 58h1M47 59h1M57 61h1M18 63h1M81 63h1M21 64h1M43 64h1M60 64h1M52 65h1M67 65h1M78 65h1M46 66h1M48 66h1M1 67h1M16 67h1M48 67h1M74 67h1M58 68h1M60 68h1M70 68h1M32 69h1M62 69h1M64 69h1M31 70h1M45 71h1M65 72h1M74 72h1M83 72h1M86 72h1M78 73h1M65 75h1M86 75h1M71 77h1"/><path stroke="#7c2382" d="M3 56h1M86 57h1M52 58h1M46 59h1M50 59h2M7 60h1M27 60h1M45 61h1M13 62h1M59 62h1M7 63h1M14 64h1M55 64h1M4 65h1M16 65h1M26 65h1M5 66h1M14 66h1M18 66h1M30 66h1M40 66h1M65 66h1M74 66h1M73 67h1M0 68h1M4 68h1M61 68h1M73 68h1M75 69h1M25 70h1M76 70h1M38 71h1M73 71h1M66 72h1M73 78h2M1 83h1M46 106h1M2 109h1"/><path stroke="#7e2482" d="M12 29h1M71 30h1M69 31h1M4 56h1M28 59h1M15 60h1M65 61h1M74 61h1M52 62h1M34 63h1M62 63h2M45 64h1M85 64h1M24 65h1M37 65h1M53 65h1M68 65h1M72 65h1M31 66h1M50 66h2M77 66h1M28 67h1M57 67h1M41 68h1M43 68h1M68 68h1M76 68h1M31 69h1M63 69h1M43 70h1M65 70h1M78 71h1M72 72h1M69 73h1M72 77h1M15 112h1"/><path stroke="#802582" d="M63 27h1M1 29h2M14 54h1M13 55h1M24 57h1M47 61h2M64 62h1M19 63h1M54 63h2M22 64h1M36 64h1M38 64h1M47 64h1M57 64h1M0 65h1M33 65h1M70 66h1M2 67h1M3 68h1M16 68h1M79 68h1M71 69h1M28 70h1M38 70h1M44 70h1M68 70h1M74 70h1M77 70h1M73 72h1M70 73h1"/><path stroke="#812581" d="M62 27h1M63 30h1M26 58h1M21 59h1M16 60h1M43 60h1M11 61h1M58 62h1M6 63h1M29 64h1M46 64h1M15 65h1M39 65h1M63 65h1M85 65h1M33 66h1M55 66h1M78 66h1M62 67h1M65 68h1M67 68h1M10 69h1M80 69h1M32 70h1M77 71h1M71 72h1M29 73h1M86 77h1M4 78h1M86 78h1M70 83h1"/><path stroke="#832681" d="M11 29h1M7 57h1M21 58h1M53 58h1M56 59h1M26 61h1M11 62h2M54 62h1M57 62h1M5 64h1M9 64h1M13 64h1M24 64h1M77 64h1M18 65h1M25 65h1M45 65h1M2 66h1M68 66h1M14 68h1M42 68h1M57 68h1M53 69h1M69 70h1M81 70h1M41 74h1M76 75h1"/><path stroke="#842681" d="M9 27h1M11 57h1M21 57h1M20 58h1M17 59h1M52 59h1M29 60h1M30 61h1M56 61h1M51 62h1M60 62h1M65 62h2M50 63h1M77 63h1M7 64h1M27 64h1M75 64h1M28 65h1M32 66h1M79 66h1M13 67h2M30 67h1M38 68h1M72 68h1M1 69h1M37 69h1M52 69h1M37 70h1M62 70h1M35 72h1M67 72h1M82 72h1"/><path stroke="#862781" d="M62 30h1M22 57h1M58 59h1M14 60h1M20 60h1M15 62h1M22 62h1M65 63h1M26 64h1M37 64h1M48 64h1M86 64h1M47 65h1M66 65h1M11 66h1M19 66h1M12 67h1M34 67h1M43 67h1M32 68h1M34 68h1M34 70h1"/><path stroke="#882781" d="M58 55h1M8 57h1M6 59h1M18 59h1M27 59h1M53 59h1M32 62h1M56 62h1M33 63h1M45 63h1M12 64h1M23 64h1M33 64h1M1 65h1M5 65h1M43 65h1M71 65h1M10 66h1M69 66h1M71 66h1M71 68h1M72 69h1M76 69h1M41 71h1"/><path stroke="#892881" d="M8 27h1M10 30h1M57 55h1M18 57h1M7 58h1M57 59h1M30 60h1M19 61h1M46 61h1M5 62h1M23 62h1M5 63h1M30 63h1M2 65h1M35 65h2M50 65h1M49 66h1M85 66h1M35 67h1M75 67h1M79 73h1"/><path stroke="#8b2981" d="M19 57h1M12 60h1M22 61h1M49 61h1M50 62h1M2 63h1M53 63h1M7 65h1M13 65h1M19 65h1M77 65h1M23 66h1M40 67h1M78 69h1M85 70h1M74 71h1M76 71h1M80 72h1"/><path stroke="#8c2981" d="M9 30h1M10 57h1M27 58h1M13 60h1M21 60h1M8 63h1M13 63h1M66 63h1M25 64h1M28 64h1M6 65h1M34 65h1M44 65h1M83 65h1M86 65h1M28 66h1M0 67h1M86 67h1M1 68h1M7 68h1M37 68h1M33 69h1M74 69h1M45 70h1M64 70h1"/><path stroke="#8e2a81" d="M54 58h1M56 58h1M26 60h1M10 61h1M17 62h1M23 63h1M52 63h1M82 65h1M13 66h1M24 66h1M41 66h1M73 66h1M3 67h1M36 67h1M11 68h1M33 68h1M38 69h1M30 70h1M71 71h1M86 71h1M84 72h1"/><path stroke="#902a81" d="M19 59h1M50 61h1M19 62h1M28 63h1M47 63h1M62 65h1M64 65h1M75 65h1M86 66h1M42 67h1M85 67h1M10 68h1M73 69h1M36 70h1M79 71h1"/><path stroke="#912b81" d="M16 59h1M51 61h1M9 62h1M31 62h1M9 63h1M12 63h1M6 68h1M15 68h1M79 69h1M81 69h1M35 70h1M63 70h1M81 75h1"/><path stroke="#932b80" d="M54 59h2M10 62h1M31 63h1M0 64h1M8 64h1M49 64h1M60 65h1M69 65h1M72 66h1M79 67h1M36 68h1M39 71h1M70 71h1M81 72h1"/><path stroke="#942c80" d="M23 57h1M18 62h1M32 63h1M48 63h2M80 63h1M70 65h1M12 66h1M37 67h1M41 67h1M5 68h1M33 70h1M40 71h1M75 71h1M84 71h1M80 75h1"/><path stroke="#962c80" d="M9 57h1M20 57h1M1 63h1M16 63h1M30 64h1M52 64h1M76 64h1M14 65h1M85 68h2M86 69h1M79 72h1"/><path stroke="#982d80" d="M22 58h1M55 58h1M22 60h1M21 61h1M46 63h1M32 64h1M26 66h2M5 67h1M83 69h1"/><path stroke="#992d80" d="M27 63h1M78 63h1M31 64h1M76 65h1M77 69h1M84 69h1M0 83h1"/><path stroke="#9b2e7f" d="M20 61h1M16 62h1M20 62h1M48 65h1M25 66h1M0 69h1M79 75h1"/><path stroke="#9c2e7f" d="M55 62h1M49 65h1M61 65h1M65 65h1M52 66h1M54 66h1M78 67h1M35 68h1M86 74h1"/><path stroke="#9e2f7f" d="M52 61h2M6 62h1M8 62h1M21 62h1"/><path stroke="#a02f7f" d="M23 58h1M20 59h1M24 61h2M55 61h1M11 63h1M79 63h1M31 67h1M76 67h1M85 72h1"/><path stroke="#a1307e" d="M23 61h1M54 61h1M24 63h1M51 64h1M39 67h1M29 70h1M85 74h1"/><path stroke="#a3307e" d="M50 64h1M33 67h1"/><path stroke="#a5317e" d="M10 63h1M53 66h1M2 68h1"/><path stroke="#a6317d" d="M24 60h2M14 63h1M26 63h1"/><path stroke="#a8327d" d="M0 63h1M38 67h1"/><path stroke="#aa337d" d="M23 60h1M7 62h1M25 63h1"/><path stroke="#ab337c" d="M4 67h1M32 67h1M82 69h1M85 69h1"/><path stroke="#ad347c" d="M15 63h1"/><path stroke="#b0357b" d="M77 67h1"/><path stroke="#b73779" d="M85 71h1"/><path stroke="#fc8c63" d="M33 9h50"/><path stroke="#fc8e64" d="M30 9h3M83 9h3"/><path stroke="#fc9065" d="M28 9h2M86 9h1"/><path stroke="#fd9266" d="M27 9h1"/><path stroke="#fd9467" d="M22 9h5"/><path stroke="#fd9668" d="M0 9h22"/><path stroke="#febd82" d="M0 1h87"/><path stroke="#fcf7b9" d="M32 8h52"/><path stroke="#fcf9bb" d="M36 7h43M29 8h3M84 8h3"/><path stroke="#fcfbbd" d="M30 6h56M27 7h9M79 7h8M26 8h3"/><path stroke="#fcfdbf" d="M0 2h87M0 3h87M0 4h87M0 5h87M0 6h30M86 6h1M0 7h27M0 8h26M0 146h87M0 147h87M0 148h87M0 149h87"/></g><rect x="128" y="8" width="944" height="15.00" fill="#fcfdbf"/><rect x="128" y="471.5" width="944" height="3.25" fill="#030312"/><rect x="128" y="474.75" width="944" height="13.25" fill="#fcfdbf"/><rect x="128" y="588.4" width="944" height="5.40" fill="#19103f"/><rect x="128" y="593.8" width="944" height="2.20" fill="#f7705c"/><rect x="128" y="596" width="944" height="20.50" fill="#fcfdbf"/><rect x="128" y="616.5" width="944" height="3.00" fill="#feb77e"/><rect x="128" y="619.5" width="944" height="1.50" fill="#7e2482"/><rect x="128" y="1052.5" width="944" height="3.00" fill="#030312"/><rect x="128" y="1055.5" width="944" height="12.90" fill="#fcfdbf"/><defs><linearGradient id="magma" x1="0" y1="0" x2="0" y2="1"><stop offset="0" stop-color="#fcfdbf"/><stop offset="0.06" stop-color="#fde2a3"/><stop offset="0.12" stop-color="#fec488"/><stop offset="0.19" stop-color="#fea772"/><stop offset="0.25" stop-color="#fc8961"/><stop offset="0.31" stop-color="#f56b5c"/><stop offset="0.38" stop-color="#e75263"/><stop offset="0.44" stop-color="#d0416f"/><stop offset="0.5" stop-color="#b73779"/><stop offset="0.56" stop-color="#9c2e7f"/><stop offset="0.62" stop-color="#832681"/><stop offset="0.69" stop-color="#6a1c81"/><stop offset="0.75" stop-color="#51127c"/><stop offset="0.81" stop-color="#36106b"/><stop offset="0.88" stop-color="#1d1147"/><stop offset="0.94" stop-color="#0a0822"/><stop offset="1" stop-color="#000004"/></linearGradient><clipPath id="clipB30"><rect x="1100" y="588.4" width="100" height="30"/></clipPath></defs><text x="1.5" y="51.8" font-size="55" text-anchor="start" fill="#000" style="font-family:'Liberation Serif'" font-weight="bold">A</text><text x="2.2" y="632.3" font-size="55" text-anchor="start" fill="#000" style="font-family:'Liberation Serif'" font-weight="bold">B</text><text x="2" y="1230" font-size="56" text-anchor="start" fill="#000" style="font-family:'Liberation Serif'" font-weight="bold">C</text><rect x="128" y="8" width="944" height="480" fill="none" stroke="#2a2a2a" stroke-width="1.3"/><text x="121" y="31.2" font-size="20" text-anchor="end" fill="#1a1a1a">0</text><text x="121" y="107.2" font-size="20" text-anchor="end" fill="#1a1a1a">10</text><text x="121" y="183.2" font-size="20" text-anchor="end" fill="#1a1a1a">20</text><text x="121" y="259.2" font-size="20" text-anchor="end" fill="#1a1a1a">30</text><text x="121" y="335.2" font-size="20" text-anchor="end" fill="#1a1a1a">40</text><text x="121" y="411.2" font-size="20" text-anchor="end" fill="#1a1a1a">50</text><text x="121" y="487.2" font-size="20" text-anchor="end" fill="#1a1a1a">60</text><text transform="translate(89 248) rotate(-90)" font-size="22.2" text-anchor="middle" fill="#1a1a1a">Depth (m)</text><text transform="translate(139.2 510.4) rotate(-30)" font-size="20" text-anchor="end" fill="#1a1a1a">05/01/22-13:10</text><text transform="translate(206.5 510.4) rotate(-30)" font-size="20" text-anchor="end" fill="#1a1a1a">13:20</text><text transform="translate(273.8 510.4) rotate(-30)" font-size="20" text-anchor="end" fill="#1a1a1a">13:30</text><text transform="translate(341.1 510.4) rotate(-30)" font-size="20" text-anchor="end" fill="#1a1a1a">13:40</text><text transform="translate(408.4 510.4) rotate(-30)" font-size="20" text-anchor="end" fill="#1a1a1a">13:50</text><text transform="translate(475.7 510.4) rotate(-30)" font-size="20" text-anchor="end" fill="#1a1a1a">14:00</text><text transform="translate(543 510.4) rotate(-30)" font-size="20" text-anchor="end" fill="#1a1a1a">14:10</text><text transform="translate(610.3 510.4) rotate(-30)" font-size="20" text-anchor="end" fill="#1a1a1a">14:20</text><text transform="translate(677.6 510.4) rotate(-30)" font-size="20" text-anchor="end" fill="#1a1a1a">14:30</text><text transform="translate(744.9 510.4) rotate(-30)" font-size="20" text-anchor="end" fill="#1a1a1a">14:40</text><text transform="translate(812.2 510.4) rotate(-30)" font-size="20" text-anchor="end" fill="#1a1a1a">14:50</text><text transform="translate(879.5 510.4) rotate(-30)" font-size="20" text-anchor="end" fill="#1a1a1a">15:00</text><text transform="translate(946.8 510.4) rotate(-30)" font-size="20" text-anchor="end" fill="#1a1a1a">15:10</text><text transform="translate(1014.1 510.4) rotate(-30)" font-size="20" text-anchor="end" fill="#1a1a1a">15:20</text><text transform="translate(1081.4 510.4) rotate(-30)" font-size="20" text-anchor="end" fill="#1a1a1a">15:30</text><rect x="1097.5" y="8" width="25.8" height="477.6" fill="url(#magma)" stroke="#555" stroke-width="0.8"/><text x="1130.5" y="14.8" font-size="19" text-anchor="start" fill="#1a1a1a">-30</text><line x1="1118.8" y1="87.6" x2="1123.3" y2="87.6" stroke="#444" stroke-width="1"/><text x="1130.5" y="94.4" font-size="19" text-anchor="start" fill="#1a1a1a">-40</text><line x1="1118.8" y1="167.2" x2="1123.3" y2="167.2" stroke="#444" stroke-width="1"/><text x="1130.5" y="174" font-size="19" text-anchor="start" fill="#1a1a1a">-50</text><line x1="1118.8" y1="246.8" x2="1123.3" y2="246.8" stroke="#444" stroke-width="1"/><text x="1130.5" y="253.6" font-size="19" text-anchor="start" fill="#1a1a1a">-60</text><line x1="1118.8" y1="326.4" x2="1123.3" y2="326.4" stroke="#444" stroke-width="1"/><text x="1130.5" y="333.2" font-size="19" text-anchor="start" fill="#1a1a1a">-70</text><line x1="1118.8" y1="406" x2="1123.3" y2="406" stroke="#444" stroke-width="1"/><text x="1130.5" y="412.8" font-size="19" text-anchor="start" fill="#1a1a1a">-80</text><text x="1130.5" y="492.4" font-size="19" text-anchor="start" fill="#1a1a1a">-90</text><text transform="translate(1187.7 246.8) rotate(-90)" font-size="20.5" text-anchor="middle" fill="#1a1a1a">S<tspan font-size="14" dy="5">v</tspan><tspan dy="-5"> (dB re 1m</tspan><tspan font-size="14" dy="-9">-1</tspan><tspan dy="9">)</tspan></text><rect x="128" y="588.4" width="944" height="480" fill="none" stroke="#2a2a2a" stroke-width="1.3"/><text x="121" y="611.2" font-size="20" text-anchor="end" fill="#1a1a1a">0</text><text x="121" y="687.2" font-size="20" text-anchor="end" fill="#1a1a1a">10</text><text x="121" y="763.2" font-size="20" text-anchor="end" fill="#1a1a1a">20</text><text x="121" y="839.2" font-size="20" text-anchor="end" fill="#1a1a1a">30</text><text x="121" y="915.2" font-size="20" text-anchor="end" fill="#1a1a1a">40</text><text x="121" y="991.2" font-size="20" text-anchor="end" fill="#1a1a1a">50</text><text x="121" y="1067.2" font-size="20" text-anchor="end" fill="#1a1a1a">60</text><text transform="translate(89 828.4) rotate(-90)" font-size="22.2" text-anchor="middle" fill="#1a1a1a">Depth (m)</text><text transform="translate(225 1092) rotate(-30)" font-size="20" text-anchor="end" fill="#1a1a1a">05/05/22-11:50</text><text transform="translate(331.7 1092) rotate(-30)" font-size="20" text-anchor="end" fill="#1a1a1a">12:00</text><text transform="translate(438.4 1092) rotate(-30)" font-size="20" text-anchor="end" fill="#1a1a1a">12:10</text><text transform="translate(545.1 1092) rotate(-30)" font-size="20" text-anchor="end" fill="#1a1a1a">12:20</text><text transform="translate(651.8 1092) rotate(-30)" font-size="20" text-anchor="end" fill="#1a1a1a">12:30</text><text transform="translate(758.5 1092) rotate(-30)" font-size="20" text-anchor="end" fill="#1a1a1a">12:40</text><text transform="translate(865.2 1092) rotate(-30)" font-size="20" text-anchor="end" fill="#1a1a1a">12:50</text><text transform="translate(971.9 1092) rotate(-30)" font-size="20" text-anchor="end" fill="#1a1a1a">13:00</text><text transform="translate(1078.6 1092) rotate(-30)" font-size="20" text-anchor="end" fill="#1a1a1a">13:10</text><rect x="1097.5" y="588.4" width="25.8" height="477.6" fill="url(#magma)" stroke="#555" stroke-width="0.8"/><g clip-path="url(#clipB30)"><text x="1130.5" y="595.2" font-size="19" text-anchor="start" fill="#1a1a1a">-30</text></g><line x1="1118.8" y1="668" x2="1123.3" y2="668" stroke="#444" stroke-width="1"/><text x="1130.5" y="674.8" font-size="19" text-anchor="start" fill="#1a1a1a">-40</text><line x1="1118.8" y1="747.6" x2="1123.3" y2="747.6" stroke="#444" stroke-width="1"/><text x="1130.5" y="754.4" font-size="19" text-anchor="start" fill="#1a1a1a">-50</text><line x1="1118.8" y1="827.2" x2="1123.3" y2="827.2" stroke="#444" stroke-width="1"/><text x="1130.5" y="834" font-size="19" text-anchor="start" fill="#1a1a1a">-60</text><line x1="1118.8" y1="906.8" x2="1123.3" y2="906.8" stroke="#444" stroke-width="1"/><text x="1130.5" y="913.6" font-size="19" text-anchor="start" fill="#1a1a1a">-70</text><line x1="1118.8" y1="986.4" x2="1123.3" y2="986.4" stroke="#444" stroke-width="1"/><text x="1130.5" y="993.2" font-size="19" text-anchor="start" fill="#1a1a1a">-80</text><text x="1130.5" y="1072.8" font-size="19" text-anchor="start" fill="#1a1a1a">-90</text><text transform="translate(1187.7 827.2) rotate(-90)" font-size="20.5" text-anchor="middle" fill="#1a1a1a">S<tspan font-size="14" dy="5">v</tspan><tspan dy="-5"> (dB re 1m</tspan><tspan font-size="14" dy="-9">-1</tspan><tspan dy="9">)</tspan></text><text x="600" y="1186.3" font-size="22" text-anchor="middle" fill="#111">Time (HH:MM)</text><path d="M128 1192.7V1628.2H1070" fill="none" stroke="#1f1f1f" stroke-width="2"/><line x1="123" y1="1220" x2="128" y2="1220" stroke="#1f1f1f" stroke-width="1.6"/><text x="120" y="1227.5" font-size="21" text-anchor="end" fill="#262626">10</text><line x1="123" y1="1300" x2="128" y2="1300" stroke="#1f1f1f" stroke-width="1.6"/><text x="120" y="1307.5" font-size="21" text-anchor="end" fill="#262626">15</text><line x1="123" y1="1380" x2="128" y2="1380" stroke="#1f1f1f" stroke-width="1.6"/><text x="120" y="1387.5" font-size="21" text-anchor="end" fill="#262626">20</text><line x1="123" y1="1460" x2="128" y2="1460" stroke="#1f1f1f" stroke-width="1.6"/><text x="120" y="1467.5" font-size="21" text-anchor="end" fill="#262626">25</text><line x1="123" y1="1540" x2="128" y2="1540" stroke="#1f1f1f" stroke-width="1.6"/><text x="120" y="1547.5" font-size="21" text-anchor="end" fill="#262626">30</text><line x1="123" y1="1620" x2="128" y2="1620" stroke="#1f1f1f" stroke-width="1.6"/><text x="120" y="1627.5" font-size="21" text-anchor="end" fill="#262626">35</text><line x1="183.4" y1="1628" x2="183.4" y2="1633" stroke="#1f1f1f" stroke-width="1.6"/><line x1="275.68" y1="1628" x2="275.68" y2="1633" stroke="#1f1f1f" stroke-width="1.6"/><line x1="367.96" y1="1628" x2="367.96" y2="1633" stroke="#1f1f1f" stroke-width="1.6"/><line x1="460.24" y1="1628" x2="460.24" y2="1633" stroke="#1f1f1f" stroke-width="1.6"/><line x1="552.52" y1="1628" x2="552.52" y2="1633" stroke="#1f1f1f" stroke-width="1.6"/><line x1="644.8" y1="1628" x2="644.8" y2="1633" stroke="#1f1f1f" stroke-width="1.6"/><line x1="737.08" y1="1628" x2="737.08" y2="1633" stroke="#1f1f1f" stroke-width="1.6"/><line x1="829.36" y1="1628" x2="829.36" y2="1633" stroke="#1f1f1f" stroke-width="1.6"/><line x1="921.64" y1="1628" x2="921.64" y2="1633" stroke="#1f1f1f" stroke-width="1.6"/><line x1="1013.92" y1="1628" x2="1013.92" y2="1633" stroke="#1f1f1f" stroke-width="1.6"/><text transform="translate(69.4 1396.9) rotate(-90)" font-size="27.6" text-anchor="middle" fill="#111">Centre of mass (m)</text><path d="M128 1649V2111.5H1070" fill="none" stroke="#1f1f1f" stroke-width="2"/><line x1="123" y1="1651.25" x2="128" y2="1651.25" stroke="#1f1f1f" stroke-width="1.6"/><text x="120" y="1658.75" font-size="21" text-anchor="end" fill="#262626">0</text><line x1="123" y1="1735.25" x2="128" y2="1735.25" stroke="#1f1f1f" stroke-width="1.6"/><text x="120" y="1742.75" font-size="21" text-anchor="end" fill="#262626">100</text><line x1="123" y1="1819.25" x2="128" y2="1819.25" stroke="#1f1f1f" stroke-width="1.6"/><text x="120" y="1826.75" font-size="21" text-anchor="end" fill="#262626">200</text><line x1="123" y1="1903.25" x2="128" y2="1903.25" stroke="#1f1f1f" stroke-width="1.6"/><text x="120" y="1910.75" font-size="21" text-anchor="end" fill="#262626">300</text><line x1="123" y1="1987.25" x2="128" y2="1987.25" stroke="#1f1f1f" stroke-width="1.6"/><text x="120" y="1994.75" font-size="21" text-anchor="end" fill="#262626">400</text><line x1="123" y1="2071.25" x2="128" y2="2071.25" stroke="#1f1f1f" stroke-width="1.6"/><text x="120" y="2078.75" font-size="21" text-anchor="end" fill="#262626">500</text><line x1="183.4" y1="2111.5" x2="183.4" y2="2116.5" stroke="#1f1f1f" stroke-width="1.6"/><text transform="translate(190.4 2132.5) rotate(-30)" font-size="21.2" text-anchor="end" fill="#262626">&lt;500m</text><line x1="275.68" y1="2111.5" x2="275.68" y2="2116.5" stroke="#1f1f1f" stroke-width="1.6"/><text transform="translate(282.68 2132.5) rotate(-30)" font-size="21.2" text-anchor="end" fill="#262626">500-1000m</text><line x1="367.96" y1="2111.5" x2="367.96" y2="2116.5" stroke="#1f1f1f" stroke-width="1.6"/><text transform="translate(374.96 2132.5) rotate(-30)" font-size="21.2" text-anchor="end" fill="#262626">1000-2000m</text><line x1="460.24" y1="2111.5" x2="460.24" y2="2116.5" stroke="#1f1f1f" stroke-width="1.6"/><text transform="translate(467.24 2132.5) rotate(-30)" font-size="21.2" text-anchor="end" fill="#262626">2000-3000m</text><line x1="552.52" y1="2111.5" x2="552.52" y2="2116.5" stroke="#1f1f1f" stroke-width="1.6"/><text transform="translate(559.52 2132.5) rotate(-30)" font-size="21.2" text-anchor="end" fill="#262626">3000-4000m</text><line x1="644.8" y1="2111.5" x2="644.8" y2="2116.5" stroke="#1f1f1f" stroke-width="1.6"/><text transform="translate(651.8 2132.5) rotate(-30)" font-size="21.2" text-anchor="end" fill="#262626">4000-5000m</text><line x1="737.08" y1="2111.5" x2="737.08" y2="2116.5" stroke="#1f1f1f" stroke-width="1.6"/><text transform="translate(744.08 2132.5) rotate(-30)" font-size="21.2" text-anchor="end" fill="#262626">5000-6000m</text><line x1="829.36" y1="2111.5" x2="829.36" y2="2116.5" stroke="#1f1f1f" stroke-width="1.6"/><text transform="translate(836.36 2132.5) rotate(-30)" font-size="21.2" text-anchor="end" fill="#262626">6000-7000m</text><line x1="921.64" y1="2111.5" x2="921.64" y2="2116.5" stroke="#1f1f1f" stroke-width="1.6"/><text transform="translate(928.64 2132.5) rotate(-30)" font-size="21.2" text-anchor="end" fill="#262626">7000-8000m</text><line x1="1013.92" y1="2111.5" x2="1013.92" y2="2116.5" stroke="#1f1f1f" stroke-width="1.6"/><text transform="translate(1020.92 2132.5) rotate(-30)" font-size="21.2" text-anchor="end" fill="#262626">8000-9000m</text><text transform="translate(69.6 1880.7) rotate(-90)" font-size="27.8" text-anchor="middle" fill="#111">Inertia (m<tspan font-size="19.5" dy="-12">−2</tspan><tspan dy="12">)</tspan></text><text x="599" y="2219.5" font-size="27" text-anchor="middle" fill="#111" textLength="200" lengthAdjust="spacing">Distance interval</text><line x1="166" y1="1280" x2="166" y2="1316.64" stroke="#1e1e1e" stroke-width="1.5"/><line x1="166" y1="1349.92" x2="166" y2="1394.4" stroke="#1e1e1e" stroke-width="1.5"/><rect x="150.7" y="1317.34" width="30.6" height="31.88" fill="#add8e6" stroke="#141414" stroke-width="1.4"/><line x1="150.7" y1="1334.08" x2="181.3" y2="1334.08" stroke="#141414" stroke-width="2.6"/><circle cx="166" cy="1400" r="3.3" fill="#2b2b2b"/><circle cx="166" cy="1410" r="3.3" fill="#2b2b2b"/><circle cx="166" cy="1426" r="3.3" fill="#2b2b2b"/><line x1="200.8" y1="1510" x2="200.8" y2="1536" stroke="#1e1e1e" stroke-width="1.5"/><line x1="200.8" y1="1556" x2="200.8" y2="1581.6" stroke="#1e1e1e" stroke-width="1.5"/><rect x="185.5" y="1536.7" width="30.6" height="18.6" fill="#999999" stroke="#141414" stroke-width="1.4"/><line x1="185.5" y1="1547.36" x2="216.1" y2="1547.36" stroke="#141414" stroke-width="2.6"/><circle cx="200.8" cy="1607.2" r="3.3" fill="#2b2b2b"/><line x1="166" y1="1693.25" x2="166" y2="1701.99" stroke="#1e1e1e" stroke-width="1.5"/><line x1="166" y1="1719.96" x2="166" y2="1740.79" stroke="#1e1e1e" stroke-width="1.5"/><rect x="150.7" y="1702.69" width="30.6" height="16.58" fill="#add8e6" stroke="#141414" stroke-width="1.4"/><line x1="150.7" y1="1709.63" x2="181.3" y2="1709.63" stroke="#141414" stroke-width="2.6"/><circle cx="166" cy="1670.4" r="3.3" fill="#2b2b2b"/><circle cx="166" cy="1745.83" r="3.3" fill="#2b2b2b"/><circle cx="166" cy="1757.93" r="3.3" fill="#2b2b2b"/><line x1="200.8" y1="1715.43" x2="200.8" y2="1735.84" stroke="#1e1e1e" stroke-width="1.5"/><line x1="200.8" y1="1760.45" x2="200.8" y2="1795.39" stroke="#1e1e1e" stroke-width="1.5"/><rect x="185.5" y="1736.54" width="30.6" height="23.21" fill="#999999" stroke="#141414" stroke-width="1.4"/><line x1="185.5" y1="1750.03" x2="216.1" y2="1750.03" stroke="#141414" stroke-width="2.6"/><circle cx="200.8" cy="1806.99" r="3.3" fill="#2b2b2b"/><circle cx="200.8" cy="1845.29" r="3.3" fill="#2b2b2b"/><line x1="258.28" y1="1316" x2="258.28" y2="1337.28" stroke="#1e1e1e" stroke-width="1.5"/><line x1="258.28" y1="1363.04" x2="258.28" y2="1391.68" stroke="#1e1e1e" stroke-width="1.5"/><rect x="242.98" y="1337.98" width="30.6" height="24.36" fill="#add8e6" stroke="#141414" stroke-width="1.4"/><line x1="242.98" y1="1358.4" x2="273.58" y2="1358.4" stroke="#141414" stroke-width="2.6"/><line x1="293.08" y1="1528.32" x2="293.08" y2="1541.6" stroke="#1e1e1e" stroke-width="1.5"/><line x1="293.08" y1="1563.36" x2="293.08" y2="1578.4" stroke="#1e1e1e" stroke-width="1.5"/><rect x="277.78" y="1542.3" width="30.6" height="20.36" fill="#999999" stroke="#141414" stroke-width="1.4"/><line x1="277.78" y1="1554.4" x2="308.38" y2="1554.4" stroke="#141414" stroke-width="2.6"/><line x1="258.28" y1="1692.91" x2="258.28" y2="1700.81" stroke="#1e1e1e" stroke-width="1.5"/><line x1="258.28" y1="1715.01" x2="258.28" y2="1732.48" stroke="#1e1e1e" stroke-width="1.5"/><rect x="242.98" y="1701.51" width="30.6" height="12.8" fill="#add8e6" stroke="#141414" stroke-width="1.4"/><line x1="242.98" y1="1707.03" x2="273.58" y2="1707.03" stroke="#141414" stroke-width="2.6"/><line x1="293.08" y1="1725.42" x2="293.08" y2="1733.74" stroke="#1e1e1e" stroke-width="1.5"/><line x1="293.08" y1="1748.35" x2="293.08" y2="1762.97" stroke="#1e1e1e" stroke-width="1.5"/><rect x="277.78" y="1734.44" width="30.6" height="13.22" fill="#999999" stroke="#141414" stroke-width="1.4"/><line x1="277.78" y1="1744.15" x2="308.38" y2="1744.15" stroke="#141414" stroke-width="2.6"/><circle cx="293.08" cy="1769.19" r="3.3" fill="#2b2b2b"/><circle cx="293.08" cy="1774.23" r="3.3" fill="#2b2b2b"/><circle cx="293.08" cy="1792.54" r="3.3" fill="#2b2b2b"/><circle cx="293.08" cy="1796.74" r="3.3" fill="#2b2b2b"/><circle cx="293.08" cy="1799.59" r="3.3" fill="#2b2b2b"/><line x1="350.56" y1="1364" x2="350.56" y2="1379.36" stroke="#1e1e1e" stroke-width="1.5"/><line x1="350.56" y1="1446.72" x2="350.56" y2="1484" stroke="#1e1e1e" stroke-width="1.5"/><rect x="335.26" y="1380.06" width="30.6" height="65.96" fill="#add8e6" stroke="#141414" stroke-width="1.4"/><line x1="335.26" y1="1410" x2="365.86" y2="1410" stroke="#141414" stroke-width="2.6"/><line x1="385.36" y1="1537.28" x2="385.36" y2="1554.4" stroke="#1e1e1e" stroke-width="1.5"/><line x1="385.36" y1="1571.04" x2="385.36" y2="1595.04" stroke="#1e1e1e" stroke-width="1.5"/><rect x="370.06" y="1555.1" width="30.6" height="15.24" fill="#999999" stroke="#141414" stroke-width="1.4"/><line x1="370.06" y1="1560" x2="400.66" y2="1560" stroke="#141414" stroke-width="2.6"/><circle cx="385.36" cy="1398.72" r="3.3" fill="#2b2b2b"/><circle cx="385.36" cy="1442" r="3.3" fill="#2b2b2b"/><circle cx="385.36" cy="1495.68" r="3.3" fill="#2b2b2b"/><line x1="350.56" y1="1697.87" x2="350.56" y2="1712.91" stroke="#1e1e1e" stroke-width="1.5"/><line x1="350.56" y1="1753.73" x2="350.56" y2="1807.49" stroke="#1e1e1e" stroke-width="1.5"/><rect x="335.26" y="1713.61" width="30.6" height="39.42" fill="#add8e6" stroke="#141414" stroke-width="1.4"/><line x1="335.26" y1="1729.2" x2="365.86" y2="1729.2" stroke="#141414" stroke-width="2.6"/><line x1="385.36" y1="1746.17" x2="385.36" y2="1774.14" stroke="#1e1e1e" stroke-width="1.5"/><line x1="385.36" y1="1824.21" x2="385.36" y2="1869.15" stroke="#1e1e1e" stroke-width="1.5"/><rect x="370.06" y="1774.84" width="30.6" height="48.66" fill="#999999" stroke="#141414" stroke-width="1.4"/><line x1="370.06" y1="1788.76" x2="400.66" y2="1788.76" stroke="#141414" stroke-width="2.6"/><circle cx="385.36" cy="1929.12" r="3.3" fill="#2b2b2b"/><line x1="442.84" y1="1331.68" x2="442.84" y2="1363.36" stroke="#1e1e1e" stroke-width="1.5"/><line x1="442.84" y1="1431.68" x2="442.84" y2="1469.6" stroke="#1e1e1e" stroke-width="1.5"/><rect x="427.54" y="1364.06" width="30.6" height="66.92" fill="#add8e6" stroke="#141414" stroke-width="1.4"/><line x1="427.54" y1="1381.28" x2="458.14" y2="1381.28" stroke="#141414" stroke-width="2.6"/><line x1="477.64" y1="1336" x2="477.64" y2="1452.64" stroke="#1e1e1e" stroke-width="1.5"/><line x1="477.64" y1="1543.2" x2="477.64" y2="1563.36" stroke="#1e1e1e" stroke-width="1.5"/><rect x="462.34" y="1453.34" width="30.6" height="89.16" fill="#999999" stroke="#141414" stroke-width="1.4"/><line x1="462.34" y1="1512.64" x2="492.94" y2="1512.64" stroke="#141414" stroke-width="2.6"/><circle cx="477.64" cy="1222.72" r="3.3" fill="#2b2b2b"/><line x1="442.84" y1="1705.43" x2="442.84" y2="1722.48" stroke="#1e1e1e" stroke-width="1.5"/><line x1="442.84" y1="1747.01" x2="442.84" y2="1767.93" stroke="#1e1e1e" stroke-width="1.5"/><rect x="427.54" y="1723.18" width="30.6" height="23.13" fill="#add8e6" stroke="#141414" stroke-width="1.4"/><line x1="427.54" y1="1731.64" x2="458.14" y2="1731.64" stroke="#141414" stroke-width="2.6"/><circle cx="442.84" cy="1786.99" r="3.3" fill="#2b2b2b"/><line x1="477.64" y1="1730.38" x2="477.64" y2="1744.49" stroke="#1e1e1e" stroke-width="1.5"/><line x1="477.64" y1="1863.77" x2="477.64" y2="1961.71" stroke="#1e1e1e" stroke-width="1.5"/><rect x="462.34" y="1745.19" width="30.6" height="117.88" fill="#999999" stroke="#141414" stroke-width="1.4"/><line x1="462.34" y1="1777.5" x2="492.94" y2="1777.5" stroke="#141414" stroke-width="2.6"/><circle cx="477.64" cy="2048.57" r="3.3" fill="#2b2b2b"/><circle cx="477.64" cy="2090.82" r="3.3" fill="#2b2b2b"/><line x1="535.12" y1="1322.4" x2="535.12" y2="1349.28" stroke="#1e1e1e" stroke-width="1.5"/><line x1="535.12" y1="1376" x2="535.12" y2="1388" stroke="#1e1e1e" stroke-width="1.5"/><rect x="519.82" y="1349.98" width="30.6" height="25.32" fill="#add8e6" stroke="#141414" stroke-width="1.4"/><line x1="519.82" y1="1359.2" x2="550.42" y2="1359.2" stroke="#141414" stroke-width="2.6"/><circle cx="535.12" cy="1307.36" r="3.3" fill="#2b2b2b"/><circle cx="535.12" cy="1475.36" r="3.3" fill="#2b2b2b"/><line x1="569.92" y1="1410" x2="569.92" y2="1486.72" stroke="#1e1e1e" stroke-width="1.5"/><line x1="569.92" y1="1545.28" x2="569.92" y2="1564.96" stroke="#1e1e1e" stroke-width="1.5"/><rect x="554.62" y="1487.42" width="30.6" height="57.16" fill="#999999" stroke="#141414" stroke-width="1.4"/><line x1="554.62" y1="1534" x2="585.22" y2="1534" stroke="#141414" stroke-width="2.6"/><circle cx="569.92" cy="1303.68" r="3.3" fill="#2b2b2b"/><circle cx="569.92" cy="1373.28" r="3.3" fill="#2b2b2b"/><line x1="535.12" y1="1705.68" x2="535.12" y2="1723.32" stroke="#1e1e1e" stroke-width="1.5"/><line x1="535.12" y1="1748.35" x2="535.12" y2="1770.03" stroke="#1e1e1e" stroke-width="1.5"/><rect x="519.82" y="1724.02" width="30.6" height="23.63" fill="#add8e6" stroke="#141414" stroke-width="1.4"/><line x1="519.82" y1="1738.36" x2="550.42" y2="1738.36" stroke="#141414" stroke-width="2.6"/><circle cx="535.12" cy="1883.34" r="3.3" fill="#2b2b2b"/><line x1="569.92" y1="1717.36" x2="569.92" y2="1736.68" stroke="#1e1e1e" stroke-width="1.5"/><line x1="569.92" y1="1793.38" x2="569.92" y2="1820.01" stroke="#1e1e1e" stroke-width="1.5"/><rect x="554.62" y="1737.38" width="30.6" height="55.3" fill="#999999" stroke="#141414" stroke-width="1.4"/><line x1="554.62" y1="1747.35" x2="585.22" y2="1747.35" stroke="#141414" stroke-width="2.6"/><circle cx="569.92" cy="1889.31" r="3.3" fill="#2b2b2b"/><circle cx="569.92" cy="1918.37" r="3.3" fill="#2b2b2b"/><circle cx="569.92" cy="1964.32" r="3.3" fill="#2b2b2b"/><line x1="627.4" y1="1306.72" x2="627.4" y2="1322.72" stroke="#1e1e1e" stroke-width="1.5"/><line x1="627.4" y1="1354" x2="627.4" y2="1377.6" stroke="#1e1e1e" stroke-width="1.5"/><rect x="612.1" y="1323.42" width="30.6" height="29.88" fill="#add8e6" stroke="#141414" stroke-width="1.4"/><line x1="612.1" y1="1331.04" x2="642.7" y2="1331.04" stroke="#141414" stroke-width="2.6"/><circle cx="627.4" cy="1568.32" r="3.3" fill="#2b2b2b"/><line x1="662.2" y1="1530" x2="662.2" y2="1539.36" stroke="#1e1e1e" stroke-width="1.5"/><line x1="662.2" y1="1552.32" x2="662.2" y2="1555.68" stroke="#1e1e1e" stroke-width="1.5"/><rect x="646.9" y="1540.06" width="30.6" height="11.56" fill="#999999" stroke="#141414" stroke-width="1.4"/><line x1="646.9" y1="1545.6" x2="677.5" y2="1545.6" stroke="#141414" stroke-width="2.6"/><circle cx="662.2" cy="1515.68" r="3.3" fill="#2b2b2b"/><line x1="627.4" y1="1703.33" x2="627.4" y2="1709.38" stroke="#1e1e1e" stroke-width="1.5"/><line x1="627.4" y1="1741.3" x2="627.4" y2="1776.66" stroke="#1e1e1e" stroke-width="1.5"/><rect x="612.1" y="1710.08" width="30.6" height="30.52" fill="#add8e6" stroke="#141414" stroke-width="1.4"/><line x1="612.1" y1="1720.63" x2="642.7" y2="1720.63" stroke="#141414" stroke-width="2.6"/><circle cx="627.4" cy="2020.85" r="3.3" fill="#2b2b2b"/><line x1="662.2" y1="1719.29" x2="662.2" y2="1735" stroke="#1e1e1e" stroke-width="1.5"/><line x1="662.2" y1="1753.65" x2="662.2" y2="1764.31" stroke="#1e1e1e" stroke-width="1.5"/><rect x="646.9" y="1735.7" width="30.6" height="17.25" fill="#999999" stroke="#141414" stroke-width="1.4"/><line x1="646.9" y1="1739.37" x2="677.5" y2="1739.37" stroke="#141414" stroke-width="2.6"/><line x1="719.68" y1="1332.96" x2="719.68" y2="1344" stroke="#1e1e1e" stroke-width="1.5"/><line x1="719.68" y1="1364" x2="719.68" y2="1394.4" stroke="#1e1e1e" stroke-width="1.5"/><rect x="704.38" y="1344.7" width="30.6" height="18.6" fill="#add8e6" stroke="#141414" stroke-width="1.4"/><line x1="704.38" y1="1351.2" x2="734.98" y2="1351.2" stroke="#141414" stroke-width="2.6"/><circle cx="719.68" cy="1260.32" r="3.3" fill="#2b2b2b"/><line x1="754.48" y1="1532.32" x2="754.48" y2="1553.28" stroke="#1e1e1e" stroke-width="1.5"/><line x1="754.48" y1="1600" x2="754.48" y2="1607.2" stroke="#1e1e1e" stroke-width="1.5"/><rect x="739.18" y="1553.98" width="30.6" height="45.32" fill="#999999" stroke="#141414" stroke-width="1.4"/><line x1="739.18" y1="1568.32" x2="769.78" y2="1568.32" stroke="#141414" stroke-width="2.6"/><line x1="719.68" y1="1696.02" x2="719.68" y2="1702.32" stroke="#1e1e1e" stroke-width="1.5"/><line x1="719.68" y1="1725.67" x2="719.68" y2="1740.04" stroke="#1e1e1e" stroke-width="1.5"/><rect x="704.38" y="1703.02" width="30.6" height="21.95" fill="#add8e6" stroke="#141414" stroke-width="1.4"/><line x1="704.38" y1="1712.32" x2="734.98" y2="1712.32" stroke="#141414" stroke-width="2.6"/><circle cx="719.68" cy="1762.63" r="3.3" fill="#2b2b2b"/><circle cx="719.68" cy="1781.37" r="3.3" fill="#2b2b2b"/><line x1="754.48" y1="1712.65" x2="754.48" y2="1752.97" stroke="#1e1e1e" stroke-width="1.5"/><line x1="754.48" y1="1780.36" x2="754.48" y2="1811.02" stroke="#1e1e1e" stroke-width="1.5"/><rect x="739.18" y="1753.67" width="30.6" height="25.98" fill="#999999" stroke="#141414" stroke-width="1.4"/><line x1="739.18" y1="1768.35" x2="769.78" y2="1768.35" stroke="#141414" stroke-width="2.6"/><line x1="811.96" y1="1316.64" x2="811.96" y2="1335.2" stroke="#1e1e1e" stroke-width="1.5"/><line x1="811.96" y1="1350.24" x2="811.96" y2="1356.64" stroke="#1e1e1e" stroke-width="1.5"/><rect x="796.66" y="1335.9" width="30.6" height="13.64" fill="#add8e6" stroke="#141414" stroke-width="1.4"/><line x1="796.66" y1="1340.32" x2="827.26" y2="1340.32" stroke="#141414" stroke-width="2.6"/><circle cx="811.96" cy="1379.68" r="3.3" fill="#2b2b2b"/><line x1="846.76" y1="1516" x2="846.76" y2="1545.6" stroke="#1e1e1e" stroke-width="1.5"/><line x1="846.76" y1="1588.64" x2="846.76" y2="1606.72" stroke="#1e1e1e" stroke-width="1.5"/><rect x="831.46" y="1546.3" width="30.6" height="41.64" fill="#999999" stroke="#141414" stroke-width="1.4"/><line x1="831.46" y1="1570" x2="862.06" y2="1570" stroke="#141414" stroke-width="2.6"/><line x1="811.96" y1="1692.66" x2="811.96" y2="1698.29" stroke="#1e1e1e" stroke-width="1.5"/><line x1="811.96" y1="1712.99" x2="811.96" y2="1733.99" stroke="#1e1e1e" stroke-width="1.5"/><rect x="796.66" y="1698.99" width="30.6" height="13.3" fill="#add8e6" stroke="#141414" stroke-width="1.4"/><line x1="796.66" y1="1702.66" x2="827.26" y2="1702.66" stroke="#141414" stroke-width="2.6"/><line x1="846.76" y1="1736.68" x2="846.76" y2="1758.35" stroke="#1e1e1e" stroke-width="1.5"/><line x1="846.76" y1="1806.31" x2="846.76" y2="1838.99" stroke="#1e1e1e" stroke-width="1.5"/><rect x="831.46" y="1759.05" width="30.6" height="46.56" fill="#999999" stroke="#141414" stroke-width="1.4"/><line x1="831.46" y1="1781.37" x2="862.06" y2="1781.37" stroke="#141414" stroke-width="2.6"/><line x1="904.24" y1="1336.64" x2="904.24" y2="1341.28" stroke="#1e1e1e" stroke-width="1.5"/><line x1="904.24" y1="1371.68" x2="904.24" y2="1386.72" stroke="#1e1e1e" stroke-width="1.5"/><rect x="888.94" y="1341.98" width="30.6" height="29" fill="#add8e6" stroke="#141414" stroke-width="1.4"/><line x1="888.94" y1="1348.96" x2="919.54" y2="1348.96" stroke="#141414" stroke-width="2.6"/><circle cx="904.24" cy="1480" r="3.3" fill="#2b2b2b"/><line x1="939.04" y1="1508.32" x2="939.04" y2="1526" stroke="#1e1e1e" stroke-width="1.5"/><line x1="939.04" y1="1547.36" x2="939.04" y2="1567.36" stroke="#1e1e1e" stroke-width="1.5"/><rect x="923.74" y="1526.7" width="30.6" height="19.96" fill="#999999" stroke="#141414" stroke-width="1.4"/><line x1="923.74" y1="1535.04" x2="954.34" y2="1535.04" stroke="#141414" stroke-width="2.6"/><circle cx="939.04" cy="1580" r="3.3" fill="#2b2b2b"/><line x1="904.24" y1="1696.02" x2="904.24" y2="1707.7" stroke="#1e1e1e" stroke-width="1.5"/><line x1="904.24" y1="1732.31" x2="904.24" y2="1759.02" stroke="#1e1e1e" stroke-width="1.5"/><rect x="888.94" y="1708.4" width="30.6" height="23.21" fill="#add8e6" stroke="#141414" stroke-width="1.4"/><line x1="888.94" y1="1716.01" x2="919.54" y2="1716.01" stroke="#141414" stroke-width="2.6"/><line x1="939.04" y1="1746.67" x2="939.04" y2="1765.99" stroke="#1e1e1e" stroke-width="1.5"/><line x1="939.04" y1="1780.69" x2="939.04" y2="1790.02" stroke="#1e1e1e" stroke-width="1.5"/><rect x="923.74" y="1766.69" width="30.6" height="13.3" fill="#999999" stroke="#141414" stroke-width="1.4"/><line x1="923.74" y1="1771.62" x2="954.34" y2="1771.62" stroke="#141414" stroke-width="2.6"/><circle cx="939.04" cy="1815.97" r="3.3" fill="#2b2b2b"/><line x1="1013.92" y1="1520.96" x2="1013.92" y2="1529.28" stroke="#1e1e1e" stroke-width="1.5"/><line x1="1013.92" y1="1540.96" x2="1013.92" y2="1553.28" stroke="#1e1e1e" stroke-width="1.5"/><rect x="983.12" y="1529.98" width="61.6" height="10.28" fill="#999999" stroke="#141414" stroke-width="1.4"/><line x1="983.12" y1="1536" x2="1044.72" y2="1536" stroke="#141414" stroke-width="2.6"/><circle cx="1013.92" cy="1482" r="3.3" fill="#2b2b2b"/><circle cx="1013.92" cy="1511.04" r="3.3" fill="#2b2b2b"/><circle cx="1013.92" cy="1566" r="3.3" fill="#2b2b2b"/><circle cx="1013.92" cy="1570.4" r="3.3" fill="#2b2b2b"/><circle cx="1013.92" cy="1591.04" r="3.3" fill="#2b2b2b"/><line x1="1013.92" y1="1756" x2="1013.92" y2="1772.38" stroke="#1e1e1e" stroke-width="1.5"/><line x1="1013.92" y1="1795.65" x2="1013.92" y2="1799.93" stroke="#1e1e1e" stroke-width="1.5"/><rect x="983.12" y="1773.08" width="61.6" height="21.87" fill="#999999" stroke="#141414" stroke-width="1.4"/><line x1="983.12" y1="1781.37" x2="1044.72" y2="1781.37" stroke="#141414" stroke-width="2.6"/><circle cx="1013.92" cy="1856.04" r="3.3" fill="#2b2b2b"/><text x="979" y="1259" font-size="26" text-anchor="start" fill="#111" textLength="216" lengthAdjust="spacing">Seismic approach</text><line x1="992.3" y1="1277.2" x2="992.3" y2="1298.7" stroke="#1e1e1e" stroke-width="1.4"/><rect x="982.6" y="1280.9" width="19.4" height="14.6" fill="#add8e6" stroke="#141414" stroke-width="1.4"/><line x1="982.5" y1="1288.2" x2="1001.5" y2="1288.2" stroke="#141414" stroke-width="2.2"/><text x="1019" y="1296.2" font-size="23" text-anchor="start" fill="#111" textLength="122" lengthAdjust="spacing">Approach 1</text><line x1="992.3" y1="1303.6" x2="992.3" y2="1325.1" stroke="#1e1e1e" stroke-width="1.4"/><rect x="982.6" y="1307.3" width="19.4" height="14.6" fill="#999999" stroke="#141414" stroke-width="1.4"/><line x1="982.5" y1="1314.6" x2="1001.5" y2="1314.6" stroke="#141414" stroke-width="2.2"/><text x="1019" y="1322.6" font-size="23" text-anchor="start" fill="#111" textLength="122" lengthAdjust="spacing">Approach 3</text></svg></body></html>
